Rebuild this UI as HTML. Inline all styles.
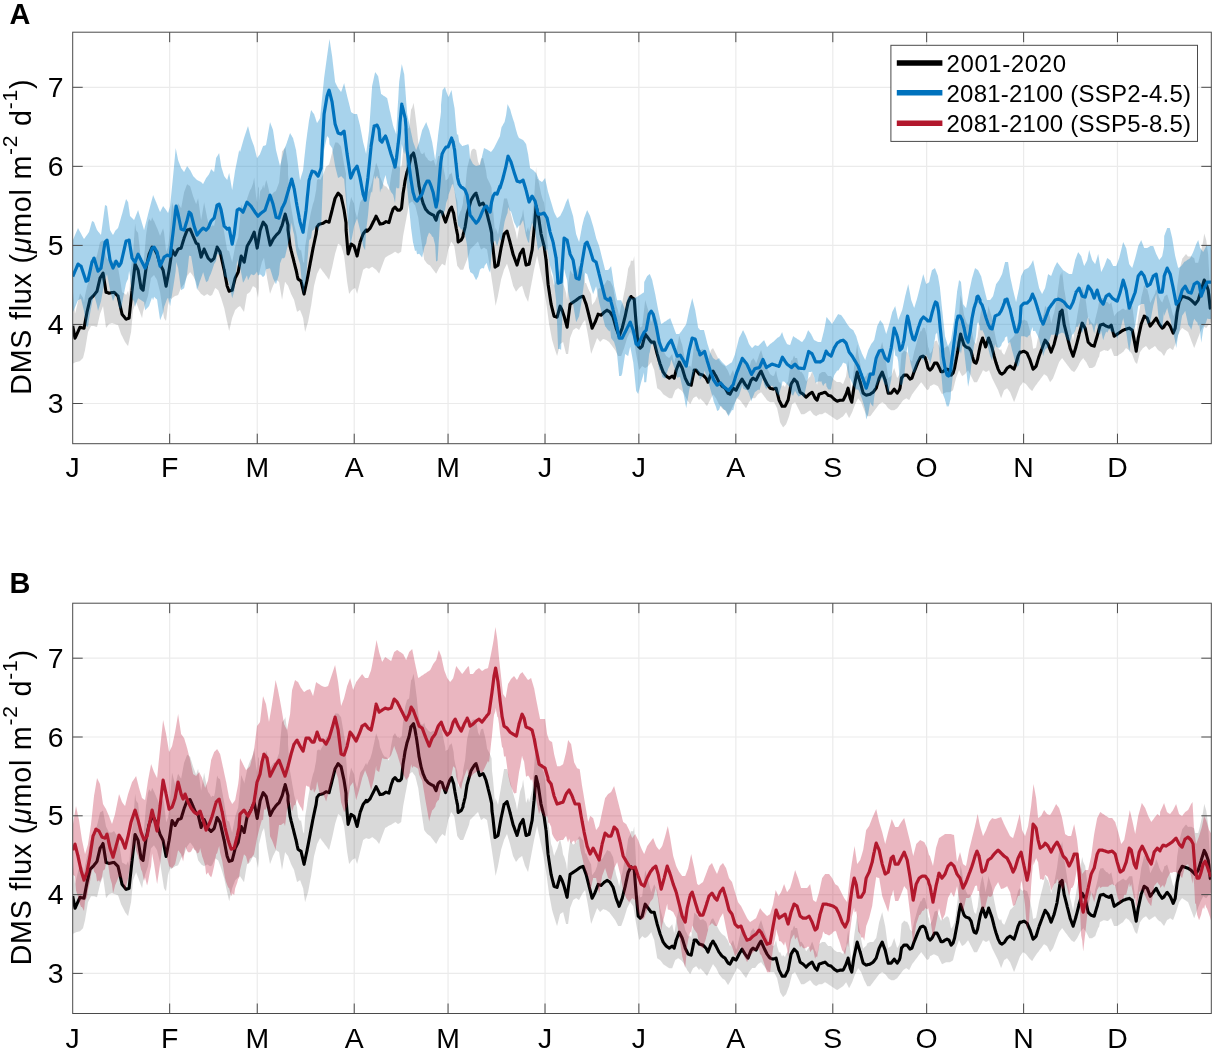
<!DOCTYPE html>
<html><head><meta charset="utf-8"><style>
html,body{margin:0;padding:0;background:#fff;}
svg{display:block;font-family:"Liberation Sans",sans-serif;will-change:transform;}
</style></head><body>
<svg width="1216" height="1049" viewBox="0 0 1216 1049">
<defs>
<clipPath id="ca"><rect x="72.7" y="32.2" width="1138.60" height="411.50"/></clipPath>
<clipPath id="cb"><rect x="72.7" y="603.2" width="1138.60" height="410.30"/></clipPath>
</defs>
<rect width="1216" height="1049" fill="#fff"/>
<text x="9.5" y="24" font-size="28.9" font-weight="bold">A</text>
<text x="9.5" y="592.7" font-size="28.9" font-weight="bold">B</text>
<line x1="169.67" y1="32.2" x2="169.67" y2="443.7" stroke="#ebebeb" stroke-width="1.2"/>
<line x1="257.25" y1="32.2" x2="257.25" y2="443.7" stroke="#ebebeb" stroke-width="1.2"/>
<line x1="354.22" y1="32.2" x2="354.22" y2="443.7" stroke="#ebebeb" stroke-width="1.2"/>
<line x1="448.06" y1="32.2" x2="448.06" y2="443.7" stroke="#ebebeb" stroke-width="1.2"/>
<line x1="545.03" y1="32.2" x2="545.03" y2="443.7" stroke="#ebebeb" stroke-width="1.2"/>
<line x1="638.87" y1="32.2" x2="638.87" y2="443.7" stroke="#ebebeb" stroke-width="1.2"/>
<line x1="735.84" y1="32.2" x2="735.84" y2="443.7" stroke="#ebebeb" stroke-width="1.2"/>
<line x1="832.81" y1="32.2" x2="832.81" y2="443.7" stroke="#ebebeb" stroke-width="1.2"/>
<line x1="926.65" y1="32.2" x2="926.65" y2="443.7" stroke="#ebebeb" stroke-width="1.2"/>
<line x1="1023.62" y1="32.2" x2="1023.62" y2="443.7" stroke="#ebebeb" stroke-width="1.2"/>
<line x1="1117.46" y1="32.2" x2="1117.46" y2="443.7" stroke="#ebebeb" stroke-width="1.2"/>
<line x1="72.7" y1="403.50" x2="1211.3" y2="403.50" stroke="#ebebeb" stroke-width="1.2"/>
<line x1="72.7" y1="324.45" x2="1211.3" y2="324.45" stroke="#ebebeb" stroke-width="1.2"/>
<line x1="72.7" y1="245.40" x2="1211.3" y2="245.40" stroke="#ebebeb" stroke-width="1.2"/>
<line x1="72.7" y1="166.35" x2="1211.3" y2="166.35" stroke="#ebebeb" stroke-width="1.2"/>
<line x1="72.7" y1="87.30" x2="1211.3" y2="87.30" stroke="#ebebeb" stroke-width="1.2"/>
<line x1="169.67" y1="603.2" x2="169.67" y2="1013.5" stroke="#ebebeb" stroke-width="1.2"/>
<line x1="257.25" y1="603.2" x2="257.25" y2="1013.5" stroke="#ebebeb" stroke-width="1.2"/>
<line x1="354.22" y1="603.2" x2="354.22" y2="1013.5" stroke="#ebebeb" stroke-width="1.2"/>
<line x1="448.06" y1="603.2" x2="448.06" y2="1013.5" stroke="#ebebeb" stroke-width="1.2"/>
<line x1="545.03" y1="603.2" x2="545.03" y2="1013.5" stroke="#ebebeb" stroke-width="1.2"/>
<line x1="638.87" y1="603.2" x2="638.87" y2="1013.5" stroke="#ebebeb" stroke-width="1.2"/>
<line x1="735.84" y1="603.2" x2="735.84" y2="1013.5" stroke="#ebebeb" stroke-width="1.2"/>
<line x1="832.81" y1="603.2" x2="832.81" y2="1013.5" stroke="#ebebeb" stroke-width="1.2"/>
<line x1="926.65" y1="603.2" x2="926.65" y2="1013.5" stroke="#ebebeb" stroke-width="1.2"/>
<line x1="1023.62" y1="603.2" x2="1023.62" y2="1013.5" stroke="#ebebeb" stroke-width="1.2"/>
<line x1="1117.46" y1="603.2" x2="1117.46" y2="1013.5" stroke="#ebebeb" stroke-width="1.2"/>
<line x1="72.7" y1="973.40" x2="1211.3" y2="973.40" stroke="#ebebeb" stroke-width="1.2"/>
<line x1="72.7" y1="894.60" x2="1211.3" y2="894.60" stroke="#ebebeb" stroke-width="1.2"/>
<line x1="72.7" y1="815.80" x2="1211.3" y2="815.80" stroke="#ebebeb" stroke-width="1.2"/>
<line x1="72.7" y1="737.00" x2="1211.3" y2="737.00" stroke="#ebebeb" stroke-width="1.2"/>
<line x1="72.7" y1="658.20" x2="1211.3" y2="658.20" stroke="#ebebeb" stroke-width="1.2"/>
<g clip-path="url(#ca)">
<polygon points="72.7,288.1 73.0,291.4 74.0,302.6 75.0,313.8 75.0,313.8 76.0,309.9 76.0,309.9 77.0,305.7 78.0,301.6 79.0,297.4 80.0,293.3 80.0,293.3 81.0,294.8 82.0,296.3 83.0,297.8 83.0,297.8 84.0,302.2 84.0,302.3 85.0,295.7 85.0,295.6 86.0,291.0 87.0,286.3 87.0,286.3 88.0,283.6 88.0,283.6 89.0,277.0 90.0,270.4 90.0,270.2 91.0,270.2 91.0,270.2 92.0,268.3 93.0,266.3 93.0,266.2 94.0,263.8 94.0,263.7 95.0,261.0 96.0,258.1 97.0,255.3 97.0,255.2 98.0,251.0 99.0,246.7 100.0,242.3 100.0,242.2 101.0,241.6 102.0,240.9 103.0,240.2 103.0,240.2 104.0,245.4 105.0,250.7 106.0,256.0 106.0,256.2 107.0,258.2 108.0,260.2 109.0,262.2 109.0,262.2 110.0,262.2 111.0,262.1 112.0,262.0 112.0,262.0 113.0,261.3 114.0,260.6 114.0,260.6 115.0,262.2 115.0,262.2 116.0,263.8 117.0,265.5 118.0,267.2 118.0,267.2 119.0,273.0 120.0,279.0 121.0,285.0 121.0,285.3 122.0,291.9 122.1,292.3 123.0,292.7 124.0,293.2 125.0,293.7 125.1,293.8 126.0,294.9 126.1,294.9 127.0,293.0 128.0,291.0 128.1,290.9 129.0,294.7 129.1,294.9 130.0,281.7 131.0,267.7 131.1,266.9 132.0,259.7 132.1,259.2 133.0,253.3 133.1,252.9 134.0,239.1 135.0,224.5 135.1,223.5 136.0,229.8 136.1,230.2 137.0,231.4 138.0,232.8 138.1,232.9 139.0,241.6 139.1,242.2 140.0,250.9 141.0,260.3 141.1,260.9 142.0,260.3 142.1,260.2 143.0,268.2 143.1,268.6 144.0,258.2 145.0,247.0 145.1,246.2 146.0,235.4 146.1,234.5 147.0,228.6 148.0,222.3 148.1,222.0 149.0,219.0 149.1,218.7 150.0,219.9 151.0,221.3 151.1,221.0 152.0,217.6 152.1,217.3 153.0,219.2 154.0,221.2 154.1,221.1 155.0,223.2 156.0,225.6 157.0,227.9 157.1,227.9 158.0,230.3 159.0,233.0 160.0,235.7 160.1,235.7 161.0,233.4 162.0,230.9 163.0,228.4 163.1,228.2 164.0,232.0 165.0,241.1 166.0,250.3 166.1,252.1 167.0,249.6 168.0,247.0 169.0,239.8 169.1,239.1 170.0,230.2 171.0,216.4 172.0,202.6 172.1,202.2 173.0,205.8 174.0,209.8 175.0,213.8 175.1,214.2 176.0,210.9 177.0,207.2 178.0,203.6 178.1,203.2 179.0,204.7 180.0,206.3 181.0,208.0 181.1,208.2 182.0,203.4 183.0,198.1 184.0,192.8 184.1,192.2 185.0,189.8 186.0,187.1 187.0,184.5 187.1,184.2 188.0,184.7 189.0,185.4 190.0,186.1 190.1,186.2 191.0,189.1 192.0,192.4 193.0,195.8 193.1,196.2 194.0,198.5 195.0,201.2 196.0,203.8 196.1,204.2 197.0,201.5 198.0,198.5 198.1,198.2 199.0,204.6 200.0,211.9 201.0,219.2 201.1,220.2 202.0,215.0 203.0,209.0 204.0,203.0 204.1,202.2 205.0,206.7 206.0,211.8 207.0,217.0 207.1,217.7 208.0,221.0 208.1,221.5 209.0,222.7 210.0,224.0 210.1,224.2 211.0,226.3 211.1,226.7 212.0,225.4 212.1,225.2 213.0,225.5 214.0,225.8 214.1,225.9 215.0,221.6 215.1,220.9 216.0,214.0 217.0,206.0 217.1,204.8 218.0,207.1 218.1,207.5 219.0,208.1 220.0,208.7 220.1,208.8 221.0,214.2 221.1,215.2 222.0,220.0 223.0,225.7 224.0,231.3 224.2,232.2 225.0,237.3 226.0,243.3 227.0,249.3 227.2,250.2 228.0,250.6 229.0,251.1 229.2,251.2 230.0,254.3 231.0,258.0 232.0,261.6 232.2,262.2 233.0,257.8 234.0,252.4 235.0,247.1 235.2,246.2 236.0,243.7 237.0,240.7 238.0,237.7 238.2,237.2 239.0,228.6 240.0,218.6 241.0,206.5 241.2,204.4 242.0,206.5 243.0,209.0 244.0,211.5 244.0,211.5 244.2,213.2 245.0,209.3 246.0,204.7 247.0,200.0 247.0,200.0 247.2,198.3 248.0,195.9 249.0,193.1 250.0,190.3 250.0,190.2 250.2,190.0 251.0,188.8 251.2,188.5 252.0,186.3 253.0,183.6 253.0,183.6 253.2,182.7 254.0,178.3 254.2,177.4 255.0,185.5 256.0,195.5 256.0,195.7 256.2,196.7 257.0,201.3 257.2,202.3 258.0,188.5 258.0,188.2 259.0,186.2 259.0,200.4 259.2,199.1 260.0,192.6 260.0,192.4 260.2,191.1 261.0,190.0 262.0,188.7 262.0,188.7 262.2,188.1 263.0,185.4 263.0,185.3 263.2,184.8 264.0,188.6 264.0,188.7 265.0,184.8 265.2,184.0 266.0,180.7 266.0,180.6 266.2,180.0 267.0,182.2 267.0,182.3 268.0,186.3 268.2,187.1 269.0,190.5 269.6,193.1 270.0,194.6 270.0,194.8 270.2,196.8 271.0,195.7 271.2,195.5 272.0,194.4 272.0,194.4 273.0,193.1 273.0,193.0 273.2,192.7 274.0,192.2 274.2,192.1 275.0,191.5 275.0,191.5 276.0,190.9 276.0,190.8 276.2,190.3 277.0,188.2 277.2,187.6 278.0,185.5 278.0,185.4 279.0,182.8 279.0,182.7 279.2,181.4 280.0,172.9 280.2,170.7 281.0,162.2 282.0,151.5 282.0,151.1 282.2,151.3 283.0,150.3 283.2,150.0 284.0,148.9 285.0,147.6 285.0,147.6 285.2,146.1 286.0,151.4 286.2,152.8 287.0,158.0 288.0,164.7 288.0,174.2 288.2,176.4 289.0,186.8 289.2,189.7 290.0,200.2 290.1,200.8 291.0,205.9 291.1,206.2 291.2,207.2 292.0,211.9 292.1,212.2 292.2,213.2 293.0,217.8 293.1,218.2 294.0,223.8 294.1,224.2 294.2,224.8 295.0,227.9 296.0,231.9 296.1,232.1 296.2,233.0 297.0,236.9 297.1,237.1 297.2,238.8 298.0,246.3 298.1,246.8 299.0,248.7 299.1,248.8 300.0,250.7 300.1,250.8 300.2,250.6 301.0,249.6 301.1,249.5 301.2,250.5 302.0,255.1 302.1,255.5 303.0,261.1 303.1,261.5 304.0,263.0 304.1,263.1 304.2,260.4 304.5,256.6 305.0,247.8 305.1,246.7 306.0,241.1 307.0,235.2 307.1,234.8 307.2,233.5 308.0,227.9 308.1,227.4 309.0,222.5 310.0,217.2 310.1,216.8 310.2,215.9 311.0,211.8 311.1,211.5 312.0,207.8 313.0,203.8 313.1,203.5 314.0,201.0 314.1,200.8 315.0,195.9 316.0,190.6 316.1,190.2 317.0,179.8 317.1,179.9 318.0,179.3 319.0,178.7 319.1,178.6 320.0,180.0 320.1,180.1 321.0,178.4 322.0,176.6 322.1,176.4 323.0,174.8 323.1,174.6 324.0,172.2 325.0,169.5 325.1,169.3 326.0,166.8 326.1,166.6 327.0,166.0 328.0,165.3 328.1,165.2 329.0,164.6 329.1,164.6 330.0,160.9 331.0,156.9 331.1,156.6 332.0,153.0 332.1,152.6 333.0,149.6 333.1,149.3 334.0,146.3 335.0,142.9 335.1,142.6 336.0,142.6 337.0,142.6 338.0,142.7 338.1,142.7 339.0,143.9 340.0,145.2 340.1,145.3 341.0,146.5 341.1,146.7 342.0,152.0 343.0,158.0 343.1,158.6 344.0,164.0 344.1,164.6 345.0,168.8 345.1,169.3 346.0,173.4 346.1,186.9 347.0,200.6 347.1,202.2 348.0,218.3 348.1,220.2 349.0,208.9 349.1,207.5 350.0,202.7 351.0,197.4 351.1,196.8 352.0,199.2 352.1,199.5 353.0,201.3 353.7,202.7 354.0,203.3 354.1,203.5 355.0,210.0 355.1,210.9 356.0,214.1 357.0,217.7 357.1,218.2 358.0,213.5 359.0,208.2 360.0,202.8 360.1,202.2 361.0,201.0 362.0,199.7 363.0,198.4 363.1,198.2 364.0,196.5 365.0,194.5 366.0,192.5 366.1,192.2 367.0,194.6 368.0,192.3 369.0,189.9 369.1,189.6 370.0,188.5 370.1,188.3 371.0,185.4 372.0,182.1 372.1,181.6 373.0,177.5 373.1,176.9 374.0,172.7 375.0,168.0 376.0,163.2 376.1,162.6 377.0,164.9 378.0,167.6 379.0,170.2 379.1,170.6 380.0,176.7 381.0,179.0 382.0,181.4 382.1,181.7 383.0,183.7 383.0,183.7 383.1,183.9 384.0,185.1 385.0,186.4 385.1,186.6 386.0,186.0 386.0,186.0 386.1,186.2 387.0,187.4 388.0,188.7 388.1,188.9 389.0,189.9 389.0,189.9 389.1,188.9 390.0,183.0 391.0,176.0 391.0,175.9 392.0,170.4 392.2,169.6 393.0,165.1 393.0,165.0 394.0,163.7 395.0,162.4 395.0,162.4 395.2,162.8 396.0,164.3 397.0,166.0 397.5,166.9 398.0,166.6 398.2,166.4 399.0,167.0 400.0,167.7 400.0,167.7 401.0,165.7 401.2,165.4 401.5,167.3 402.0,162.3 403.0,151.6 403.0,151.4 403.2,150.7 404.0,144.3 404.2,143.0 405.0,136.6 405.0,136.4 406.0,132.9 406.2,132.3 407.0,129.2 407.0,129.1 407.2,129.0 408.0,128.5 409.0,127.8 409.0,127.8 409.2,127.2 410.0,119.4 410.2,117.8 411.0,110.1 411.0,109.8 412.0,108.1 412.2,107.8 413.0,104.7 413.2,104.1 413.5,102.7 414.0,105.8 415.0,112.5 415.0,112.7 415.2,114.2 416.0,120.8 416.2,122.2 417.0,128.8 417.0,129.1 418.0,139.7 418.2,141.6 419.0,147.9 419.0,148.2 419.2,148.6 420.0,150.8 421.0,153.4 421.0,153.5 421.2,153.5 422.0,153.7 422.2,153.8 422.5,153.9 423.0,154.0 423.0,154.0 423.2,153.8 424.0,152.2 424.2,151.9 425.0,154.7 425.2,155.4 425.5,156.6 426.0,157.1 426.2,157.3 427.0,158.1 427.2,158.3 428.0,159.8 428.0,159.8 428.2,159.9 429.0,160.5 429.2,160.6 430.0,161.1 430.2,161.3 431.0,161.3 431.1,161.3 431.2,161.2 432.0,160.7 432.2,160.6 433.0,160.2 433.2,160.1 433.6,159.9 434.0,161.1 434.2,161.6 435.0,163.8 435.2,164.3 436.0,166.4 436.1,166.6 436.2,165.4 437.0,161.4 437.2,160.4 438.0,156.4 438.1,156.1 438.2,156.1 439.0,156.1 439.2,156.1 440.0,155.6 440.1,155.5 440.2,155.9 441.0,157.7 441.2,158.2 442.0,160.1 442.1,160.2 442.2,161.3 443.0,165.5 443.2,166.6 444.0,170.8 444.1,171.2 444.2,171.8 445.0,175.5 445.2,176.5 445.6,180.4 446.0,180.1 446.2,179.9 447.0,179.4 447.6,179.1 448.0,178.8 448.2,178.6 449.0,176.0 449.2,175.3 449.6,174.1 450.0,174.0 451.0,173.6 451.2,173.6 451.6,172.0 451.8,173.1 452.0,174.0 452.2,175.0 453.0,178.7 453.6,181.3 454.0,185.9 454.2,188.2 455.0,192.4 455.1,192.7 455.2,193.3 456.0,196.4 456.2,197.3 456.6,198.7 457.0,200.0 457.2,200.7 457.6,203.8 458.0,214.6 458.2,216.9 459.0,214.8 460.0,212.2 460.2,211.6 461.0,210.5 461.2,210.2 462.0,207.1 463.0,203.1 463.1,200.2 463.2,199.1 464.0,195.1 464.2,193.9 465.0,189.8 465.1,189.4 466.0,180.0 466.2,177.6 467.0,169.6 467.1,168.7 467.2,168.1 468.0,164.8 469.0,160.5 469.1,160.1 469.2,159.5 470.0,158.1 470.2,156.8 471.0,152.1 471.1,151.6 472.0,149.5 472.2,149.4 473.0,149.0 473.0,149.0 473.2,148.9 474.0,148.5 474.0,148.5 474.1,148.4 475.0,149.2 475.2,149.4 476.0,150.0 476.0,150.0 476.1,149.7 476.2,150.6 477.0,155.3 478.0,161.5 478.0,161.5 478.1,161.8 478.2,162.1 479.0,163.7 479.0,163.7 479.6,165.0 480.0,162.7 480.0,162.5 481.0,158.7 481.0,158.6 481.1,158.6 482.0,158.3 483.0,157.9 483.1,157.9 484.0,162.1 484.0,162.2 484.6,164.1 485.0,166.0 486.0,170.6 486.1,171.1 487.0,177.7 487.0,177.8 488.0,179.8 488.1,180.0 489.0,181.7 490.0,183.7 490.0,183.8 490.1,183.9 491.0,186.2 491.6,187.9 492.0,200.3 493.0,208.3 493.0,208.4 494.0,220.2 495.0,232.3 495.0,232.6 495.6,227.6 496.0,228.7 496.0,228.7 497.0,231.5 498.0,234.4 498.0,234.4 499.0,228.6 499.0,228.5 500.0,222.6 501.0,216.7 501.0,216.5 502.0,210.7 502.0,210.5 503.0,204.7 504.0,198.7 504.0,198.5 505.0,198.5 505.0,198.5 506.0,198.5 507.0,198.5 507.0,198.5 508.0,202.4 508.0,202.5 509.0,206.3 510.0,210.3 510.0,210.5 511.0,214.3 511.0,214.5 512.0,218.3 513.0,222.3 513.0,222.5 514.0,225.8 514.0,226.0 515.0,229.3 516.0,232.8 516.0,233.0 517.0,239.5 517.0,239.8 518.0,234.1 519.0,228.1 519.0,227.8 520.0,221.5 520.1,221.1 521.0,218.6 522.0,215.9 522.1,215.8 523.0,209.5 523.1,209.1 524.0,216.0 525.0,223.4 525.1,223.8 526.0,232.0 526.1,232.4 527.0,229.9 528.0,227.2 528.1,227.1 529.0,231.5 529.1,231.8 530.0,228.0 531.0,224.0 531.1,223.8 532.0,220.1 532.1,220.0 533.0,209.8 534.0,198.8 534.1,198.1 535.0,183.5 536.0,167.9 536.1,166.9 537.0,178.5 537.1,179.1 538.0,178.7 538.1,178.7 539.0,183.3 540.0,188.2 540.1,188.6 541.0,193.2 541.1,193.8 542.0,196.9 543.0,200.2 543.1,200.4 544.0,202.3 544.1,202.4 545.0,209.8 546.0,217.8 546.1,218.4 547.0,233.8 548.0,250.4 548.1,251.7 549.0,257.2 549.1,257.7 550.0,265.1 551.0,273.0 551.1,273.7 552.0,276.1 552.1,276.3 553.0,280.6 554.0,285.3 554.1,285.7 555.0,283.2 555.1,283.0 556.0,280.8 557.0,278.5 557.1,278.3 557.5,277.0 558.0,275.3 559.0,271.9 560.0,268.6 560.1,268.3 561.0,272.6 562.0,277.2 562.1,277.7 563.0,283.7 563.1,284.3 564.0,286.2 564.1,286.3 565.0,289.3 566.0,292.7 566.1,293.0 567.0,299.6 567.1,300.3 567.7,291.1 568.0,286.5 568.1,285.0 569.0,278.4 570.0,271.1 570.1,270.3 571.0,271.6 572.0,272.9 573.0,274.2 573.1,274.4 574.0,273.8 575.0,273.1 576.0,272.5 576.1,272.4 577.0,270.4 578.0,268.3 579.0,266.1 579.1,265.9 580.0,266.3 580.1,266.4 581.0,267.6 582.0,268.9 582.1,269.1 583.0,269.7 583.1,269.7 584.0,275.6 585.0,282.3 585.1,283.1 586.0,283.1 586.1,283.1 587.0,285.4 588.0,288.1 588.1,288.4 589.0,290.1 589.1,290.4 590.0,292.1 590.1,292.3 591.0,294.1 591.1,294.3 592.0,303.7 592.1,305.0 592.5,304.5 593.0,303.8 594.0,302.5 594.1,302.4 595.0,301.2 595.1,301.0 596.0,298.7 597.0,296.0 597.1,295.7 598.0,289.9 598.1,289.0 599.0,288.4 600.0,287.8 600.1,287.7 601.0,289.1 601.1,289.4 602.0,288.5 603.0,287.5 603.1,287.4 604.0,285.3 604.1,285.0 605.0,283.6 606.0,281.9 606.1,281.7 607.0,280.0 607.1,279.7 608.0,280.3 608.1,280.3 609.0,280.9 609.1,281.0 610.0,281.0 610.1,281.0 611.0,282.7 611.1,283.0 612.0,284.7 612.1,285.0 613.0,286.7 613.1,287.0 614.0,292.1 614.1,293.0 615.0,298.1 615.1,299.0 616.0,303.6 616.1,304.3 617.0,307.2 618.0,310.5 618.1,311.0 619.0,315.5 619.1,316.3 620.0,311.8 621.0,306.5 621.2,305.7 622.0,303.4 622.2,303.0 623.0,298.5 624.0,293.2 624.2,292.3 625.0,288.4 625.2,287.7 626.0,282.6 626.2,281.7 627.0,276.6 627.2,275.7 628.0,269.5 628.2,268.4 629.0,266.7 630.0,264.7 630.2,264.4 631.0,259.9 631.2,260.8 632.0,260.8 633.0,260.8 633.2,260.8 634.0,256.9 634.2,256.1 635.0,272.0 636.0,291.0 636.2,294.1 637.0,308.0 638.0,324.7 638.2,327.5 639.0,324.7 639.2,324.1 640.0,326.9 640.2,327.4 641.0,326.9 642.0,326.2 642.2,326.1 643.0,318.9 644.0,310.3 645.0,301.6 645.2,300.1 646.0,302.8 646.2,303.4 647.0,306.2 648.0,309.5 648.2,310.1 649.0,313.4 650.0,317.4 650.2,318.1 651.0,321.4 651.2,322.1 652.0,319.9 653.0,317.3 654.0,314.6 654.2,314.1 655.0,315.7 656.0,317.7 657.0,319.7 657.2,320.0 658.0,324.9 659.0,330.9 660.0,336.9 660.2,338.1 661.0,341.3 662.0,345.3 663.0,349.3 663.2,350.0 664.0,351.7 665.0,353.7 666.0,355.7 666.2,356.0 667.0,356.6 668.0,357.2 669.0,357.9 669.2,358.0 670.0,357.0 670.2,356.7 671.0,355.6 672.0,354.3 672.2,354.0 673.0,357.8 673.2,358.7 674.0,362.4 674.2,363.4 675.0,359.2 675.2,358.1 676.0,352.2 676.2,350.7 677.0,347.0 678.0,342.4 678.2,341.4 679.0,336.6 679.2,335.4 680.0,338.0 681.0,341.4 681.2,342.1 682.0,344.2 682.2,344.7 683.0,348.9 684.0,354.2 684.2,355.4 685.0,359.1 685.2,360.1 686.0,361.6 687.0,363.6 687.2,364.0 688.0,366.1 688.2,366.7 689.0,366.2 690.0,365.5 690.2,365.4 691.0,367.5 691.2,368.0 692.0,361.8 693.0,353.8 693.2,352.0 694.0,344.8 694.2,342.7 695.0,343.2 696.0,343.9 696.2,344.0 697.0,345.1 698.0,346.4 699.0,347.7 699.2,348.0 700.0,350.1 700.2,350.0 701.0,349.7 702.0,349.4 702.2,349.3 703.0,349.0 703.0,349.0 704.0,350.0 704.0,350.0 704.2,350.2 705.0,350.7 705.2,350.9 706.0,351.4 706.0,351.4 707.0,354.0 707.0,354.0 707.2,355.4 708.0,360.0 708.0,360.0 708.2,359.3 709.0,356.7 709.0,356.7 710.0,353.4 710.0,353.4 710.0,353.3 711.0,350.1 711.0,350.1 712.0,349.1 712.0,349.1 713.0,348.1 713.0,348.1 714.0,350.0 715.0,352.0 715.0,352.1 716.0,354.0 716.0,354.1 717.0,356.0 718.0,358.0 718.0,358.1 719.0,360.0 719.0,360.0 720.0,361.4 721.0,362.7 721.0,362.7 722.0,364.0 722.0,364.0 723.0,364.7 724.0,365.4 724.0,365.4 725.0,366.0 725.0,366.0 726.0,367.7 727.0,369.3 728.0,371.0 728.0,371.0 729.0,373.6 730.0,376.3 730.0,376.4 731.0,374.1 731.0,374.0 732.0,372.1 733.0,370.1 733.0,370.1 734.0,373.3 734.0,373.4 735.0,376.6 736.0,380.0 736.0,380.1 737.0,378.2 737.0,378.1 738.0,373.6 738.0,373.4 739.0,368.9 739.0,368.7 740.0,364.9 740.0,364.7 741.0,360.2 741.0,360.1 742.0,355.6 742.0,355.4 743.0,357.3 743.0,357.4 744.0,359.3 744.0,359.4 745.0,361.3 745.0,361.4 746.0,362.6 746.0,362.7 747.0,367.2 747.0,367.4 748.0,371.8 748.0,372.1 749.0,368.9 749.0,368.7 750.0,364.9 750.1,364.7 751.0,360.9 751.1,360.7 752.0,360.1 752.1,360.1 753.0,358.2 753.1,358.1 754.0,359.3 755.0,360.7 755.1,360.7 756.0,363.3 756.1,363.4 757.0,360.9 758.0,358.2 758.1,358.1 759.0,354.9 759.1,354.7 760.0,352.5 761.0,350.2 761.1,350.1 762.0,353.2 762.1,353.4 763.0,356.5 764.0,359.9 764.1,360.1 765.0,362.6 765.1,362.7 766.0,365.2 767.0,367.9 767.1,368.1 768.0,369.9 768.1,370.1 769.0,371.9 770.0,373.9 770.1,374.1 771.0,374.7 771.1,374.7 772.0,375.4 773.0,376.0 773.1,376.1 774.0,375.5 774.1,375.4 775.0,372.9 776.0,370.3 776.1,370.1 777.0,375.6 777.1,376.1 778.0,379.1 779.0,382.4 779.1,382.7 780.0,382.1 780.1,382.0 781.0,384.2 782.0,386.5 782.1,386.7 783.0,385.1 783.1,385.0 784.0,385.9 785.0,386.9 785.1,387.0 786.0,384.3 786.1,384.0 787.0,382.8 788.0,381.5 788.1,381.4 789.0,374.1 789.1,373.4 790.0,367.3 791.0,360.6 791.1,360.0 792.0,360.7 792.1,360.7 793.0,358.3 794.0,355.6 794.1,355.4 795.0,357.8 795.1,358.1 796.0,358.0 797.0,358.0 797.1,358.0 798.0,362.2 798.1,362.7 799.0,366.9 800.0,371.6 800.1,372.0 801.0,371.4 801.1,371.4 802.0,372.6 803.0,373.9 803.1,374.0 804.0,375.8 804.1,376.0 805.0,378.4 806.0,381.1 806.1,381.4 807.0,380.2 807.1,380.0 808.0,378.9 809.0,377.5 809.1,377.4 810.0,376.8 810.1,376.7 811.0,374.3 812.0,371.7 812.1,371.4 813.0,373.7 813.1,374.0 814.0,377.0 815.0,380.3 815.1,380.7 816.0,381.9 816.1,382.0 817.0,384.4 817.1,384.7 818.0,380.0 818.1,379.4 819.0,374.7 819.1,374.0 820.0,373.4 821.0,372.8 821.1,372.7 822.0,372.1 822.1,372.0 823.0,372.0 824.0,372.0 824.1,372.0 825.0,372.0 825.1,372.0 826.0,373.2 827.0,374.5 827.1,374.7 828.0,375.9 828.1,376.0 829.0,376.0 830.0,376.0 830.1,376.0 831.0,376.0 831.1,376.0 832.0,377.2 833.0,378.5 833.1,378.7 834.0,379.8 834.1,380.0 835.0,380.6 836.0,381.3 836.1,381.4 837.0,381.9 837.1,382.0 838.0,382.0 839.0,382.0 839.1,382.0 840.0,382.0 840.1,382.0 841.0,382.6 842.0,383.3 842.1,383.4 843.0,383.9 843.1,384.0 844.0,381.8 845.0,379.1 845.1,378.7 846.0,376.4 846.1,376.0 847.0,369.2 848.0,361.2 848.1,360.0 849.0,366.8 849.1,368.0 850.0,378.2 850.2,380.0 851.0,386.0 851.2,387.0 851.8,391.3 852.0,388.4 852.2,386.7 853.0,377.7 854.0,367.0 854.2,365.4 855.0,359.7 855.2,358.7 856.0,352.5 857.0,345.2 857.2,344.0 858.0,351.4 858.2,352.7 859.0,357.2 860.0,362.5 860.2,363.4 861.0,368.4 861.2,369.4 862.0,373.3 863.0,378.0 863.2,378.7 864.0,377.6 864.2,377.4 865.0,376.8 866.0,376.1 866.2,376.0 867.0,373.9 867.2,373.5 868.0,373.1 869.0,372.6 869.2,372.5 870.0,372.1 870.2,372.0 871.0,372.0 872.0,372.0 872.2,372.0 873.0,372.0 873.2,372.0 874.0,370.9 875.0,369.6 876.0,368.3 876.2,368.0 877.0,363.7 878.0,358.3 879.0,353.0 879.2,352.0 880.0,349.3 881.0,346.0 882.0,342.6 882.2,342.0 883.0,345.9 884.0,350.5 885.0,355.2 885.2,356.0 886.0,362.0 887.0,369.3 888.0,376.7 888.2,378.1 889.0,377.5 890.0,376.8 891.0,376.2 891.2,376.0 892.0,373.9 893.0,371.2 894.0,368.6 894.2,368.0 895.0,370.7 896.0,374.1 897.0,377.4 897.2,378.1 898.0,376.7 899.0,375.1 899.2,374.7 900.0,371.7 900.2,369.3 901.0,359.7 901.5,353.6 902.0,353.1 902.0,353.1 902.2,352.9 903.0,352.0 903.2,351.8 904.0,350.5 904.0,350.4 904.5,350.8 905.0,351.1 905.2,351.2 906.0,351.8 906.2,351.9 907.0,351.4 907.0,351.4 908.0,353.4 908.2,353.8 909.0,355.4 909.2,355.8 909.5,357.2 910.0,359.5 910.0,359.5 911.0,360.5 911.2,360.7 912.0,361.5 912.0,361.5 912.2,360.7 913.0,357.1 914.0,352.4 914.0,352.3 914.2,351.6 914.5,350.5 915.0,348.7 915.2,347.9 916.0,345.1 916.0,345.0 917.0,341.4 917.2,340.6 917.5,339.5 918.0,337.7 918.0,337.7 918.2,337.1 919.0,335.1 920.0,332.4 920.2,331.8 920.5,331.0 921.0,331.3 921.2,331.4 922.0,329.7 923.0,327.6 923.0,327.5 923.2,327.6 924.0,327.7 924.2,327.7 925.0,327.9 925.0,327.9 925.5,330.2 926.0,332.4 926.2,333.5 926.5,334.9 927.0,338.0 927.0,338.2 927.2,339.5 928.0,346.2 928.0,346.5 929.0,349.1 929.0,349.1 929.2,350.1 930.0,353.9 930.0,353.9 930.2,353.6 931.0,352.5 931.0,352.4 932.0,351.0 932.0,350.9 932.2,350.2 933.0,347.5 933.0,347.5 933.0,347.4 933.2,346.7 934.0,344.0 934.0,344.0 934.5,341.6 935.0,341.4 935.2,341.3 935.5,341.1 936.0,340.9 936.0,340.9 936.2,340.8 937.0,340.4 937.0,340.4 938.0,343.8 938.0,343.8 938.0,343.8 938.2,344.2 939.0,345.8 939.0,345.8 940.0,348.2 940.0,348.3 941.0,350.7 941.0,350.8 941.0,350.8 942.0,348.9 942.0,348.9 942.0,348.9 943.0,349.4 943.0,349.4 944.0,348.4 944.0,348.4 944.0,348.4 945.0,347.5 945.0,347.4 946.0,346.9 946.0,346.9 946.5,346.4 947.0,345.9 947.0,345.9 947.0,345.9 948.0,346.8 949.0,347.8 949.0,347.9 950.0,352.6 950.0,352.7 951.0,358.3 951.1,358.6 951.6,357.9 952.0,357.3 953.0,356.0 953.0,356.0 953.1,356.0 954.0,353.5 954.1,353.4 954.6,352.0 955.0,349.1 955.6,345.4 956.0,342.4 956.0,342.3 956.1,342.0 957.0,334.5 957.1,334.0 957.6,330.0 958.0,325.3 959.0,314.6 959.0,314.3 959.1,313.9 960.0,301.9 960.0,301.6 960.6,294.8 961.0,296.9 961.0,297.0 961.1,297.2 962.0,301.5 962.0,301.7 962.1,301.9 963.0,308.2 963.0,308.4 963.1,308.6 964.0,314.8 964.0,315.1 964.1,315.3 965.0,317.8 965.0,317.9 965.1,318.0 966.0,321.1 966.0,321.2 966.1,321.3 967.0,323.2 967.0,323.2 967.1,323.3 968.0,325.2 968.0,325.3 969.0,324.0 969.0,323.9 969.1,323.9 970.0,324.8 970.0,324.8 970.6,325.4 971.0,325.8 971.0,325.8 971.1,325.9 972.0,331.4 972.0,331.7 972.1,331.9 972.6,334.9 973.0,336.9 973.0,337.1 974.0,341.5 974.0,341.7 974.1,341.9 975.0,342.8 975.0,342.9 976.0,343.8 976.0,343.9 976.1,343.9 977.0,339.0 977.0,338.7 977.6,337.0 978.0,333.3 978.0,332.9 978.1,332.6 979.0,324.7 979.0,324.2 979.1,324.0 980.0,317.2 980.0,317.2 980.1,316.9 980.1,316.6 980.6,313.0 981.0,311.3 981.1,311.1 982.0,307.3 982.1,307.1 982.1,307.0 982.6,305.0 983.0,308.0 983.1,308.4 984.0,312.8 984.0,312.9 984.1,313.1 984.1,313.2 985.0,318.7 985.1,319.1 985.6,322.2 986.0,319.8 986.1,319.4 986.1,319.3 987.0,315.0 987.1,314.8 987.1,314.6 988.0,309.1 988.0,309.1 988.1,308.8 988.1,308.6 988.6,305.6 989.0,308.1 989.1,308.4 990.0,310.9 990.1,311.1 990.1,311.2 991.0,314.2 991.1,314.4 992.0,317.5 992.0,317.6 992.1,317.7 992.1,317.8 993.0,323.3 993.1,323.7 994.0,329.3 994.1,329.7 994.1,329.8 994.6,332.3 995.0,334.4 995.1,334.7 996.0,339.4 996.0,339.5 996.1,339.7 996.1,339.8 997.0,343.5 997.1,343.7 997.1,343.8 998.0,347.4 998.1,347.7 998.1,347.8 999.0,349.0 999.0,349.0 999.1,349.1 999.1,349.1 1000.0,350.3 1000.1,350.4 1000.1,350.5 1001.0,349.0 1001.1,348.8 1001.1,349.0 1002.0,352.3 1002.0,352.4 1002.1,352.5 1002.1,352.6 1003.0,353.6 1003.1,353.7 1003.1,353.7 1004.0,354.7 1004.1,354.8 1004.6,354.3 1005.0,353.3 1005.0,353.2 1005.1,353.1 1005.1,353.0 1006.0,350.7 1006.1,350.5 1007.0,348.2 1007.1,348.0 1007.1,347.9 1008.0,345.5 1008.0,345.4 1008.1,345.3 1009.0,342.8 1009.1,342.6 1009.1,342.5 1010.0,340.1 1010.1,339.9 1010.1,339.8 1011.0,339.0 1011.0,339.0 1011.1,338.9 1011.1,338.9 1012.0,338.1 1012.1,338.0 1012.6,337.5 1013.0,337.1 1014.0,335.9 1014.0,335.9 1014.1,335.8 1014.1,335.9 1015.0,333.0 1015.1,332.7 1016.0,329.7 1016.1,329.3 1017.0,325.5 1017.0,325.3 1017.1,325.1 1018.0,321.1 1018.1,320.7 1018.1,320.6 1019.0,319.3 1020.0,317.7 1020.0,317.7 1020.0,317.8 1020.1,317.9 1021.0,319.6 1021.1,319.5 1022.0,320.1 1023.0,320.7 1023.1,320.8 1024.0,319.6 1024.0,319.5 1024.1,319.5 1025.0,320.1 1026.0,320.7 1026.1,320.8 1027.0,320.8 1027.1,320.8 1027.1,320.8 1028.0,323.8 1029.0,327.1 1029.1,327.5 1030.0,330.8 1030.1,331.0 1030.1,331.1 1031.0,335.6 1032.0,340.6 1032.1,341.1 1033.0,348.0 1033.1,348.5 1033.1,348.8 1034.0,348.5 1035.0,348.2 1035.1,348.2 1036.0,347.6 1036.1,347.5 1036.1,347.5 1037.0,342.7 1038.0,337.4 1038.1,336.8 1039.0,332.1 1039.1,331.7 1039.1,331.5 1040.0,327.9 1041.0,323.9 1041.1,323.5 1042.0,319.9 1042.1,319.7 1042.1,319.5 1043.0,315.9 1044.0,311.9 1044.1,311.5 1045.0,306.2 1045.1,305.8 1045.1,305.5 1046.0,307.2 1047.0,309.2 1047.1,309.5 1048.0,310.1 1048.1,310.1 1048.1,310.1 1049.0,313.1 1050.0,316.4 1050.1,316.8 1051.0,322.7 1051.1,323.2 1051.1,323.5 1052.0,320.0 1053.0,316.0 1053.1,315.5 1054.0,313.1 1054.1,312.9 1054.1,312.8 1055.0,308.2 1056.0,302.8 1056.1,302.2 1057.0,297.5 1057.1,297.1 1057.1,296.8 1058.0,289.4 1059.0,282.5 1059.1,281.6 1060.0,274.4 1060.1,273.7 1060.1,273.3 1061.0,276.0 1062.0,271.6 1062.1,271.0 1063.0,278.8 1063.1,279.5 1064.0,287.7 1064.1,288.9 1065.0,293.3 1065.1,294.2 1066.0,299.9 1066.1,300.5 1067.0,306.6 1067.1,307.5 1068.0,313.3 1068.1,314.2 1069.0,319.9 1069.1,320.5 1070.0,326.6 1070.1,327.5 1071.0,331.0 1071.1,331.5 1072.0,335.5 1072.1,336.0 1073.0,340.2 1073.1,340.9 1074.0,334.6 1074.1,333.5 1075.0,329.0 1075.1,328.4 1076.0,323.6 1076.1,322.8 1077.0,317.2 1077.1,316.2 1078.0,311.1 1078.1,310.5 1079.0,305.1 1079.1,304.2 1080.0,299.6 1080.2,298.8 1081.0,293.8 1081.1,293.1 1082.0,287.8 1082.2,286.8 1083.0,290.8 1083.2,291.5 1084.0,293.2 1084.1,293.4 1085.0,295.2 1085.2,295.5 1086.0,302.3 1086.2,303.5 1087.0,309.7 1087.1,310.5 1088.0,317.0 1088.2,318.2 1089.0,318.2 1089.2,318.2 1090.0,319.9 1090.1,320.1 1091.0,321.9 1091.2,322.2 1092.0,322.7 1092.2,322.9 1093.0,324.0 1093.1,324.1 1094.0,325.3 1094.2,325.5 1095.0,320.5 1095.2,319.5 1096.0,316.2 1096.1,315.7 1097.0,312.2 1097.2,311.5 1098.0,307.7 1098.2,306.9 1099.0,301.9 1099.1,301.1 1100.0,299.5 1100.2,298.3 1101.0,298.2 1101.2,298.1 1102.0,298.0 1102.1,298.0 1103.0,297.8 1103.2,297.8 1104.0,299.3 1104.0,299.3 1104.2,299.5 1105.0,300.4 1105.1,300.5 1106.0,301.5 1106.2,301.7 1107.0,302.0 1107.2,302.1 1108.0,302.4 1108.0,302.4 1108.1,302.6 1109.0,304.1 1109.2,304.4 1110.0,303.6 1110.2,303.4 1111.0,302.6 1111.0,302.6 1111.1,302.0 1111.2,301.8 1112.0,305.6 1113.0,310.2 1113.2,311.1 1114.0,314.9 1114.0,315.0 1114.1,315.9 1114.2,316.2 1115.0,315.1 1116.0,313.8 1116.2,313.5 1117.0,312.5 1117.0,312.4 1117.1,312.4 1117.2,312.3 1118.0,311.8 1119.0,311.1 1119.2,311.0 1120.0,310.5 1120.0,310.4 1120.1,310.4 1120.2,310.3 1121.0,309.8 1122.0,309.1 1122.2,309.0 1123.0,308.5 1123.0,308.4 1123.1,308.4 1123.2,308.4 1124.0,309.0 1125.0,309.7 1125.2,309.8 1126.0,310.3 1126.0,310.3 1126.2,310.2 1126.2,310.1 1127.0,309.0 1128.0,307.7 1128.2,307.4 1129.0,306.4 1129.0,306.3 1129.2,306.1 1129.2,306.0 1130.0,306.0 1131.0,306.0 1131.2,306.0 1132.0,306.0 1132.0,306.0 1132.2,305.8 1132.2,305.8 1133.0,311.6 1134.0,318.9 1134.2,320.4 1135.0,327.0 1135.0,327.3 1135.2,328.6 1136.0,337.0 1136.2,339.0 1137.0,327.9 1137.0,327.4 1137.2,325.9 1138.0,318.8 1138.2,317.3 1138.2,316.9 1139.0,312.7 1139.2,311.6 1140.0,307.4 1140.0,307.1 1140.2,305.8 1141.0,299.5 1141.2,298.1 1141.2,297.8 1142.0,294.6 1142.2,293.8 1143.0,290.6 1143.0,290.5 1143.2,289.7 1144.0,286.0 1144.2,285.2 1144.2,285.0 1145.0,286.6 1145.2,287.0 1146.0,288.6 1146.0,288.7 1146.2,288.7 1147.0,288.7 1147.2,288.7 1147.2,288.7 1148.0,291.8 1148.2,292.7 1149.0,295.8 1149.0,296.0 1149.2,297.0 1150.0,301.7 1150.2,302.7 1150.2,303.0 1151.0,301.4 1151.2,301.0 1152.0,299.4 1152.1,299.3 1152.2,299.0 1153.0,297.5 1153.2,297.1 1153.2,297.0 1154.0,295.5 1154.2,295.0 1155.0,293.5 1155.1,293.3 1155.2,292.7 1156.0,289.6 1156.2,288.8 1156.2,288.7 1157.0,290.7 1157.2,291.3 1158.0,293.4 1158.1,293.5 1158.2,294.1 1159.0,296.7 1159.2,297.3 1159.2,297.4 1160.0,299.0 1160.2,299.4 1161.0,301.0 1161.1,301.1 1161.2,301.3 1162.0,302.3 1162.2,302.6 1162.2,302.7 1163.0,300.6 1163.2,300.0 1164.0,297.9 1164.1,297.3 1164.2,296.4 1164.2,296.4 1165.0,295.9 1165.2,295.7 1166.0,295.2 1166.2,295.1 1167.0,294.5 1167.1,294.5 1167.2,294.3 1167.2,294.4 1168.0,297.0 1168.2,297.7 1169.0,300.3 1170.0,303.6 1170.0,303.8 1170.1,303.9 1170.2,304.1 1171.0,307.3 1172.0,311.3 1173.0,315.3 1173.1,315.6 1173.2,316.5 1174.0,314.7 1175.0,312.3 1175.2,311.9 1176.0,301.2 1176.1,300.2 1176.2,298.6 1177.0,288.5 1177.2,285.9 1178.0,280.6 1179.0,272.7 1179.1,272.1 1179.2,270.9 1180.0,267.7 1181.0,263.8 1182.0,259.9 1182.1,259.5 1182.2,258.8 1183.0,257.8 1184.0,256.5 1185.0,255.3 1185.1,255.2 1185.2,255.0 1186.0,254.0 1187.0,255.3 1188.0,256.5 1188.1,256.6 1188.2,256.5 1189.0,256.5 1190.0,256.4 1191.0,256.3 1191.1,256.3 1191.2,256.3 1192.0,256.8 1193.0,257.4 1194.0,258.0 1194.1,257.9 1194.2,258.1 1195.0,261.7 1195.2,262.7 1196.0,262.7 1197.0,262.7 1197.2,262.7 1198.0,262.7 1198.2,262.7 1199.0,259.6 1200.0,255.6 1200.2,254.7 1201.0,251.1 1201.2,250.1 1202.0,246.4 1203.0,241.8 1203.2,240.7 1204.0,235.0 1204.2,233.4 1205.0,235.9 1206.0,239.3 1206.2,240.0 1207.0,245.7 1208.0,253.0 1208.2,254.7 1209.0,269.6 1209.2,274.1 1210.0,288.6 1210.2,293.1 1211.0,295.4 1211.1,295.7 1211.1,322.3 1211.0,322.4 1210.2,323.1 1210.0,323.4 1209.2,324.1 1209.0,324.4 1208.2,325.5 1208.0,325.8 1207.0,327.1 1206.2,328.1 1206.0,328.0 1205.0,327.3 1204.2,326.8 1204.0,326.6 1203.2,326.1 1203.0,326.6 1202.0,328.6 1201.2,330.1 1201.0,330.6 1200.2,332.1 1200.0,332.7 1199.0,335.4 1198.2,337.5 1198.0,338.1 1197.2,340.1 1197.0,340.7 1196.0,343.4 1195.2,345.5 1195.0,346.1 1194.2,348.1 1194.1,348.1 1194.0,347.8 1193.0,345.1 1192.0,342.5 1191.2,340.4 1191.1,340.0 1191.0,339.8 1190.0,337.1 1189.0,334.4 1188.2,332.3 1188.1,332.0 1188.0,331.9 1187.0,331.3 1186.0,330.6 1185.2,330.1 1185.1,330.0 1185.0,329.9 1184.0,329.3 1183.0,328.6 1182.2,328.1 1182.1,328.0 1182.0,328.1 1181.0,329.4 1180.0,330.8 1179.2,331.8 1179.1,332.0 1179.0,332.3 1178.0,335.6 1177.2,338.3 1177.0,338.9 1176.2,341.6 1176.1,342.0 1176.0,342.2 1175.2,344.4 1175.0,344.9 1174.0,347.6 1173.2,349.7 1173.1,350.1 1173.0,350.0 1172.0,349.4 1171.0,348.7 1170.2,348.1 1170.1,348.1 1170.0,348.1 1170.0,348.1 1169.0,348.8 1168.2,349.3 1168.0,349.4 1167.2,350.0 1167.2,350.0 1167.1,350.1 1167.0,350.2 1166.2,351.7 1166.0,352.2 1165.2,353.7 1165.0,354.2 1164.2,355.8 1164.2,355.8 1164.1,356.1 1164.0,356.0 1163.2,355.0 1163.0,354.7 1162.2,353.6 1162.2,353.6 1162.0,353.3 1161.2,352.3 1161.1,352.1 1161.0,352.0 1160.2,351.5 1160.0,351.4 1159.2,350.9 1159.2,350.8 1159.0,350.7 1158.2,350.2 1158.1,350.1 1158.0,350.0 1157.2,349.0 1157.0,348.7 1156.2,347.6 1156.2,347.6 1156.0,347.3 1155.2,346.3 1155.1,346.1 1155.0,346.1 1154.2,346.6 1154.0,346.8 1153.2,347.3 1153.2,347.3 1153.0,347.4 1152.2,347.9 1152.1,348.1 1152.0,348.1 1151.2,348.6 1151.0,348.8 1150.2,349.3 1150.2,349.3 1150.0,349.4 1149.2,350.0 1149.0,350.1 1149.0,350.0 1148.2,349.0 1148.0,348.7 1147.2,347.6 1147.2,347.6 1147.0,347.3 1146.2,346.3 1146.0,346.1 1146.0,346.1 1145.2,346.6 1145.0,346.8 1144.2,347.3 1144.2,347.3 1144.0,347.4 1143.2,347.9 1143.0,348.1 1143.0,348.1 1142.2,349.2 1142.0,349.5 1141.2,350.5 1141.2,350.6 1141.0,350.8 1140.2,351.9 1140.0,352.1 1140.0,352.2 1139.2,355.4 1139.0,356.3 1138.2,359.4 1138.2,359.6 1138.0,360.3 1137.2,363.4 1137.0,364.1 1137.0,364.1 1136.2,363.3 1136.0,363.1 1135.2,362.2 1135.0,362.1 1135.0,362.0 1134.2,359.9 1134.0,359.4 1133.0,356.7 1132.2,354.5 1132.2,354.4 1132.0,354.1 1132.0,354.0 1131.2,353.0 1131.0,352.7 1130.0,351.4 1129.2,350.3 1129.2,350.2 1129.0,350.1 1129.0,350.1 1128.2,349.5 1128.0,349.4 1127.0,348.7 1126.2,348.2 1126.2,348.1 1126.0,348.1 1126.0,348.1 1125.2,349.2 1125.0,349.4 1124.0,350.8 1123.2,351.9 1123.1,351.9 1123.0,352.1 1123.0,352.1 1122.2,352.6 1122.0,352.8 1121.0,353.4 1120.2,354.0 1120.1,354.0 1120.0,354.1 1120.0,354.1 1119.2,354.6 1119.0,354.8 1118.0,355.4 1117.2,356.0 1117.1,356.0 1117.0,356.1 1117.0,356.1 1116.2,356.1 1116.0,356.1 1115.0,356.1 1114.2,356.1 1114.1,356.1 1114.0,356.1 1114.0,356.1 1113.2,353.9 1113.0,353.4 1112.0,350.7 1111.2,348.5 1111.1,348.4 1111.0,348.1 1111.0,348.1 1110.2,348.9 1110.0,349.1 1109.2,349.9 1109.0,350.1 1108.1,351.0 1108.0,351.1 1108.0,351.1 1107.2,350.9 1107.0,350.8 1106.2,350.6 1106.0,350.6 1105.1,350.4 1105.0,350.3 1104.2,350.1 1104.0,350.1 1104.0,350.1 1103.2,350.5 1103.0,350.6 1102.1,351.0 1102.0,351.1 1101.2,351.5 1101.0,351.6 1100.2,352.0 1100.0,352.1 1099.1,356.8 1099.0,357.0 1098.2,358.1 1098.0,358.6 1097.2,360.8 1097.0,361.2 1096.1,363.6 1096.0,363.9 1095.2,366.1 1095.0,366.2 1094.2,366.8 1094.0,366.9 1093.1,367.5 1093.0,367.6 1092.2,368.1 1092.0,368.1 1091.2,368.1 1091.0,368.1 1090.1,368.1 1090.0,368.1 1089.2,368.1 1089.0,367.8 1088.2,366.1 1088.0,365.8 1087.1,364.0 1087.0,363.8 1086.2,362.1 1086.0,361.9 1085.2,360.8 1085.0,360.6 1084.1,359.4 1084.0,359.2 1083.2,358.1 1083.0,358.3 1082.2,359.4 1082.0,359.6 1081.1,360.8 1081.0,361.0 1080.2,362.1 1080.0,362.4 1079.1,364.1 1079.0,364.4 1078.1,366.2 1078.0,366.4 1077.1,368.1 1077.0,368.3 1076.1,369.5 1076.0,369.7 1075.1,370.9 1075.0,371.0 1074.1,372.2 1074.0,372.1 1073.1,371.5 1073.0,371.4 1072.1,370.8 1072.0,370.7 1071.1,370.2 1071.0,370.0 1070.1,368.8 1070.0,368.6 1069.1,367.4 1069.0,367.3 1068.1,366.1 1068.0,366.0 1067.1,364.8 1067.0,364.6 1066.1,363.4 1066.0,363.3 1065.1,362.1 1065.0,361.9 1064.1,360.8 1064.0,360.6 1063.1,359.4 1063.0,359.3 1062.1,358.1 1062.0,358.3 1061.0,359.6 1060.1,360.8 1060.1,360.8 1060.0,361.0 1059.1,362.1 1059.0,362.5 1058.0,365.1 1057.1,367.5 1057.1,367.6 1057.0,367.8 1056.1,370.2 1056.0,370.5 1055.0,373.2 1054.1,375.5 1054.1,375.6 1054.0,375.8 1053.1,378.2 1053.0,378.4 1052.0,379.7 1051.1,380.9 1051.1,380.9 1051.0,381.0 1050.1,382.2 1050.0,382.0 1049.0,380.0 1048.1,378.2 1048.1,378.1 1048.0,378.0 1047.1,376.2 1047.0,376.1 1046.0,375.4 1045.1,374.8 1045.1,374.8 1045.0,374.8 1044.1,374.2 1044.0,374.3 1043.0,375.7 1042.1,376.8 1042.1,376.9 1042.0,377.0 1041.1,378.2 1041.0,378.3 1040.0,379.7 1039.1,380.9 1039.1,380.9 1039.0,381.0 1038.1,382.2 1038.0,382.3 1037.0,383.7 1036.1,384.9 1036.1,384.9 1036.0,385.0 1035.1,386.2 1035.0,386.4 1034.0,388.1 1033.1,389.6 1033.1,389.6 1033.0,389.7 1032.1,391.2 1032.0,391.1 1031.0,390.1 1030.1,389.2 1030.1,389.2 1030.0,389.1 1029.1,388.2 1029.0,388.1 1028.0,386.8 1027.1,385.6 1027.1,385.5 1027.0,385.4 1026.1,384.2 1026.0,384.1 1025.0,383.5 1024.1,382.9 1024.0,382.8 1024.0,382.8 1023.1,382.2 1023.0,382.3 1022.0,383.7 1021.1,384.9 1021.0,385.0 1020.1,386.2 1020.0,386.3 1020.0,386.4 1020.0,386.5 1019.0,389.1 1018.1,391.5 1018.1,391.6 1018.0,391.8 1017.1,394.3 1017.0,394.4 1017.0,394.5 1016.1,396.9 1016.0,397.2 1015.1,399.6 1015.0,399.8 1014.1,402.2 1014.1,402.3 1014.0,402.2 1014.0,402.1 1013.0,399.6 1012.6,398.6 1012.1,397.3 1012.0,397.1 1011.1,394.8 1011.1,394.8 1011.0,394.6 1011.0,394.6 1010.1,392.3 1010.1,392.2 1010.0,392.1 1009.1,390.9 1009.1,390.9 1009.0,390.8 1008.1,389.6 1008.0,389.5 1008.0,389.5 1007.1,388.3 1007.1,388.2 1007.0,388.3 1006.1,388.9 1006.0,389.0 1005.1,389.5 1005.1,389.6 1005.0,389.6 1005.0,389.6 1004.6,389.9 1004.1,390.2 1004.0,390.4 1003.1,392.8 1003.1,392.9 1003.0,393.1 1002.1,395.5 1002.1,395.6 1002.0,395.7 1002.0,395.8 1001.1,398.2 1001.1,398.3 1001.0,398.1 1000.1,395.7 1000.1,395.6 1000.0,395.4 999.1,393.0 999.1,392.9 999.0,392.8 999.0,392.7 998.1,390.3 998.1,390.2 998.0,390.1 997.1,388.3 997.1,388.2 997.0,388.1 996.1,386.3 996.1,386.2 996.0,386.1 996.0,386.1 995.1,384.2 995.0,384.1 994.6,383.3 994.1,382.3 994.1,382.2 994.0,382.1 993.1,380.2 993.0,380.1 992.1,378.2 992.1,378.2 992.0,378.1 992.0,378.0 991.1,375.5 991.0,375.3 990.1,372.9 990.1,372.8 990.0,372.7 989.1,370.2 989.0,370.2 988.6,370.5 988.1,370.8 988.1,370.8 988.0,370.9 988.0,370.9 987.1,371.5 987.1,371.5 987.0,371.5 986.1,372.1 986.1,372.2 986.0,372.1 985.6,371.8 985.1,371.5 985.0,371.5 984.1,370.8 984.1,370.8 984.0,370.8 984.0,370.8 983.1,370.2 983.0,370.3 982.6,371.1 982.1,372.1 982.1,372.2 982.0,372.3 981.1,374.2 981.0,374.3 980.6,375.1 980.1,376.1 980.1,376.2 980.0,376.3 980.0,376.3 979.1,378.1 979.0,378.2 979.0,378.3 978.1,380.1 978.0,380.2 978.0,380.3 977.6,381.1 977.0,382.2 977.0,382.2 976.1,382.2 976.0,382.2 976.0,382.2 975.0,382.2 975.0,382.2 974.1,382.2 974.0,382.2 974.0,382.1 973.0,380.2 973.0,380.1 972.6,379.3 972.1,378.2 972.0,378.2 972.0,378.1 971.1,376.2 971.0,376.2 971.0,376.1 970.6,375.2 970.0,374.2 970.0,374.1 969.1,372.2 969.0,372.2 969.0,372.1 968.0,370.2 968.0,370.2 967.1,371.5 967.0,371.5 967.0,371.5 966.1,372.8 966.0,372.8 966.0,372.9 965.1,374.1 965.0,374.2 965.0,374.2 964.1,374.8 964.0,374.8 964.0,374.9 963.1,375.5 963.0,375.5 963.0,375.5 962.1,376.2 962.0,376.2 962.0,376.1 961.1,374.2 961.0,374.2 961.0,374.1 960.6,373.2 960.0,372.2 960.0,372.1 959.1,370.2 959.0,370.2 959.0,370.2 958.0,372.9 957.6,374.1 957.1,375.4 957.0,375.6 956.1,378.1 956.0,378.2 956.0,378.3 955.6,380.1 955.0,382.3 954.6,384.1 954.1,386.1 954.0,386.3 953.1,390.1 953.0,390.2 953.0,390.3 952.0,390.9 951.6,391.2 951.1,391.6 951.0,391.6 950.0,392.2 950.0,392.2 949.0,392.2 949.0,392.2 948.0,392.2 947.0,392.2 947.0,392.2 947.0,392.2 946.5,392.2 946.0,392.2 946.0,392.3 945.0,392.7 945.0,392.8 944.0,393.2 944.0,393.3 944.0,393.3 943.0,393.7 943.0,393.8 942.0,394.2 942.0,394.3 942.0,394.2 941.0,392.3 941.0,392.2 941.0,392.2 940.0,390.3 940.0,390.2 939.0,388.3 939.0,388.2 938.2,386.7 938.0,386.3 938.0,386.2 938.0,386.2 937.0,385.7 937.0,385.7 936.2,385.3 936.0,385.2 936.0,385.2 935.5,385.0 935.2,384.8 935.0,384.7 934.5,384.5 934.0,384.2 934.0,384.2 933.2,384.6 933.0,384.7 933.0,384.7 933.0,384.7 932.2,385.1 932.0,385.2 932.0,385.2 931.0,385.7 931.0,385.7 930.2,386.1 930.0,386.2 930.0,386.2 929.2,388.4 929.0,389.0 929.0,389.0 928.0,389.7 928.0,389.7 927.2,390.2 927.0,389.9 927.0,389.9 926.5,389.3 926.2,388.9 926.0,388.6 925.5,387.9 925.0,387.3 925.0,387.2 924.2,386.2 924.0,385.9 923.2,384.8 923.0,384.6 923.0,384.5 922.0,383.2 921.2,382.2 921.0,382.5 920.5,383.1 920.2,383.5 920.0,383.8 919.0,385.1 918.2,386.2 918.0,386.4 918.0,386.5 917.5,387.1 917.2,387.5 917.0,387.8 916.0,389.1 916.0,389.1 915.2,390.2 915.0,390.5 914.5,391.1 914.2,391.5 914.0,391.8 914.0,391.8 913.0,393.2 912.2,394.2 912.0,394.6 912.0,394.6 911.2,396.2 911.0,396.6 910.0,398.6 910.0,398.7 909.5,399.6 909.2,400.2 909.0,400.1 908.2,399.6 908.0,399.4 907.0,398.8 907.0,398.8 906.2,398.2 906.0,398.4 905.2,398.9 905.0,399.0 904.5,399.4 904.0,399.7 904.0,399.7 903.2,400.2 903.0,400.5 902.2,401.6 902.0,401.8 902.0,401.8 901.5,402.5 901.0,403.2 900.2,404.3 900.0,404.5 899.2,405.6 899.0,405.9 898.0,407.2 897.2,408.3 897.0,408.4 896.0,409.1 895.0,409.7 894.2,410.3 894.0,410.3 893.0,410.3 892.0,410.3 891.2,410.3 891.0,410.2 890.0,409.5 889.0,408.8 888.2,408.3 888.0,408.0 887.0,406.7 886.0,405.3 885.2,404.3 885.0,404.1 884.0,403.5 883.0,402.8 882.2,402.2 882.0,402.4 881.0,403.0 880.0,403.7 879.2,404.3 879.0,404.5 878.0,405.8 877.0,407.2 876.2,408.3 876.0,408.5 875.0,409.8 874.0,411.2 873.2,412.3 873.0,412.5 872.2,413.6 872.0,413.9 871.0,415.2 870.2,416.3 870.0,416.3 869.2,416.3 869.0,416.3 868.0,416.3 867.2,416.3 867.0,416.0 866.2,414.3 866.0,414.0 865.0,412.0 864.2,410.3 864.0,409.8 863.2,407.6 863.0,407.2 862.0,404.5 861.2,402.2 861.0,402.0 860.2,400.9 860.0,400.7 859.0,399.4 858.2,398.2 858.0,398.5 857.2,400.2 857.0,400.6 856.0,402.6 855.2,404.3 855.0,404.7 854.2,406.9 854.0,407.3 853.0,410.0 852.2,412.3 852.0,412.6 851.8,413.1 851.2,414.3 851.0,414.6 850.2,416.3 850.0,416.6 849.1,418.3 849.0,418.0 848.1,416.3 848.0,416.0 847.0,414.0 846.1,412.3 846.0,412.5 845.1,413.6 845.0,413.8 844.0,415.2 843.1,416.3 843.0,416.4 842.1,417.0 842.0,417.1 841.0,417.7 840.1,418.3 840.0,418.4 839.1,419.0 839.0,419.1 838.0,419.7 837.1,420.3 837.0,420.2 836.1,419.7 836.0,419.6 835.0,418.9 834.1,418.3 834.0,418.2 833.1,417.6 833.0,417.6 832.0,416.9 831.1,416.3 831.0,416.2 830.1,415.6 830.0,415.6 829.0,414.9 828.1,414.3 828.0,414.2 827.1,413.6 827.0,413.5 826.0,412.9 825.1,412.3 825.0,412.4 824.1,413.0 824.0,413.0 823.0,413.7 822.1,414.3 822.0,414.3 821.1,414.3 821.0,414.3 820.0,414.3 819.1,414.3 819.0,414.4 818.1,415.0 818.0,415.0 817.1,415.6 817.0,415.7 816.1,416.3 816.0,416.2 815.1,415.6 815.0,415.6 814.0,414.9 813.1,414.3 813.0,414.1 812.1,413.0 812.0,412.8 811.0,411.5 810.1,410.3 810.0,410.4 809.1,411.0 809.0,411.0 808.0,411.7 807.1,412.3 807.0,412.4 806.1,413.0 806.0,413.0 805.0,413.7 804.1,414.3 804.0,414.3 803.1,414.3 803.0,414.3 802.0,414.3 801.1,414.3 801.0,414.1 800.1,412.3 800.0,412.1 799.0,410.1 798.1,408.3 798.0,408.1 797.1,406.3 797.0,406.1 796.0,404.1 795.1,402.2 795.0,402.3 794.1,402.9 794.0,403.0 793.0,403.6 792.1,404.3 792.0,404.6 791.1,408.3 791.0,408.6 790.0,412.7 789.1,416.3 789.0,416.5 788.1,419.0 788.0,419.2 787.0,421.9 786.1,424.3 786.0,424.4 785.1,425.3 785.0,425.4 784.0,426.4 783.1,427.4 783.0,427.2 782.1,425.7 782.0,425.5 781.0,423.9 780.1,422.3 780.0,422.0 779.1,417.6 779.0,417.3 778.0,412.6 777.1,408.3 777.0,408.1 776.1,406.3 776.0,406.1 775.0,404.1 774.1,402.2 774.0,402.2 773.1,402.2 773.0,402.2 772.0,402.2 771.1,402.2 771.0,402.2 770.1,402.2 770.0,402.2 769.0,401.5 768.1,400.9 768.0,400.9 767.1,400.2 767.0,400.2 766.0,398.8 765.1,397.6 765.0,397.5 764.1,396.2 764.0,396.1 763.0,394.8 762.1,393.5 762.0,393.5 761.1,392.2 761.0,392.2 760.0,392.9 759.1,393.5 759.0,393.6 758.1,394.2 758.0,394.3 757.0,395.6 756.1,396.9 756.0,397.0 755.1,398.2 755.0,398.2 754.0,398.2 753.1,398.2 753.0,398.2 752.1,398.2 752.0,398.3 751.1,399.6 751.0,399.6 750.1,400.9 750.0,401.0 749.0,402.2 749.0,402.3 748.0,404.3 748.0,404.4 747.0,406.3 747.0,406.4 746.0,408.3 746.0,408.2 745.0,406.9 745.0,406.9 744.0,405.6 744.0,405.5 743.0,404.3 743.0,404.2 742.0,402.9 742.0,402.9 741.0,401.6 741.0,401.5 740.0,400.2 740.0,400.2 739.0,399.6 739.0,399.5 738.0,398.9 738.0,398.9 737.0,398.2 737.0,398.3 736.0,400.2 736.0,400.3 735.0,402.3 734.0,404.3 734.0,404.3 733.0,406.3 733.0,406.3 732.0,408.3 731.0,410.3 731.0,410.3 730.0,412.0 730.0,412.0 729.0,413.7 728.0,415.3 728.0,415.3 727.0,413.6 726.0,411.9 725.0,410.3 725.0,410.3 724.0,409.6 724.0,409.6 723.0,408.9 722.0,408.3 722.0,408.2 721.0,406.9 721.0,406.9 720.0,405.6 719.0,404.3 719.0,404.2 718.0,402.2 718.0,402.2 717.0,400.2 716.0,398.2 716.0,398.2 715.0,396.9 715.0,396.9 714.0,395.5 713.0,394.2 713.0,394.2 712.0,396.2 712.0,396.2 711.0,398.2 711.0,398.3 710.0,400.2 710.0,400.2 710.0,400.3 709.0,402.2 709.0,402.3 708.2,403.8 708.0,404.3 708.0,404.3 707.2,405.8 707.0,406.3 707.0,406.3 706.0,404.9 706.0,404.9 705.2,403.9 705.0,403.6 704.2,402.6 704.0,402.2 704.0,402.2 703.0,401.2 703.0,401.2 702.2,400.5 702.0,400.2 701.0,399.2 700.2,398.5 700.0,398.2 699.2,400.3 699.0,400.0 698.0,398.6 697.0,397.3 696.2,396.2 696.0,396.4 695.0,397.1 694.2,397.6 694.0,397.7 693.2,398.3 693.0,398.7 692.0,400.7 691.2,402.3 691.0,402.7 690.2,404.3 690.0,404.0 689.0,402.6 688.2,401.6 688.0,401.3 687.2,400.3 687.0,399.8 686.0,397.8 685.2,396.2 685.0,395.8 684.2,394.2 684.0,393.9 683.0,392.6 682.2,391.6 682.0,391.3 681.2,390.2 681.0,390.1 680.0,389.4 679.2,388.9 679.0,388.7 678.2,388.2 678.0,388.3 677.0,389.0 676.2,389.5 676.0,389.7 675.2,390.2 675.0,390.8 674.2,392.9 674.0,393.4 673.2,395.6 673.0,396.1 672.2,398.3 672.0,398.3 671.0,398.3 670.2,398.3 670.0,398.3 669.2,398.3 669.0,398.1 668.0,397.4 667.0,396.8 666.2,396.2 666.0,396.1 665.0,395.4 664.0,394.8 663.2,394.2 663.0,394.0 662.0,392.6 661.0,391.3 660.2,390.2 660.0,390.1 659.0,389.4 658.0,388.8 657.2,388.2 657.0,387.1 656.0,381.1 655.0,375.0 654.2,370.1 654.0,369.6 653.0,367.0 652.0,364.3 651.2,362.1 651.0,362.3 650.2,363.4 650.0,363.7 649.0,365.0 648.2,366.1 648.0,366.2 647.0,366.9 646.2,367.5 646.0,367.6 645.2,368.1 645.0,368.0 644.0,367.3 643.0,366.7 642.2,366.1 642.0,366.3 641.0,367.7 640.2,368.8 640.0,369.0 639.2,370.1 639.0,369.2 638.2,364.8 638.0,363.9 637.0,358.5 636.2,354.1 636.0,353.1 635.0,347.0 634.2,342.0 634.0,341.0 633.2,336.0 633.0,335.8 632.0,334.4 631.2,333.3 631.0,333.1 630.2,332.0 630.0,332.3 629.0,334.3 628.2,336.0 628.0,336.3 627.2,338.0 627.0,338.5 626.2,341.3 626.0,341.9 625.2,344.7 625.0,345.2 624.2,348.0 624.0,348.5 623.0,351.1 622.2,353.4 622.0,353.8 621.2,356.1 621.0,356.1 620.0,356.1 619.1,356.1 619.0,356.1 618.1,356.1 618.0,355.8 617.0,353.8 616.1,352.1 616.0,351.8 615.1,350.1 615.0,349.9 614.1,348.7 614.0,348.5 613.1,347.4 613.0,347.2 612.1,346.0 612.0,345.8 611.1,344.7 611.0,344.5 610.1,343.4 610.0,343.2 609.1,342.0 609.0,341.9 608.1,341.3 608.0,341.3 607.1,340.7 607.0,340.6 606.1,340.0 606.0,340.0 605.0,339.6 604.1,339.3 604.0,339.3 603.1,339.0 603.0,339.1 602.0,340.1 601.1,341.0 601.0,341.1 600.1,342.0 600.0,341.8 599.0,340.5 598.1,339.3 598.0,339.2 597.1,338.0 597.0,338.3 596.0,341.0 595.1,343.4 595.0,343.7 594.1,346.0 594.0,346.4 593.0,349.0 592.5,350.3 592.1,351.4 592.0,351.7 591.1,354.1 591.0,353.3 590.1,348.0 590.0,347.3 589.1,342.0 589.0,341.3 588.1,336.0 588.0,335.4 587.0,330.0 586.1,325.3 586.0,324.7 585.1,319.9 585.0,320.1 584.0,321.4 583.1,322.6 583.0,322.8 582.1,323.9 582.0,324.2 581.0,326.2 580.1,328.0 580.0,328.2 579.1,330.0 579.0,329.9 578.0,329.2 577.0,328.6 576.1,328.0 576.0,328.0 575.0,328.7 574.0,329.4 573.1,330.0 573.0,330.2 572.0,332.9 571.0,335.6 570.1,338.0 570.0,338.8 569.0,346.8 568.1,354.1 568.0,354.1 567.7,354.1 567.1,354.1 567.0,354.1 566.1,354.1 566.0,353.7 565.0,349.7 564.1,346.0 564.0,345.7 563.1,342.0 563.0,342.1 562.1,342.7 562.0,342.7 561.0,343.4 560.1,344.0 560.0,344.4 559.0,348.4 558.0,352.4 557.5,354.5 557.1,356.1 557.0,355.8 556.0,352.8 555.1,350.1 555.0,349.8 554.1,346.7 554.0,346.4 553.0,343.1 552.1,340.0 552.0,339.6 551.1,334.7 551.0,334.2 550.0,328.9 549.1,323.9 549.0,323.4 548.1,316.6 548.0,316.0 547.0,308.6 546.1,301.9 546.0,301.4 545.0,295.4 544.1,289.8 544.0,289.4 543.1,283.8 543.0,283.4 542.0,278.8 541.1,274.4 541.0,274.1 540.1,269.7 540.0,269.4 539.0,264.7 538.1,260.3 538.0,260.0 537.1,255.7 537.0,256.0 536.1,260.3 536.0,260.7 535.0,265.3 534.1,269.7 534.0,270.1 533.0,275.4 532.1,280.4 532.0,280.8 531.1,285.8 531.0,286.1 530.0,291.5 529.1,296.5 529.0,296.8 528.1,301.9 528.0,301.7 527.0,299.7 526.1,297.8 526.0,297.7 525.1,295.8 525.0,295.6 524.0,292.3 523.1,289.1 523.0,289.0 522.1,285.8 522.0,285.8 521.0,286.5 520.1,287.1 520.0,287.2 519.0,287.8 519.0,287.9 518.0,289.2 517.0,290.5 517.0,290.5 516.0,291.8 516.0,291.7 515.0,289.7 514.0,287.8 514.0,287.7 513.0,285.8 513.0,285.6 512.0,281.6 511.0,277.8 511.0,277.6 510.0,273.7 510.0,273.6 509.0,270.3 508.0,267.0 508.0,266.9 507.0,263.7 507.0,263.8 506.0,265.8 505.0,267.7 505.0,267.8 504.0,269.7 504.0,269.8 503.0,273.2 502.0,276.4 502.0,276.5 501.0,279.8 501.0,279.9 500.0,285.3 499.0,290.5 499.0,290.6 498.0,295.8 498.0,295.9 497.0,300.1 496.0,304.2 496.0,304.3 495.6,305.9 495.0,301.7 495.0,301.5 494.0,294.6 493.0,287.8 493.0,287.6 492.0,281.0 491.6,278.4 491.0,274.3 490.1,268.3 490.0,267.7 490.0,267.6 489.0,261.6 488.1,256.2 488.0,255.6 487.0,249.6 487.0,249.6 486.1,249.0 486.0,249.0 485.0,248.3 484.6,248.0 484.0,247.6 484.0,247.6 483.1,248.2 483.0,248.3 482.0,249.0 481.1,249.6 481.0,249.6 481.0,249.6 480.0,247.0 480.0,246.9 479.6,245.9 479.0,244.3 479.0,244.3 478.2,242.2 478.1,241.8 478.0,241.6 478.0,241.6 477.0,242.6 476.2,243.4 476.1,243.5 476.0,243.6 476.0,243.6 475.2,244.4 475.0,244.6 474.1,245.5 474.0,245.6 474.0,245.6 473.2,246.4 473.0,246.6 473.0,246.6 472.2,247.4 472.0,247.6 471.1,248.5 471.0,248.6 470.2,249.4 470.0,249.6 469.2,253.7 469.1,254.1 469.0,254.3 468.0,257.0 467.2,259.1 467.1,259.4 467.0,259.7 466.2,261.7 466.0,262.3 465.1,264.8 465.0,265.0 464.2,267.1 464.0,267.7 463.2,269.8 463.1,269.8 463.0,269.8 462.0,269.8 461.2,269.8 461.0,269.8 460.2,269.8 460.0,269.5 459.0,268.1 458.2,267.1 458.0,266.8 457.6,266.2 457.2,265.8 457.0,264.3 456.6,261.5 456.2,259.1 456.0,257.6 455.2,252.4 455.1,251.4 455.0,250.9 454.2,245.7 454.0,245.4 453.6,244.8 453.0,244.1 452.2,243.0 452.0,242.7 451.8,242.5 451.6,242.1 451.2,241.7 451.0,242.2 450.0,244.9 449.6,246.1 449.2,247.0 449.0,247.6 448.2,249.7 448.0,250.8 447.6,253.1 447.0,256.2 446.2,260.4 446.0,261.5 445.6,263.8 445.2,265.8 445.0,265.6 444.2,265.1 444.1,265.0 444.0,265.0 443.2,264.4 443.0,264.3 442.2,263.8 442.1,263.9 442.0,264.0 441.2,265.1 441.0,265.4 440.2,266.4 440.1,266.6 440.0,266.7 439.2,267.8 439.0,268.2 438.2,269.8 438.1,270.1 438.0,270.2 437.2,271.8 437.0,272.2 436.2,273.8 436.1,273.6 436.0,273.5 435.2,272.5 435.0,272.2 434.2,271.1 434.0,270.9 433.6,270.3 433.2,269.8 433.0,269.5 432.2,268.4 432.0,268.2 431.2,267.1 431.1,266.9 431.0,266.8 430.2,265.8 430.0,265.6 429.2,265.1 429.0,265.0 428.2,264.4 428.0,264.3 428.0,264.3 427.2,263.8 427.0,263.5 426.2,262.4 426.0,262.2 425.5,261.6 425.2,261.1 425.0,260.8 424.2,259.7 424.0,258.5 423.2,253.0 423.0,252.1 423.0,251.8 422.5,248.5 422.2,246.3 422.0,245.1 421.2,239.7 421.0,238.6 421.0,238.3 420.0,231.0 419.2,224.9 419.0,223.9 419.0,223.6 418.2,217.6 418.0,216.8 417.0,213.0 417.0,212.8 416.2,209.5 416.0,208.8 415.2,205.5 415.0,205.3 415.0,205.3 414.0,203.9 413.5,203.3 413.2,202.8 413.0,202.6 412.2,201.5 412.0,201.6 411.0,202.3 411.0,202.3 410.2,202.8 410.0,202.9 409.2,203.5 409.0,204.3 409.0,204.4 408.0,209.8 407.2,214.2 407.0,215.0 407.0,215.1 406.2,219.6 406.0,220.5 405.0,225.7 405.0,225.8 404.2,230.3 404.0,231.2 403.2,235.6 403.0,236.8 403.0,236.9 402.0,245.0 401.5,248.8 401.2,251.7 401.0,251.8 400.0,252.5 400.0,252.5 399.0,253.1 398.2,253.7 398.0,253.6 397.5,253.3 397.0,252.9 396.0,252.3 395.2,251.7 395.0,251.8 395.0,251.8 394.0,252.5 393.0,253.1 393.0,253.1 392.2,253.7 392.0,253.8 391.0,254.3 391.0,254.3 390.0,254.8 389.1,255.2 389.0,255.3 389.0,255.3 388.1,255.7 388.0,255.8 387.0,256.5 386.1,257.1 386.0,257.2 386.0,257.2 385.1,257.7 385.0,258.1 384.0,260.8 383.1,263.1 383.0,263.5 383.0,263.5 382.1,265.8 382.0,266.1 381.0,268.8 380.0,271.5 379.1,273.8 379.0,273.6 378.0,272.3 377.0,270.9 376.1,269.8 376.0,269.7 375.0,268.9 374.0,268.2 373.1,267.5 373.0,267.4 372.1,266.8 372.0,266.9 371.0,267.5 370.1,268.1 370.0,268.2 369.1,268.8 369.0,268.7 368.0,268.4 367.0,268.1 366.1,267.8 366.0,267.9 365.0,268.5 364.0,269.2 363.1,269.8 363.0,270.3 362.0,274.3 361.0,278.3 360.1,281.8 360.0,282.3 359.0,286.3 358.0,290.3 357.1,293.9 357.0,293.5 356.0,290.5 355.1,287.9 355.0,287.9 354.1,288.5 354.0,288.6 353.7,288.8 353.0,289.3 352.1,289.9 352.0,290.0 351.1,291.2 351.0,291.3 350.0,292.7 349.1,293.9 349.0,293.2 348.1,287.9 348.0,287.2 347.1,281.8 347.0,280.9 346.1,273.1 346.0,272.2 345.1,264.4 345.0,263.5 344.1,255.7 344.0,255.4 343.1,252.4 343.0,252.0 342.0,248.7 341.1,245.7 341.0,245.6 340.1,245.0 340.0,244.9 339.0,244.3 338.1,243.7 338.0,244.0 337.0,247.3 336.0,250.7 335.1,253.7 335.0,254.2 334.0,258.8 333.1,263.1 333.0,263.5 332.1,267.8 332.0,268.1 331.1,271.8 331.0,272.2 330.0,276.2 329.1,279.8 329.0,279.7 328.1,278.5 328.0,278.4 327.0,277.0 326.1,275.8 326.0,275.7 325.1,274.5 325.0,274.3 324.0,273.0 323.1,271.8 323.0,271.7 322.1,270.4 322.0,270.3 321.0,269.0 320.1,267.8 320.0,267.9 319.1,269.8 319.0,269.9 318.0,271.9 317.1,273.8 317.0,274.1 316.1,277.8 316.0,278.1 315.0,282.1 314.1,285.8 314.0,286.3 313.1,292.5 313.0,293.0 312.0,299.7 311.1,305.9 311.0,306.3 310.2,310.4 310.1,311.3 310.0,311.7 309.0,317.0 308.1,322.0 308.0,322.2 307.2,324.8 307.1,325.3 307.0,325.6 306.0,328.9 305.1,332.0 305.0,331.6 304.5,327.8 304.2,326.2 304.1,325.0 304.0,324.6 303.1,318.0 303.0,317.8 302.1,315.3 302.0,315.1 301.2,313.1 301.1,312.6 301.0,312.5 300.2,310.4 300.1,309.9 300.0,310.0 299.1,310.6 299.0,310.7 298.1,311.3 298.0,311.3 297.2,311.8 297.1,312.0 297.0,311.7 296.2,308.6 296.1,307.9 296.0,307.7 295.0,303.7 294.2,300.6 294.1,299.9 294.0,299.8 293.1,297.9 293.0,297.8 292.2,296.2 292.1,295.9 292.0,295.8 291.2,294.2 291.1,293.9 291.0,293.7 290.1,291.2 290.0,291.1 289.2,289.0 289.0,288.4 288.2,286.3 288.0,285.8 288.0,285.8 287.0,284.4 286.2,283.4 286.0,283.1 285.2,282.1 285.0,281.8 285.0,282.1 284.0,288.1 283.2,292.9 283.0,294.1 282.2,298.9 282.0,299.9 282.0,299.6 281.0,293.6 280.2,288.9 280.0,287.6 279.2,282.8 279.0,281.8 279.0,281.8 278.0,281.2 278.0,281.1 277.2,280.6 277.0,280.5 276.2,279.9 276.0,279.8 276.0,279.9 275.0,281.8 275.0,281.9 274.2,283.5 274.0,283.9 273.2,285.5 273.0,285.8 273.0,285.9 272.0,288.5 272.0,288.6 271.2,290.7 271.0,291.3 270.2,293.4 270.0,293.9 270.0,293.7 269.6,291.7 269.0,288.4 268.2,284.1 268.0,283.0 267.0,277.8 267.0,277.6 266.2,272.2 266.0,271.1 266.0,270.9 265.2,265.5 265.0,264.3 264.0,257.7 264.0,257.8 263.2,259.4 263.0,259.7 263.0,259.8 262.2,261.4 262.0,261.7 262.0,261.8 261.0,265.8 260.2,269.1 260.0,269.8 260.0,269.9 259.2,273.1 259.0,273.8 259.0,288.2 258.0,298.1 258.0,298.0 257.2,293.9 257.0,293.0 256.2,288.9 256.0,288.1 256.0,288.0 255.0,287.4 254.2,286.8 254.0,286.7 253.2,286.2 253.0,286.1 253.0,286.1 252.0,288.1 251.2,289.7 251.0,290.1 250.2,291.7 250.0,292.1 250.0,292.1 249.0,292.7 248.0,293.4 247.2,294.0 247.0,294.1 247.0,294.1 246.0,300.1 245.0,306.1 244.2,311.1 244.0,312.1 244.0,312.1 243.0,310.6 242.0,309.1 241.2,307.8 241.0,307.6 240.0,306.1 239.0,306.8 238.2,307.1 238.0,307.2 237.0,308.2 236.0,309.2 235.2,310.1 235.0,310.5 234.0,313.2 233.0,315.8 232.2,318.1 232.0,318.8 231.0,323.1 230.0,327.4 229.2,331.1 229.0,330.4 228.0,325.9 227.2,322.1 227.0,321.4 226.0,316.7 225.0,312.0 224.2,308.1 224.0,307.6 223.0,304.2 222.0,300.9 221.1,298.1 221.0,297.7 220.1,295.4 220.0,295.0 219.0,292.3 218.1,290.1 218.0,290.0 217.1,289.4 217.0,289.3 216.0,288.6 215.1,288.1 215.0,288.4 214.1,290.4 214.0,290.7 213.0,293.1 212.1,295.1 212.0,295.1 211.1,295.6 211.0,295.6 210.1,296.1 210.0,296.0 209.0,295.3 208.1,294.7 208.0,294.6 207.1,294.1 207.0,294.2 206.0,294.8 205.0,295.5 204.1,296.1 204.0,296.0 203.0,295.3 202.0,294.6 201.1,294.1 201.0,293.9 200.0,292.6 199.0,291.2 198.1,290.1 198.0,289.6 197.0,285.6 196.1,282.1 196.0,281.8 195.0,279.8 194.0,277.8 193.1,276.0 193.0,275.9 192.0,274.6 191.0,273.2 190.1,272.0 190.0,272.2 189.0,273.5 188.0,274.9 187.1,276.0 187.0,276.4 186.0,279.0 185.0,281.7 184.1,284.1 184.0,284.2 183.0,285.5 182.0,286.9 181.1,288.1 181.0,288.3 180.0,290.6 179.0,293.0 178.1,295.1 178.0,295.1 177.0,295.4 176.0,295.8 175.1,296.1 175.0,296.1 174.0,296.8 173.0,297.5 172.1,298.1 172.0,299.0 171.0,298.5 170.0,298.0 169.1,301.2 169.0,301.5 168.0,305.0 167.0,313.0 166.1,320.2 166.0,321.0 165.0,319.5 164.0,318.0 163.1,312.1 163.0,311.5 162.0,305.0 161.0,298.5 160.1,292.6 160.0,292.0 159.0,288.0 158.0,284.0 157.1,280.3 157.0,280.0 156.0,278.3 155.0,276.7 154.1,275.1 154.0,275.0 153.0,276.0 152.1,276.9 152.0,277.0 151.1,277.9 151.0,278.0 150.0,284.0 149.1,289.5 149.0,290.0 148.1,295.5 148.0,296.0 147.0,299.0 146.1,301.8 146.0,302.0 145.1,304.8 145.0,305.0 144.0,308.5 143.1,311.8 143.0,312.0 142.1,318.1 142.0,317.9 141.1,315.4 141.0,315.2 140.0,312.6 139.1,310.1 139.0,309.9 138.1,307.4 138.0,307.2 137.0,304.6 136.1,302.1 136.0,302.2 135.1,304.7 135.0,304.9 134.0,307.6 133.1,310.1 133.0,310.8 132.1,321.1 132.0,321.8 131.1,332.1 131.0,332.4 130.0,337.0 129.1,341.4 129.0,341.7 128.1,346.1 128.0,346.0 127.0,344.7 126.1,343.4 126.0,343.4 125.1,342.1 125.0,342.0 124.0,340.0 123.0,338.0 122.1,336.1 122.0,336.0 121.0,334.1 121.0,334.0 120.0,331.0 119.0,328.0 118.0,325.1 118.0,325.1 117.0,324.7 116.0,324.4 115.0,324.1 115.0,324.1 114.0,323.8 114.0,323.7 113.0,323.4 112.0,323.1 112.0,323.1 111.0,323.4 110.0,323.8 109.0,324.1 109.0,324.1 108.0,325.5 107.0,326.8 106.0,328.1 106.0,327.8 105.0,320.5 104.0,313.2 103.0,306.1 103.0,306.2 102.0,308.8 101.0,311.5 100.0,314.1 100.0,314.2 99.0,318.5 98.0,322.9 97.0,327.1 97.0,327.1 96.0,326.8 95.0,326.4 94.0,326.1 94.0,326.1 93.0,326.1 93.0,326.1 92.0,326.1 91.0,326.1 91.0,326.1 90.0,328.1 90.0,328.1 89.0,330.1 88.0,332.1 88.0,332.2 87.0,338.1 87.0,338.2 86.0,344.2 85.0,350.1 85.0,350.2 84.0,354.1 84.0,354.2 83.0,358.1 83.0,358.1 82.0,359.1 81.0,360.1 80.0,361.1 80.0,361.1 79.0,361.4 78.0,361.6 77.0,361.9 76.0,362.1 76.0,362.1 75.0,362.6 75.0,362.6 74.0,363.1 73.0,363.6 72.7,363.8" fill="#000" fill-opacity="0.15"/>
<polyline points="72.7,325.9 73.0,327.5 74.0,332.9 75.0,338.2 75.0,338.2 76.0,336.0 77.0,333.8 78.0,331.6 79.0,329.4 80.0,327.2 80.0,327.2 81.0,327.4 82.0,327.7 83.0,327.9 84.0,328.2 84.0,328.2 85.0,322.9 86.0,317.6 87.0,312.3 87.0,312.2 88.0,307.9 89.0,303.6 90.0,299.2 90.0,299.2 91.0,298.2 92.0,297.2 93.0,296.2 93.0,296.2 94.0,294.9 95.0,293.7 96.0,292.4 97.0,291.2 97.0,291.2 98.0,286.9 99.0,282.6 100.0,278.3 100.0,278.1 101.0,276.5 102.0,274.9 103.0,273.2 103.0,273.1 104.0,279.3 105.0,285.6 106.0,291.9 106.0,292.2 107.0,292.5 108.0,292.8 109.0,293.2 109.0,293.2 110.0,293.0 111.0,292.8 112.0,292.6 113.0,292.4 114.0,292.2 114.0,292.2 115.0,293.1 116.0,294.1 117.0,295.1 118.0,296.1 118.0,296.2 119.0,300.5 120.0,305.0 121.0,309.5 122.0,314.0 122.1,314.2 123.0,315.4 124.0,316.6 125.0,317.9 126.0,319.1 126.1,319.2 127.0,318.9 128.0,318.5 129.0,318.2 129.1,318.2 130.0,309.4 131.0,300.1 132.0,290.7 132.1,290.2 133.0,282.0 134.0,273.3 135.0,264.7 135.1,264.1 136.0,266.0 137.0,268.0 138.0,270.0 138.1,270.1 139.0,275.7 140.0,281.7 141.0,287.7 141.1,288.2 142.0,289.1 143.0,290.1 143.1,290.2 144.0,283.3 145.0,276.0 146.0,268.7 146.1,268.1 147.0,263.8 148.0,259.2 149.0,254.5 149.1,254.1 150.0,252.0 151.0,249.6 152.0,247.3 152.1,247.1 153.0,247.6 154.0,248.1 154.1,248.1 155.0,250.0 156.0,252.0 157.0,254.0 157.1,254.1 158.0,257.2 159.0,260.5 160.0,263.8 160.1,264.1 161.0,266.0 162.0,268.0 163.0,270.0 163.1,270.1 164.0,275.0 165.0,280.3 166.0,285.7 166.1,286.2 167.0,281.3 168.0,276.0 169.0,270.7 169.1,270.1 170.0,264.1 171.0,257.5 172.0,250.8 172.1,250.1 173.0,251.6 174.0,253.3 175.0,255.0 175.1,255.1 176.0,253.3 177.0,251.3 178.0,249.3 178.1,249.1 179.0,248.8 180.0,248.5 181.0,248.2 181.1,248.1 182.0,245.1 183.0,241.8 184.0,238.5 184.1,238.1 185.0,235.7 186.0,233.1 187.0,230.4 187.1,230.1 188.0,229.8 189.0,229.5 190.0,229.1 190.1,229.1 191.0,231.2 192.0,233.5 193.0,235.8 193.1,236.1 194.0,238.2 195.0,240.5 196.0,242.8 196.1,243.1 197.0,243.6 198.0,244.1 198.1,244.1 199.0,247.9 200.0,252.2 201.0,256.6 201.1,257.1 202.0,254.8 203.0,252.1 204.0,249.5 204.1,249.1 205.0,251.1 206.0,253.3 207.0,255.6 208.0,257.8 208.1,258.1 209.0,259.0 210.0,260.0 211.0,261.0 211.1,261.1 212.0,260.3 213.0,259.3 214.0,258.3 214.1,258.1 215.0,255.0 216.0,251.3 217.0,247.6 217.1,247.1 218.0,248.5 219.0,250.2 220.0,251.9 220.1,252.1 221.0,256.0 222.0,260.5 223.0,265.0 224.0,269.5 224.2,270.1 225.0,274.7 226.0,280.0 227.0,285.3 227.2,286.2 228.0,288.3 229.0,290.8 229.2,291.2 230.0,290.9 231.0,290.5 232.0,290.2 232.2,290.2 233.0,286.8 234.0,282.8 235.0,278.8 235.2,278.1 236.0,276.5 237.0,274.5 238.0,272.5 238.2,272.1 239.0,267.7 240.0,262.4 241.0,257.0 241.2,256.1 242.0,257.8 243.0,259.8 244.0,261.8 244.2,262.1 245.0,257.7 246.0,252.4 247.0,247.1 247.2,246.1 248.0,244.7 249.0,242.9 250.0,241.2 251.0,239.4 251.2,239.1 252.0,237.2 253.0,234.9 254.0,232.5 254.2,232.1 255.0,236.5 256.0,241.8 257.0,247.1 257.2,248.1 258.0,243.2 259.0,237.2 260.0,231.2 260.2,230.1 261.0,227.9 262.0,225.3 263.0,222.6 263.2,222.1 264.0,223.2 265.0,224.5 266.0,225.8 266.2,226.1 267.0,229.9 268.0,234.7 269.0,239.4 270.0,244.2 270.2,245.1 271.0,243.5 272.0,241.5 273.0,239.5 273.2,239.1 274.0,238.0 275.0,236.7 276.0,235.4 276.2,235.1 277.0,234.3 278.0,233.3 279.0,232.3 279.2,232.1 280.0,230.3 281.0,227.9 282.0,225.6 282.2,225.1 283.0,222.2 284.0,218.5 285.0,214.9 285.2,214.1 286.0,217.2 287.0,221.2 288.0,225.2 288.0,230.0 288.2,231.3 289.0,237.6 290.0,245.6 290.1,246.0 291.0,249.8 291.2,250.7 292.0,253.8 293.0,257.8 293.1,258.0 294.0,261.8 294.2,262.7 295.0,265.8 296.0,269.8 296.1,270.0 297.0,274.3 297.2,275.3 298.0,278.8 298.1,279.0 299.0,279.7 300.0,280.3 301.0,281.0 301.1,281.1 301.2,281.8 302.0,285.1 303.0,289.5 304.0,293.8 304.1,294.1 304.2,293.3 305.0,289.7 306.0,285.0 307.0,280.4 307.1,280.1 307.2,279.2 308.0,275.1 309.0,269.7 310.0,264.4 310.1,264.0 310.2,263.1 311.0,259.1 312.0,253.7 313.0,248.4 313.1,248.0 314.0,243.7 315.0,239.0 316.0,234.4 316.1,234.0 317.0,227.0 318.0,225.6 319.0,224.3 319.1,224.2 320.0,224.0 321.0,223.7 322.0,223.5 323.0,223.2 323.1,223.2 324.0,222.6 325.0,221.9 326.0,221.2 326.1,221.2 327.0,221.5 328.0,221.8 329.0,222.2 329.1,222.2 330.0,218.5 331.0,214.5 332.0,210.5 332.1,210.2 333.0,206.5 334.0,202.5 335.0,198.5 335.1,198.2 336.0,196.7 337.0,195.0 338.0,193.3 338.1,193.2 339.0,194.1 340.0,195.1 341.0,196.1 341.1,196.2 342.0,200.4 343.0,205.0 344.0,209.7 344.1,210.2 345.0,216.2 346.0,222.8 346.1,230.0 347.0,240.7 347.1,242.0 348.0,252.7 348.1,254.0 349.0,251.1 350.0,247.7 351.0,244.4 351.1,244.0 352.0,244.6 353.0,245.3 354.0,245.9 354.1,246.0 355.0,249.0 356.0,252.3 357.0,255.6 357.1,256.0 358.0,251.9 359.0,247.2 360.0,242.6 360.1,242.0 361.0,239.7 362.0,237.0 363.0,234.3 363.1,234.0 364.0,232.8 365.0,231.5 366.0,230.2 366.1,230.0 367.0,231.3 368.0,230.3 369.0,229.3 370.0,228.3 370.1,228.2 371.0,226.5 372.0,224.5 373.0,222.5 373.1,222.2 374.0,220.5 375.0,218.5 376.0,216.5 376.1,216.2 377.0,217.9 378.0,219.9 379.0,221.9 379.1,222.2 380.0,224.1 381.0,223.9 382.0,223.8 383.0,223.6 383.0,223.6 383.1,223.5 384.0,222.9 385.0,222.3 386.0,221.6 386.0,221.6 386.1,221.6 387.0,221.9 388.0,222.3 389.0,222.6 389.0,222.6 389.1,222.1 390.0,218.9 391.0,215.1 391.0,215.1 392.0,212.1 392.2,211.7 393.0,209.1 393.0,209.1 394.0,208.1 395.0,207.1 395.0,207.1 395.2,207.2 396.0,208.3 397.0,209.5 397.5,210.1 398.0,210.1 398.2,210.1 399.0,210.1 400.0,210.1 400.0,210.1 401.0,208.8 401.2,208.6 401.5,208.1 402.0,203.6 403.0,194.3 403.0,194.1 404.0,187.7 404.2,186.6 405.0,181.2 405.0,181.1 406.0,176.7 407.0,172.2 407.0,172.0 407.2,171.6 408.0,169.1 409.0,166.1 409.0,166.0 410.0,161.2 410.2,160.3 411.0,156.2 411.0,156.0 412.0,154.9 413.0,153.7 413.2,153.5 413.5,153.0 414.0,154.9 415.0,158.9 415.0,159.0 416.0,164.8 416.2,165.9 417.0,170.8 417.0,171.0 418.0,178.3 419.0,185.8 419.0,186.1 419.2,186.8 420.0,190.9 421.0,195.9 421.0,196.1 422.0,199.4 422.2,200.1 423.0,202.9 423.0,203.1 424.0,205.4 425.0,207.8 425.2,208.2 425.5,209.1 426.0,209.6 427.0,210.8 428.0,212.0 428.0,212.1 428.2,212.2 429.0,212.7 430.0,213.4 431.0,214.1 431.1,214.1 431.2,214.1 432.0,214.5 433.0,214.9 433.6,215.1 434.0,216.0 434.2,216.4 435.0,218.0 436.0,220.0 436.1,220.1 437.0,216.8 437.2,216.1 438.0,213.3 438.1,213.1 439.0,212.1 440.0,211.1 440.1,211.1 440.2,211.2 441.0,211.6 442.0,212.1 442.1,212.1 443.0,214.9 443.2,215.5 444.0,217.9 444.1,218.1 445.0,220.6 445.6,222.1 446.0,220.8 446.2,220.2 447.0,217.8 447.6,216.1 448.0,214.8 449.0,211.8 449.2,211.2 449.6,210.1 450.0,209.4 451.0,207.9 451.6,207.1 451.8,207.8 452.0,208.4 453.0,211.4 453.6,213.1 454.0,215.6 454.2,216.9 455.0,221.6 455.1,222.1 456.0,227.0 456.2,228.2 456.6,230.1 457.0,232.2 457.2,233.2 457.6,235.0 458.0,240.7 458.2,242.0 459.0,241.5 460.0,240.8 460.2,240.7 461.0,240.2 461.2,240.0 462.0,238.5 463.0,236.5 463.1,235.0 463.2,234.5 464.0,231.4 464.2,230.5 465.0,227.4 465.1,227.1 466.0,221.2 466.2,219.7 467.0,214.7 467.1,214.1 468.0,210.9 469.0,207.4 469.1,207.1 470.0,203.9 470.2,203.1 471.0,200.4 471.1,200.1 472.0,198.6 473.0,196.9 473.0,196.9 473.2,196.5 474.0,195.2 474.1,195.1 475.0,194.2 476.0,193.2 476.0,193.2 476.1,193.1 476.2,193.6 477.0,196.2 478.0,199.7 478.1,200.1 479.0,203.1 479.0,203.1 479.6,205.1 480.0,204.8 480.0,204.8 481.0,204.1 481.0,204.1 481.1,204.1 482.0,203.6 483.0,203.1 483.1,203.1 484.0,204.9 484.0,204.9 484.6,206.1 485.0,207.1 486.0,209.8 486.1,210.1 487.0,213.7 487.0,213.7 488.0,217.7 488.1,218.1 489.0,221.7 490.0,225.7 490.0,225.7 490.1,226.1 491.0,230.2 491.6,233.1 492.0,240.6 493.0,247.9 493.0,248.1 494.0,257.4 495.0,266.9 495.0,267.1 496.0,266.5 497.0,265.8 498.0,265.2 498.0,265.1 499.0,259.6 500.0,254.0 501.0,248.3 501.0,248.1 502.0,243.6 503.0,238.9 504.0,234.3 504.0,234.1 505.0,233.1 506.0,232.1 507.0,231.1 507.0,231.1 508.0,234.6 509.0,238.3 510.0,242.0 510.0,242.1 511.0,246.0 512.0,250.0 513.0,254.0 513.0,254.1 514.0,256.8 515.0,259.5 516.0,262.3 517.0,265.0 517.0,265.1 518.0,261.6 519.0,258.0 520.0,254.3 520.1,254.1 521.0,252.5 522.0,250.9 523.0,249.2 523.1,249.1 524.0,254.2 525.0,259.5 526.0,264.8 526.1,265.1 527.0,264.8 528.0,264.5 529.0,264.2 529.1,264.1 530.0,259.7 531.0,255.1 532.0,250.4 532.1,250.1 533.0,240.7 534.0,230.7 534.1,230.1 535.0,218.9 536.0,206.9 536.1,206.1 537.0,209.8 538.0,213.8 538.1,214.1 539.0,220.3 540.0,227.0 541.0,233.6 541.1,234.1 542.0,237.8 543.0,241.8 544.0,245.8 544.1,246.1 545.0,252.6 546.0,259.6 546.1,260.1 547.0,271.2 548.0,283.2 548.1,284.2 549.0,290.3 550.0,297.0 551.0,303.6 551.1,304.2 552.0,307.8 553.0,311.8 554.0,315.8 554.1,316.2 555.0,316.5 556.0,316.8 557.0,317.2 557.1,317.2 558.0,313.8 559.0,310.2 560.0,306.5 560.1,306.2 561.0,308.0 562.0,310.0 562.1,310.2 563.0,312.9 564.0,315.9 564.1,316.2 565.0,319.5 566.0,323.2 567.0,326.8 567.1,327.2 568.0,320.3 569.0,312.6 570.0,304.9 570.1,304.2 571.0,303.6 572.0,302.9 573.0,302.2 573.1,302.2 574.0,301.6 575.0,300.9 576.0,300.2 576.1,300.2 577.0,299.5 578.0,298.7 579.0,298.0 580.0,297.2 580.1,297.2 581.0,296.9 582.0,296.5 583.0,296.2 583.1,296.2 584.0,298.5 585.0,301.2 586.0,303.9 586.1,304.2 587.0,307.7 588.0,311.7 589.0,315.7 589.1,316.2 590.0,319.7 591.0,323.7 592.0,327.7 592.1,328.2 593.0,326.4 594.0,324.4 595.0,322.4 595.1,322.2 596.0,319.9 597.0,317.2 598.0,314.5 598.1,314.2 599.0,314.5 600.0,314.8 601.0,315.1 601.1,315.2 602.0,314.3 603.0,313.3 604.0,312.3 604.1,312.2 605.0,311.6 606.0,310.9 607.0,310.3 607.1,310.2 608.0,310.8 609.0,311.4 610.0,312.1 610.1,312.2 611.0,313.6 612.0,315.3 613.0,316.9 613.1,317.2 614.0,320.3 615.0,324.0 616.0,327.7 616.1,328.2 617.0,330.5 618.0,333.1 619.0,335.8 619.1,336.2 620.0,333.9 621.0,331.3 622.0,328.6 622.2,328.2 623.0,324.8 624.0,320.8 625.0,316.8 625.2,316.2 626.0,312.2 627.0,307.6 628.0,302.9 628.2,302.2 629.0,300.5 630.0,298.5 631.0,296.5 631.2,297.1 632.0,297.6 633.0,298.3 634.0,299.0 634.2,299.1 635.0,309.5 636.0,322.0 636.2,324.1 637.0,333.3 638.0,344.3 638.2,346.1 639.0,346.9 640.0,347.9 640.2,348.1 641.0,347.3 642.0,346.3 642.2,346.1 643.0,342.8 644.0,338.8 645.0,334.8 645.2,334.1 646.0,335.2 647.0,336.5 648.0,337.9 648.2,338.1 649.0,339.2 650.0,340.5 651.0,341.9 651.2,342.1 652.0,342.1 653.0,342.1 654.0,342.1 654.2,342.1 655.0,345.4 656.0,349.4 657.0,353.4 657.2,354.1 658.0,356.8 659.0,360.2 660.0,363.5 660.2,364.1 661.0,366.3 662.0,369.0 663.0,371.6 663.2,372.1 664.0,373.2 665.0,374.6 666.0,375.9 666.2,376.1 667.0,376.7 668.0,377.3 669.0,378.0 669.2,378.1 670.0,377.6 671.0,376.9 672.0,376.3 672.2,376.1 673.0,376.9 674.0,377.9 674.2,378.1 675.0,375.0 676.0,371.0 676.2,370.1 677.0,368.0 678.0,365.4 679.0,362.7 679.2,362.1 680.0,363.7 681.0,365.7 682.0,367.7 682.2,368.1 683.0,370.8 684.0,374.1 685.0,377.4 685.2,378.1 686.0,379.7 687.0,381.7 688.0,383.7 688.2,384.2 689.0,384.4 690.0,384.7 691.0,385.1 691.2,385.2 692.0,381.3 693.0,376.3 694.0,371.3 694.2,370.1 695.0,370.1 696.0,370.1 696.2,370.1 697.0,371.2 698.0,372.5 699.0,373.8 699.2,374.1 700.0,374.1 701.0,374.5 702.0,374.8 702.2,374.9 703.0,375.1 703.0,375.1 704.0,376.1 705.0,377.1 705.2,377.4 706.0,378.1 706.0,378.1 707.0,380.1 708.0,382.1 708.0,382.2 708.2,381.5 709.0,379.5 710.0,376.8 710.0,376.7 711.0,374.2 711.0,374.1 712.0,372.7 713.0,371.2 713.0,371.1 714.0,372.8 715.0,374.5 716.0,376.1 716.0,376.1 717.0,378.1 718.0,380.1 719.0,382.1 719.0,382.2 720.0,383.5 721.0,384.8 722.0,386.1 722.0,386.2 723.0,386.8 724.0,387.5 725.0,388.1 725.0,388.2 726.0,389.8 727.0,391.4 728.0,393.1 728.0,393.2 729.0,393.6 730.0,394.1 730.0,394.2 731.0,392.2 732.0,390.2 733.0,388.2 733.0,388.2 734.0,388.8 735.0,389.5 736.0,390.1 736.0,390.2 737.0,388.2 738.0,386.2 739.0,384.2 739.0,384.2 740.0,382.6 741.0,380.9 742.0,379.2 742.0,379.1 743.0,380.7 744.0,382.4 745.0,384.1 745.0,384.2 746.0,385.4 747.0,386.8 748.0,388.1 748.0,388.2 749.0,385.6 750.0,383.0 751.0,380.3 751.1,380.2 752.0,379.2 753.0,378.2 753.1,378.1 754.0,378.8 755.0,379.4 756.0,380.1 756.1,380.2 757.0,378.3 758.0,376.3 759.0,374.3 759.1,374.1 760.0,372.7 761.0,371.2 761.1,371.1 762.0,373.3 763.0,375.7 764.0,378.0 764.1,378.1 765.0,380.0 766.0,382.0 767.0,384.0 767.1,384.2 768.0,385.4 769.0,386.7 770.0,388.1 770.1,388.2 771.0,388.5 772.0,388.8 773.0,389.1 773.1,389.2 774.0,388.9 775.0,388.5 776.0,388.2 776.1,388.2 777.0,391.9 778.0,395.9 779.0,399.9 779.1,400.2 780.0,402.0 781.0,404.0 782.0,406.0 782.1,406.2 783.0,406.2 784.0,406.2 785.0,406.2 785.1,406.2 786.0,404.3 787.0,402.3 788.0,400.3 788.1,400.2 789.0,395.3 790.0,390.0 791.0,384.6 791.1,384.2 792.0,382.6 793.0,381.0 794.0,379.3 794.1,379.1 795.0,380.1 796.0,381.1 797.0,382.1 797.1,382.2 798.0,385.2 799.0,388.5 800.0,391.8 800.1,392.2 801.0,392.8 802.0,393.4 803.0,394.1 803.1,394.2 804.0,395.1 805.0,396.1 806.0,397.1 806.1,397.2 807.0,396.3 808.0,395.3 809.0,394.3 809.1,394.2 810.0,393.6 811.0,392.9 812.0,392.2 812.1,392.2 813.0,393.9 814.0,395.9 815.0,397.9 815.1,398.2 816.0,399.1 817.0,400.1 817.1,400.2 818.0,397.5 819.0,394.5 819.1,394.2 820.0,393.9 821.0,393.5 822.0,393.2 822.1,393.2 823.0,392.9 824.0,392.5 825.0,392.2 825.1,392.2 826.0,393.0 827.0,394.0 828.0,395.0 828.1,395.2 829.0,395.5 830.0,395.8 831.0,396.1 831.1,396.2 832.0,397.0 833.0,398.0 834.0,399.0 834.1,399.2 835.0,399.7 836.0,400.4 837.0,401.1 837.1,401.2 838.0,400.9 839.0,400.6 840.0,400.2 840.1,400.2 841.0,400.2 842.0,400.2 843.0,400.2 843.1,400.2 844.0,398.5 845.0,396.5 846.0,394.5 846.1,394.2 847.0,391.6 848.0,388.6 848.1,388.2 849.0,392.4 850.0,397.4 850.2,398.2 851.0,400.3 851.8,402.2 852.0,400.5 853.0,393.9 854.0,387.2 854.2,386.2 855.0,382.2 856.0,377.5 857.0,372.9 857.2,372.1 858.0,375.0 859.0,378.3 860.0,381.6 860.2,382.2 861.0,385.2 862.0,388.9 863.0,392.6 863.2,393.2 864.0,393.7 865.0,394.4 866.0,395.1 866.2,395.2 867.0,395.0 868.0,394.7 869.0,394.5 870.0,394.2 870.2,394.2 871.0,393.6 872.0,392.9 873.0,392.3 873.2,392.2 874.0,391.1 875.0,389.7 876.0,388.4 876.2,388.2 877.0,385.4 878.0,382.1 879.0,378.7 879.2,378.1 880.0,376.5 881.0,374.5 882.0,372.5 882.2,372.1 883.0,374.3 884.0,377.0 885.0,379.7 885.2,380.2 886.0,383.7 887.0,388.0 888.0,392.3 888.2,393.2 889.0,393.2 890.0,393.2 891.0,393.2 891.2,393.2 892.0,392.1 893.0,390.8 894.0,389.4 894.2,389.2 895.0,390.2 896.0,391.6 897.0,392.9 897.2,393.2 898.0,392.0 899.0,390.5 899.2,390.2 900.0,388.1 901.0,381.4 901.5,378.1 902.0,377.5 902.2,377.2 903.0,376.3 904.0,375.1 904.0,375.1 905.0,375.1 905.2,375.1 906.0,375.1 907.0,375.1 907.0,375.1 908.0,376.4 908.2,376.7 909.0,377.7 910.0,379.1 910.0,379.1 911.0,378.6 911.2,378.5 912.0,378.1 912.0,378.1 913.0,375.1 914.0,372.1 914.0,372.1 914.2,371.6 915.0,369.6 916.0,367.1 916.0,367.1 917.0,364.6 917.2,364.1 918.0,362.1 918.0,362.1 919.0,360.1 920.0,358.1 920.2,357.7 920.5,357.1 921.0,356.9 922.0,356.5 923.0,356.1 923.0,356.1 923.2,356.2 924.0,356.8 925.0,357.5 925.0,357.6 926.0,360.5 926.2,361.2 926.5,362.1 927.0,364.0 928.0,368.0 928.0,368.1 929.0,369.0 929.2,369.3 930.0,370.0 930.0,370.1 931.0,369.1 932.0,368.1 932.0,368.1 932.2,367.7 933.0,366.1 933.0,366.1 934.0,364.1 934.5,363.1 935.0,363.1 935.2,363.1 936.0,363.1 936.0,363.1 937.0,363.1 937.0,363.1 938.0,365.0 938.0,365.0 938.2,365.5 939.0,367.0 939.0,367.1 940.0,369.2 940.0,369.3 941.0,371.5 941.0,371.5 941.0,371.6 942.0,371.6 943.0,371.6 943.0,371.6 944.0,370.9 944.0,370.8 945.0,370.1 945.0,370.1 946.0,369.6 947.0,369.1 947.0,369.1 947.0,369.1 948.0,369.5 949.0,370.0 949.0,370.1 950.0,372.4 950.0,372.5 951.0,374.9 951.1,375.1 952.0,374.1 953.0,373.1 953.0,373.1 953.1,373.1 954.0,369.9 954.6,368.1 955.0,365.7 956.0,360.4 956.0,360.2 956.1,360.1 957.0,355.0 957.6,352.1 958.0,349.1 959.0,342.4 959.0,342.2 959.1,342.0 960.0,337.0 960.6,334.0 961.0,335.5 961.0,335.6 962.0,338.8 962.1,339.0 963.0,341.9 964.0,344.9 964.0,345.0 964.1,345.0 965.0,346.0 966.0,347.0 966.1,347.0 967.0,347.4 967.0,347.4 968.0,347.7 969.0,348.0 969.1,348.0 970.0,349.4 970.0,349.5 971.0,350.9 971.1,351.1 972.0,354.8 972.6,357.1 973.0,358.5 973.0,358.6 974.0,361.8 974.1,362.1 975.0,362.5 976.0,363.0 976.0,363.0 976.1,363.1 977.0,360.6 977.6,359.1 978.0,356.8 979.0,351.5 979.0,351.2 979.1,351.1 980.0,346.8 980.6,344.0 981.0,342.8 982.0,339.8 982.1,339.6 982.6,338.0 983.0,339.2 984.0,341.8 984.1,342.0 985.0,345.1 985.1,345.3 985.6,347.0 986.0,345.9 987.0,343.3 987.1,343.0 988.0,340.0 988.1,339.8 988.6,338.0 989.0,339.1 990.0,341.8 990.1,342.0 991.0,344.8 991.1,345.0 992.0,347.8 992.1,348.0 993.0,351.7 994.0,355.7 994.1,355.9 994.1,356.1 995.0,359.2 996.0,362.7 996.1,363.1 997.0,365.8 997.1,366.0 998.0,368.8 998.1,369.1 999.0,370.9 1000.0,372.9 1000.1,373.0 1000.1,373.1 1001.0,373.5 1002.0,374.0 1002.1,374.1 1003.0,373.4 1003.1,373.3 1004.0,372.6 1004.6,372.1 1005.0,371.4 1006.0,369.8 1006.1,369.7 1007.0,368.2 1007.1,368.1 1008.0,367.5 1009.0,366.8 1009.1,366.8 1010.0,366.1 1010.1,366.1 1011.0,366.8 1012.0,367.6 1012.1,367.6 1012.6,368.1 1013.0,368.3 1014.0,369.0 1014.1,369.1 1015.0,366.4 1015.1,366.2 1016.0,363.4 1016.1,363.1 1017.0,360.0 1018.0,356.5 1018.1,356.2 1018.1,356.1 1019.0,354.2 1020.0,352.1 1020.0,352.1 1021.0,352.3 1021.1,352.2 1022.0,351.9 1023.0,351.5 1024.0,351.2 1024.1,351.2 1025.0,351.8 1026.0,352.4 1027.0,353.1 1027.1,353.2 1028.0,355.3 1029.0,357.6 1030.0,359.9 1030.1,360.2 1031.0,362.9 1032.0,365.9 1033.0,368.9 1033.1,369.2 1034.0,368.3 1035.0,367.3 1036.0,366.3 1036.1,366.2 1037.0,363.2 1038.0,359.9 1039.0,356.5 1039.1,356.2 1040.0,353.8 1041.0,351.1 1042.0,348.5 1042.1,348.2 1043.0,345.8 1044.0,343.1 1045.0,340.5 1045.1,340.2 1046.0,341.3 1047.0,342.7 1048.0,344.0 1048.1,344.2 1049.0,346.5 1050.0,349.2 1051.0,351.8 1051.1,352.2 1052.0,349.8 1053.0,347.2 1054.0,344.5 1054.1,344.2 1055.0,340.7 1056.0,336.7 1057.0,332.7 1057.1,332.2 1058.0,326.3 1059.0,319.7 1060.0,313.0 1060.1,312.1 1061.0,311.3 1062.0,310.3 1062.1,310.1 1063.0,316.2 1064.0,323.2 1064.1,324.1 1065.0,327.6 1066.0,331.6 1067.0,335.6 1067.1,336.2 1068.0,339.6 1069.0,343.6 1070.0,347.6 1070.1,348.2 1071.0,350.5 1072.0,353.1 1073.0,355.8 1073.1,356.2 1074.0,353.3 1075.0,350.0 1076.0,346.7 1076.1,346.2 1077.0,342.8 1078.0,338.8 1079.0,334.8 1079.1,334.2 1080.0,331.0 1081.0,327.4 1082.0,323.7 1082.2,323.1 1083.0,324.6 1084.0,326.2 1085.0,327.9 1085.2,328.1 1086.0,332.1 1087.0,336.8 1088.0,341.4 1088.2,342.2 1089.0,343.0 1090.0,344.0 1091.0,345.0 1091.2,345.2 1092.0,345.4 1093.0,345.8 1094.0,346.1 1094.2,346.2 1095.0,343.4 1096.0,340.0 1097.0,336.7 1097.2,336.2 1098.0,333.1 1099.0,329.4 1100.0,325.8 1100.2,325.1 1101.0,324.9 1102.0,324.5 1103.0,324.2 1103.2,324.1 1104.0,324.7 1105.0,325.4 1106.0,326.0 1106.2,326.1 1107.0,326.4 1108.0,326.8 1109.0,327.1 1109.2,327.1 1110.0,326.3 1111.0,325.3 1111.2,325.1 1112.0,328.1 1113.0,331.8 1114.0,335.5 1114.2,336.2 1115.0,335.6 1116.0,334.9 1117.0,334.3 1117.2,334.2 1118.0,333.6 1119.0,332.9 1120.0,332.3 1120.2,332.2 1121.0,331.6 1122.0,330.9 1123.0,330.3 1123.2,330.2 1124.0,329.9 1125.0,329.5 1126.0,329.2 1126.2,329.1 1127.0,328.9 1128.0,328.5 1129.0,328.2 1129.2,328.1 1130.0,328.7 1131.0,329.3 1132.0,330.0 1132.2,330.2 1133.0,334.1 1134.0,339.1 1134.2,340.2 1135.0,344.5 1136.0,350.0 1136.2,351.2 1137.0,346.0 1138.0,339.5 1138.2,338.2 1139.0,334.5 1140.0,329.8 1141.0,325.1 1141.2,324.1 1142.0,322.0 1143.0,319.4 1144.0,316.7 1144.2,316.1 1145.0,316.7 1146.0,317.3 1147.0,318.0 1147.2,318.1 1148.0,320.2 1149.0,322.9 1150.0,325.6 1150.2,326.1 1151.0,325.1 1152.0,323.8 1153.0,322.4 1153.2,322.1 1154.0,321.1 1155.0,319.8 1156.0,318.4 1156.2,318.1 1157.0,319.7 1158.0,321.7 1159.0,323.7 1159.2,324.1 1160.0,325.2 1161.0,326.5 1162.0,327.8 1162.2,328.1 1163.0,327.6 1164.0,327.0 1164.2,326.1 1165.0,325.0 1165.2,324.7 1166.0,323.7 1167.0,322.4 1167.2,322.1 1168.0,323.2 1168.2,323.5 1169.0,324.5 1170.0,325.9 1170.0,325.9 1170.2,326.1 1171.0,328.0 1172.0,330.3 1173.0,332.7 1173.2,333.1 1174.0,331.1 1175.0,328.6 1175.2,328.1 1176.0,321.7 1177.0,313.7 1177.2,312.1 1178.0,308.1 1179.0,303.1 1179.2,302.1 1180.0,300.5 1181.0,298.5 1182.0,296.5 1182.2,296.1 1183.0,296.4 1184.0,296.7 1185.0,297.0 1185.2,297.1 1186.0,297.4 1187.0,297.7 1188.0,298.0 1188.2,298.1 1189.0,298.6 1190.0,299.3 1191.0,300.0 1191.2,300.1 1192.0,300.9 1193.0,301.9 1194.0,302.9 1195.0,303.9 1195.2,304.1 1196.0,303.1 1197.0,301.7 1198.0,300.4 1198.2,300.1 1199.0,297.5 1200.0,294.2 1201.0,290.8 1201.2,290.1 1202.0,287.5 1203.0,284.2 1204.0,280.8 1204.2,280.1 1205.0,281.6 1206.0,283.6 1206.2,284.1 1207.0,286.4 1208.0,289.4 1208.2,290.1 1209.0,297.0 1210.0,306.0 1210.2,308.1 1211.0,308.9 1211.1,309.0" fill="none" stroke="#000" stroke-width="3.1" stroke-linejoin="round"/>
<polygon points="72.7,240.5 73.0,239.8 74.0,237.4 75.0,235.1 76.0,232.8 77.0,230.4 78.0,228.1 78.0,228.1 79.0,229.9 80.0,231.8 81.0,233.6 81.0,233.6 82.0,235.4 83.0,237.3 84.0,239.1 84.0,239.1 85.0,237.7 86.0,236.3 86.0,236.3 87.0,234.9 88.0,233.5 88.0,233.5 89.0,232.1 89.0,232.1 90.0,228.5 91.0,224.8 92.0,221.2 92.0,221.1 93.0,221.6 94.0,222.1 94.0,222.1 95.0,224.7 96.0,227.4 97.0,230.0 97.0,230.1 98.0,231.3 98.0,231.4 99.0,232.6 100.0,233.8 101.0,235.1 101.0,235.1 102.0,227.8 103.0,220.3 104.0,212.8 105.0,205.3 105.0,205.1 106.0,205.6 107.0,206.1 107.0,206.1 108.0,213.8 109.0,221.8 110.0,229.8 110.0,230.1 111.0,231.7 112.0,233.4 113.0,235.0 113.0,235.1 114.0,233.2 115.0,231.2 115.0,231.1 116.0,230.1 116.0,230.1 117.0,229.1 118.0,228.1 118.0,228.1 119.0,224.8 119.0,224.6 120.0,221.3 121.0,217.8 121.0,217.6 122.0,214.3 122.1,214.1 123.0,210.5 124.0,206.8 125.0,203.0 126.0,199.3 126.1,199.1 127.0,200.5 128.0,202.0 128.1,202.1 129.0,208.7 129.1,209.1 130.0,215.7 130.1,216.1 131.0,217.0 132.0,218.0 132.1,218.1 133.0,219.0 134.0,220.0 134.1,220.1 135.0,217.7 135.1,217.6 136.0,215.2 137.0,212.7 138.0,210.2 138.1,210.1 139.0,213.2 140.0,216.5 141.0,219.9 141.1,220.1 142.0,223.2 143.0,226.5 144.0,229.9 144.1,230.1 145.0,226.4 145.1,226.1 146.0,222.4 147.0,218.4 148.0,214.4 148.1,214.1 149.0,210.6 149.1,210.3 150.0,206.8 151.0,203.0 152.0,199.2 152.1,198.9 153.0,195.4 153.1,195.1 154.0,197.2 154.1,197.4 155.0,199.5 156.0,201.9 156.1,202.1 157.0,204.4 157.1,204.6 158.0,206.9 159.0,209.4 160.0,211.9 160.1,212.1 161.0,210.3 162.0,208.3 163.0,206.3 163.1,206.1 164.0,207.3 164.1,207.4 165.0,208.6 166.0,210.0 166.1,210.1 167.0,211.4 167.1,211.6 168.0,212.9 168.1,213.1 169.0,209.9 170.0,206.4 170.1,206.1 171.0,197.1 172.0,187.1 173.0,177.1 173.1,176.0 174.0,166.4 175.0,155.6 175.7,148.0 176.0,149.5 176.1,150.0 177.0,154.5 178.0,159.5 178.1,160.0 179.0,162.4 180.0,165.1 181.0,167.7 181.1,168.0 182.0,169.2 183.0,170.6 184.0,171.9 184.1,172.0 185.0,170.3 186.0,168.3 187.0,166.3 187.1,166.0 188.0,167.2 189.0,168.5 189.1,168.7 190.0,169.9 190.1,170.0 191.0,171.8 191.1,172.0 192.0,173.8 193.0,175.8 193.1,176.0 194.0,176.9 194.1,177.0 195.0,177.9 196.0,178.9 197.0,179.9 197.1,180.1 198.0,180.5 199.0,181.0 200.0,181.5 200.1,181.6 201.0,182.0 201.1,182.1 202.0,182.9 203.0,183.9 203.1,184.1 204.0,182.3 205.0,180.3 206.0,178.3 206.1,178.0 207.0,176.9 208.0,175.6 208.1,175.4 209.0,174.2 209.1,174.0 210.0,171.9 211.0,169.4 211.1,169.0 212.0,169.9 213.0,170.9 214.0,171.9 214.1,172.0 215.0,166.0 216.0,159.0 216.1,158.0 217.0,156.6 217.1,156.4 218.0,154.9 219.0,153.3 219.1,153.0 220.0,158.6 221.0,165.1 221.1,166.0 222.0,168.9 223.0,172.2 224.0,175.5 224.2,176.0 225.0,177.2 226.0,178.5 227.0,179.8 227.2,180.1 228.0,177.1 229.0,173.6 229.2,173.0 230.0,177.8 231.0,183.5 232.0,189.2 232.2,190.1 233.0,184.5 234.0,177.8 234.2,176.7 235.0,171.1 235.2,170.0 236.0,165.9 237.0,160.9 237.2,160.0 238.0,155.9 239.0,150.9 239.2,150.0 240.0,152.1 240.2,151.5 241.0,148.6 242.0,145.1 243.0,141.6 243.0,141.6 244.0,138.1 244.0,138.1 244.2,137.6 245.0,135.1 246.0,132.1 247.0,129.1 247.0,129.1 248.0,126.1 248.0,126.1 248.2,126.8 249.0,130.1 250.0,134.1 251.0,138.1 251.0,138.1 251.2,138.6 252.0,140.7 253.0,143.4 254.0,146.1 254.0,146.1 254.2,146.8 255.0,150.1 255.0,150.1 256.0,154.1 257.0,158.1 257.0,158.1 257.2,157.9 258.0,156.8 258.0,156.8 259.0,155.5 260.0,154.2 260.0,154.1 261.0,151.5 261.0,151.5 261.2,151.0 262.0,148.8 263.0,146.2 263.0,146.1 264.0,145.8 264.2,145.7 265.0,145.5 265.0,145.4 266.0,145.1 266.0,145.1 267.0,139.5 267.2,138.4 268.0,133.8 269.0,128.0 269.2,126.9 270.0,122.3 270.0,122.1 271.0,124.7 271.2,125.2 272.0,127.3 273.0,130.0 273.0,130.1 274.0,136.5 274.2,137.9 275.0,143.2 276.0,149.9 276.0,150.1 276.2,150.8 277.0,154.0 278.0,158.0 279.0,162.0 279.0,162.1 279.2,162.8 280.0,166.0 280.0,166.1 281.0,162.3 282.0,158.3 282.0,158.1 282.2,157.5 283.0,154.3 284.0,150.3 284.0,150.1 285.0,147.6 285.0,147.5 285.2,147.0 286.0,144.9 287.0,142.2 287.0,142.1 288.0,139.3 288.2,138.6 289.0,136.3 289.0,136.1 290.0,133.3 290.1,133.1 291.0,134.7 291.2,135.1 291.7,135.8 292.0,136.4 293.0,138.0 293.1,138.1 293.2,138.8 294.0,141.9 294.1,142.1 295.0,145.9 296.0,149.9 296.1,150.1 296.2,151.4 297.0,157.2 297.1,157.6 298.0,164.7 299.0,172.2 299.2,173.9 300.0,179.7 300.1,180.2 301.0,177.0 301.2,176.3 302.0,173.7 303.0,170.4 303.1,170.1 304.0,161.4 304.2,159.2 305.0,152.1 306.0,142.7 306.1,142.1 307.0,135.3 307.2,133.5 308.0,127.9 309.0,120.6 309.1,120.1 310.0,115.4 310.2,114.2 311.0,110.4 311.1,110.1 312.0,111.3 312.1,111.4 313.0,112.7 314.0,114.0 314.1,114.1 315.0,116.9 315.1,117.1 316.0,119.9 317.0,122.9 317.1,123.1 318.0,121.6 318.1,121.4 319.0,119.9 320.0,118.2 320.1,118.1 321.0,108.9 321.1,108.1 322.0,98.9 323.0,88.9 324.0,78.9 324.1,78.0 325.0,71.3 326.0,64.0 327.0,56.7 327.1,56.0 328.0,49.6 329.0,42.5 329.1,41.8 329.5,39.0 330.0,42.3 331.0,48.9 332.0,55.4 332.1,56.0 333.0,63.9 334.0,72.6 335.0,81.2 335.1,82.1 336.0,83.9 337.0,85.9 338.0,87.9 338.1,88.1 339.0,89.3 340.0,90.6 341.0,91.9 341.1,92.1 342.0,89.4 343.0,86.4 344.0,83.4 344.1,83.1 345.0,86.9 346.0,91.3 347.0,95.6 347.1,96.1 348.0,99.6 349.0,103.6 350.0,107.6 350.7,110.5 351.0,111.6 351.1,112.1 352.0,112.7 353.0,113.3 354.0,114.0 354.1,114.1 355.0,114.1 356.0,114.1 357.0,114.1 357.1,114.1 358.0,117.6 359.0,121.6 360.0,125.6 360.1,126.1 361.0,130.8 362.0,136.1 363.0,141.5 363.1,142.1 364.0,145.6 365.0,149.6 365.1,150.1 366.0,153.6 366.1,154.1 367.0,147.1 368.0,139.1 368.1,138.1 369.0,131.1 369.1,130.1 370.0,117.3 371.0,102.7 371.1,100.7 372.0,88.0 372.1,86.1 373.0,82.0 374.0,77.3 374.1,76.7 375.0,72.7 375.1,72.0 376.0,73.2 377.0,74.5 377.1,74.7 378.0,75.9 378.1,76.0 379.0,81.2 380.0,87.2 380.1,88.1 381.0,93.2 381.1,94.1 382.0,94.6 382.0,94.6 383.0,95.3 383.1,95.4 384.0,96.0 384.0,96.0 384.1,96.1 385.0,96.6 385.5,97.0 386.0,97.3 386.1,97.4 387.0,98.0 387.0,98.0 387.1,98.1 388.0,102.0 389.0,106.7 389.0,106.8 389.1,107.4 390.0,111.4 390.2,112.1 391.0,116.0 391.0,116.1 392.0,120.7 392.2,121.4 393.0,125.4 393.0,125.4 393.2,126.1 394.0,128.4 395.0,131.0 395.0,131.1 395.2,131.4 396.0,133.7 396.2,134.1 396.5,127.9 397.0,119.5 398.0,102.1 398.0,101.8 398.2,99.4 399.0,84.8 399.2,82.1 399.5,79.6 400.0,76.2 401.0,69.3 401.8,64.0 402.0,65.0 403.0,69.2 404.0,73.4 404.2,74.0 405.0,85.2 405.2,87.4 406.0,98.5 406.0,98.9 407.0,111.9 407.0,112.2 407.2,114.1 408.0,118.0 408.2,118.8 409.0,122.6 409.0,122.8 410.0,127.3 410.2,128.1 411.0,132.0 411.0,132.1 411.2,132.8 412.0,136.6 413.0,141.3 413.0,141.5 413.2,142.1 414.0,144.3 414.2,144.8 415.0,147.0 415.0,147.1 416.0,149.7 416.2,150.1 417.0,147.9 417.0,147.8 417.2,147.5 418.0,145.3 419.0,142.6 419.0,142.5 419.2,142.1 420.0,138.8 420.2,138.1 421.0,134.8 422.0,130.8 422.0,130.7 422.2,130.1 423.0,128.5 424.0,126.5 424.2,126.1 424.5,125.4 425.0,124.5 426.0,122.5 426.2,122.1 427.0,124.3 427.0,124.4 428.0,126.9 428.2,127.4 429.0,129.6 429.0,129.7 429.2,130.1 430.0,133.3 431.0,137.3 431.1,137.5 432.0,141.3 432.2,142.1 433.0,147.0 433.1,147.3 434.0,153.0 435.0,159.0 435.1,159.3 435.2,160.1 435.8,154.9 436.0,153.2 436.1,152.7 437.0,144.5 437.6,139.7 438.0,135.8 438.2,134.1 439.0,127.7 439.1,127.2 439.2,126.1 440.0,119.7 440.6,115.2 441.0,111.7 441.0,105.1 441.2,103.1 442.0,95.1 442.1,94.5 442.2,93.1 442.5,90.1 443.0,89.5 444.0,88.3 444.1,88.2 444.2,88.0 445.0,87.1 445.0,87.1 445.2,87.7 446.0,90.4 446.1,90.6 446.5,92.1 447.0,93.3 447.2,93.8 448.0,95.8 448.1,96.0 448.2,96.3 448.5,97.1 449.0,95.9 450.0,93.6 450.1,93.4 450.2,93.1 451.0,91.3 451.5,90.1 451.6,90.5 451.8,92.1 452.0,93.3 453.0,100.0 453.0,100.1 453.1,100.4 453.2,101.1 454.0,105.3 454.2,106.5 454.5,108.1 454.6,108.8 455.0,113.6 456.0,124.9 456.0,125.1 456.1,125.7 456.2,127.1 457.0,134.8 457.0,135.0 457.2,134.8 457.6,134.4 458.0,134.0 459.0,140.7 459.1,141.2 459.2,142.1 460.0,143.2 460.2,143.4 461.0,144.5 461.1,144.6 462.0,145.8 462.2,146.1 463.0,145.9 463.1,145.8 464.0,145.5 464.2,145.4 465.0,145.2 465.1,145.2 465.2,145.1 466.0,144.9 467.0,144.5 467.1,144.5 468.0,144.2 468.2,144.1 468.6,145.1 469.0,146.2 470.0,158.0 470.1,158.2 471.0,160.0 471.2,160.5 472.0,162.0 473.0,164.0 473.0,164.0 473.1,164.1 474.0,164.7 475.0,165.4 475.2,165.5 476.0,166.0 476.0,166.0 476.1,166.0 476.2,166.0 477.0,165.8 478.0,165.5 478.1,165.5 479.0,165.3 479.0,165.3 480.0,165.0 480.0,165.0 480.0,164.9 480.1,164.7 481.0,160.8 482.0,156.6 482.0,156.5 482.1,156.1 483.0,152.3 484.0,148.1 484.0,148.0 484.6,148.3 485.0,148.5 485.0,148.5 486.0,149.0 486.6,149.3 487.0,149.5 488.0,150.0 488.0,150.0 488.6,150.4 489.0,150.7 490.0,151.3 490.1,151.4 491.0,152.0 491.0,152.0 491.6,151.2 492.0,150.7 493.0,149.4 493.1,149.2 494.0,148.1 494.0,148.0 495.0,146.1 495.1,145.8 496.0,144.1 497.0,142.1 497.0,142.0 497.1,141.8 498.0,140.1 499.0,138.1 500.0,136.1 500.0,136.0 500.0,136.0 500.1,135.0 501.0,130.1 501.6,127.1 502.0,126.4 503.0,124.7 503.0,124.6 504.0,123.0 504.6,122.1 505.0,120.1 506.0,115.4 506.0,115.2 506.1,115.1 507.0,108.2 507.6,104.1 508.0,104.9 508.0,105.0 509.0,106.9 510.0,108.9 510.1,109.1 511.0,112.3 511.0,112.5 512.0,115.8 512.1,116.1 513.0,118.9 514.0,121.9 514.0,122.0 514.1,122.1 515.0,125.8 516.0,129.8 516.1,130.1 517.0,133.1 517.0,133.3 517.6,135.0 518.0,135.9 519.0,137.9 519.0,138.0 520.0,138.5 520.1,138.5 521.0,139.0 522.0,139.5 523.0,140.0 523.1,140.0 524.0,141.3 525.0,142.6 526.0,143.9 526.1,144.0 527.0,148.7 528.0,153.7 528.1,154.0 529.0,160.6 529.1,161.0 530.0,167.6 530.1,168.0 531.0,168.7 532.0,169.3 532.1,169.4 533.0,170.0 533.1,170.0 534.0,171.0 535.0,172.0 535.1,172.0 536.0,173.0 536.1,173.0 537.0,175.2 538.0,177.6 538.1,177.7 539.0,179.9 539.1,180.1 540.0,180.7 541.0,181.3 541.1,181.4 542.0,182.0 542.1,182.1 543.0,180.8 544.0,179.5 544.1,179.4 545.0,178.1 545.1,178.0 546.0,182.4 547.0,187.0 547.1,187.4 548.0,191.7 548.1,192.1 549.0,195.1 550.0,198.5 550.1,198.7 551.0,201.8 551.1,202.1 552.0,205.1 553.0,208.5 553.1,208.7 554.0,211.8 554.1,212.1 555.0,213.9 556.0,215.9 556.1,216.1 557.0,217.9 557.1,218.1 558.0,217.5 558.1,217.4 559.0,216.8 560.0,216.1 560.1,216.1 561.0,214.3 561.1,214.1 562.0,212.3 563.0,210.3 563.1,210.1 564.0,207.7 564.1,207.4 565.0,205.0 566.0,202.3 566.1,202.1 567.0,200.3 567.1,200.1 568.0,198.3 568.1,198.1 569.0,201.7 570.0,205.7 570.1,206.1 571.0,209.1 572.0,212.4 573.0,215.7 573.1,216.1 574.0,221.5 575.0,227.5 576.0,233.5 576.1,234.1 577.0,236.5 578.0,239.2 579.0,241.8 579.1,242.1 580.0,237.4 581.0,232.0 582.0,226.7 582.1,226.1 583.0,222.5 584.0,218.5 584.1,218.1 585.0,215.7 585.1,215.4 586.0,213.1 587.0,210.4 587.1,210.1 588.0,211.8 589.0,213.8 590.0,215.8 590.1,216.1 591.0,219.0 592.0,222.4 593.0,225.7 593.1,226.1 594.0,229.6 595.0,233.6 596.0,237.6 596.1,238.1 597.0,240.4 598.0,243.1 599.0,245.8 599.1,246.1 600.0,249.6 601.0,253.6 602.0,257.6 602.1,258.1 603.0,261.6 604.0,265.6 605.0,269.6 605.1,270.1 606.0,270.1 607.0,270.1 608.0,270.1 608.1,270.1 609.0,269.0 610.0,267.7 610.1,267.5 611.0,266.3 611.1,266.1 612.0,271.9 613.0,278.5 613.1,279.5 614.0,285.2 614.1,286.2 615.0,290.2 616.0,294.8 616.1,295.5 617.0,299.5 617.1,300.2 618.0,300.2 619.0,300.2 619.1,300.2 620.0,300.2 620.2,300.2 621.0,300.2 621.2,300.2 622.0,302.3 622.2,302.7 623.0,304.8 623.2,305.2 624.0,307.3 625.0,309.8 625.2,310.2 626.0,306.2 626.2,305.5 627.0,301.6 628.0,296.9 628.2,296.2 629.0,296.7 630.0,297.4 630.2,297.5 631.0,298.1 631.2,298.2 632.0,298.2 633.0,298.2 633.2,298.2 634.0,298.2 634.2,298.2 635.0,297.8 636.0,297.3 636.2,297.2 637.0,296.8 638.0,296.3 638.2,296.2 639.0,295.6 640.0,294.9 641.0,294.3 641.2,294.2 642.0,293.6 643.0,292.9 644.0,292.3 644.2,282.1 645.0,280.4 646.0,278.4 646.2,278.0 647.0,276.4 647.2,276.0 648.0,275.4 649.0,274.6 649.2,274.5 649.8,274.0 650.0,274.6 651.0,277.1 651.2,277.5 652.0,279.6 652.2,280.1 653.0,283.9 653.2,284.7 654.0,288.5 655.0,293.2 655.2,294.1 656.0,298.4 656.2,299.4 657.0,303.7 658.0,309.1 658.2,310.1 659.0,313.9 659.2,314.8 660.0,318.5 661.0,323.2 661.2,324.1 662.0,323.6 662.2,323.4 663.0,322.9 664.0,322.2 664.2,322.1 665.0,321.6 665.2,321.4 666.0,320.9 667.0,320.2 667.2,320.1 668.0,319.6 668.2,319.4 669.0,318.9 670.0,318.2 670.2,318.1 671.0,320.2 671.2,320.8 672.0,322.9 673.0,325.6 673.2,326.1 674.0,328.2 674.2,328.8 675.0,330.9 676.0,333.6 676.2,334.1 677.0,334.1 677.2,334.1 678.0,334.1 679.0,334.1 679.2,334.1 680.0,333.0 680.2,332.8 681.0,331.7 682.0,330.4 682.2,330.1 683.0,328.9 683.2,328.6 684.0,327.4 685.0,325.9 686.0,324.4 686.2,324.1 687.0,320.4 688.0,315.8 689.0,311.1 689.2,310.1 690.0,307.0 691.0,303.0 692.0,299.0 692.2,298.1 693.0,301.2 694.0,305.2 695.0,309.2 695.2,310.1 696.0,314.7 697.0,320.7 698.0,326.7 698.2,328.1 699.0,328.6 700.0,330.1 701.0,330.1 701.2,330.1 702.0,330.1 702.0,330.1 702.2,330.1 703.0,330.1 704.0,330.1 704.0,330.1 704.2,331.0 704.6,332.4 705.0,334.1 706.0,338.1 706.0,338.1 706.9,341.5 707.0,342.1 707.0,342.1 707.2,342.9 708.0,345.4 709.0,348.8 709.0,348.8 710.0,352.1 710.0,352.1 710.0,352.2 710.3,352.7 711.0,354.1 712.0,356.1 712.0,356.1 713.0,358.1 713.0,358.1 713.7,358.6 714.0,358.8 715.0,359.5 715.0,359.5 716.0,360.1 716.0,360.1 717.0,359.5 717.2,359.4 718.0,358.8 718.0,358.8 719.0,358.1 719.0,358.1 720.0,359.4 720.6,360.2 721.0,360.8 721.0,360.8 722.0,362.1 722.0,362.1 723.0,363.1 724.0,364.1 724.0,364.1 724.0,364.1 725.0,365.1 726.0,366.1 726.0,366.1 727.0,365.5 727.0,365.5 728.0,364.8 728.6,364.4 729.0,364.2 729.0,364.1 730.0,363.5 730.0,363.5 731.0,362.8 732.0,362.2 732.0,362.1 733.0,359.6 733.0,359.5 733.2,359.1 734.0,356.9 735.0,354.2 735.0,354.1 736.0,350.3 736.0,350.1 736.6,347.8 737.0,346.3 738.0,342.3 739.0,338.3 739.0,338.1 740.0,336.2 741.0,334.2 742.0,332.2 742.0,332.1 742.3,331.5 743.0,330.2 743.0,330.1 744.0,332.0 745.0,334.0 745.0,334.1 746.0,336.0 746.0,336.1 746.9,338.4 747.0,338.6 748.0,341.3 748.0,341.4 749.0,344.0 749.0,344.1 750.0,345.4 751.0,346.7 751.1,346.8 751.5,347.4 752.0,348.0 752.1,348.1 753.0,347.2 753.1,347.1 754.0,346.2 754.9,345.3 755.0,345.2 755.1,345.1 756.0,345.4 756.1,345.4 757.0,345.8 758.0,346.1 758.1,346.1 759.0,345.2 759.1,345.1 759.5,344.7 760.0,344.2 761.0,343.2 761.1,343.1 762.0,342.2 762.1,342.1 762.9,341.2 763.0,341.2 764.0,340.2 764.1,340.1 765.0,342.3 766.0,344.6 766.1,344.8 766.4,345.5 767.0,347.0 767.1,347.1 768.0,346.2 769.0,345.2 769.1,345.1 770.0,344.2 770.1,344.1 771.0,343.4 772.0,342.7 772.1,342.6 772.1,342.6 773.0,341.9 774.0,341.2 774.1,341.1 775.0,340.2 775.1,340.1 776.0,339.2 777.0,338.2 777.1,338.1 778.0,337.5 778.1,337.4 778.9,336.9 779.0,336.8 780.0,336.2 780.1,336.1 781.0,334.3 782.0,332.3 782.1,332.1 782.4,333.0 783.0,334.9 784.0,337.9 784.1,338.1 785.0,339.9 785.1,340.1 786.0,341.9 787.0,343.9 787.0,343.9 787.1,344.1 788.0,344.4 788.1,344.4 789.0,344.8 790.0,345.1 790.1,345.1 791.0,342.4 791.1,342.1 791.5,340.8 792.0,339.4 793.0,336.4 793.1,336.1 794.0,336.7 795.0,337.4 795.0,337.4 796.0,338.0 796.1,338.1 797.0,338.7 798.0,339.4 798.1,339.4 798.4,339.6 799.0,340.0 799.1,340.1 800.0,340.7 801.0,341.4 801.1,341.4 802.0,342.0 802.1,342.1 803.0,340.9 804.0,339.6 804.1,339.4 804.1,339.4 805.0,338.2 805.1,338.1 806.0,335.7 806.1,335.4 807.0,333.1 808.0,330.4 808.1,330.1 808.7,330.9 809.0,331.3 810.0,332.6 811.0,334.0 811.1,334.1 812.0,335.9 812.1,336.1 813.0,337.9 814.0,339.9 814.1,340.1 815.0,340.6 815.6,340.8 816.0,341.1 817.0,341.6 817.1,341.6 818.0,342.1 818.1,342.1 819.0,342.1 820.0,342.1 820.0,342.1 820.1,342.1 821.0,342.1 821.1,342.1 822.0,338.6 823.0,334.6 823.1,334.1 824.0,330.6 824.1,330.1 825.0,325.4 826.0,319.9 826.1,319.3 826.5,317.1 827.0,317.6 828.0,318.8 828.1,318.9 829.0,319.9 829.1,320.1 830.0,321.3 831.0,322.6 831.1,322.8 832.0,323.9 832.1,324.1 833.0,322.6 834.0,321.0 834.1,320.8 835.0,319.3 835.1,319.1 836.0,317.6 837.0,316.0 837.1,315.8 838.0,314.3 838.1,314.1 839.0,314.4 840.0,314.7 840.1,314.8 841.0,315.0 841.1,315.1 842.0,316.2 843.0,317.6 843.1,317.8 844.0,318.9 844.1,319.1 845.0,320.5 846.0,322.2 846.1,322.4 847.0,323.8 847.1,324.1 848.0,325.2 849.0,326.6 849.1,326.8 850.0,327.9 850.2,328.1 851.0,328.7 852.0,329.3 852.2,329.4 853.0,330.0 853.2,330.1 854.0,331.8 855.0,333.8 855.2,334.1 856.0,335.8 856.2,336.1 857.0,338.9 858.0,342.3 858.2,342.8 859.0,345.6 859.2,346.1 860.0,348.4 861.0,351.0 861.2,351.5 862.0,353.7 862.2,354.1 863.0,355.8 864.0,357.8 864.2,358.1 865.0,359.8 865.2,360.1 866.0,357.3 866.2,356.8 867.0,354.0 868.0,350.7 868.2,350.1 869.0,348.5 870.0,346.5 870.2,346.1 871.0,344.5 871.2,344.1 872.0,343.0 873.0,341.7 873.2,341.4 874.0,340.3 874.2,340.1 875.0,336.3 876.0,331.6 876.2,330.8 877.0,326.9 877.2,326.1 878.0,324.5 879.0,322.5 879.2,322.1 880.0,320.5 880.2,320.1 881.0,321.2 882.0,322.5 882.2,322.8 883.0,323.8 883.2,324.1 884.0,326.8 885.0,330.2 885.2,330.8 886.0,333.5 886.2,334.1 887.0,331.4 888.0,328.1 888.2,327.4 889.0,324.7 889.2,324.1 890.0,320.9 891.0,316.9 891.2,316.1 892.0,312.9 892.2,312.1 893.0,310.5 894.0,308.5 894.2,308.1 895.0,306.5 895.2,306.1 896.0,309.8 897.0,314.5 897.2,315.4 898.0,319.2 898.2,320.1 899.0,318.1 900.0,315.6 900.2,315.1 901.0,313.1 902.0,310.6 902.0,310.6 902.2,310.1 903.0,306.4 903.2,305.4 904.0,301.7 904.0,301.7 905.0,297.0 905.2,296.1 906.0,292.9 906.0,292.9 906.2,292.1 907.0,288.9 907.5,286.9 908.0,284.9 908.2,284.1 909.0,288.3 909.0,288.3 910.0,293.6 911.0,298.9 911.0,299.0 911.2,300.1 912.0,302.2 913.0,304.8 913.0,304.9 914.0,307.5 914.2,308.1 914.5,307.1 915.0,305.5 916.0,302.1 916.5,300.4 917.0,298.8 917.2,298.1 918.0,294.9 918.5,292.9 919.0,290.9 920.0,286.9 920.2,286.1 921.0,282.9 921.0,282.9 922.0,278.9 923.0,274.9 923.2,274.0 923.5,275.0 924.0,276.6 925.0,280.0 926.0,283.3 926.0,283.4 926.2,284.1 927.0,283.5 928.0,282.9 928.0,282.9 929.0,282.2 929.2,282.1 930.0,278.1 930.0,278.0 931.0,274.1 932.0,270.1 932.0,270.1 932.0,270.1 932.2,269.9 933.0,269.4 934.0,268.8 934.0,268.8 934.0,268.7 935.0,268.1 935.0,268.1 935.2,268.7 935.5,269.5 936.0,270.7 936.0,270.8 937.0,273.4 937.0,273.5 938.0,276.1 938.0,276.1 938.2,277.5 938.5,279.3 939.0,282.0 940.0,288.0 940.0,288.1 940.0,288.4 941.0,298.0 941.0,298.1 941.5,303.4 942.0,308.0 942.0,308.1 943.0,317.3 943.0,317.8 944.0,326.7 944.0,326.8 945.0,336.0 945.0,336.2 945.0,336.3 946.0,339.4 947.0,342.8 947.0,342.8 947.0,342.9 948.0,346.1 948.0,346.2 948.5,345.1 949.0,344.2 949.0,344.2 950.0,342.2 950.6,341.1 951.0,340.2 951.0,340.2 952.0,333.6 952.0,333.5 953.0,327.0 953.1,326.6 954.0,320.3 954.0,320.1 955.0,311.0 955.1,310.5 956.0,301.7 956.6,296.5 957.0,292.4 957.0,292.1 958.0,286.3 958.1,285.9 959.0,280.3 959.0,280.1 960.0,281.1 960.0,281.1 960.1,281.1 961.0,282.1 961.0,282.1 962.0,292.8 962.1,293.4 963.0,303.8 963.0,304.1 964.0,305.4 964.1,305.5 965.0,306.7 966.0,308.1 966.0,308.1 966.1,308.0 967.0,303.0 968.0,297.7 968.1,297.3 969.0,292.3 969.0,292.1 970.0,287.6 970.1,287.3 971.0,283.0 972.0,278.3 972.0,278.1 972.1,278.0 973.0,274.9 974.0,271.6 974.1,271.3 975.0,268.2 975.0,268.1 976.0,268.7 976.1,268.8 977.0,269.4 978.0,270.1 978.0,270.1 979.0,272.0 980.0,274.0 980.1,274.2 981.0,276.0 981.1,276.1 982.0,279.9 982.1,280.2 983.0,283.9 984.0,287.9 984.1,288.1 984.1,288.2 985.0,291.9 986.0,295.9 986.1,296.2 987.0,299.9 987.1,300.1 988.0,300.1 988.1,300.1 989.0,300.1 990.0,300.1 990.1,300.1 990.1,300.1 991.0,298.9 992.0,297.5 992.1,297.4 993.0,296.2 993.1,296.1 993.6,294.0 994.0,292.4 995.0,288.4 995.1,288.0 996.0,284.4 996.1,284.1 997.0,282.9 997.1,282.7 998.0,281.5 999.0,280.2 999.1,280.1 999.1,280.0 1000.0,278.2 1001.0,276.2 1001.1,276.1 1001.1,276.0 1002.0,274.2 1002.1,274.1 1003.0,270.4 1003.1,270.0 1004.0,266.4 1004.1,266.1 1004.6,264.0 1005.0,262.4 1005.1,262.1 1006.0,262.1 1007.0,262.1 1007.1,262.1 1008.0,262.1 1008.1,262.1 1008.1,262.3 1009.0,268.5 1010.0,275.5 1010.1,276.1 1010.1,276.2 1011.0,280.4 1012.0,285.1 1012.1,285.6 1013.0,289.7 1013.1,290.1 1014.0,293.8 1014.1,294.2 1015.0,297.8 1015.1,298.1 1015.6,300.2 1016.0,301.8 1016.1,302.1 1017.0,297.9 1017.1,297.3 1018.0,293.2 1018.1,292.8 1018.6,290.3 1019.0,288.5 1019.1,288.1 1020.0,282.6 1020.0,282.5 1021.0,276.6 1021.1,276.1 1022.0,274.3 1023.0,272.3 1024.0,270.3 1024.1,270.1 1025.0,269.6 1026.0,269.1 1027.0,268.6 1027.1,268.6 1028.0,268.1 1028.1,268.1 1029.0,266.9 1030.0,265.6 1030.1,265.4 1031.0,264.2 1031.1,264.1 1032.0,262.3 1032.5,261.3 1033.0,260.3 1033.1,260.1 1034.0,264.3 1035.0,268.9 1035.1,269.4 1036.0,273.6 1036.1,274.1 1037.0,278.3 1038.0,282.9 1038.1,283.4 1039.0,287.6 1039.1,288.1 1040.0,289.9 1041.0,291.9 1041.1,292.1 1042.0,293.9 1042.1,294.1 1043.0,292.3 1043.1,292.1 1044.0,290.3 1045.0,288.3 1045.1,288.1 1046.0,284.0 1046.1,283.4 1047.0,279.3 1048.0,274.6 1048.1,274.1 1049.0,274.7 1049.1,274.8 1050.0,275.3 1051.0,276.0 1051.1,276.1 1052.0,273.8 1052.1,273.4 1053.0,271.1 1054.0,268.4 1054.1,268.1 1055.0,266.3 1055.1,266.1 1056.0,264.3 1057.0,262.3 1057.1,262.1 1058.0,263.2 1058.1,263.4 1059.0,264.6 1060.0,265.9 1060.1,266.1 1061.0,267.2 1061.1,267.4 1062.0,268.6 1063.0,269.9 1063.1,270.1 1064.0,270.7 1064.1,270.8 1065.0,271.3 1066.0,272.0 1066.1,272.1 1067.0,272.7 1067.1,272.8 1068.0,273.3 1069.0,274.0 1069.1,274.1 1070.0,274.1 1070.1,274.1 1071.0,274.1 1072.0,274.1 1072.1,274.1 1073.0,270.1 1073.1,269.4 1074.0,265.4 1075.0,260.8 1075.1,260.1 1076.0,257.8 1076.1,257.4 1077.0,255.1 1078.0,252.5 1078.1,252.1 1079.0,253.2 1079.1,253.4 1080.0,254.5 1081.0,255.9 1081.2,256.1 1082.0,258.9 1082.2,259.4 1083.0,262.2 1084.0,265.6 1084.2,266.1 1085.0,264.4 1085.2,264.1 1086.0,262.4 1087.0,260.4 1087.2,260.1 1088.0,255.9 1088.2,255.1 1089.0,250.9 1089.2,250.1 1090.0,252.9 1091.0,256.2 1091.2,256.7 1092.0,259.5 1092.2,260.1 1093.0,261.2 1094.0,262.5 1094.2,262.7 1095.0,263.9 1095.2,264.1 1096.0,261.3 1097.0,258.0 1097.2,257.4 1098.0,254.6 1098.2,254.1 1099.0,259.1 1100.0,265.1 1100.2,266.1 1101.0,271.1 1101.2,272.1 1102.0,270.4 1103.0,268.4 1103.2,268.1 1104.0,266.4 1104.2,266.1 1105.0,263.9 1106.0,261.2 1106.2,260.7 1107.0,258.6 1107.2,258.1 1108.0,258.6 1109.0,259.3 1109.2,259.4 1110.0,260.0 1110.2,260.1 1111.0,261.7 1112.0,263.7 1112.2,264.1 1113.0,265.7 1113.2,266.1 1114.0,266.1 1115.0,266.1 1115.2,266.1 1116.0,266.1 1116.2,266.1 1117.0,263.9 1117.2,263.4 1118.0,261.2 1119.0,258.6 1119.2,258.1 1120.0,254.8 1120.2,254.1 1121.0,250.8 1122.0,246.8 1123.0,242.8 1123.2,242.1 1124.0,243.7 1125.0,245.7 1126.0,247.7 1126.2,248.1 1127.0,252.4 1128.0,257.7 1129.0,263.0 1129.2,264.1 1130.0,265.2 1131.0,266.5 1132.0,267.8 1132.2,268.1 1133.0,265.4 1134.0,262.1 1135.0,258.8 1135.2,258.1 1136.0,254.9 1137.0,250.9 1138.0,246.9 1138.2,246.1 1139.0,244.5 1140.0,242.5 1141.0,240.5 1141.2,240.1 1142.0,242.2 1143.0,244.8 1144.0,247.5 1144.2,248.1 1145.0,248.1 1146.0,248.1 1147.0,248.1 1147.2,248.1 1148.0,247.5 1149.0,246.9 1150.0,246.2 1150.2,246.1 1151.0,246.1 1152.0,246.1 1153.0,246.1 1153.2,246.1 1154.0,248.1 1155.0,250.8 1156.0,253.5 1156.2,254.1 1157.0,255.6 1158.0,257.6 1159.0,259.6 1159.2,260.1 1160.0,259.1 1161.0,257.7 1162.0,256.4 1162.2,256.1 1163.0,252.0 1164.0,246.6 1164.2,236.0 1165.0,233.9 1165.2,233.2 1166.0,231.2 1167.0,228.5 1167.2,228.0 1168.0,228.0 1168.2,228.0 1169.0,228.0 1169.8,228.0 1170.0,228.9 1170.0,229.1 1170.2,229.7 1171.0,233.1 1172.0,237.2 1172.2,238.0 1173.0,242.9 1173.2,244.0 1174.0,248.9 1175.0,254.9 1175.2,256.1 1176.0,259.3 1176.2,260.1 1177.0,263.3 1178.0,267.3 1178.2,268.1 1179.0,267.5 1179.2,267.4 1180.0,266.9 1181.0,266.2 1181.2,266.1 1182.0,265.0 1182.2,264.7 1183.0,263.7 1184.0,262.3 1184.2,262.1 1185.0,261.5 1185.2,261.4 1186.0,260.9 1187.0,260.2 1187.2,260.1 1188.0,259.5 1188.2,259.4 1189.0,258.9 1190.0,258.2 1190.2,258.1 1191.0,256.5 1191.2,256.1 1192.0,254.5 1193.0,252.5 1193.2,252.1 1194.0,250.0 1194.2,249.4 1195.0,247.3 1196.0,244.6 1196.2,244.0 1197.0,242.5 1197.2,242.0 1198.0,240.5 1198.2,240.0 1199.0,243.2 1199.2,244.0 1200.0,247.2 1200.2,248.0 1201.0,249.1 1201.2,249.4 1202.0,250.4 1203.0,251.7 1203.2,252.1 1204.0,250.5 1204.2,250.1 1205.0,248.5 1206.0,246.5 1206.2,246.0 1207.0,245.8 1207.2,245.7 1208.0,245.5 1209.0,245.1 1209.2,245.0 1210.0,245.0 1211.0,245.0 1211.1,245.0 1211.1,319.1 1211.0,319.1 1210.0,319.1 1209.2,319.1 1209.0,319.0 1208.0,318.7 1207.2,318.5 1207.0,319.3 1206.2,322.1 1206.0,322.6 1205.0,324.6 1204.2,326.1 1204.0,326.9 1203.2,329.5 1203.0,331.0 1202.0,337.6 1201.2,342.8 1201.0,340.4 1200.2,332.1 1200.0,330.3 1199.2,324.1 1199.0,324.6 1198.2,326.1 1198.0,325.2 1197.2,322.1 1197.0,322.0 1196.2,321.5 1196.0,321.2 1195.0,319.8 1194.2,318.8 1194.0,319.5 1193.2,322.1 1193.0,323.0 1192.0,327.0 1191.2,330.1 1191.0,329.6 1190.2,327.5 1190.0,327.2 1189.0,325.8 1188.2,324.8 1188.0,323.8 1187.2,320.1 1187.0,319.1 1186.0,314.5 1185.2,310.8 1185.0,311.2 1184.2,312.8 1184.0,313.1 1183.0,314.4 1182.2,315.4 1182.0,316.5 1181.2,320.8 1181.0,322.0 1180.0,328.0 1179.2,332.8 1179.0,333.2 1178.2,334.8 1178.0,336.1 1177.0,342.8 1176.2,348.1 1176.0,346.8 1175.2,341.5 1175.0,340.5 1174.0,335.9 1173.2,332.1 1173.0,331.5 1172.2,328.8 1172.0,327.8 1171.0,322.6 1170.2,318.5 1170.0,318.5 1170.0,318.5 1169.8,318.5 1169.0,315.3 1168.2,312.3 1168.0,311.3 1167.2,308.1 1167.0,308.6 1166.0,311.3 1165.2,313.3 1165.0,314.0 1164.2,316.1 1164.0,311.6 1163.0,321.0 1162.2,328.1 1162.0,327.8 1161.0,326.5 1160.0,325.2 1159.2,324.1 1159.0,321.9 1158.0,311.9 1157.0,301.9 1156.2,294.1 1156.0,295.0 1155.0,299.0 1154.0,303.0 1153.2,306.1 1153.0,307.3 1152.0,312.6 1151.0,318.0 1150.2,322.1 1150.0,322.3 1149.0,323.0 1148.0,323.6 1147.2,324.1 1147.0,322.7 1146.0,316.0 1145.0,309.4 1144.2,304.1 1144.0,304.1 1143.0,304.1 1142.0,304.1 1141.2,304.1 1141.0,304.3 1140.0,304.9 1139.0,305.6 1138.2,306.1 1138.0,307.5 1137.0,314.2 1136.0,320.8 1135.2,326.1 1135.0,326.6 1134.0,328.6 1133.0,330.6 1132.2,332.2 1132.0,333.5 1131.0,340.2 1130.0,346.8 1129.2,352.2 1129.0,350.8 1128.0,344.2 1127.0,337.5 1126.2,332.2 1126.0,331.2 1125.0,326.6 1124.0,321.9 1123.2,318.1 1123.0,318.9 1122.0,322.9 1121.0,326.9 1120.2,330.2 1120.0,330.5 1119.2,332.2 1119.0,332.8 1118.0,336.1 1117.2,338.8 1117.0,338.1 1116.2,335.2 1116.0,335.0 1115.2,334.2 1115.0,333.9 1114.0,332.6 1113.2,331.5 1113.0,331.6 1112.2,332.2 1112.0,332.0 1111.0,331.4 1110.2,330.8 1110.0,330.5 1109.2,328.8 1109.0,329.2 1108.0,331.2 1107.2,332.8 1107.0,332.6 1106.2,331.5 1106.0,332.0 1105.0,334.6 1104.2,336.8 1104.0,337.4 1103.2,340.2 1103.0,339.4 1102.0,334.7 1101.2,330.8 1101.0,331.4 1100.2,334.2 1100.0,334.0 1099.0,333.4 1098.2,332.8 1098.0,331.1 1097.2,322.8 1097.0,323.1 1096.0,325.1 1095.2,326.8 1095.0,327.9 1094.2,333.5 1094.0,332.8 1093.0,328.8 1092.2,325.5 1092.0,325.2 1091.2,323.5 1091.0,323.6 1090.0,324.3 1089.2,324.8 1089.0,323.6 1088.2,317.1 1088.0,317.5 1087.2,319.5 1087.0,320.3 1086.0,325.6 1085.2,330.2 1085.0,329.7 1084.2,327.5 1084.0,327.9 1083.0,330.6 1082.2,332.8 1082.0,332.5 1081.2,330.8 1081.0,330.2 1080.0,326.2 1079.1,322.8 1079.0,323.4 1078.1,326.8 1078.0,326.8 1077.0,326.8 1076.1,326.8 1076.0,327.4 1075.1,330.8 1075.0,331.1 1074.0,333.1 1073.1,334.8 1073.0,334.7 1072.1,334.2 1072.0,334.7 1071.0,338.7 1070.1,342.2 1070.0,342.0 1069.1,340.8 1069.0,340.7 1068.0,340.1 1067.1,339.5 1067.0,339.2 1066.1,337.5 1066.0,337.2 1065.0,335.2 1064.1,333.5 1064.0,333.4 1063.1,332.8 1063.0,332.8 1062.0,332.8 1061.1,332.8 1061.0,332.9 1060.1,333.5 1060.0,333.6 1059.0,334.2 1058.1,334.8 1058.0,335.1 1057.1,336.8 1057.0,336.7 1056.0,335.3 1055.1,334.2 1055.0,334.2 1054.1,334.8 1054.0,334.8 1053.0,334.8 1052.1,334.8 1052.0,334.8 1051.1,334.8 1051.0,335.2 1050.0,338.6 1049.1,341.5 1049.0,342.2 1048.1,347.5 1048.0,347.6 1047.0,348.2 1046.1,348.8 1046.0,348.9 1045.1,349.5 1045.0,349.9 1044.0,353.2 1043.1,356.2 1043.0,355.5 1042.1,350.2 1042.0,349.9 1041.1,348.2 1041.0,347.6 1040.0,343.0 1039.1,338.8 1039.0,338.6 1038.1,336.8 1038.0,336.6 1037.0,334.6 1036.1,332.8 1036.0,332.6 1035.1,330.8 1035.0,330.8 1034.0,330.9 1033.1,330.9 1033.0,330.2 1032.5,326.9 1032.0,328.5 1031.1,331.2 1031.0,331.5 1030.1,334.8 1030.0,334.9 1029.0,335.6 1028.1,336.2 1028.0,336.3 1027.1,337.7 1027.0,337.6 1026.0,337.1 1025.0,336.6 1024.1,336.2 1024.0,336.2 1023.0,336.2 1022.0,336.2 1021.1,336.2 1021.0,336.5 1020.0,361.5 1020.0,361.6 1019.1,363.9 1019.0,364.3 1018.6,365.8 1018.1,366.1 1018.0,366.2 1017.1,366.8 1017.0,366.2 1016.1,361.9 1016.0,362.3 1015.6,363.8 1015.1,361.7 1015.0,361.4 1014.1,357.8 1014.0,357.4 1013.1,353.7 1013.0,353.4 1012.1,350.5 1012.0,350.0 1011.0,345.6 1010.1,341.8 1010.1,341.7 1010.0,341.8 1009.0,342.8 1008.1,343.7 1008.1,343.6 1008.0,342.9 1007.1,336.2 1007.0,336.2 1006.0,336.9 1005.1,337.5 1005.0,337.2 1004.6,340.0 1004.1,340.7 1004.0,340.8 1003.1,342.0 1003.0,342.1 1002.1,343.1 1002.0,343.3 1001.1,346.0 1001.1,346.0 1001.0,346.1 1000.0,347.1 999.1,348.0 999.1,348.0 999.0,347.9 998.0,347.6 997.1,347.3 997.0,347.3 996.1,347.0 996.0,346.8 995.1,344.0 995.0,344.6 994.0,349.9 993.6,352.1 993.1,354.2 993.0,354.6 992.1,360.6 992.0,360.4 991.0,358.1 990.1,356.0 990.1,355.8 990.0,355.6 989.0,351.6 988.1,347.9 988.0,347.4 987.1,341.7 987.0,341.6 986.1,339.8 986.0,339.5 985.0,336.5 984.1,333.8 984.1,333.7 984.0,333.6 983.0,331.6 982.1,329.8 982.0,329.9 981.1,330.8 981.0,330.8 980.1,329.8 980.0,326.0 979.0,324.0 978.0,322.1 978.0,322.2 977.0,324.2 976.1,335.2 976.0,335.7 975.0,342.1 975.0,342.2 974.1,344.7 974.0,345.2 973.0,351.9 972.1,358.0 972.0,358.4 972.0,358.8 971.0,368.1 970.1,376.8 970.0,377.1 969.0,382.3 969.0,382.4 968.1,386.8 968.0,386.2 967.0,376.8 966.1,368.1 966.0,367.6 966.0,367.3 965.0,358.7 964.1,350.6 964.0,350.1 963.0,343.7 963.0,343.8 962.1,346.6 962.0,347.0 961.0,353.8 961.0,353.7 960.1,350.9 960.0,350.9 960.0,351.0 959.0,351.9 959.0,351.8 958.1,346.1 958.0,346.2 957.0,348.2 957.0,348.1 956.6,347.5 956.0,352.0 955.1,359.6 955.0,359.9 954.0,365.4 954.0,365.6 953.1,373.5 953.0,374.0 952.0,383.1 952.0,383.3 951.0,392.5 951.0,392.7 950.6,399.0 950.0,401.2 949.0,405.2 949.0,405.2 948.5,407.0 948.0,405.3 948.0,405.3 947.0,407.2 947.0,407.1 947.0,407.0 946.0,403.4 945.0,399.9 945.0,399.6 945.0,399.6 944.0,397.0 944.0,396.9 943.0,394.4 943.0,393.8 942.0,382.0 942.0,381.9 941.5,376.7 941.0,372.1 941.0,372.0 940.0,363.6 940.0,363.3 940.0,363.2 939.0,349.2 938.5,342.7 938.2,341.3 938.0,340.3 938.0,340.2 937.0,332.5 937.0,332.5 936.0,333.9 936.0,333.9 935.5,334.5 935.2,336.9 935.0,338.7 935.0,338.8 934.0,343.3 934.0,343.5 934.0,343.5 933.0,349.8 932.2,354.7 932.0,356.0 932.0,356.2 932.0,356.2 931.0,360.2 930.0,364.1 930.0,363.9 929.2,360.0 929.0,359.8 928.0,359.2 928.0,359.1 927.0,356.4 926.2,354.4 926.0,354.7 926.0,354.7 925.0,356.4 924.0,358.2 923.5,359.0 923.2,360.7 923.0,360.4 922.0,358.8 921.0,357.2 921.0,357.2 920.2,358.5 920.0,358.8 919.0,360.4 918.5,361.2 918.0,362.7 917.2,365.1 917.0,365.9 916.5,367.7 916.0,369.0 915.0,371.7 914.5,373.0 914.2,371.6 914.0,371.9 913.0,373.2 913.0,373.1 912.0,368.8 911.2,365.4 911.0,365.1 911.0,365.0 910.0,360.3 909.0,355.7 909.0,355.7 908.2,353.6 908.0,351.1 907.5,345.2 907.0,349.2 906.2,355.6 906.0,357.2 906.0,357.3 905.2,366.0 905.0,368.1 904.0,378.4 904.0,378.4 903.2,381.1 903.0,381.8 902.2,384.4 902.0,385.5 902.0,385.5 901.0,385.0 900.2,384.6 900.0,384.5 899.0,371.0 898.2,361.5 898.0,360.5 897.2,356.8 897.0,356.7 896.0,356.0 895.2,355.5 895.0,354.0 894.2,348.1 894.0,350.3 893.0,361.7 892.2,370.8 892.0,372.6 891.2,380.2 891.0,381.0 890.0,385.7 889.2,389.5 889.0,390.5 888.2,394.8 888.0,393.8 887.0,388.5 886.2,384.2 886.0,384.4 885.2,385.5 885.0,385.1 884.0,383.1 883.2,381.5 883.0,380.8 882.2,377.5 882.0,377.8 881.0,379.8 880.2,381.5 880.0,381.2 879.2,380.2 879.0,380.6 878.0,383.3 877.2,385.5 877.0,385.5 876.2,385.5 876.0,386.5 875.0,392.5 874.2,397.5 874.0,399.1 873.2,406.8 873.0,406.6 872.0,405.3 871.2,404.2 871.0,403.8 870.2,402.2 870.0,403.2 869.0,409.2 868.2,414.2 868.0,414.6 867.0,417.3 866.2,419.5 866.0,418.0 865.2,410.2 865.0,409.5 864.2,406.2 864.0,405.6 863.0,402.3 862.2,399.5 862.0,399.1 861.2,396.8 861.0,396.4 860.0,393.7 859.2,391.5 859.0,391.2 858.2,389.5 858.0,389.5 857.0,389.5 856.2,389.5 856.0,389.3 855.2,388.2 855.0,388.0 854.0,386.6 853.2,385.5 853.0,385.1 852.2,382.8 852.0,382.5 851.0,380.5 850.2,378.8 850.0,378.6 849.1,377.5 849.0,376.8 848.0,372.1 847.1,368.1 847.0,367.5 846.1,363.8 846.0,363.8 845.0,363.4 844.1,363.1 844.0,363.0 843.1,362.5 843.0,362.8 842.0,364.8 841.1,366.5 841.0,366.6 840.1,367.5 840.0,367.7 839.0,369.4 838.1,370.8 838.0,370.8 837.1,370.5 837.0,370.7 836.0,372.4 835.1,373.8 835.0,374.0 834.1,375.5 834.0,376.0 833.0,379.6 832.1,382.8 832.0,383.7 831.1,389.5 831.0,389.5 830.0,389.5 829.1,389.5 829.0,389.5 828.1,389.3 828.0,389.1 827.0,387.2 826.5,386.4 826.1,383.0 826.0,383.1 825.0,383.6 824.1,384.2 824.0,384.4 823.1,386.2 823.0,385.8 822.0,383.2 821.1,380.8 821.0,381.0 820.1,382.2 820.0,381.5 820.0,381.5 819.0,381.5 818.1,381.5 818.0,381.5 817.1,382.0 817.0,382.0 816.0,382.5 815.6,382.7 815.0,380.4 814.1,376.7 814.0,376.4 813.0,373.7 812.1,371.4 812.0,371.5 811.1,372.1 811.0,372.1 810.0,372.1 809.0,372.1 808.7,372.1 808.1,377.3 808.0,377.8 807.0,382.6 806.1,387.0 806.0,387.5 805.1,391.8 805.0,392.4 804.1,397.9 804.1,397.9 804.0,397.7 803.0,396.2 802.1,394.8 802.0,394.8 801.1,395.3 801.0,395.3 800.0,395.8 799.1,396.2 799.0,396.2 798.4,396.5 798.1,396.0 798.0,395.8 797.0,394.2 796.1,392.7 796.0,392.5 795.0,390.8 795.0,390.8 794.0,393.4 793.1,395.8 793.0,395.7 792.0,394.7 791.5,394.2 791.1,392.2 791.0,391.8 790.1,387.7 790.0,387.6 789.0,386.5 788.1,385.4 788.0,385.3 787.1,384.2 787.0,384.3 787.0,384.3 786.0,383.3 785.1,382.4 785.0,382.3 784.1,381.4 784.0,381.4 783.0,381.4 782.4,381.4 782.1,383.9 782.0,384.2 781.0,387.5 780.1,390.6 780.0,390.9 779.0,395.6 778.9,395.9 778.1,394.7 778.0,394.6 777.1,393.4 777.0,393.2 776.0,391.6 775.1,390.0 775.0,389.9 774.1,388.4 774.0,388.3 773.0,386.8 772.1,385.5 772.1,385.5 772.0,385.6 771.0,386.0 770.1,386.4 770.0,386.5 769.1,386.6 769.0,386.7 768.0,386.9 767.1,387.0 767.0,387.3 766.4,389.5 766.1,388.9 766.0,388.7 765.0,386.4 764.1,384.2 764.0,383.8 763.0,378.2 762.9,377.7 762.1,380.9 762.0,381.2 761.1,384.6 761.0,384.8 760.0,388.5 759.5,390.3 759.1,390.1 759.0,390.1 758.1,389.6 758.0,389.7 757.0,390.5 756.1,391.3 756.0,391.3 755.1,392.1 755.0,392.1 754.9,392.0 754.0,394.2 753.1,396.4 753.0,396.5 752.1,398.7 752.0,399.0 751.5,401.4 751.1,400.0 751.0,399.8 750.0,396.7 749.0,393.7 749.0,393.6 748.0,391.8 748.0,391.7 747.0,389.9 746.9,389.7 746.0,389.9 746.0,389.9 745.0,389.4 745.0,389.4 744.0,388.9 743.0,388.4 743.0,388.2 742.3,385.2 742.0,386.1 742.0,386.3 741.0,389.5 740.0,392.7 739.0,395.7 739.0,395.8 738.0,397.0 737.0,398.2 736.6,398.6 736.0,400.2 736.0,400.3 735.0,402.9 735.0,403.0 734.0,407.0 733.2,410.3 733.0,410.2 733.0,410.2 732.0,410.1 732.0,410.1 731.0,412.0 730.0,413.7 730.0,413.8 729.0,415.6 729.0,415.6 728.6,416.4 728.0,415.1 727.0,412.9 727.0,412.9 726.0,410.8 726.0,410.8 725.0,410.3 724.0,409.8 724.0,409.8 724.0,409.7 723.0,408.4 722.0,407.1 722.0,407.1 721.0,406.1 721.0,406.1 720.6,405.7 720.0,407.3 719.0,409.9 719.0,409.9 718.0,410.5 718.0,410.6 717.2,411.1 717.0,410.5 716.0,406.9 716.0,406.9 715.0,404.6 715.0,404.5 714.0,402.2 713.7,401.6 713.0,398.2 713.0,398.2 712.0,394.9 712.0,394.9 711.0,391.5 710.3,389.2 710.0,388.0 710.0,387.8 710.0,387.8 709.0,384.5 709.0,384.5 708.0,381.1 707.2,378.6 707.0,377.8 707.0,377.8 706.9,377.4 706.0,374.9 706.0,374.9 705.0,371.9 704.6,370.6 704.2,372.5 704.0,373.7 704.0,373.7 703.0,375.2 702.2,376.4 702.0,376.7 702.0,376.7 701.2,377.9 701.0,378.2 700.0,379.7 699.0,373.7 698.2,372.1 698.0,371.8 697.0,370.5 696.0,369.2 695.2,368.1 695.0,368.9 694.0,372.2 693.0,375.6 692.2,378.1 692.0,379.0 691.0,383.0 690.0,387.0 689.2,390.2 689.0,391.5 688.0,397.5 687.0,403.5 686.2,408.2 686.0,407.0 685.0,401.5 684.0,396.0 683.2,391.7 683.0,390.6 682.2,386.8 682.0,385.8 681.0,381.2 680.2,377.5 680.0,377.3 679.2,376.8 679.0,377.0 678.0,377.6 677.2,378.1 677.0,377.0 676.2,372.8 676.0,372.3 675.0,369.6 674.2,367.5 674.0,366.9 673.2,364.8 673.0,364.3 672.0,361.6 671.2,359.5 671.0,360.5 670.2,364.8 670.0,365.2 669.0,367.2 668.2,368.8 668.0,369.5 667.2,372.1 667.0,372.8 666.0,376.1 665.2,378.8 665.0,378.7 664.2,378.1 664.0,378.0 663.0,377.4 662.2,376.8 662.0,375.7 661.2,370.8 661.0,370.7 660.0,370.0 659.2,369.5 659.0,368.3 658.2,363.5 658.0,362.5 657.0,357.1 656.2,352.8 656.0,352.3 655.2,350.1 655.0,349.5 654.0,346.2 653.2,343.4 653.0,343.8 652.2,345.1 652.0,345.0 651.2,344.6 651.0,345.6 650.0,351.1 649.8,352.3 649.2,353.7 649.0,355.4 648.0,365.3 647.2,373.5 647.0,375.0 646.2,382.2 646.0,382.2 645.0,382.2 644.2,382.2 644.0,372.6 643.0,376.0 642.0,379.3 641.2,382.1 641.0,382.7 640.0,386.7 639.0,390.7 638.2,394.1 638.0,393.8 637.0,392.3 636.2,391.1 636.0,389.4 635.0,379.6 634.2,371.4 634.0,369.8 633.2,362.0 633.0,361.2 632.0,355.8 631.2,351.4 631.0,350.6 630.2,346.7 630.0,347.4 629.0,352.1 628.2,356.0 628.0,355.9 627.0,355.3 626.2,354.7 626.0,354.6 625.2,354.0 625.0,355.0 624.0,361.5 623.2,367.0 623.0,368.0 622.2,373.5 622.0,373.9 621.2,376.0 621.0,376.0 620.2,376.0 620.0,376.0 619.1,376.0 619.0,374.5 618.0,363.8 617.1,354.7 617.0,353.8 616.1,348.7 616.0,348.2 615.0,344.9 614.1,342.0 614.0,341.8 613.1,340.7 613.0,340.5 612.0,339.2 611.1,338.0 611.0,336.7 610.1,328.7 610.0,331.4 609.0,330.8 608.1,330.2 608.0,330.0 607.0,328.7 606.0,327.3 605.1,326.2 605.0,325.7 604.0,321.7 603.0,317.7 602.1,314.2 602.0,313.7 601.0,309.7 600.0,305.7 599.1,302.2 599.0,301.5 598.0,296.2 597.0,290.8 596.1,286.2 596.0,286.5 595.0,289.2 594.0,291.8 593.1,294.2 593.0,293.8 592.0,290.4 591.0,287.1 590.1,284.2 590.0,283.8 589.0,280.4 588.0,277.1 587.1,274.1 587.0,274.1 586.0,273.4 585.1,272.8 585.0,273.9 584.1,282.2 584.0,283.1 583.0,291.1 582.1,298.2 582.0,298.8 581.0,304.8 580.0,310.8 579.1,316.2 579.0,316.4 578.0,318.4 577.0,320.4 576.1,322.2 576.0,321.6 575.0,315.6 574.0,309.6 573.1,304.2 573.0,304.1 572.0,303.4 571.0,302.8 570.1,302.2 570.0,301.6 569.0,296.3 568.1,291.5 568.0,290.4 567.1,280.2 567.0,279.8 566.1,276.8 566.0,276.4 565.0,272.4 564.1,268.8 564.0,271.3 563.1,295.5 563.0,298.0 562.0,325.4 561.1,350.2 561.0,350.1 560.1,348.9 560.0,348.9 559.0,348.9 558.1,348.9 558.0,346.6 557.1,323.2 557.0,321.2 556.1,300.2 556.0,299.4 555.0,290.8 554.1,282.8 554.0,282.2 553.1,275.5 553.0,275.2 552.0,271.9 551.1,268.8 551.0,268.5 550.1,265.5 550.0,265.0 549.0,259.0 548.1,253.5 548.0,253.1 547.1,248.8 547.0,248.9 546.0,250.2 545.1,251.5 545.0,251.1 544.1,246.8 544.0,246.7 543.0,246.1 542.1,245.4 542.0,245.5 541.1,246.8 541.0,246.8 540.0,247.5 539.1,248.1 539.0,248.3 538.1,250.5 538.0,250.0 537.0,243.7 536.1,237.8 536.0,237.3 535.1,230.1 535.0,229.9 534.0,227.6 533.1,225.4 533.0,225.3 532.1,222.8 532.0,223.0 531.0,227.7 530.1,232.1 530.0,232.8 529.1,243.1 529.0,243.1 528.1,242.1 528.0,241.9 527.0,238.9 526.1,236.1 526.0,235.8 525.0,230.5 524.0,225.1 523.1,220.1 523.0,220.2 522.0,222.0 521.0,223.9 520.1,225.6 520.0,225.6 519.0,225.4 519.0,225.5 518.0,226.9 517.6,227.5 517.0,228.8 517.0,228.7 516.1,226.2 516.0,226.0 515.0,224.0 514.1,222.2 514.0,222.1 514.0,221.9 513.0,218.3 512.1,214.9 512.0,214.6 511.0,211.6 511.0,211.6 510.1,211.1 510.0,211.0 509.0,209.0 508.0,207.0 508.0,207.5 507.6,212.7 507.0,214.2 506.1,216.7 506.0,216.8 506.0,217.0 505.0,220.3 504.6,221.8 504.0,225.3 503.0,231.5 503.0,231.6 502.0,236.6 501.6,238.8 501.0,239.6 500.1,240.9 500.0,240.1 500.0,236.1 500.0,236.2 499.0,239.7 498.0,243.2 497.1,246.3 497.0,246.0 497.0,245.9 496.0,242.9 495.1,240.3 495.0,240.4 494.0,241.4 494.0,241.4 493.1,242.9 493.0,243.7 492.0,250.3 491.6,252.9 491.0,260.0 491.0,260.3 490.1,272.7 490.0,272.5 489.0,270.5 488.6,269.7 488.0,267.8 488.0,267.7 487.0,264.2 486.6,262.8 486.0,263.7 485.0,265.2 485.0,265.2 484.6,265.8 484.0,268.5 484.0,268.5 483.0,268.2 482.1,268.0 482.0,268.1 482.0,268.1 481.0,268.8 480.1,269.5 480.0,269.5 480.0,269.5 480.0,269.5 479.0,273.3 479.0,273.3 478.1,276.7 478.0,276.8 477.0,278.6 476.2,279.9 476.1,280.2 476.0,279.9 476.0,279.9 475.2,278.4 475.0,277.9 474.0,275.9 473.1,274.1 473.0,273.9 473.0,273.9 472.0,273.2 471.2,272.7 471.0,272.6 470.1,272.0 470.0,270.8 469.0,268.0 468.6,263.1 468.2,259.7 468.0,256.9 467.1,245.6 467.0,245.2 466.0,239.8 465.2,235.7 465.1,235.0 465.0,234.8 464.2,232.9 464.0,232.4 463.1,230.3 463.0,230.2 462.2,229.1 462.0,229.2 461.1,229.5 461.0,229.4 460.2,228.1 460.0,227.7 459.2,226.4 459.1,226.9 459.0,226.8 458.0,225.5 457.6,221.7 457.2,214.6 457.0,210.6 457.0,210.5 456.2,203.6 456.1,202.4 456.0,201.9 456.0,201.7 455.0,194.4 454.6,191.3 454.5,191.3 454.2,189.7 454.0,188.6 453.2,184.4 453.1,183.6 453.0,183.6 453.0,183.7 452.0,185.0 451.8,185.2 451.6,185.6 451.5,186.3 451.0,187.8 450.2,190.2 450.1,190.6 450.0,190.8 449.0,193.5 448.5,194.8 448.2,197.0 448.1,198.1 448.0,198.2 447.2,200.2 447.0,200.7 446.5,202.0 446.1,203.4 446.0,203.9 445.2,208.9 445.0,210.2 445.0,210.2 444.2,211.6 444.1,211.9 444.0,212.0 443.0,214.8 442.5,216.2 442.2,214.4 442.1,213.6 442.0,213.8 441.2,216.5 441.0,217.1 441.0,210.5 440.6,212.9 440.0,221.8 439.2,234.6 439.1,236.9 439.0,237.8 438.2,250.7 438.0,253.7 437.6,260.5 437.0,260.9 436.1,261.5 436.0,260.4 435.8,256.6 435.2,245.4 435.1,244.9 435.0,244.6 434.0,240.6 433.1,236.8 433.0,236.8 432.2,236.8 432.0,236.5 431.1,234.6 431.0,234.5 430.0,233.5 429.2,232.7 429.0,232.4 429.0,232.5 428.2,234.7 428.0,235.2 427.0,237.7 427.0,238.0 426.2,243.5 426.0,243.8 425.0,245.8 424.5,246.7 424.2,248.3 424.0,249.1 423.0,253.5 422.2,257.1 422.0,257.5 422.0,257.4 421.0,256.1 420.2,255.0 420.0,254.7 419.2,253.7 419.0,253.7 419.0,253.7 418.0,254.0 417.2,254.3 417.0,254.3 417.0,254.1 416.2,250.3 416.0,250.4 415.0,251.1 415.0,250.9 414.2,247.3 414.0,246.6 413.2,243.0 413.0,242.7 413.0,242.4 412.0,235.1 411.2,229.0 411.0,228.0 411.0,227.7 410.2,219.1 410.0,217.3 409.0,207.3 409.0,207.0 408.2,198.4 408.0,196.7 407.2,188.1 407.0,187.8 407.0,187.1 406.0,161.1 406.0,155.5 405.2,148.8 405.0,149.6 404.2,153.9 404.0,153.2 403.0,149.2 402.0,145.1 401.8,144.1 401.0,154.9 400.0,169.1 399.5,184.4 399.2,188.2 399.0,188.2 398.2,188.2 398.0,188.2 398.0,188.2 397.0,188.2 396.5,188.2 396.2,186.3 396.0,188.6 395.2,201.0 395.0,203.0 395.0,202.9 394.0,198.6 393.2,194.9 393.0,194.6 393.0,194.6 392.2,193.5 392.0,193.3 391.0,191.9 391.0,191.9 390.2,189.9 390.0,189.6 389.1,187.6 389.0,187.3 389.0,187.3 388.0,184.9 387.1,182.9 387.0,182.0 387.0,182.0 386.1,178.0 386.0,177.3 385.5,175.0 385.0,176.7 384.1,179.6 384.0,180.0 384.0,180.1 383.1,184.1 383.0,184.7 382.0,189.4 382.0,189.4 381.1,188.2 381.0,188.8 380.1,192.2 380.0,192.8 379.0,177.7 378.1,178.8 378.0,178.4 377.1,175.5 377.0,175.8 376.0,177.8 375.1,179.5 375.0,178.9 374.1,175.5 374.0,176.6 373.0,185.3 372.1,192.8 372.0,192.7 371.1,191.5 371.0,192.2 370.0,197.5 369.1,202.2 369.0,203.7 368.1,214.2 368.0,215.2 367.0,223.2 366.1,230.2 366.0,232.7 365.1,250.2 365.0,250.0 364.0,248.0 363.1,246.2 363.0,245.6 362.0,240.2 361.0,234.9 360.1,230.2 360.0,229.7 359.0,225.7 358.0,221.7 357.1,218.2 357.0,218.5 356.0,221.2 355.0,223.8 354.1,226.2 354.0,226.8 353.0,232.2 352.0,237.6 351.1,242.3 351.0,243.3 350.7,245.8 350.0,239.2 349.0,229.8 348.0,220.5 347.1,212.2 347.0,211.0 346.0,200.0 345.0,189.0 344.1,179.1 344.0,179.0 343.0,178.0 342.0,177.0 341.1,176.1 341.0,176.2 340.0,176.9 339.0,177.5 338.1,178.1 338.0,177.8 337.0,173.8 336.0,169.8 335.1,166.1 335.0,165.6 334.0,159.6 333.0,153.6 332.1,148.1 332.0,148.0 331.0,146.5 330.0,145.1 329.5,144.3 329.1,138.3 329.0,138.2 328.0,137.1 327.1,136.1 327.0,136.5 326.0,141.2 325.0,145.8 324.1,150.1 324.0,152.3 323.0,178.3 322.0,204.3 321.1,228.2 321.0,227.8 320.1,223.5 320.0,223.8 319.0,227.5 318.1,230.9 318.0,230.5 317.1,226.5 317.0,226.6 316.0,226.9 315.1,227.2 315.0,227.4 314.1,229.5 314.0,229.6 313.0,230.2 312.1,230.9 312.0,231.4 311.1,238.2 311.0,238.3 310.2,239.0 310.0,239.3 309.1,240.2 309.0,241.1 308.0,253.8 307.2,263.4 307.0,266.4 306.1,278.2 306.0,278.6 305.0,283.9 304.2,288.0 304.0,289.3 303.1,294.3 303.0,293.6 302.0,283.6 301.2,275.9 301.0,273.6 300.1,264.2 300.0,264.0 299.2,261.6 299.0,260.9 298.0,257.7 297.1,254.7 297.0,254.5 296.2,251.0 296.1,250.2 296.0,249.8 295.0,241.8 294.1,234.2 294.0,234.0 293.2,231.3 293.1,230.7 293.0,230.4 292.0,224.6 291.7,222.5 291.2,226.2 291.0,228.1 290.1,236.3 290.0,236.5 289.0,240.2 289.0,240.4 288.2,243.5 288.0,244.4 287.0,248.2 287.0,248.4 286.0,252.8 285.2,256.2 285.0,256.9 285.0,257.0 284.0,258.2 284.0,258.2 283.0,258.2 282.2,258.2 282.0,258.2 282.0,258.3 281.0,261.0 280.0,263.6 280.0,264.0 279.2,272.5 279.0,274.2 279.0,274.4 278.0,277.7 277.0,281.0 276.2,283.7 276.0,284.3 276.0,284.2 275.0,282.2 274.2,280.6 274.0,280.2 273.0,278.2 273.0,278.1 272.0,274.8 271.2,272.1 271.0,271.5 270.0,268.2 270.0,268.2 269.2,268.4 269.0,268.5 268.0,268.7 267.2,268.9 267.0,269.0 266.0,269.2 266.0,269.4 265.0,274.9 265.0,274.9 264.2,275.9 264.0,276.1 263.0,277.2 263.0,277.2 262.0,276.1 261.2,275.1 261.0,274.9 261.0,274.9 260.0,274.2 260.0,274.3 259.0,274.9 258.0,275.6 258.0,275.5 257.2,272.2 257.0,271.6 257.0,271.6 256.0,272.9 255.0,274.2 255.0,274.3 254.2,275.1 254.0,275.2 254.0,275.2 253.0,274.9 252.0,274.6 251.2,274.3 251.0,274.2 251.0,274.3 250.0,276.3 249.0,278.3 248.2,279.9 248.0,280.3 248.0,280.2 247.0,275.2 247.0,275.3 246.0,277.3 245.0,279.3 244.2,280.9 244.0,281.3 244.0,281.3 243.0,282.8 243.0,282.7 242.0,277.2 241.0,271.7 240.2,267.2 240.0,266.2 239.2,267.8 239.0,266.9 238.0,263.2 237.2,260.1 237.0,261.9 236.0,272.9 235.2,282.2 235.0,283.7 234.2,291.5 234.0,292.0 233.0,295.4 232.2,298.2 232.0,297.4 231.0,292.4 230.0,287.4 229.2,283.2 229.0,282.8 228.0,280.3 227.2,278.1 227.0,278.0 226.0,277.4 225.0,276.7 224.2,276.1 224.0,275.0 223.0,267.7 222.0,260.4 221.1,254.1 221.0,254.2 220.0,254.7 219.1,255.1 219.0,255.0 218.0,254.4 217.1,253.8 217.0,254.8 216.1,260.8 216.0,261.0 215.0,262.7 214.1,264.1 214.0,264.6 213.0,267.6 212.0,270.6 211.1,273.1 211.0,273.4 210.0,275.6 209.1,277.5 209.0,277.9 208.1,280.8 208.0,280.9 207.0,281.6 206.1,282.2 206.0,281.7 205.0,278.4 204.0,275.0 203.1,272.1 203.0,272.5 202.0,275.5 201.1,278.1 201.0,278.5 200.1,280.7 200.0,281.1 199.0,284.2 198.0,287.4 197.1,290.2 197.0,289.5 196.0,284.5 195.0,279.5 194.1,275.1 194.0,274.3 193.1,268.1 193.0,267.4 192.0,261.4 191.1,256.1 191.0,256.1 190.1,256.1 190.0,256.0 189.1,255.5 189.0,256.6 188.0,265.9 187.1,274.1 187.0,274.7 186.0,279.3 185.0,284.0 184.1,288.2 184.0,288.2 183.0,288.9 182.0,289.6 181.1,290.2 181.0,289.4 180.0,282.0 179.0,274.7 178.1,268.1 178.0,267.8 177.0,264.8 176.1,262.1 176.0,264.5 175.7,271.1 175.0,275.7 174.0,282.3 173.1,288.2 173.0,288.8 172.0,294.8 171.0,300.8 170.1,306.2 170.0,305.8 169.0,301.6 168.1,297.8 168.0,297.9 167.1,298.7 167.0,298.9 166.1,301.5 166.0,301.8 165.0,304.4 164.1,306.8 164.0,307.4 163.1,312.7 163.0,312.9 162.0,315.4 161.0,317.9 160.1,320.2 160.0,319.6 159.0,312.8 158.0,305.9 157.1,299.7 157.0,299.6 156.1,298.8 156.0,298.8 155.0,297.8 154.1,296.8 154.0,297.1 153.1,300.2 153.0,299.9 152.1,297.4 152.0,297.6 151.0,300.5 150.0,303.3 149.1,306.0 149.0,306.1 148.1,307.2 148.0,307.3 147.0,308.3 146.0,309.3 145.1,310.2 145.0,309.6 144.1,302.2 144.0,302.1 143.0,301.5 142.0,300.8 141.1,300.2 141.0,300.1 140.0,299.5 139.0,298.8 138.1,298.2 138.0,298.4 137.0,301.2 136.0,304.0 135.1,306.7 135.0,306.4 134.1,301.5 134.0,301.4 133.0,299.7 132.1,298.2 132.0,297.5 131.0,286.5 130.1,276.1 130.0,275.9 129.1,271.1 129.0,271.6 128.1,278.8 128.0,278.9 127.0,281.1 126.1,283.2 126.0,283.4 125.0,288.5 124.0,293.5 123.0,298.6 122.1,303.4 122.0,303.6 121.0,308.7 121.0,308.7 120.0,308.2 119.0,307.7 119.0,307.4 118.0,300.8 118.0,300.6 117.0,296.3 116.0,292.2 116.0,292.3 115.0,295.8 115.0,295.9 114.0,298.6 113.0,301.2 113.0,301.0 112.0,297.4 111.0,293.7 110.0,290.2 110.0,290.0 109.0,284.6 108.0,279.3 107.0,274.1 107.0,274.2 106.0,276.7 105.0,279.1 105.0,279.3 104.0,284.8 103.0,290.3 102.0,295.8 101.0,301.2 101.0,301.3 100.0,304.5 99.0,307.8 98.0,310.9 98.0,310.8 97.0,305.7 97.0,305.6 96.0,301.7 95.0,297.9 94.0,294.2 94.0,294.3 93.0,298.8 92.0,303.2 92.0,303.3 91.0,308.6 90.0,313.9 89.0,319.2 89.0,319.3 88.0,326.8 88.0,326.8 87.0,326.4 86.0,326.0 86.0,325.9 85.0,318.5 84.0,311.2 84.0,311.1 83.0,307.0 82.0,302.8 81.0,298.7 81.0,298.7 80.0,299.2 79.0,299.7 78.0,300.2 78.0,300.2 77.0,302.5 76.0,304.9 75.0,307.2 74.0,309.5 73.0,311.9 72.7,312.6" fill="rgb(5,128,200)" fill-opacity="0.35"/>
<polyline points="72.7,276.5 73.0,275.8 74.0,273.5 75.0,271.1 76.0,268.8 77.0,266.5 78.0,264.1 78.0,264.1 79.0,264.8 80.0,265.5 81.0,266.1 81.0,266.1 82.0,269.1 83.0,272.1 84.0,275.1 85.0,278.1 86.0,281.1 86.0,281.2 87.0,280.7 88.0,280.2 88.0,280.2 89.0,275.7 90.0,271.2 91.0,266.7 92.0,262.2 92.0,262.1 93.0,260.2 94.0,258.2 94.0,258.1 95.0,261.3 96.0,264.6 97.0,267.8 98.0,271.1 98.0,271.1 99.0,270.2 100.0,269.2 101.0,268.2 101.0,268.1 102.0,261.8 103.0,255.3 104.0,248.8 105.0,242.3 105.0,242.1 106.0,241.1 107.0,240.1 107.0,240.1 108.0,246.5 109.0,253.2 110.0,259.9 110.0,260.1 111.0,262.7 112.0,265.4 113.0,268.0 113.0,268.1 114.0,265.9 115.0,263.6 116.0,261.2 116.0,261.1 117.0,262.7 118.0,264.4 119.0,266.1 119.0,266.1 120.0,264.7 121.0,263.2 121.0,263.1 122.0,258.9 123.0,254.5 124.0,250.1 125.0,245.7 126.0,241.3 126.1,241.1 127.0,240.8 128.0,240.5 129.0,240.1 129.1,240.1 130.0,245.8 131.0,251.8 132.0,257.8 132.1,258.1 133.0,259.4 134.0,260.7 135.0,262.0 135.1,262.1 136.0,259.6 137.0,257.0 138.0,254.3 138.1,254.1 139.0,256.0 140.0,258.0 141.0,260.0 141.1,260.1 142.0,262.0 143.0,264.0 144.0,266.0 145.0,268.0 145.1,268.1 146.0,265.8 147.0,263.3 148.0,260.8 149.0,258.3 149.1,258.1 150.0,255.1 151.0,251.7 152.0,248.4 152.1,248.1 153.0,247.7 154.0,247.2 154.1,247.1 155.0,248.6 156.0,250.3 157.0,252.0 157.1,252.1 158.0,256.4 159.0,261.1 160.0,265.7 160.1,266.1 161.0,264.1 162.0,261.8 163.0,259.6 164.0,257.3 164.1,257.1 165.0,256.5 166.0,255.9 167.0,255.2 167.1,255.1 168.0,255.4 169.0,255.8 170.0,256.1 170.1,256.1 171.0,248.9 172.0,240.9 173.0,232.9 173.1,232.1 174.0,224.3 175.0,215.6 176.0,207.0 176.1,206.1 177.0,209.7 178.0,213.7 178.1,214.1 179.0,218.6 180.0,223.6 181.0,228.6 181.1,229.1 182.0,229.4 183.0,229.7 184.0,230.1 184.1,230.1 185.0,227.1 186.0,223.8 187.0,220.5 187.1,220.1 188.0,216.6 189.0,212.6 189.1,212.1 190.0,213.0 191.0,214.0 191.1,214.1 192.0,217.6 193.0,221.6 194.0,225.6 194.1,226.1 195.0,228.7 196.0,231.7 197.0,234.7 197.1,235.1 198.0,233.9 199.0,232.6 200.0,231.3 200.1,231.1 201.0,230.2 202.0,229.2 203.0,228.2 203.1,228.1 204.0,228.7 205.0,229.3 206.0,230.0 206.1,230.1 207.0,229.2 208.0,228.2 208.1,228.1 209.0,226.1 210.0,223.7 211.0,221.4 211.1,221.1 212.0,220.2 213.0,219.2 214.0,218.2 214.1,218.1 215.0,214.4 216.0,210.0 217.0,205.7 217.1,205.1 218.0,204.6 219.0,204.1 219.1,204.1 220.0,206.6 221.0,209.6 221.1,210.1 222.0,214.6 223.0,220.0 224.0,225.3 224.2,226.1 225.0,226.9 226.0,227.9 227.0,228.9 227.2,229.1 228.0,228.7 229.0,228.2 229.2,228.1 230.0,232.6 231.0,237.9 232.0,243.3 232.2,244.1 233.0,239.9 234.0,234.9 234.2,234.1 235.0,227.4 236.0,219.4 237.0,211.4 237.2,210.1 238.0,209.5 239.0,208.9 240.0,209.2 240.2,209.3 241.0,210.2 242.0,211.2 243.0,212.2 243.0,212.2 244.0,209.7 244.2,209.3 245.0,207.2 246.0,204.7 247.0,202.2 247.0,202.2 248.0,203.2 248.2,203.3 249.0,204.2 250.0,205.2 251.0,206.2 251.0,206.2 251.2,206.4 252.0,207.7 253.0,209.2 254.0,210.7 254.2,210.9 255.0,212.2 255.0,212.2 256.0,213.5 257.0,214.8 257.2,215.1 258.0,216.2 258.0,216.2 259.0,215.2 260.0,214.2 261.0,213.2 261.0,213.2 261.2,213.1 262.0,212.4 263.0,211.7 264.0,210.9 264.2,210.8 265.0,210.2 265.0,210.2 266.0,207.3 267.0,204.3 267.2,203.7 268.0,201.3 269.0,198.3 269.2,197.7 270.0,195.3 270.0,195.2 271.0,198.1 271.2,198.7 272.0,201.1 273.0,204.1 273.0,204.2 274.0,208.4 274.2,209.2 275.0,212.7 276.0,217.0 276.0,217.2 276.2,217.2 277.0,217.5 278.0,217.8 279.0,218.2 279.0,218.2 279.2,217.6 280.0,215.0 281.0,211.7 282.0,208.3 282.0,208.2 282.2,207.8 283.0,206.3 284.0,204.3 285.0,202.3 285.0,202.2 285.2,201.6 286.0,198.8 287.0,195.3 288.0,191.8 288.2,191.1 289.0,188.3 289.0,188.2 290.0,184.9 291.0,181.4 291.2,180.6 291.7,179.1 292.0,180.5 293.0,184.2 293.2,185.0 294.0,188.0 294.1,188.2 295.0,193.8 296.0,199.8 296.2,201.2 297.0,205.8 297.1,206.2 298.0,211.2 299.0,216.5 299.2,217.8 300.0,221.9 300.1,222.2 301.0,225.3 301.2,226.1 302.0,228.7 303.0,232.0 303.1,232.2 304.0,225.3 304.2,223.6 305.0,218.0 306.0,210.7 306.1,210.2 307.0,200.8 307.2,198.5 308.0,190.8 309.0,180.8 309.1,180.2 310.0,177.4 310.2,176.6 311.0,174.4 312.0,171.4 312.1,171.1 313.0,171.5 314.0,171.8 315.0,172.1 315.1,172.1 316.0,173.4 317.0,174.7 318.0,176.0 318.1,176.1 319.0,173.7 320.0,171.0 321.0,168.4 321.1,168.1 322.0,151.6 323.0,133.6 324.0,115.6 324.1,114.1 325.0,108.6 326.0,102.6 327.0,96.6 327.1,96.1 328.0,93.3 329.0,90.3 329.1,90.1 330.0,93.7 331.0,97.7 332.0,101.7 332.1,102.1 333.0,108.7 334.0,116.1 335.0,123.4 335.1,124.1 336.0,126.8 337.0,129.8 338.0,132.8 338.1,133.1 339.0,133.4 340.0,133.7 341.0,134.1 341.1,134.1 342.0,133.2 343.0,132.2 344.0,131.2 344.1,131.1 345.0,138.0 346.0,145.6 347.0,153.3 347.1,154.1 348.0,160.1 349.0,166.7 350.0,173.4 350.7,178.1 351.0,177.5 352.0,175.1 353.0,172.8 354.0,170.4 354.1,170.1 355.0,169.0 356.0,167.6 357.0,166.3 357.1,166.1 358.0,169.7 359.0,173.7 360.0,177.7 360.1,178.1 361.0,182.8 362.0,188.2 363.0,193.5 363.1,194.2 364.0,196.8 365.0,199.8 365.1,200.2 366.0,193.2 367.0,185.2 368.0,177.2 368.1,176.1 369.0,167.4 370.0,157.4 371.0,147.4 371.1,146.1 372.0,140.3 373.0,133.7 374.0,127.0 374.1,126.1 375.0,125.8 376.0,125.5 377.0,125.1 377.1,125.1 378.0,127.1 379.0,129.4 380.0,140.0 380.1,140.2 381.0,141.0 382.0,142.0 382.0,142.0 383.0,140.0 383.1,139.7 384.0,138.0 384.0,138.0 385.0,136.7 385.5,136.0 386.0,137.3 386.1,137.7 387.0,140.0 387.0,140.0 388.0,143.5 389.0,147.0 389.0,147.0 389.1,147.5 390.0,150.5 391.0,154.0 391.0,154.0 392.0,157.0 392.2,157.4 393.0,160.0 393.0,160.0 394.0,163.5 395.0,167.0 395.0,167.0 395.2,166.2 396.0,161.1 396.5,158.0 397.0,153.8 398.0,145.2 398.0,145.0 398.2,143.8 399.0,136.5 399.5,132.0 400.0,122.7 401.0,112.1 401.8,104.1 402.0,105.1 403.0,109.2 404.0,113.3 405.0,117.4 405.2,118.1 406.0,127.0 406.0,130.0 407.0,149.5 407.0,150.0 408.0,157.3 408.2,158.6 409.0,164.8 409.0,165.0 410.0,172.3 411.0,179.8 411.0,180.1 411.2,180.9 412.0,185.9 413.0,191.9 413.0,192.1 414.0,195.4 414.2,196.1 415.0,198.9 415.0,199.1 416.0,200.0 417.0,201.0 417.0,201.1 417.2,200.9 418.0,199.6 419.0,198.1 419.0,198.1 420.0,196.8 420.2,196.5 421.0,195.5 422.0,194.1 422.0,194.1 423.0,191.0 424.0,187.8 424.2,187.2 424.5,186.1 425.0,185.1 426.0,183.1 427.0,181.1 427.0,181.1 428.0,181.1 428.2,181.1 429.0,181.1 429.0,181.1 430.0,183.4 431.0,185.9 431.1,186.1 432.0,188.9 432.2,189.5 433.0,191.9 433.1,192.1 434.0,196.8 435.0,201.8 435.1,202.1 435.8,205.8 436.0,206.8 436.1,207.1 437.0,202.7 437.6,200.1 438.0,194.8 439.0,182.8 439.1,182.1 439.2,180.4 440.0,170.8 440.6,164.0 441.0,161.1 442.0,154.4 442.1,154.0 442.2,153.7 443.0,152.1 444.0,150.1 444.1,150.0 445.0,148.6 445.2,148.3 446.0,147.1 446.1,147.0 447.0,147.0 448.0,147.0 448.1,147.0 448.2,146.7 449.0,144.7 450.0,142.2 450.1,142.0 451.0,139.5 451.6,138.0 451.8,138.6 452.0,139.2 453.0,141.8 453.1,142.0 454.0,147.0 454.2,148.1 454.6,150.0 455.0,154.0 456.0,163.3 456.1,164.0 457.0,172.7 457.2,174.7 457.6,178.0 458.0,179.7 459.0,183.7 459.1,184.1 460.0,185.4 460.2,185.8 461.0,186.9 461.1,187.1 462.0,187.5 463.0,188.0 463.1,188.1 464.0,189.0 464.2,189.2 465.0,190.0 465.1,190.1 466.0,192.3 467.0,194.8 467.1,195.1 468.0,200.5 468.2,201.9 468.6,204.1 469.0,207.1 470.0,214.4 470.1,215.1 471.0,216.3 471.2,216.6 472.0,217.6 473.0,219.0 473.0,219.0 473.1,219.1 474.0,220.3 475.0,221.6 476.0,223.0 476.0,223.0 476.1,223.1 476.2,223.0 477.0,222.2 478.0,221.2 478.1,221.1 479.0,219.3 479.0,219.3 480.0,217.3 480.0,217.2 480.1,217.1 481.0,214.8 482.0,212.3 482.0,212.3 482.1,212.1 483.0,210.3 484.0,208.3 484.6,207.1 485.0,206.9 485.0,206.9 486.0,206.4 486.6,206.1 487.0,206.9 488.0,208.9 488.0,208.9 488.6,210.1 489.0,210.6 490.0,211.9 490.1,212.1 491.0,206.1 491.0,206.0 491.6,202.1 492.0,200.5 493.0,196.5 493.1,196.1 494.0,194.7 494.0,194.7 495.0,193.2 495.1,193.1 496.0,193.5 497.0,194.0 497.0,194.0 497.1,194.1 498.0,191.6 499.0,188.9 500.0,186.1 500.0,186.1 500.0,188.1 501.0,184.8 502.0,181.5 503.0,178.2 503.0,178.0 504.0,174.2 505.0,170.2 506.0,166.2 506.0,166.0 507.0,161.2 508.0,156.2 508.0,156.0 509.0,157.9 510.0,159.9 511.0,161.9 511.0,162.0 512.0,165.2 513.0,168.6 514.0,171.9 514.0,172.0 515.0,174.9 516.0,177.9 517.0,180.9 517.0,181.1 518.0,181.4 519.0,181.7 520.0,182.0 520.1,182.1 521.0,181.4 522.0,180.8 523.0,180.1 523.1,180.1 524.0,183.2 525.0,186.5 526.0,189.9 526.1,190.1 527.0,193.8 528.0,197.8 529.0,201.8 529.1,202.1 530.0,200.2 531.0,198.2 532.0,196.2 532.1,196.1 533.0,197.6 534.0,199.3 535.0,201.0 535.1,201.1 536.0,205.1 537.0,209.5 538.0,213.8 538.1,214.1 539.0,214.1 540.0,214.1 541.0,214.1 541.1,214.1 542.0,213.8 543.0,213.4 544.0,213.1 544.1,213.1 545.0,214.6 546.0,216.3 547.0,218.0 547.1,218.1 548.0,222.4 549.0,227.1 550.0,231.7 550.1,232.1 551.0,235.2 552.0,238.5 553.0,241.8 553.1,242.1 554.0,247.0 555.0,252.3 556.0,257.7 556.1,258.1 557.0,269.6 558.0,282.1 558.1,283.2 559.0,282.8 560.0,282.5 561.0,282.2 561.1,282.2 562.0,268.8 563.0,254.2 564.0,239.5 564.1,238.1 565.0,238.7 566.0,239.4 567.0,240.0 567.1,240.1 568.0,244.3 569.0,249.0 570.0,253.7 570.1,254.1 571.0,255.9 572.0,257.9 573.0,259.9 573.1,260.1 574.0,265.5 575.0,271.5 576.0,277.5 576.1,278.1 577.0,278.4 578.0,278.8 579.0,279.1 579.1,279.1 580.0,274.1 581.0,268.4 582.0,262.8 582.1,262.1 583.0,256.8 584.0,250.8 585.0,244.8 585.1,244.1 586.0,243.2 587.0,242.2 587.1,242.1 588.0,244.5 589.0,247.1 590.0,249.8 590.1,250.1 591.0,253.1 592.0,256.4 593.0,259.7 593.1,260.1 594.0,260.7 595.0,261.4 596.0,262.0 596.1,262.1 597.0,265.6 598.0,269.6 599.0,273.6 599.1,274.1 600.0,277.6 601.0,281.6 602.0,285.6 602.1,286.2 603.0,289.6 604.0,293.6 605.0,297.6 605.1,298.2 606.0,298.7 607.0,299.4 608.0,300.1 608.1,300.2 609.0,299.9 610.0,299.5 610.1,298.1 611.0,301.5 611.1,302.1 612.0,305.5 613.0,309.5 613.1,310.1 614.0,313.5 614.1,314.1 615.0,317.5 616.0,321.5 616.1,322.1 617.0,326.6 617.1,327.4 618.0,332.0 619.0,337.3 619.1,338.1 620.0,338.1 620.2,338.1 621.0,338.1 622.0,338.1 622.2,338.1 623.0,336.4 623.2,336.1 624.0,334.4 625.0,332.4 625.2,332.1 626.0,330.4 626.2,330.1 627.0,328.4 628.0,326.4 628.2,326.1 629.0,324.4 630.0,322.4 630.2,322.1 631.0,324.3 632.0,327.0 633.0,329.7 633.2,330.1 634.0,334.0 635.0,338.7 636.0,343.3 636.2,344.1 637.0,344.5 638.0,345.0 638.2,345.1 639.0,343.2 640.0,340.8 641.0,338.5 641.2,338.1 642.0,336.5 643.0,334.5 644.0,332.5 644.2,332.1 645.0,331.3 646.0,330.3 646.2,330.1 647.0,325.7 648.0,320.4 649.0,315.0 649.2,314.1 650.0,312.9 651.0,311.4 651.2,311.1 652.0,312.3 653.0,313.8 653.2,314.1 654.0,317.4 655.0,321.4 656.0,325.4 656.2,326.1 657.0,330.4 658.0,335.8 659.0,341.1 659.2,342.1 660.0,344.3 661.0,346.9 662.0,349.6 662.2,350.1 663.0,350.1 664.0,350.1 665.0,350.1 665.2,350.1 666.0,348.5 667.0,346.5 668.0,344.5 668.2,344.1 669.0,343.0 670.0,341.7 671.0,340.4 671.2,340.1 672.0,342.2 673.0,344.9 674.0,347.6 674.2,348.1 675.0,350.2 676.0,352.9 677.0,355.6 677.2,356.1 678.0,355.9 679.0,355.5 680.0,355.2 680.2,355.1 681.0,356.4 682.0,358.1 683.0,359.8 683.2,360.1 684.0,361.7 685.0,363.7 686.0,365.7 686.2,366.1 687.0,362.0 688.0,356.6 689.0,351.3 689.2,350.1 690.0,347.0 691.0,343.0 692.0,339.0 692.2,338.1 693.0,338.4 694.0,338.7 695.0,339.0 695.2,339.1 696.0,341.9 697.0,345.6 698.0,349.3 698.2,350.1 699.0,351.1 700.0,354.9 701.0,354.2 701.2,354.0 702.0,353.4 702.0,353.4 703.0,352.7 704.0,351.9 704.0,351.9 704.2,351.7 704.6,351.5 705.0,353.0 706.0,356.5 706.0,356.5 706.9,359.5 707.0,359.9 707.2,360.7 708.0,363.3 709.0,366.6 709.0,366.6 710.0,369.9 710.0,370.1 710.3,370.9 711.0,372.8 712.0,375.5 712.0,375.5 713.0,378.1 713.7,380.1 714.0,380.5 715.0,382.0 715.0,382.0 716.0,383.5 717.0,385.0 717.2,385.2 718.0,384.7 718.0,384.7 719.0,384.0 720.0,383.3 720.6,383.0 721.0,383.4 721.0,383.4 722.0,384.6 723.0,385.8 724.0,386.9 724.0,387.0 724.0,387.0 725.0,387.7 726.0,388.4 727.0,389.2 727.0,389.2 728.0,389.9 728.6,390.4 729.0,389.9 730.0,388.6 730.0,388.6 731.0,387.4 732.0,386.1 733.0,384.9 733.0,384.9 733.2,384.7 734.0,381.9 735.0,378.6 736.0,375.3 736.0,375.2 736.6,373.2 737.0,372.2 738.0,369.6 739.0,367.0 739.0,366.9 740.0,364.4 741.0,361.8 742.0,359.2 742.0,359.1 742.3,358.4 743.0,359.2 744.0,360.4 745.0,361.7 745.0,361.7 746.0,362.9 746.9,364.1 747.0,364.3 748.0,366.5 748.0,366.6 749.0,368.8 750.0,371.0 751.0,373.3 751.1,373.4 751.5,374.4 752.0,373.5 753.0,371.8 753.1,371.8 754.0,370.2 754.9,368.6 755.0,368.6 756.0,368.4 756.1,368.4 757.0,368.1 758.0,367.9 759.0,367.6 759.1,367.6 759.5,367.5 760.0,366.3 761.0,364.0 762.0,361.7 762.1,361.5 762.9,359.5 763.0,359.7 764.0,362.0 764.1,362.1 765.0,364.3 766.0,366.7 766.1,366.8 766.4,367.5 767.0,367.1 768.0,366.5 769.0,365.9 769.1,365.9 770.0,365.3 771.0,364.7 772.0,364.1 772.1,364.1 772.1,364.1 773.0,364.4 774.0,364.7 775.0,365.0 775.1,365.1 776.0,365.4 777.0,365.7 778.0,366.0 778.1,366.1 778.9,366.4 779.0,366.2 780.0,363.6 780.1,363.3 781.0,360.9 782.0,358.2 782.1,358.0 782.4,357.2 783.0,358.1 784.0,359.6 785.0,361.1 785.1,361.3 786.0,362.6 787.0,364.1 787.0,364.1 788.0,364.9 788.1,364.9 789.0,365.6 790.0,366.4 791.0,367.1 791.1,367.2 791.5,367.5 792.0,367.0 793.0,366.0 793.1,365.9 794.0,365.0 795.0,364.1 795.0,364.1 796.0,365.3 796.1,365.4 797.0,366.4 798.0,367.6 798.1,367.7 798.4,368.1 799.0,368.1 800.0,368.2 801.0,368.3 801.1,368.3 802.0,368.4 803.0,368.5 804.0,368.6 804.1,368.6 804.1,368.6 805.0,365.3 806.0,361.6 806.1,361.2 807.0,357.8 808.0,354.1 808.1,353.7 808.7,351.5 809.0,351.7 810.0,352.4 811.0,353.0 811.1,353.1 812.0,353.7 812.1,353.8 813.0,355.8 814.0,358.1 814.1,358.4 815.0,360.5 815.6,361.8 816.0,361.8 817.0,361.8 817.1,361.8 818.0,361.8 819.0,361.8 820.0,361.8 820.0,361.8 820.1,362.1 821.0,361.5 822.0,360.9 823.0,360.2 823.1,360.1 824.0,357.5 825.0,354.5 826.0,351.5 826.1,351.1 827.0,352.4 828.0,353.9 828.1,354.1 829.0,354.7 830.0,355.4 831.0,356.0 831.1,356.1 832.0,353.8 833.0,351.1 834.0,348.5 834.1,348.1 835.0,346.7 836.0,345.0 837.0,343.3 837.1,343.1 838.0,342.5 839.0,341.9 840.0,341.2 840.1,341.1 841.0,340.8 842.0,340.5 843.0,340.2 843.1,340.1 844.0,341.0 845.0,342.0 846.0,343.0 846.1,343.1 847.0,345.7 848.0,348.7 849.0,351.7 849.1,352.1 850.0,353.3 851.0,354.6 852.0,355.9 852.2,356.1 853.0,357.5 854.0,359.2 855.0,360.9 855.2,361.1 856.0,362.5 857.0,364.2 858.0,365.9 858.2,366.1 859.0,368.4 860.0,371.0 861.0,373.7 861.2,374.1 862.0,376.4 863.0,379.0 864.0,381.7 864.2,382.2 865.0,384.7 866.0,387.7 866.2,388.2 867.0,385.7 868.0,382.7 868.2,382.2 869.0,378.8 870.0,374.8 870.2,374.1 871.0,374.1 872.0,374.1 873.0,374.1 873.2,374.1 874.0,369.7 875.0,364.4 876.0,359.1 876.2,358.1 877.0,356.2 878.0,353.9 879.0,351.5 879.2,351.1 880.0,350.8 881.0,350.5 882.0,350.2 882.2,350.1 883.0,352.3 884.0,355.0 885.0,357.6 885.2,358.1 886.0,358.9 887.0,359.9 888.0,360.9 888.2,361.1 889.0,357.6 890.0,353.3 891.0,348.9 891.2,348.1 892.0,342.7 893.0,336.1 894.0,329.4 894.2,328.1 895.0,330.2 896.0,332.9 897.0,335.6 897.2,336.1 898.0,339.9 899.0,344.5 900.0,350.1 900.2,349.8 901.0,349.1 902.0,348.1 902.0,348.0 903.0,344.1 903.2,343.2 904.0,340.1 904.0,340.0 905.0,332.6 906.0,325.1 906.0,325.0 906.2,323.8 907.0,319.1 907.5,316.0 908.0,318.0 908.2,318.8 909.0,322.0 909.0,322.0 910.0,327.0 911.0,332.0 911.0,332.0 911.2,332.7 912.0,335.5 913.0,339.0 913.0,339.0 914.0,339.7 914.2,339.8 914.5,340.0 915.0,338.6 916.0,335.6 916.5,334.0 917.0,332.3 917.2,331.6 918.0,328.8 918.5,327.0 919.0,325.7 920.0,322.9 920.2,322.3 921.0,320.1 921.0,320.0 922.0,318.8 923.0,317.6 923.2,317.4 923.5,317.0 924.0,317.4 925.0,318.2 926.0,319.0 926.0,319.0 926.2,319.2 927.0,320.0 928.0,321.0 928.0,321.0 929.0,321.0 929.2,321.0 930.0,321.0 930.0,321.0 931.0,317.1 932.0,313.1 932.0,313.1 932.0,313.0 932.2,312.3 933.0,309.6 934.0,306.1 934.0,306.1 934.0,306.0 935.0,303.4 935.2,302.8 935.5,302.0 936.0,302.3 936.0,302.3 937.0,303.0 937.0,303.0 938.0,308.1 938.0,308.2 938.2,309.4 938.5,311.0 939.0,315.6 940.0,325.6 940.0,326.0 941.0,335.0 941.0,335.1 941.5,340.0 942.0,344.9 943.0,355.6 943.0,356.1 944.0,361.8 944.0,361.9 945.0,367.8 945.0,368.1 946.0,371.4 947.0,374.9 947.0,375.0 947.0,375.1 948.0,375.7 948.5,376.1 949.0,374.7 949.0,374.7 950.0,371.7 950.6,370.1 951.0,366.5 952.0,358.5 952.0,358.3 953.0,350.5 953.1,350.1 954.0,342.9 954.0,342.8 955.0,335.4 955.1,335.0 956.0,326.8 956.6,322.0 957.0,320.2 957.0,320.1 958.0,316.2 958.1,316.0 959.0,316.0 960.0,316.0 960.0,316.0 960.1,316.0 961.0,317.9 962.0,319.9 962.1,320.0 963.0,323.8 963.0,323.9 964.0,327.8 964.1,328.0 965.0,332.7 966.0,337.7 966.0,337.9 966.1,338.0 967.0,339.9 968.0,341.9 968.1,342.0 969.0,337.4 969.0,337.2 970.0,332.4 970.1,332.0 971.0,325.5 972.0,318.5 972.0,318.2 972.1,318.0 973.0,313.4 974.0,308.4 974.1,308.0 975.0,305.2 975.0,305.1 976.0,302.2 976.1,302.0 977.0,296.8 978.0,296.1 978.0,296.1 979.0,298.0 980.0,300.0 980.1,302.0 981.0,303.4 981.1,303.5 982.0,304.9 982.1,305.0 983.0,307.8 984.0,310.8 984.1,310.9 984.1,311.0 985.0,314.2 986.0,317.7 986.1,318.0 987.0,320.8 987.1,320.9 988.0,323.8 988.1,324.0 989.0,325.8 990.0,327.8 990.1,328.0 990.1,328.0 991.0,328.5 992.0,329.0 992.1,329.0 993.0,325.4 993.1,325.1 993.6,323.0 994.0,321.1 995.0,316.5 995.1,316.0 996.0,315.6 996.1,315.5 997.0,315.1 997.1,315.0 998.0,314.6 999.0,314.1 999.1,314.0 999.1,314.0 1000.0,312.7 1001.0,311.2 1001.1,311.1 1001.1,311.0 1002.0,308.8 1003.0,306.3 1003.1,306.0 1004.0,303.6 1004.1,303.4 1004.6,302.0 1005.0,299.8 1006.0,299.5 1007.0,299.1 1007.1,299.1 1008.0,302.5 1008.1,303.0 1009.0,305.7 1010.0,308.7 1010.1,308.9 1010.1,309.0 1011.0,313.0 1012.0,317.5 1012.1,318.0 1013.0,321.6 1013.1,321.9 1014.0,325.6 1014.1,326.0 1015.0,329.6 1015.1,329.9 1015.6,332.0 1016.0,332.0 1017.0,332.0 1017.1,332.0 1018.0,329.7 1018.1,329.4 1018.6,328.0 1019.0,326.4 1020.0,322.1 1020.0,322.0 1021.0,306.6 1021.1,306.1 1022.0,305.2 1023.0,304.2 1024.0,303.2 1024.1,303.1 1025.0,303.1 1026.0,303.1 1027.0,303.1 1027.1,303.1 1028.0,302.2 1029.0,301.2 1030.0,300.2 1030.1,300.1 1031.0,297.9 1032.0,295.4 1032.5,294.1 1033.0,295.3 1034.0,297.6 1035.0,299.9 1035.1,300.1 1036.0,303.1 1037.0,306.4 1038.0,309.8 1038.1,310.1 1039.0,313.1 1040.0,316.4 1041.0,319.8 1041.1,320.1 1042.0,321.9 1043.0,323.9 1043.1,324.1 1044.0,321.8 1045.0,319.1 1046.0,316.4 1046.1,316.1 1047.0,313.8 1048.0,311.1 1049.0,308.4 1049.1,308.1 1050.0,307.0 1051.0,305.6 1052.0,304.3 1052.1,304.1 1053.0,303.0 1054.0,301.6 1055.0,300.3 1055.1,300.1 1056.0,299.8 1057.0,299.5 1058.0,299.2 1058.1,299.1 1059.0,299.4 1060.0,299.7 1061.0,300.1 1061.1,300.1 1062.0,300.7 1063.0,301.4 1064.0,302.0 1064.1,302.1 1065.0,303.3 1066.0,304.6 1067.0,305.9 1067.1,306.1 1068.0,306.7 1069.0,307.4 1070.0,308.0 1070.1,308.1 1071.0,306.4 1072.0,304.4 1073.0,302.4 1073.1,302.1 1074.0,299.3 1075.0,295.9 1076.0,292.6 1076.1,292.1 1077.0,291.0 1078.0,289.6 1079.0,288.3 1079.1,288.1 1080.0,290.4 1081.0,293.0 1082.0,295.7 1082.2,296.1 1083.0,296.4 1084.0,296.7 1085.0,297.1 1085.2,297.1 1086.0,294.0 1087.0,290.4 1088.0,286.7 1088.2,286.1 1089.0,287.2 1090.0,288.6 1091.0,289.9 1091.2,290.1 1092.0,292.3 1093.0,295.0 1094.0,297.7 1094.2,298.1 1095.0,295.9 1096.0,293.2 1097.0,290.6 1097.2,290.1 1098.0,292.9 1099.0,296.2 1100.0,299.6 1100.2,300.1 1101.0,301.2 1102.0,302.6 1103.0,303.9 1103.2,304.1 1104.0,301.9 1105.0,299.3 1106.0,296.6 1106.2,296.1 1107.0,295.6 1108.0,294.9 1109.0,294.2 1109.2,294.1 1110.0,295.2 1111.0,296.5 1112.0,297.9 1112.2,298.1 1113.0,298.7 1114.0,299.3 1115.0,300.0 1115.2,300.1 1116.0,300.5 1117.0,301.0 1117.2,301.1 1118.0,298.7 1119.0,295.7 1120.0,292.7 1120.2,292.1 1121.0,288.9 1122.0,284.9 1123.0,280.9 1123.2,280.1 1124.0,282.8 1125.0,286.1 1126.0,289.5 1126.2,290.1 1127.0,294.9 1128.0,300.9 1129.0,306.9 1129.2,308.1 1130.0,306.0 1131.0,303.3 1132.0,300.7 1132.2,300.1 1133.0,298.0 1134.0,295.3 1135.0,292.7 1135.2,292.1 1136.0,287.9 1137.0,282.5 1138.0,277.2 1138.2,276.1 1139.0,275.0 1140.0,273.7 1141.0,272.4 1141.2,272.1 1142.0,273.1 1143.0,274.5 1144.0,275.8 1144.2,276.1 1145.0,278.7 1146.0,282.0 1147.0,285.4 1147.2,286.1 1148.0,285.6 1149.0,284.9 1150.0,284.3 1150.2,284.1 1151.0,282.0 1152.0,279.4 1153.0,276.7 1153.2,276.1 1154.0,275.6 1155.0,274.9 1156.0,274.2 1156.2,274.1 1157.0,278.7 1158.0,284.7 1159.0,290.7 1159.2,292.1 1160.0,292.1 1161.0,292.1 1162.0,292.1 1162.2,292.1 1163.0,286.5 1164.0,279.1 1164.2,276.1 1165.0,273.9 1165.2,273.3 1166.0,271.2 1167.0,268.6 1167.2,268.1 1168.0,269.7 1168.2,270.2 1169.0,271.7 1170.0,273.7 1170.0,273.8 1170.2,274.1 1171.0,277.8 1172.0,282.5 1173.0,287.2 1173.2,288.1 1174.0,292.4 1175.0,297.7 1176.0,303.0 1176.2,304.1 1177.0,303.0 1178.0,301.7 1179.0,300.4 1179.2,300.1 1180.0,297.4 1181.0,294.1 1182.0,290.8 1182.2,290.1 1183.0,289.0 1184.0,287.7 1185.0,286.4 1185.2,286.1 1186.0,287.7 1187.0,289.7 1188.0,291.7 1188.2,292.1 1189.0,292.4 1190.0,292.7 1191.0,293.0 1191.2,293.1 1192.0,290.7 1193.0,287.7 1194.0,284.7 1194.2,284.1 1195.0,283.6 1196.0,282.9 1197.0,282.2 1197.2,282.1 1198.0,282.9 1199.0,283.9 1199.2,284.1 1200.0,288.7 1201.0,294.7 1201.2,296.1 1202.0,294.0 1203.0,291.4 1204.0,288.7 1204.2,288.1 1205.0,286.5 1206.0,284.5 1207.0,282.5 1207.2,282.1 1208.0,282.1 1209.0,282.1 1210.0,282.1 1211.0,282.1 1211.1,282.1" fill="none" stroke="#0072bd" stroke-width="3.2" stroke-linejoin="round"/>
</g>
<g clip-path="url(#cb)">
<polygon points="72.7,858.3 73.0,861.7 74.0,872.8 75.0,883.9 75.0,884.0 76.0,880.1 76.0,880.1 77.0,876.0 78.0,871.8 79.0,867.7 80.0,863.5 80.0,863.5 81.0,865.0 82.0,866.5 83.0,868.0 83.0,868.0 84.0,872.4 84.0,872.5 85.0,865.9 85.0,865.8 86.0,861.2 87.0,856.6 87.0,856.5 88.0,853.9 88.0,853.9 89.0,847.3 90.0,840.7 90.0,840.6 91.0,840.6 91.0,840.6 92.0,838.6 93.0,836.6 93.0,836.6 94.0,834.1 94.0,834.1 95.0,831.3 96.0,828.5 97.0,825.7 97.0,825.6 98.0,821.4 99.0,817.1 100.0,812.7 100.0,812.6 101.0,812.0 102.0,811.3 103.0,810.6 103.0,810.6 104.0,815.8 105.0,821.1 106.0,826.4 106.0,826.6 107.0,828.5 108.0,830.5 109.0,832.5 109.0,832.6 110.0,832.5 111.0,832.4 112.0,832.4 112.0,832.4 113.0,831.7 114.0,830.9 114.0,830.9 115.0,832.5 115.0,832.6 116.0,834.2 117.0,835.8 118.0,837.5 118.0,837.6 119.0,843.3 120.0,849.3 121.0,855.2 121.0,855.5 122.0,862.2 122.1,862.5 123.0,863.0 124.0,863.5 125.0,864.0 125.1,864.0 126.0,865.1 126.1,865.2 127.0,863.3 128.0,861.3 128.1,861.2 129.0,864.9 129.1,865.2 130.0,852.0 131.0,838.1 131.1,837.2 132.0,830.0 132.1,829.6 133.0,823.7 133.1,823.3 134.0,809.5 135.0,794.9 135.1,794.0 136.0,800.2 136.1,800.6 137.0,801.9 138.0,803.2 138.1,803.3 139.0,812.0 139.1,812.6 140.0,821.3 141.0,830.6 141.1,831.2 142.0,830.6 142.1,830.6 143.0,838.5 143.1,838.9 144.0,828.6 145.0,817.4 145.1,816.6 146.0,805.8 146.1,804.9 147.0,799.1 148.0,792.8 148.1,792.5 149.0,789.5 149.1,789.2 150.0,790.4 151.0,791.8 151.1,791.5 152.0,788.1 152.1,787.8 153.0,789.6 154.0,791.6 154.1,791.6 155.0,793.7 156.0,796.0 157.0,798.4 157.1,798.4 158.0,800.8 159.0,803.5 160.0,806.1 160.1,806.1 161.0,803.9 162.0,801.4 163.0,798.9 163.1,798.6 164.0,802.4 165.0,811.6 166.0,820.7 166.1,822.4 167.0,820.0 168.0,817.4 169.0,810.2 169.1,809.5 170.0,800.7 171.0,786.9 172.0,773.1 172.1,772.7 173.0,776.3 174.0,780.3 175.0,784.3 175.1,784.7 176.0,781.4 177.0,777.7 178.0,774.1 178.1,773.7 179.0,775.2 180.0,776.9 181.0,778.5 181.1,778.7 182.0,774.0 183.0,768.6 184.0,763.3 184.1,762.7 185.0,760.4 186.0,757.7 187.0,755.1 187.1,754.7 188.0,755.3 189.0,756.0 190.0,756.7 190.1,756.7 191.0,759.7 192.0,763.0 193.0,766.3 193.1,766.7 194.0,769.1 195.0,771.7 196.0,774.4 196.1,774.7 197.0,772.1 198.0,769.1 198.1,768.7 199.0,775.1 200.0,782.4 201.0,789.7 201.1,790.7 202.0,785.5 203.0,779.5 204.0,773.5 204.1,772.7 205.0,777.2 206.0,782.3 207.0,787.5 207.1,788.2 208.0,791.5 208.1,792.0 209.0,793.1 210.0,794.5 210.1,794.7 211.0,796.8 211.1,797.2 212.0,795.9 212.1,795.7 213.0,795.9 214.0,796.3 214.1,796.3 215.0,792.0 215.1,791.3 216.0,784.5 217.0,776.5 217.1,775.4 218.0,777.6 218.1,778.0 219.0,778.6 220.0,779.3 220.1,779.4 221.0,784.7 221.1,785.7 222.0,790.5 223.0,796.1 224.0,801.8 224.2,802.6 225.0,807.7 226.0,813.7 227.0,819.7 227.2,820.6 228.0,821.0 229.0,821.5 229.2,821.6 230.0,824.7 231.0,828.3 232.0,832.0 232.2,832.6 233.0,828.1 234.0,822.8 235.0,817.5 235.2,816.6 236.0,814.1 237.0,811.1 238.0,808.1 238.2,807.6 239.0,799.0 240.0,789.1 241.0,777.0 241.2,775.0 242.0,777.0 243.0,779.5 244.0,782.0 244.0,782.0 244.2,783.7 245.0,779.8 246.0,775.2 247.0,770.5 247.0,770.5 247.2,768.8 248.0,766.5 249.0,763.7 250.0,760.9 250.0,760.8 250.2,760.6 251.0,759.3 251.2,759.1 252.0,756.9 253.0,754.2 253.0,754.2 253.2,753.3 254.0,749.0 254.2,748.0 255.0,756.1 256.0,766.1 256.0,766.3 256.2,767.2 257.0,771.8 257.2,772.9 258.0,759.1 258.0,758.8 259.0,756.8 259.0,771.0 259.2,769.6 260.0,763.2 260.0,763.0 260.2,761.7 261.0,760.6 262.0,759.3 262.0,759.3 262.2,758.7 263.0,756.0 263.0,755.9 263.2,755.4 264.0,759.1 264.0,759.3 265.0,755.3 265.2,754.6 266.0,751.3 266.0,751.2 266.2,750.6 267.0,752.8 267.0,752.9 268.0,756.9 268.2,757.7 269.0,761.1 269.6,763.7 270.0,765.2 270.0,765.3 270.2,767.4 271.0,766.3 271.2,766.0 272.0,765.0 272.0,764.9 273.0,763.7 273.0,763.6 273.2,763.3 274.0,762.8 274.2,762.6 275.0,762.1 275.0,762.1 276.0,761.4 276.0,761.4 276.2,760.9 277.0,758.7 277.2,758.2 278.0,756.1 278.0,756.0 279.0,753.4 279.0,753.3 279.2,752.0 280.0,743.5 280.2,741.3 281.0,732.9 282.0,722.2 282.0,721.8 282.2,722.0 283.0,721.0 283.2,720.7 284.0,719.7 285.0,718.3 285.0,718.3 285.2,716.8 286.0,722.1 286.2,723.5 287.0,728.7 288.0,735.3 288.0,744.8 288.2,747.0 289.0,757.4 289.2,760.3 290.0,770.7 290.1,771.4 291.0,776.4 291.1,776.7 291.2,777.7 292.0,782.4 292.1,782.7 292.2,783.7 293.0,788.3 293.1,788.6 294.0,794.3 294.1,794.6 294.2,795.3 295.0,798.4 296.0,802.4 296.1,802.6 296.2,803.4 297.0,807.3 297.1,807.6 297.2,809.2 298.0,816.7 298.1,817.2 299.0,819.1 299.1,819.2 300.0,821.1 300.1,821.2 300.2,821.0 301.0,819.9 301.1,819.9 301.2,820.9 302.0,825.5 302.1,825.8 303.0,831.4 303.1,831.8 304.0,833.4 304.1,833.5 304.2,830.7 304.5,826.9 305.0,818.2 305.1,817.1 306.0,811.6 307.0,805.6 307.1,805.2 307.2,804.0 308.0,798.4 308.1,797.9 309.0,792.9 310.0,787.6 310.1,787.3 310.2,786.4 311.0,782.3 311.1,782.0 312.0,778.3 313.0,774.3 313.1,774.0 314.0,771.6 314.1,771.4 315.0,766.5 316.0,761.2 316.1,760.8 317.0,750.4 317.1,750.5 318.0,749.9 319.0,749.3 319.1,749.2 320.0,750.6 320.1,750.7 321.0,749.0 322.0,747.2 322.1,747.1 323.0,745.4 323.1,745.2 324.0,742.8 325.0,740.1 325.1,739.9 326.0,737.5 326.1,737.2 327.0,736.6 328.0,735.9 328.1,735.9 329.0,735.3 329.1,735.2 330.0,731.6 331.0,727.6 331.1,727.3 332.0,723.7 332.1,723.3 333.0,720.3 333.1,720.0 334.0,717.0 335.0,713.7 335.1,713.4 336.0,713.4 337.0,713.4 338.0,713.4 338.1,713.4 339.0,714.6 340.0,715.9 340.1,716.0 341.0,717.2 341.1,717.4 342.0,722.7 343.0,728.7 343.1,729.3 344.0,734.7 344.1,735.3 345.0,739.4 345.1,739.9 346.0,744.1 346.1,757.5 347.0,771.1 347.1,772.7 348.0,788.7 348.1,790.7 349.0,779.4 349.1,778.0 350.0,773.3 351.0,768.0 351.1,767.4 352.0,769.7 352.1,770.0 353.0,771.8 353.7,773.2 354.0,773.8 354.1,774.0 355.0,780.5 355.1,781.4 356.0,784.6 357.0,788.2 357.1,788.7 358.0,784.0 359.0,778.7 360.0,773.4 360.1,772.7 361.0,771.6 362.0,770.3 363.0,768.9 363.1,768.8 364.0,767.0 365.0,765.0 366.0,763.1 366.1,762.8 367.0,765.2 368.0,762.8 369.0,760.5 369.1,760.2 370.0,759.0 370.1,758.9 371.0,756.0 372.0,752.7 372.1,752.2 373.0,748.1 373.1,747.5 374.0,743.4 375.0,738.6 376.0,733.9 376.1,733.3 377.0,735.5 378.0,738.2 379.0,740.9 379.1,741.2 380.0,747.3 381.0,749.6 382.0,752.0 382.1,752.3 383.0,754.3 383.0,754.3 383.1,754.5 384.0,755.7 385.0,757.0 385.1,757.2 386.0,756.6 386.0,756.6 386.1,756.8 387.0,757.9 388.0,759.3 388.1,759.5 389.0,760.5 389.0,760.5 389.1,759.5 390.0,753.6 391.0,746.6 391.0,746.5 392.0,741.1 392.2,740.3 393.0,735.7 393.0,735.7 394.0,734.4 395.0,733.0 395.0,733.0 395.2,733.4 396.0,734.9 397.0,736.6 397.5,737.5 398.0,737.2 398.2,737.1 399.0,737.7 400.0,738.3 400.0,738.3 401.0,736.4 401.2,736.1 401.5,738.0 402.0,732.9 403.0,722.3 403.0,722.1 403.2,721.4 404.0,715.0 404.2,713.7 405.0,707.4 405.0,707.2 406.0,703.6 406.2,703.0 407.0,700.0 407.0,699.9 407.2,699.8 408.0,699.3 409.0,698.6 409.0,698.6 409.2,697.9 410.0,690.2 410.2,688.6 411.0,680.9 411.0,680.6 412.0,679.0 412.2,678.7 413.0,675.6 413.2,674.9 413.5,673.6 414.0,676.7 415.0,683.3 415.0,683.6 415.2,685.0 416.0,691.6 416.2,693.0 417.0,699.6 417.0,699.9 418.0,710.4 418.2,712.4 419.0,718.6 419.0,718.9 419.2,719.3 420.0,721.5 421.0,724.1 421.0,724.2 421.2,724.2 422.0,724.4 422.2,724.5 422.5,724.6 423.0,724.7 423.0,724.7 423.2,724.5 424.0,722.9 424.2,722.6 425.0,725.4 425.2,726.0 425.5,727.3 426.0,727.8 426.2,728.0 427.0,728.8 427.2,729.0 428.0,730.4 428.0,730.5 428.2,730.6 429.0,731.1 429.2,731.3 430.0,731.8 430.2,731.9 431.0,731.9 431.1,731.9 431.2,731.8 432.0,731.4 432.2,731.3 433.0,730.9 433.2,730.8 433.6,730.6 434.0,731.8 434.2,732.3 435.0,734.4 435.2,734.9 436.0,737.1 436.1,737.2 436.2,736.1 437.0,732.1 437.2,731.1 438.0,727.1 438.1,726.8 438.2,726.8 439.0,726.8 439.2,726.8 440.0,726.3 440.1,726.2 440.2,726.6 441.0,728.4 441.2,728.9 442.0,730.7 442.1,730.9 442.2,731.9 443.0,736.2 443.2,737.2 444.0,741.5 444.1,741.8 444.2,742.5 445.0,746.2 445.2,747.1 445.6,751.0 446.0,750.7 446.2,750.5 447.0,750.0 447.6,749.7 448.0,749.4 448.2,749.2 449.0,746.6 449.2,745.9 449.6,744.7 450.0,744.6 451.0,744.3 451.2,744.2 451.6,742.6 451.8,743.8 452.0,744.6 452.2,745.6 453.0,749.3 453.6,751.9 454.0,756.5 454.2,758.8 455.0,762.9 455.1,763.3 455.2,763.9 456.0,767.0 456.2,767.8 456.6,769.3 457.0,770.6 457.2,771.3 457.6,774.3 458.0,785.1 458.2,787.4 459.0,785.3 460.0,782.7 460.2,782.1 461.0,781.0 461.2,780.8 462.0,777.6 463.0,773.7 463.1,770.8 463.2,769.7 464.0,765.6 464.2,764.5 465.0,760.4 465.1,760.0 466.0,750.6 466.2,748.2 467.0,740.3 467.1,739.4 467.2,738.8 468.0,735.4 469.0,731.1 469.1,730.7 469.2,730.1 470.0,728.8 470.2,727.4 471.0,722.8 471.1,722.3 472.0,720.2 472.2,720.1 473.0,719.7 473.0,719.7 473.2,719.6 474.0,719.2 474.0,719.2 474.1,719.1 475.0,719.9 475.2,720.1 476.0,720.7 476.0,720.7 476.1,720.4 476.2,721.3 477.0,726.0 478.0,732.2 478.0,732.2 478.1,732.4 478.2,732.7 479.0,734.4 479.0,734.4 479.6,735.7 480.0,733.3 480.0,733.2 481.0,729.4 481.0,729.3 481.1,729.2 482.0,729.0 483.0,728.6 483.1,728.6 484.0,732.8 484.0,732.8 484.6,734.8 485.0,736.6 486.0,741.3 486.1,741.8 487.0,748.3 487.0,748.4 488.0,750.4 488.1,750.6 489.0,752.3 490.0,754.3 490.0,754.4 490.1,754.5 491.0,756.8 491.6,758.4 492.0,770.8 493.0,778.8 493.0,779.0 494.0,790.7 495.0,802.7 495.0,803.0 495.6,798.1 496.0,799.1 496.0,799.2 497.0,802.0 498.0,804.8 498.0,804.9 499.0,799.1 499.0,798.9 500.0,793.1 501.0,787.2 501.0,787.0 502.0,781.2 502.0,781.0 503.0,775.2 504.0,769.2 504.0,769.0 505.0,769.0 505.0,769.0 506.0,769.1 507.0,769.1 507.0,769.1 508.0,772.9 508.0,773.0 509.0,776.9 510.0,780.8 510.0,781.0 511.0,784.8 511.0,785.0 512.0,788.8 513.0,792.8 513.0,792.9 514.0,796.3 514.0,796.4 515.0,799.8 516.0,803.2 516.0,803.4 517.0,809.9 517.0,810.2 518.0,804.5 519.0,798.5 519.0,798.3 520.0,791.9 520.1,791.6 521.0,789.1 522.0,786.4 522.1,786.3 523.0,780.0 523.1,779.6 524.0,786.5 525.0,793.8 525.1,794.2 526.0,802.4 526.1,802.9 527.0,800.4 528.0,797.7 528.1,797.5 529.0,801.9 529.1,802.2 530.0,798.5 531.0,794.5 531.1,794.3 532.0,790.5 532.1,790.5 533.0,780.3 534.0,769.4 534.1,768.7 535.0,754.1 536.0,738.6 536.1,737.5 537.0,749.1 537.1,749.7 538.0,749.3 538.1,749.3 539.0,753.9 540.0,758.8 540.1,759.2 541.0,763.8 541.1,764.4 542.0,767.4 543.0,770.7 543.1,771.0 544.0,772.8 544.1,773.0 545.0,780.3 546.0,788.3 546.1,788.9 547.0,804.2 548.0,820.8 548.1,822.1 549.0,827.6 549.1,828.1 550.0,835.4 551.0,843.4 551.1,844.0 552.0,846.4 552.1,846.6 553.0,850.9 554.0,855.6 554.1,855.9 555.0,853.5 555.1,853.3 556.0,851.1 557.0,848.8 557.1,848.6 557.5,847.3 558.0,845.6 559.0,842.3 560.0,839.0 560.1,838.7 561.0,842.9 562.0,847.5 562.1,848.0 563.0,854.0 563.1,854.6 564.0,856.4 564.1,856.6 565.0,859.6 566.0,862.9 566.1,863.2 567.0,869.8 567.1,870.6 567.7,861.4 568.0,856.8 568.1,855.3 569.0,848.7 570.0,841.4 570.1,840.7 571.0,841.9 572.0,843.2 573.0,844.5 573.1,844.7 574.0,844.1 575.0,843.4 576.0,842.8 576.1,842.7 577.0,840.8 578.0,838.6 579.0,836.4 579.1,836.2 580.0,836.7 580.1,836.7 581.0,837.9 582.0,839.2 582.1,839.4 583.0,840.0 583.1,840.1 584.0,845.9 585.0,852.6 585.1,853.4 586.0,853.3 586.1,853.3 587.0,855.7 588.0,858.3 588.1,858.6 589.0,860.4 589.1,860.6 590.0,862.4 590.1,862.6 591.0,864.3 591.1,864.6 592.0,873.9 592.1,875.2 592.5,874.7 593.0,874.1 594.0,872.7 594.1,872.6 595.0,871.4 595.1,871.3 596.0,868.9 597.0,866.3 597.1,865.9 598.0,860.1 598.1,859.3 599.0,858.7 600.0,858.0 600.1,858.0 601.0,859.4 601.1,859.6 602.0,858.8 603.0,857.8 603.1,857.6 604.0,855.6 604.1,855.3 605.0,853.9 606.0,852.2 606.1,852.0 607.0,850.2 607.1,850.0 608.0,850.5 608.1,850.6 609.0,851.2 609.1,851.3 610.0,851.3 610.1,851.3 611.0,853.0 611.1,853.3 612.0,855.0 612.1,855.3 613.0,857.0 613.1,857.3 614.0,862.4 614.1,863.3 615.0,868.4 615.1,869.2 616.0,873.8 616.1,874.6 617.0,877.4 618.0,880.7 618.1,881.2 619.0,885.7 619.1,886.5 620.0,882.0 621.0,876.7 621.2,875.9 622.0,873.6 622.2,873.2 623.0,868.7 624.0,863.4 624.2,862.6 625.0,858.7 625.2,857.9 626.0,852.9 626.2,852.0 627.0,846.9 627.2,846.0 628.0,839.8 628.2,838.7 629.0,837.0 630.0,835.0 630.2,834.7 631.0,830.2 631.2,831.2 632.0,831.2 633.0,831.2 633.2,831.2 634.0,827.3 634.2,826.5 635.0,842.3 636.0,861.2 636.2,864.4 637.0,878.2 638.0,894.8 638.2,897.6 639.0,894.8 639.2,894.3 640.0,897.0 640.2,897.6 641.0,897.0 642.0,896.4 642.2,896.3 643.0,889.1 644.0,880.5 645.0,871.8 645.2,870.3 646.0,873.1 646.2,873.6 647.0,876.4 648.0,879.7 648.2,880.3 649.0,883.6 650.0,887.6 650.2,888.3 651.0,891.6 651.2,892.3 652.0,890.1 653.0,887.4 654.0,884.8 654.2,884.3 655.0,885.9 656.0,887.9 657.0,889.8 657.2,890.2 658.0,895.1 659.0,901.0 660.0,907.0 660.2,908.2 661.0,911.4 662.0,915.4 663.0,919.3 663.2,920.1 664.0,921.7 665.0,923.7 666.0,925.7 666.2,926.1 667.0,926.6 668.0,927.3 669.0,928.0 669.2,928.1 670.0,927.0 670.2,926.8 671.0,925.7 672.0,924.4 672.2,924.1 673.0,927.8 673.2,928.8 674.0,932.5 674.2,933.4 675.0,929.2 675.2,928.1 676.0,922.3 676.2,920.8 677.0,917.1 678.0,912.5 678.2,911.5 679.0,906.8 679.2,905.5 680.0,908.1 681.0,911.4 681.2,912.1 682.0,914.2 682.2,914.8 683.0,919.0 684.0,924.3 684.2,925.4 685.0,929.1 685.2,930.1 686.0,931.7 687.0,933.6 687.2,934.1 688.0,936.1 688.2,936.7 689.0,936.2 690.0,935.5 690.2,935.4 691.0,937.5 691.2,938.1 692.0,931.8 693.0,923.9 693.2,922.1 694.0,914.9 694.2,912.8 695.0,913.3 696.0,914.0 696.2,914.1 697.0,915.2 698.0,916.5 699.0,917.8 699.2,918.1 700.0,920.1 700.2,920.0 701.0,919.8 702.0,919.5 702.2,919.4 703.0,919.1 703.0,919.1 704.0,920.1 704.0,920.1 704.2,920.3 705.0,920.8 705.2,920.9 706.0,921.4 706.0,921.4 707.0,924.1 707.0,924.1 707.2,925.5 708.0,930.0 708.0,930.1 708.2,929.3 709.0,926.8 709.0,926.8 710.0,923.5 710.0,923.4 710.0,923.3 711.0,920.2 711.0,920.1 712.0,919.1 712.0,919.1 713.0,918.2 713.0,918.1 714.0,920.1 715.0,922.1 715.0,922.1 716.0,924.1 716.0,924.1 717.0,926.1 718.0,928.1 718.0,928.1 719.0,930.0 719.0,930.1 720.0,931.4 721.0,932.7 721.0,932.7 722.0,934.0 722.0,934.1 723.0,934.7 724.0,935.4 724.0,935.4 725.0,936.0 725.0,936.1 726.0,937.7 727.0,939.3 728.0,941.0 728.0,941.0 729.0,943.6 730.0,946.3 730.0,946.4 731.0,944.1 731.0,944.0 732.0,942.1 733.0,940.1 733.0,940.1 734.0,943.3 734.0,943.4 735.0,946.6 736.0,949.9 736.0,950.1 737.0,948.1 737.0,948.1 738.0,943.6 738.0,943.4 739.0,938.9 739.0,938.7 740.0,934.9 740.0,934.8 741.0,930.3 741.0,930.1 742.0,925.6 742.0,925.4 743.0,927.3 743.0,927.4 744.0,929.3 744.0,929.4 745.0,931.3 745.0,931.4 746.0,932.7 746.0,932.7 747.0,937.2 747.0,937.4 748.0,941.8 748.0,942.1 749.0,938.9 749.0,938.7 750.0,935.0 750.1,934.8 751.0,931.0 751.1,930.8 752.0,930.1 752.1,930.1 753.0,928.2 753.1,928.1 754.0,929.4 755.0,930.7 755.1,930.8 756.0,933.3 756.1,933.4 757.0,930.9 758.0,928.3 758.1,928.1 759.0,925.0 759.1,924.8 760.0,922.6 761.0,920.3 761.1,920.1 762.0,923.3 762.1,923.5 763.0,926.6 764.0,929.9 764.1,930.1 765.0,932.6 765.1,932.8 766.0,935.2 767.0,937.9 767.1,938.1 768.0,939.9 768.1,940.1 769.0,941.9 770.0,943.9 770.1,944.1 771.0,944.7 771.1,944.7 772.0,945.3 773.0,946.0 773.1,946.1 774.0,945.4 774.1,945.4 775.0,942.9 776.0,940.3 776.1,940.1 777.0,945.6 777.1,946.0 778.0,949.1 779.0,952.4 779.1,952.7 780.0,952.0 780.1,952.0 781.0,954.1 782.0,956.4 782.1,956.6 783.0,955.1 783.1,955.0 784.0,955.9 785.0,956.9 785.1,957.0 786.0,954.2 786.1,954.0 787.0,952.8 788.0,951.4 788.1,951.3 789.0,944.1 789.1,943.4 790.0,937.3 791.0,930.7 791.1,930.1 792.0,930.7 792.1,930.8 793.0,928.3 794.0,925.7 794.1,925.4 795.0,927.8 795.1,928.1 796.0,928.1 797.0,928.1 797.1,928.1 798.0,932.3 798.1,932.7 799.0,936.9 800.0,941.6 800.1,942.0 801.0,941.4 801.1,941.4 802.0,942.6 803.0,943.9 803.1,944.0 804.0,945.8 804.1,946.0 805.0,948.4 806.0,951.1 806.1,951.3 807.0,950.2 807.1,950.0 808.0,948.8 809.0,947.5 809.1,947.4 810.0,946.8 810.1,946.7 811.0,944.3 812.0,941.7 812.1,941.4 813.0,943.7 813.1,944.0 814.0,947.0 815.0,950.3 815.1,950.7 816.0,951.8 816.1,952.0 817.0,954.4 817.1,954.7 818.0,950.0 818.1,949.3 819.0,944.7 819.1,944.0 820.0,943.4 821.0,942.8 821.1,942.7 822.0,942.1 822.1,942.0 823.0,942.0 824.0,942.0 824.1,942.0 825.0,942.0 825.1,942.0 826.0,943.2 827.0,944.5 827.1,944.7 828.0,945.8 828.1,946.0 829.0,946.0 830.0,946.0 830.1,946.0 831.0,946.0 831.1,946.0 832.0,947.2 833.0,948.5 833.1,948.7 834.0,949.8 834.1,950.0 835.0,950.6 836.0,951.2 836.1,951.3 837.0,951.9 837.1,952.0 838.0,952.0 839.0,952.0 839.1,952.0 840.0,952.0 840.1,952.0 841.0,952.6 842.0,953.2 842.1,953.3 843.0,953.9 843.1,954.0 844.0,951.7 845.0,949.1 845.1,948.7 846.0,946.4 846.1,946.0 847.0,939.2 848.0,931.2 848.1,930.0 849.0,936.8 849.1,938.0 850.0,948.2 850.2,950.0 851.0,955.9 851.2,957.0 851.8,961.2 852.0,958.4 852.2,956.7 853.0,947.7 854.0,937.0 854.2,935.4 855.0,929.8 855.2,928.8 856.0,922.6 857.0,915.3 857.2,914.1 858.0,921.4 858.2,922.8 859.0,927.3 860.0,932.6 860.2,933.4 861.0,938.4 861.2,939.4 862.0,943.3 863.0,947.9 863.2,948.7 864.0,947.6 864.2,947.4 865.0,946.8 866.0,946.1 866.2,946.0 867.0,943.9 867.2,943.5 868.0,943.1 869.0,942.6 869.2,942.5 870.0,942.1 870.2,942.0 871.0,942.0 872.0,942.0 872.2,942.0 873.0,942.0 873.2,942.0 874.0,940.9 875.0,939.6 876.0,938.3 876.2,938.1 877.0,933.7 878.0,928.4 879.0,923.1 879.2,922.1 880.0,919.4 881.0,916.1 882.0,912.7 882.2,912.1 883.0,915.9 884.0,920.6 885.0,925.2 885.2,926.1 886.0,932.0 887.0,939.4 888.0,946.7 888.2,948.0 889.0,947.5 890.0,946.8 891.0,946.2 891.2,946.0 892.0,943.9 893.0,941.2 894.0,938.6 894.2,938.0 895.0,940.7 896.0,944.1 897.0,947.4 897.2,948.0 898.0,946.7 899.0,945.0 899.2,944.7 900.0,941.7 900.2,939.3 901.0,929.7 901.5,923.7 902.0,923.2 902.0,923.2 902.2,923.0 903.0,922.1 903.2,921.9 904.0,920.5 904.0,920.5 904.5,920.8 905.0,921.2 905.2,921.3 906.0,921.8 906.2,922.0 907.0,921.5 907.0,921.4 908.0,923.4 908.2,923.8 909.0,925.4 909.2,925.8 909.5,927.2 910.0,929.5 910.0,929.6 911.0,930.6 911.2,930.8 912.0,931.6 912.0,931.6 912.2,930.8 913.0,927.1 914.0,922.5 914.0,922.4 914.2,921.7 914.5,920.6 915.0,918.8 915.2,918.0 916.0,915.2 916.0,915.1 917.0,911.5 917.2,910.7 917.5,909.6 918.0,907.8 918.0,907.8 918.2,907.3 919.0,905.2 920.0,902.5 920.2,901.9 920.5,901.1 921.0,901.4 921.2,901.5 922.0,899.9 923.0,897.7 923.0,897.7 923.2,897.7 924.0,897.8 924.2,897.9 925.0,898.0 925.0,898.0 925.5,900.3 926.0,902.5 926.2,903.6 926.5,905.0 927.0,908.1 927.0,908.3 927.2,909.6 928.0,916.3 928.0,916.6 929.0,919.1 929.0,919.2 929.2,920.2 930.0,923.9 930.0,924.0 930.2,923.7 931.0,922.5 931.0,922.5 932.0,921.0 932.0,921.0 932.2,920.3 933.0,917.6 933.0,917.6 933.0,917.5 933.2,916.8 934.0,914.1 934.0,914.1 934.5,911.7 935.0,911.5 935.2,911.4 935.5,911.2 936.0,911.0 936.0,911.0 936.2,910.9 937.0,910.5 937.0,910.5 938.0,913.8 938.0,913.9 938.0,913.9 938.2,914.3 939.0,915.8 939.0,915.9 940.0,918.3 940.0,918.4 941.0,920.8 941.0,920.8 941.0,920.9 942.0,919.0 942.0,919.0 942.0,919.0 943.0,919.5 943.0,919.5 944.0,918.5 944.0,918.5 944.0,918.5 945.0,917.5 945.0,917.5 946.0,917.0 946.0,917.0 946.5,916.5 947.0,916.0 947.0,916.0 947.0,916.0 948.0,916.9 949.0,917.9 949.0,918.0 950.0,922.7 950.0,922.8 951.0,928.3 951.1,928.6 951.6,928.0 952.0,927.4 953.0,926.0 953.0,926.0 953.1,926.1 954.0,923.6 954.1,923.4 954.6,922.1 955.0,919.2 955.6,915.5 956.0,912.5 956.0,912.3 956.1,912.1 957.0,904.6 957.1,904.1 957.6,900.1 958.0,895.4 959.0,884.8 959.0,884.5 959.1,884.1 960.0,872.2 960.0,871.8 960.6,865.1 961.0,867.1 961.0,867.3 961.1,867.4 962.0,871.8 962.0,871.9 962.1,872.1 963.0,878.4 963.0,878.6 963.1,878.8 964.0,885.0 964.0,885.2 964.1,885.4 965.0,887.9 965.0,888.0 965.1,888.1 966.0,891.2 966.0,891.4 966.1,891.5 967.0,893.3 967.0,893.4 967.1,893.5 968.0,895.3 968.0,895.4 969.0,894.1 969.0,894.1 969.1,894.0 970.0,894.9 970.0,895.0 970.6,895.5 971.0,895.9 971.0,896.0 971.1,896.0 972.0,901.6 972.0,901.8 972.1,902.0 972.6,905.0 973.0,907.0 973.0,907.2 974.0,911.6 974.0,911.8 974.1,912.0 975.0,912.9 975.0,913.0 976.0,913.9 976.0,914.0 976.1,914.0 977.0,909.1 977.0,908.8 977.6,907.1 978.0,903.4 978.0,903.0 978.1,902.8 979.0,894.8 979.0,894.4 979.1,894.1 980.0,887.4 980.0,887.4 980.1,887.0 980.1,886.8 980.6,883.2 981.0,881.5 981.1,881.3 982.0,877.5 982.1,877.3 982.1,877.2 982.6,875.2 983.0,878.2 983.1,878.6 984.0,883.0 984.0,883.1 984.1,883.3 984.1,883.4 985.0,888.9 985.1,889.2 985.6,892.4 986.0,889.9 986.1,889.6 986.1,889.4 987.0,885.2 987.1,884.9 987.1,884.8 988.0,879.3 988.0,879.3 988.1,879.0 988.1,878.8 988.6,875.8 989.0,878.3 989.1,878.6 990.0,881.1 990.1,881.3 990.1,881.4 991.0,884.4 991.1,884.6 992.0,887.7 992.0,887.7 992.1,887.9 992.1,888.0 993.0,893.4 993.1,893.8 994.0,899.4 994.1,899.8 994.1,900.0 994.6,902.5 995.0,904.5 995.1,904.8 996.0,909.5 996.0,909.6 996.1,909.8 996.1,909.9 997.0,913.5 997.1,913.8 997.1,913.9 998.0,917.5 998.1,917.8 998.1,917.9 999.0,919.1 999.0,919.1 999.1,919.2 999.1,919.2 1000.0,920.4 1000.1,920.5 1000.1,920.5 1001.0,919.0 1001.1,918.9 1001.1,919.0 1002.0,922.3 1002.0,922.4 1002.1,922.6 1002.1,922.7 1003.0,923.7 1003.1,923.7 1003.1,923.8 1004.0,924.7 1004.1,924.8 1004.6,924.3 1005.0,923.3 1005.0,923.2 1005.1,923.1 1005.1,923.1 1006.0,920.8 1006.1,920.6 1007.0,918.3 1007.1,918.1 1007.1,917.9 1008.0,915.6 1008.0,915.5 1008.1,915.4 1009.0,912.9 1009.1,912.7 1009.1,912.6 1010.0,910.2 1010.1,910.0 1010.1,909.9 1011.0,909.1 1011.0,909.1 1011.1,909.0 1011.1,909.0 1012.0,908.2 1012.1,908.1 1012.6,907.6 1013.0,907.2 1014.0,906.0 1014.0,906.0 1014.1,905.9 1014.1,906.0 1015.0,903.1 1015.1,902.8 1016.0,899.8 1016.1,899.4 1017.0,895.6 1017.0,895.4 1017.1,895.2 1018.0,891.3 1018.1,890.9 1018.1,890.8 1019.0,889.4 1020.0,887.9 1020.0,887.9 1020.0,887.9 1020.1,888.1 1021.0,889.7 1021.1,889.6 1022.0,890.2 1023.0,890.9 1023.1,891.0 1024.0,889.8 1024.0,889.7 1024.1,889.6 1025.0,890.2 1026.0,890.9 1026.1,891.0 1027.0,891.0 1027.1,891.0 1027.1,891.0 1028.0,894.0 1029.0,897.3 1029.1,897.6 1030.0,900.9 1030.1,901.1 1030.1,901.3 1031.0,905.7 1032.0,910.7 1032.1,911.2 1033.0,918.1 1033.1,918.5 1033.1,918.9 1034.0,918.6 1035.0,918.3 1035.1,918.2 1036.0,917.6 1036.1,917.6 1036.1,917.6 1037.0,912.8 1038.0,907.5 1038.1,906.9 1039.0,902.2 1039.1,901.9 1039.1,901.6 1040.0,898.1 1041.0,894.1 1041.1,893.6 1042.0,890.1 1042.1,889.8 1042.1,889.7 1043.0,886.1 1044.0,882.1 1044.1,881.7 1045.0,876.4 1045.1,876.0 1045.1,875.7 1046.0,877.5 1047.0,879.4 1047.1,879.7 1048.0,880.3 1048.1,880.3 1048.1,880.3 1049.0,883.3 1050.0,886.6 1050.1,887.0 1051.0,892.8 1051.1,893.3 1051.1,893.6 1052.0,890.1 1053.0,886.1 1053.1,885.7 1054.0,883.3 1054.1,883.1 1054.1,883.0 1055.0,878.4 1056.0,873.0 1056.1,872.4 1057.0,867.7 1057.1,867.3 1057.1,867.1 1058.0,859.7 1059.0,852.8 1059.1,851.9 1060.0,844.7 1060.1,844.0 1060.1,843.6 1061.0,846.3 1062.0,841.9 1062.1,841.3 1063.0,849.1 1063.1,849.8 1064.0,857.9 1064.1,859.1 1065.0,863.5 1065.1,864.4 1066.0,870.2 1066.1,870.8 1067.0,876.8 1067.1,877.7 1068.0,883.4 1068.1,884.4 1069.0,890.1 1069.1,890.7 1070.0,896.7 1070.1,897.7 1071.0,901.1 1071.1,901.6 1072.0,905.6 1072.1,906.1 1073.0,910.3 1073.1,911.0 1074.0,904.7 1074.1,903.6 1075.0,899.1 1075.1,898.6 1076.0,893.8 1076.1,893.0 1077.0,887.3 1077.1,886.4 1078.0,881.3 1078.1,880.6 1079.0,875.3 1079.1,874.4 1080.0,869.9 1080.2,869.1 1081.0,864.0 1081.1,863.4 1082.0,858.0 1082.2,857.1 1083.0,861.1 1083.2,861.8 1084.0,863.5 1084.1,863.7 1085.0,865.4 1085.2,865.8 1086.0,872.5 1086.2,873.7 1087.0,879.9 1087.1,880.7 1088.0,887.2 1088.2,888.4 1089.0,888.4 1089.2,888.3 1090.0,890.0 1090.1,890.3 1091.0,892.0 1091.2,892.3 1092.0,892.9 1092.2,893.0 1093.0,894.1 1093.1,894.3 1094.0,895.5 1094.2,895.7 1095.0,890.7 1095.2,889.7 1096.0,886.4 1096.1,885.9 1097.0,882.4 1097.2,881.7 1098.0,877.9 1098.2,877.1 1099.0,872.1 1099.1,871.4 1100.0,869.7 1100.2,868.5 1101.0,868.4 1101.2,868.4 1102.0,868.2 1102.1,868.2 1103.0,868.1 1103.2,868.0 1104.0,869.5 1104.0,869.6 1104.2,869.7 1105.0,870.6 1105.1,870.8 1106.0,871.7 1106.2,871.9 1107.0,872.2 1107.2,872.3 1108.0,872.7 1108.0,872.7 1108.1,872.9 1109.0,874.3 1109.2,874.6 1110.0,873.8 1110.2,873.6 1111.0,872.8 1111.0,872.8 1111.1,872.2 1111.2,872.0 1112.0,875.8 1113.0,880.4 1113.2,881.3 1114.0,885.1 1114.0,885.1 1114.1,886.1 1114.2,886.4 1115.0,885.3 1116.0,884.0 1116.2,883.7 1117.0,882.6 1117.0,882.6 1117.1,882.5 1117.2,882.5 1118.0,882.0 1119.0,881.3 1119.2,881.2 1120.0,880.7 1120.0,880.6 1120.1,880.6 1120.2,880.5 1121.0,880.0 1122.0,879.3 1122.2,879.2 1123.0,878.7 1123.0,878.6 1123.1,878.6 1123.2,878.6 1124.0,879.2 1125.0,879.9 1125.2,880.0 1126.0,880.5 1126.0,880.5 1126.2,880.4 1126.2,880.3 1127.0,879.2 1128.0,877.9 1128.2,877.7 1129.0,876.6 1129.0,876.5 1129.2,876.3 1129.2,876.2 1130.0,876.2 1131.0,876.2 1131.2,876.2 1132.0,876.2 1132.0,876.2 1132.2,876.0 1132.2,876.0 1133.0,881.8 1134.0,889.1 1134.2,890.6 1135.0,897.2 1135.0,897.5 1135.2,898.7 1136.0,907.1 1136.2,909.2 1137.0,898.1 1137.0,897.6 1137.2,896.0 1138.0,888.9 1138.2,887.5 1138.2,887.1 1139.0,882.9 1139.2,881.8 1140.0,877.6 1140.0,877.3 1140.2,876.0 1141.0,869.7 1141.2,868.4 1141.2,868.0 1142.0,864.9 1142.2,864.0 1143.0,860.9 1143.0,860.7 1143.2,859.9 1144.0,856.3 1144.2,855.5 1144.2,855.3 1145.0,856.8 1145.2,857.3 1146.0,858.8 1146.0,858.9 1146.2,858.9 1147.0,858.9 1147.2,858.9 1147.2,858.9 1148.0,862.0 1148.2,862.9 1149.0,866.0 1149.0,866.2 1149.2,867.2 1150.0,871.9 1150.2,872.9 1150.2,873.2 1151.0,871.7 1151.2,871.2 1152.0,869.7 1152.1,869.6 1152.2,869.2 1153.0,867.7 1153.2,867.3 1153.2,867.2 1154.0,865.7 1154.2,865.2 1155.0,863.7 1155.1,863.6 1155.2,862.9 1156.0,859.8 1156.2,859.1 1156.2,858.9 1157.0,861.0 1157.2,861.6 1158.0,863.6 1158.1,863.8 1158.2,864.3 1159.0,866.9 1159.2,867.5 1159.2,867.7 1160.0,869.2 1160.2,869.7 1161.0,871.2 1161.1,871.3 1161.2,871.5 1162.0,872.6 1162.2,872.8 1162.2,872.9 1163.0,870.8 1163.2,870.2 1164.0,868.2 1164.1,867.5 1164.2,866.6 1164.2,866.6 1165.0,866.1 1165.2,866.0 1166.0,865.5 1166.2,865.3 1167.0,864.8 1167.1,864.7 1167.2,864.5 1167.2,864.7 1168.0,867.2 1168.2,868.0 1169.0,870.5 1170.0,873.8 1170.0,874.0 1170.1,874.1 1170.2,874.3 1171.0,877.5 1172.0,881.5 1173.0,885.5 1173.1,885.8 1173.2,886.7 1174.0,884.8 1175.0,882.5 1175.2,882.1 1176.0,871.4 1176.1,870.4 1176.2,868.8 1177.0,858.8 1177.2,856.2 1178.0,850.9 1179.0,843.0 1179.1,842.4 1179.2,841.2 1180.0,838.1 1181.0,834.1 1182.0,830.2 1182.1,829.9 1182.2,829.2 1183.0,828.2 1184.0,826.9 1185.0,825.6 1185.1,825.5 1185.2,825.4 1186.0,824.4 1187.0,825.6 1188.0,826.9 1188.1,827.0 1188.2,826.9 1189.0,826.8 1190.0,826.8 1191.0,826.7 1191.1,826.7 1191.2,826.7 1192.0,827.1 1193.0,827.7 1194.0,828.3 1194.1,828.3 1194.2,828.4 1195.0,832.1 1195.2,833.1 1196.0,833.1 1197.0,833.1 1197.2,833.1 1198.0,833.1 1198.2,833.1 1199.0,830.0 1200.0,826.0 1200.2,825.1 1201.0,821.5 1201.2,820.4 1202.0,816.8 1203.0,812.2 1203.2,811.1 1204.0,805.5 1204.2,803.8 1205.0,806.4 1206.0,809.7 1206.2,810.5 1207.0,816.1 1208.0,823.4 1208.2,825.1 1209.0,839.9 1209.2,844.4 1210.0,858.9 1210.2,863.3 1211.0,865.6 1211.1,865.9 1211.1,892.4 1211.0,892.5 1210.2,893.3 1210.0,893.5 1209.2,894.3 1209.0,894.6 1208.2,895.6 1208.0,895.9 1207.0,897.2 1206.2,898.3 1206.0,898.1 1205.0,897.4 1204.2,896.9 1204.0,896.8 1203.2,896.3 1203.0,896.7 1202.0,898.7 1201.2,900.3 1201.0,900.7 1200.2,902.3 1200.0,902.9 1199.0,905.5 1198.2,907.6 1198.0,908.2 1197.2,910.2 1197.0,910.8 1196.0,913.5 1195.2,915.6 1195.0,916.1 1194.2,918.2 1194.1,918.1 1194.0,917.9 1193.0,915.2 1192.0,912.6 1191.2,910.5 1191.1,910.1 1191.0,909.9 1190.0,907.2 1189.0,904.6 1188.2,902.5 1188.1,902.1 1188.0,902.1 1187.0,901.4 1186.0,900.7 1185.2,900.2 1185.1,900.1 1185.0,900.1 1184.0,899.4 1183.0,898.7 1182.2,898.2 1182.1,898.1 1182.0,898.2 1181.0,899.6 1180.0,900.9 1179.2,902.0 1179.1,902.1 1179.0,902.4 1178.0,905.7 1177.2,908.4 1177.0,909.1 1176.2,911.7 1176.1,912.1 1176.0,912.3 1175.2,914.5 1175.0,915.0 1174.0,917.7 1173.2,919.8 1173.1,920.1 1173.0,920.1 1172.0,919.4 1171.0,918.8 1170.2,918.2 1170.1,918.1 1170.0,918.2 1170.0,918.2 1169.0,918.9 1168.2,919.4 1168.0,919.5 1167.2,920.0 1167.2,920.1 1167.1,920.1 1167.0,920.3 1166.2,921.8 1166.0,922.3 1165.2,923.8 1165.0,924.3 1164.2,925.8 1164.2,925.9 1164.1,926.1 1164.0,926.1 1163.2,925.0 1163.0,924.7 1162.2,923.7 1162.2,923.6 1162.0,923.4 1161.2,922.4 1161.1,922.1 1161.0,922.1 1160.2,921.6 1160.0,921.4 1159.2,920.9 1159.2,920.9 1159.0,920.8 1158.2,920.3 1158.1,920.1 1158.0,920.1 1157.2,919.0 1157.0,918.7 1156.2,917.7 1156.2,917.6 1156.0,917.4 1155.2,916.4 1155.1,916.1 1155.0,916.2 1154.2,916.7 1154.0,916.8 1153.2,917.4 1153.2,917.4 1153.0,917.5 1152.2,918.0 1152.1,918.1 1152.0,918.2 1151.2,918.7 1151.0,918.8 1150.2,919.4 1150.2,919.4 1150.0,919.5 1149.2,920.0 1149.0,920.1 1149.0,920.1 1148.2,919.0 1148.0,918.7 1147.2,917.7 1147.2,917.6 1147.0,917.4 1146.2,916.4 1146.0,916.1 1146.0,916.2 1145.2,916.7 1145.0,916.8 1144.2,917.4 1144.2,917.4 1144.0,917.5 1143.2,918.0 1143.0,918.1 1143.0,918.2 1142.2,919.2 1142.0,919.5 1141.2,920.6 1141.2,920.6 1141.0,920.9 1140.2,921.9 1140.0,922.1 1140.0,922.3 1139.2,925.5 1139.0,926.3 1138.2,929.5 1138.2,929.7 1138.0,930.3 1137.2,933.5 1137.0,934.2 1137.0,934.1 1136.2,933.3 1136.0,933.1 1135.2,932.3 1135.0,932.2 1135.0,932.1 1134.2,929.9 1134.0,929.4 1133.0,926.7 1132.2,924.6 1132.2,924.5 1132.0,924.1 1132.0,924.1 1131.2,923.0 1131.0,922.8 1130.0,921.4 1129.2,920.4 1129.2,920.3 1129.0,920.1 1129.0,920.1 1128.2,919.6 1128.0,919.5 1127.0,918.8 1126.2,918.3 1126.2,918.2 1126.0,918.1 1126.0,918.2 1125.2,919.2 1125.0,919.5 1124.0,920.8 1123.2,921.9 1123.1,922.0 1123.0,922.1 1123.0,922.2 1122.2,922.7 1122.0,922.8 1121.0,923.5 1120.2,924.0 1120.1,924.1 1120.0,924.1 1120.0,924.2 1119.2,924.7 1119.0,924.8 1118.0,925.5 1117.2,926.0 1117.1,926.1 1117.0,926.1 1117.0,926.1 1116.2,926.1 1116.0,926.1 1115.0,926.1 1114.2,926.1 1114.1,926.1 1114.0,926.1 1114.0,926.1 1113.2,923.9 1113.0,923.4 1112.0,920.8 1111.2,918.6 1111.1,918.5 1111.0,918.1 1111.0,918.1 1110.2,919.0 1110.0,919.1 1109.2,920.0 1109.0,920.1 1108.1,921.0 1108.0,921.1 1108.0,921.1 1107.2,920.9 1107.0,920.9 1106.2,920.7 1106.0,920.6 1105.1,920.4 1105.0,920.4 1104.2,920.2 1104.0,920.1 1104.0,920.1 1103.2,920.6 1103.0,920.6 1102.1,921.1 1102.0,921.1 1101.2,921.6 1101.0,921.6 1100.2,922.1 1100.0,922.1 1099.1,926.9 1099.0,927.0 1098.2,928.1 1098.0,928.6 1097.2,930.8 1097.0,931.3 1096.1,933.6 1096.0,933.9 1095.2,936.2 1095.0,936.3 1094.2,936.8 1094.0,936.9 1093.1,937.5 1093.0,937.6 1092.2,938.2 1092.0,938.2 1091.2,938.2 1091.0,938.2 1090.1,938.2 1090.0,938.2 1089.2,938.2 1089.0,937.8 1088.2,936.2 1088.0,935.8 1087.1,934.1 1087.0,933.8 1086.2,932.2 1086.0,931.9 1085.2,930.8 1085.0,930.6 1084.1,929.4 1084.0,929.3 1083.2,928.1 1083.0,928.4 1082.2,929.5 1082.0,929.7 1081.1,930.9 1081.0,931.0 1080.2,932.2 1080.0,932.5 1079.1,934.2 1079.0,934.5 1078.1,936.2 1078.0,936.5 1077.1,938.2 1077.0,938.4 1076.1,939.5 1076.0,939.7 1075.1,940.9 1075.0,941.0 1074.1,942.2 1074.0,942.1 1073.1,941.5 1073.0,941.4 1072.1,940.8 1072.0,940.7 1071.1,940.2 1071.0,940.0 1070.1,938.8 1070.0,938.6 1069.1,937.4 1069.0,937.3 1068.1,936.2 1068.0,936.0 1067.1,934.8 1067.0,934.6 1066.1,933.4 1066.0,933.3 1065.1,932.2 1065.0,932.0 1064.1,930.8 1064.0,930.6 1063.1,929.4 1063.0,929.3 1062.1,928.1 1062.0,928.3 1061.0,929.7 1060.1,930.8 1060.1,930.9 1060.0,931.0 1059.1,932.2 1059.0,932.5 1058.0,935.2 1057.1,937.5 1057.1,937.6 1057.0,937.8 1056.1,940.2 1056.0,940.5 1055.0,943.2 1054.1,945.5 1054.1,945.6 1054.0,945.8 1053.1,948.2 1053.0,948.3 1052.0,949.7 1051.1,950.8 1051.1,950.9 1051.0,951.0 1050.1,952.2 1050.0,951.9 1049.0,949.9 1048.1,948.2 1048.1,948.1 1048.0,947.9 1047.1,946.2 1047.0,946.1 1046.0,945.4 1045.1,944.8 1045.1,944.8 1045.0,944.8 1044.1,944.2 1044.0,944.3 1043.0,945.6 1042.1,946.8 1042.1,946.9 1042.0,947.0 1041.1,948.2 1041.0,948.3 1040.0,949.6 1039.1,950.8 1039.1,950.9 1039.0,951.0 1038.1,952.2 1038.0,952.3 1037.0,953.6 1036.1,954.8 1036.1,954.9 1036.0,955.0 1035.1,956.2 1035.0,956.4 1034.0,958.0 1033.1,959.5 1033.1,959.6 1033.0,959.7 1032.1,961.2 1032.0,961.1 1031.0,960.1 1030.1,959.2 1030.1,959.1 1030.0,959.1 1029.1,958.2 1029.0,958.0 1028.0,956.7 1027.1,955.5 1027.1,955.4 1027.0,955.4 1026.1,954.2 1026.0,954.1 1025.0,953.4 1024.1,952.8 1024.0,952.8 1024.0,952.8 1023.1,952.2 1023.0,952.3 1022.0,953.6 1021.1,954.8 1021.0,955.0 1020.1,956.2 1020.0,956.3 1020.0,956.4 1020.0,956.4 1019.0,959.1 1018.1,961.4 1018.1,961.5 1018.0,961.7 1017.1,964.2 1017.0,964.3 1017.0,964.4 1016.1,966.8 1016.0,967.1 1015.1,969.5 1015.0,969.7 1014.1,972.1 1014.1,972.2 1014.0,972.1 1014.0,972.0 1013.0,969.5 1012.6,968.5 1012.1,967.2 1012.0,967.0 1011.1,964.8 1011.1,964.7 1011.0,964.6 1011.0,964.5 1010.1,962.3 1010.1,962.2 1010.0,962.1 1009.1,960.9 1009.1,960.8 1009.0,960.7 1008.1,959.5 1008.0,959.5 1008.0,959.4 1007.1,958.2 1007.1,958.2 1007.0,958.2 1006.1,958.8 1006.0,958.9 1005.1,959.5 1005.1,959.5 1005.0,959.5 1005.0,959.6 1004.6,959.8 1004.1,960.2 1004.0,960.4 1003.1,962.8 1003.1,962.8 1003.0,963.0 1002.1,965.4 1002.1,965.5 1002.0,965.6 1002.0,965.7 1001.1,968.1 1001.1,968.2 1001.0,968.0 1000.1,965.6 1000.1,965.5 1000.0,965.3 999.1,962.9 999.1,962.8 999.0,962.7 999.0,962.7 998.1,960.3 998.1,960.2 998.0,960.0 997.1,958.2 997.1,958.2 997.0,958.0 996.1,956.2 996.1,956.2 996.0,956.1 996.0,956.0 995.1,954.2 995.0,954.0 994.6,953.2 994.1,952.2 994.1,952.2 994.0,952.0 993.1,950.2 993.0,950.0 992.1,948.2 992.1,948.2 992.0,948.0 992.0,948.0 991.1,945.5 991.0,945.3 990.1,942.9 990.1,942.8 990.0,942.7 989.1,940.2 989.0,940.2 988.6,940.5 988.1,940.8 988.1,940.8 988.0,940.9 988.0,940.9 987.1,941.5 987.1,941.5 987.0,941.5 986.1,942.1 986.1,942.2 986.0,942.1 985.6,941.8 985.1,941.5 985.0,941.5 984.1,940.8 984.1,940.8 984.0,940.8 984.0,940.8 983.1,940.2 983.0,940.3 982.6,941.1 982.1,942.1 982.1,942.2 982.0,942.3 981.1,944.2 981.0,944.3 980.6,945.1 980.1,946.1 980.1,946.2 980.0,946.3 980.0,946.3 979.1,948.1 979.0,948.2 979.0,948.3 978.1,950.1 978.0,950.2 978.0,950.3 977.6,951.1 977.0,952.2 977.0,952.2 976.1,952.2 976.0,952.2 976.0,952.2 975.0,952.2 975.0,952.2 974.1,952.2 974.0,952.2 974.0,952.1 973.0,950.2 973.0,950.1 972.6,949.2 972.1,948.2 972.0,948.2 972.0,948.1 971.1,946.2 971.0,946.2 971.0,946.1 970.6,945.2 970.0,944.2 970.0,944.1 969.1,942.2 969.0,942.2 969.0,942.1 968.0,940.2 968.0,940.2 967.1,941.5 967.0,941.5 967.0,941.5 966.1,942.8 966.0,942.8 966.0,942.9 965.1,944.1 965.0,944.2 965.0,944.2 964.1,944.8 964.0,944.8 964.0,944.9 963.1,945.5 963.0,945.5 963.0,945.5 962.1,946.1 962.0,946.2 962.0,946.1 961.1,944.2 961.0,944.2 961.0,944.1 960.6,943.2 960.0,942.2 960.0,942.1 959.1,940.2 959.0,940.2 959.0,940.2 958.0,942.9 957.6,944.1 957.1,945.4 957.0,945.6 956.1,948.1 956.0,948.2 956.0,948.3 955.6,950.1 955.0,952.3 954.6,954.1 954.1,956.1 954.0,956.3 953.1,960.1 953.0,960.2 953.0,960.2 952.0,960.9 951.6,961.2 951.1,961.5 951.0,961.5 950.0,962.2 950.0,962.2 949.0,962.2 949.0,962.2 948.0,962.2 947.0,962.2 947.0,962.2 947.0,962.2 946.5,962.2 946.0,962.2 946.0,962.2 945.0,962.7 945.0,962.7 944.0,963.2 944.0,963.2 944.0,963.2 943.0,963.7 943.0,963.7 942.0,964.2 942.0,964.2 942.0,964.2 941.0,962.2 941.0,962.2 941.0,962.2 940.0,960.2 940.0,960.2 939.0,958.2 939.0,958.2 938.2,956.6 938.0,956.2 938.0,956.2 938.0,956.2 937.0,955.7 937.0,955.7 936.2,955.3 936.0,955.2 936.0,955.2 935.5,954.9 935.2,954.8 935.0,954.7 934.5,954.4 934.0,954.2 934.0,954.2 933.2,954.6 933.0,954.7 933.0,954.7 933.0,954.7 932.2,955.1 932.0,955.2 932.0,955.2 931.0,955.7 931.0,955.7 930.2,956.1 930.0,956.2 930.0,956.2 929.2,958.4 929.0,958.9 929.0,959.0 928.0,959.6 928.0,959.6 927.2,960.1 927.0,959.9 927.0,959.8 926.5,959.2 926.2,958.8 926.0,958.5 925.5,957.9 925.0,957.2 925.0,957.2 924.2,956.1 924.0,955.8 923.2,954.8 923.0,954.5 923.0,954.5 922.0,953.2 921.2,952.1 921.0,952.4 920.5,953.1 920.2,953.5 920.0,953.8 919.0,955.1 918.2,956.1 918.0,956.4 918.0,956.4 917.5,957.1 917.2,957.5 917.0,957.8 916.0,959.1 916.0,959.1 915.2,960.1 915.0,960.4 914.5,961.1 914.2,961.5 914.0,961.7 914.0,961.8 913.0,963.1 912.2,964.1 912.0,964.5 912.0,964.6 911.2,966.1 911.0,966.6 910.0,968.5 910.0,968.6 909.5,969.5 909.2,970.2 909.0,970.0 908.2,969.5 908.0,969.3 907.0,968.7 907.0,968.7 906.2,968.1 906.0,968.3 905.2,968.8 905.0,969.0 904.5,969.3 904.0,969.6 904.0,969.6 903.2,970.2 903.0,970.4 902.2,971.5 902.0,971.8 902.0,971.8 901.5,972.4 901.0,973.1 900.2,974.2 900.0,974.4 899.2,975.5 899.0,975.8 898.0,977.1 897.2,978.2 897.0,978.3 896.0,979.0 895.0,979.6 894.2,980.2 894.0,980.2 893.0,980.2 892.0,980.2 891.2,980.2 891.0,980.0 890.0,979.4 889.0,978.7 888.2,978.2 888.0,977.9 887.0,976.6 886.0,975.2 885.2,974.2 885.0,974.0 884.0,973.4 883.0,972.7 882.2,972.2 882.0,972.3 881.0,972.9 880.0,973.6 879.2,974.2 879.0,974.4 878.0,975.7 877.0,977.1 876.2,978.2 876.0,978.4 875.0,979.7 874.0,981.1 873.2,982.2 873.0,982.4 872.2,983.5 872.0,983.7 871.0,985.1 870.2,986.2 870.0,986.2 869.2,986.2 869.0,986.2 868.0,986.2 867.2,986.2 867.0,985.8 866.2,984.2 866.0,983.8 865.0,981.8 864.2,980.2 864.0,979.7 863.2,977.5 863.0,977.1 862.0,974.4 861.2,972.2 861.0,971.9 860.2,970.8 860.0,970.6 859.0,969.3 858.2,968.1 858.0,968.5 857.2,970.2 857.0,970.5 856.0,972.5 855.2,974.2 855.0,974.6 854.2,976.8 854.0,977.2 853.0,979.9 852.2,982.2 852.0,982.5 851.8,983.0 851.2,984.2 851.0,984.5 850.2,986.2 850.0,986.5 849.1,988.2 849.0,987.9 848.1,986.2 848.0,985.9 847.0,983.9 846.1,982.2 846.0,982.4 845.1,983.5 845.0,983.7 844.0,985.0 843.1,986.2 843.0,986.3 842.1,986.8 842.0,986.9 841.0,987.6 840.1,988.2 840.0,988.3 839.1,988.8 839.0,988.9 838.0,989.6 837.1,990.2 837.0,990.1 836.1,989.5 836.0,989.4 835.0,988.7 834.1,988.2 834.0,988.1 833.1,987.5 833.0,987.4 832.0,986.7 831.1,986.2 831.0,986.1 830.1,985.5 830.0,985.4 829.0,984.7 828.1,984.2 828.0,984.1 827.1,983.5 827.0,983.4 826.0,982.7 825.1,982.2 825.0,982.2 824.1,982.8 824.0,982.9 823.0,983.6 822.1,984.2 822.0,984.2 821.1,984.2 821.0,984.2 820.0,984.2 819.1,984.2 819.0,984.2 818.1,984.8 818.0,984.9 817.1,985.5 817.0,985.6 816.1,986.2 816.0,986.1 815.1,985.5 815.0,985.4 814.0,984.8 813.1,984.2 813.0,984.0 812.1,982.8 812.0,982.7 811.0,981.3 810.1,980.2 810.0,980.2 809.1,980.8 809.0,980.9 808.0,981.6 807.1,982.2 807.0,982.2 806.1,982.8 806.0,982.9 805.0,983.6 804.1,984.2 804.0,984.2 803.1,984.2 803.0,984.2 802.0,984.2 801.1,984.2 801.0,984.0 800.1,982.2 800.0,982.0 799.0,980.0 798.1,978.2 798.0,978.0 797.1,976.2 797.0,976.0 796.0,974.0 795.1,972.2 795.0,972.2 794.1,972.8 794.0,972.9 793.0,973.5 792.1,974.2 792.0,974.5 791.1,978.2 791.0,978.5 790.0,982.5 789.1,986.2 789.0,986.4 788.1,988.8 788.0,989.1 787.0,991.7 786.1,994.2 786.0,994.3 785.1,995.2 785.0,995.3 784.0,996.3 783.1,997.2 783.0,997.0 782.1,995.5 782.0,995.4 781.0,993.7 780.1,992.2 780.0,991.8 779.1,987.5 779.0,987.1 778.0,982.5 777.1,978.2 777.0,978.0 776.1,976.2 776.0,976.0 775.0,974.0 774.1,972.2 774.0,972.2 773.1,972.2 773.0,972.2 772.0,972.2 771.1,972.2 771.0,972.2 770.1,972.2 770.0,972.1 769.0,971.4 768.1,970.8 768.0,970.8 767.1,970.2 767.0,970.1 766.0,968.7 765.1,967.5 765.0,967.4 764.1,966.1 764.0,966.1 763.0,964.7 762.1,963.5 762.0,963.4 761.1,962.1 761.0,962.2 760.0,962.8 759.1,963.5 759.0,963.5 758.1,964.1 758.0,964.2 757.0,965.6 756.1,966.8 756.0,966.9 755.1,968.1 755.0,968.1 754.0,968.1 753.1,968.1 753.0,968.1 752.1,968.1 752.0,968.2 751.1,969.5 751.0,969.6 750.1,970.8 750.0,970.9 749.0,972.2 749.0,972.3 748.0,974.2 748.0,974.3 747.0,976.2 747.0,976.3 746.0,978.2 746.0,978.1 745.0,976.8 745.0,976.8 744.0,975.5 744.0,975.4 743.0,974.2 743.0,974.1 742.0,972.8 742.0,972.8 741.0,971.5 741.0,971.4 740.0,970.2 740.0,970.1 739.0,969.5 739.0,969.5 738.0,968.8 738.0,968.8 737.0,968.1 737.0,968.2 736.0,970.2 736.0,970.2 735.0,972.2 734.0,974.2 734.0,974.2 733.0,976.2 733.0,976.2 732.0,978.2 731.0,980.2 731.0,980.2 730.0,981.8 730.0,981.9 729.0,983.5 728.0,985.2 728.0,985.1 727.0,983.5 726.0,981.8 725.0,980.2 725.0,980.1 724.0,979.5 724.0,979.5 723.0,978.8 722.0,978.2 722.0,978.1 721.0,976.8 721.0,976.8 720.0,975.5 719.0,974.2 719.0,974.1 718.0,972.2 718.0,972.1 717.0,970.1 716.0,968.1 716.0,968.1 715.0,966.8 715.0,966.8 714.0,965.5 713.0,964.1 713.0,964.2 712.0,966.1 712.0,966.2 711.0,968.1 711.0,968.2 710.0,970.1 710.0,970.2 710.0,970.2 709.0,972.2 709.0,972.2 708.2,973.7 708.0,974.2 708.0,974.2 707.2,975.7 707.0,976.2 707.0,976.1 706.0,974.8 706.0,974.8 705.2,973.8 705.0,973.5 704.2,972.5 704.0,972.2 704.0,972.1 703.0,971.2 703.0,971.1 702.2,970.4 702.0,970.1 701.0,969.1 700.2,968.4 700.0,968.1 699.2,970.2 699.0,969.9 698.0,968.5 697.0,967.2 696.2,966.2 696.0,966.3 695.0,967.0 694.2,967.5 694.0,967.7 693.2,968.2 693.0,968.6 692.0,970.6 691.2,972.2 691.0,972.6 690.2,974.2 690.0,973.9 689.0,972.5 688.2,971.5 688.0,971.2 687.2,970.2 687.0,969.7 686.0,967.7 685.2,966.2 685.0,965.7 684.2,964.2 684.0,963.9 683.0,962.5 682.2,961.5 682.0,961.2 681.2,960.2 681.0,960.0 680.0,959.4 679.2,958.8 679.0,958.7 678.2,958.2 678.0,958.3 677.0,959.0 676.2,959.5 676.0,959.6 675.2,960.2 675.0,960.7 674.2,962.8 674.0,963.4 673.2,965.5 673.0,966.0 672.2,968.2 672.0,968.2 671.0,968.2 670.2,968.2 670.0,968.2 669.2,968.2 669.0,968.0 668.0,967.4 667.0,966.7 666.2,966.2 666.0,966.0 665.0,965.4 664.0,964.7 663.2,964.2 663.0,963.9 662.0,962.6 661.0,961.2 660.2,960.2 660.0,960.0 659.0,959.4 658.0,958.7 657.2,958.2 657.0,957.0 656.0,951.0 655.0,945.0 654.2,940.1 654.0,939.6 653.0,937.0 652.0,934.3 651.2,932.1 651.0,932.4 650.2,933.5 650.0,933.7 649.0,935.0 648.2,936.1 648.0,936.3 647.0,936.9 646.2,937.5 646.0,937.6 645.2,938.1 645.0,938.0 644.0,937.4 643.0,936.7 642.2,936.1 642.0,936.4 641.0,937.7 640.2,938.8 640.0,939.0 639.2,940.1 639.0,939.2 638.2,934.8 638.0,933.9 637.0,928.6 636.2,924.1 636.0,923.1 635.0,917.1 634.2,912.1 634.0,911.1 633.2,906.1 633.0,905.9 632.0,904.6 631.2,903.4 631.0,903.2 630.2,902.1 630.0,902.4 629.0,904.4 628.2,906.1 628.0,906.4 627.2,908.1 627.0,908.6 626.2,911.4 626.0,912.0 625.2,914.8 625.0,915.3 624.2,918.1 624.0,918.5 623.0,921.2 622.2,923.5 622.0,923.9 621.2,926.1 621.0,926.1 620.0,926.1 619.1,926.1 619.0,926.1 618.1,926.1 618.0,925.8 617.0,923.8 616.1,922.1 616.0,921.8 615.1,920.1 615.0,919.9 614.1,918.8 614.0,918.6 613.1,917.5 613.0,917.3 612.1,916.1 612.0,915.9 611.1,914.8 611.0,914.6 610.1,913.4 610.0,913.3 609.1,912.1 609.0,912.0 608.1,911.4 608.0,911.4 607.1,910.8 607.0,910.7 606.1,910.1 606.0,910.1 605.0,909.7 604.1,909.4 604.0,909.4 603.1,909.1 603.0,909.2 602.0,910.2 601.1,911.1 601.0,911.2 600.1,912.1 600.0,911.9 599.0,910.6 598.1,909.4 598.0,909.3 597.1,908.1 597.0,908.4 596.0,911.1 595.1,913.4 595.0,913.8 594.1,916.1 594.0,916.4 593.0,919.1 592.5,920.4 592.1,921.5 592.0,921.8 591.1,924.1 591.0,923.4 590.1,918.1 590.0,917.4 589.1,912.1 589.0,911.4 588.1,906.1 588.0,905.5 587.0,900.1 586.1,895.4 586.0,894.8 585.1,890.1 585.0,890.2 584.0,891.6 583.1,892.8 583.0,892.9 582.1,894.1 582.0,894.3 581.0,896.3 580.1,898.1 580.0,898.3 579.1,900.1 579.0,900.0 578.0,899.4 577.0,898.7 576.1,898.1 576.0,898.2 575.0,898.8 574.0,899.5 573.1,900.1 573.0,900.4 572.0,903.0 571.0,905.7 570.1,908.1 570.0,908.9 569.0,916.9 568.1,924.1 568.0,924.1 567.7,924.1 567.1,924.1 567.0,924.1 566.1,924.1 566.0,923.7 565.0,919.7 564.1,916.1 564.0,915.7 563.1,912.1 563.0,912.2 562.1,912.8 562.0,912.8 561.0,913.5 560.1,914.1 560.0,914.5 559.0,918.5 558.0,922.5 557.5,924.5 557.1,926.1 557.0,925.9 556.0,922.9 555.1,920.1 555.0,919.8 554.1,916.8 554.0,916.5 553.0,913.2 552.1,910.1 552.0,909.7 551.1,904.8 551.0,904.3 550.0,899.0 549.1,894.1 549.0,893.5 548.1,886.8 548.0,886.2 547.0,878.8 546.1,872.1 546.0,871.6 545.0,865.6 544.1,860.1 544.0,859.6 543.1,854.1 543.0,853.7 542.0,849.0 541.1,844.7 541.0,844.4 540.1,840.0 540.0,839.7 539.0,835.0 538.1,830.7 538.0,830.4 537.1,826.0 537.0,826.3 536.1,830.7 536.0,831.0 535.0,835.7 534.1,840.0 534.0,840.4 533.0,845.7 532.1,850.7 532.0,851.0 531.1,856.1 531.0,856.4 530.0,861.7 529.1,866.7 529.0,867.0 528.1,872.1 528.0,872.0 527.0,870.0 526.1,868.1 526.0,868.0 525.1,866.1 525.0,865.9 524.0,862.5 523.1,859.4 523.0,859.2 522.1,856.1 522.0,856.1 521.0,856.8 520.1,857.4 520.0,857.4 519.0,858.1 519.0,858.1 518.0,859.5 517.0,860.7 517.0,860.8 516.0,862.1 516.0,862.0 515.0,860.0 514.0,858.1 514.0,858.0 513.0,856.1 513.0,855.9 512.0,851.9 511.0,848.0 511.0,847.9 510.0,844.0 510.0,843.9 509.0,840.6 508.0,837.4 508.0,837.2 507.0,834.0 507.0,834.1 506.0,836.1 505.0,838.0 505.0,838.1 504.0,840.0 504.0,840.2 503.0,843.5 502.0,846.7 502.0,846.8 501.0,850.1 501.0,850.2 500.0,855.5 499.0,860.7 499.0,860.9 498.0,866.1 498.0,866.2 497.0,870.3 496.0,874.4 496.0,874.5 495.6,876.1 495.0,871.9 495.0,871.7 494.0,864.8 493.0,858.1 493.0,857.9 492.0,851.2 491.6,848.6 491.0,844.6 490.1,838.6 490.0,838.0 490.0,837.9 489.0,831.9 488.1,826.6 488.0,825.9 487.0,820.0 487.0,820.0 486.1,819.4 486.0,819.3 485.0,818.7 484.6,818.4 484.0,818.0 484.0,818.0 483.1,818.6 483.0,818.7 482.0,819.4 481.1,820.0 481.0,820.0 481.0,820.0 480.0,817.4 480.0,817.3 479.6,816.3 479.0,814.7 479.0,814.7 478.2,812.6 478.1,812.3 478.0,812.0 478.0,812.0 477.0,813.0 476.2,813.8 476.1,813.9 476.0,814.0 476.0,814.0 475.2,814.8 475.0,815.0 474.1,815.9 474.0,816.0 474.0,816.0 473.2,816.8 473.0,817.0 473.0,817.0 472.2,817.8 472.0,818.0 471.1,818.9 471.0,819.0 470.2,819.8 470.0,820.0 469.2,824.1 469.1,824.5 469.0,824.7 468.0,827.4 467.2,829.4 467.1,829.8 467.0,830.0 466.2,832.1 466.0,832.7 465.1,835.1 465.0,835.4 464.2,837.4 464.0,838.0 463.2,840.1 463.1,840.1 463.0,840.1 462.0,840.1 461.2,840.1 461.0,840.1 460.2,840.1 460.0,839.8 459.0,838.5 458.2,837.4 458.0,837.1 457.6,836.6 457.2,836.1 457.0,834.6 456.6,831.8 456.2,829.4 456.0,828.0 455.2,822.7 455.1,821.8 455.0,821.3 454.2,816.1 454.0,815.8 453.6,815.2 453.0,814.5 452.2,813.4 452.0,813.1 451.8,812.9 451.6,812.6 451.2,812.1 451.0,812.6 450.0,815.3 449.6,816.4 449.2,817.4 449.0,818.0 448.2,820.1 448.0,821.2 447.6,823.5 447.0,826.5 446.2,830.8 446.0,831.9 445.6,834.2 445.2,836.1 445.0,836.0 444.2,835.4 444.1,835.3 444.0,835.3 443.2,834.8 443.0,834.6 442.2,834.1 442.1,834.3 442.0,834.4 441.2,835.4 441.0,835.7 440.2,836.8 440.1,837.0 440.0,837.0 439.2,838.1 439.0,838.5 438.2,840.1 438.1,840.4 438.0,840.5 437.2,842.1 437.0,842.5 436.2,844.1 436.1,843.9 436.0,843.8 435.2,842.8 435.0,842.5 434.2,841.4 434.0,841.2 433.6,840.6 433.2,840.1 433.0,839.8 432.2,838.8 432.0,838.5 431.2,837.4 431.1,837.2 431.0,837.2 430.2,836.1 430.0,836.0 429.2,835.4 429.0,835.3 428.2,834.8 428.0,834.7 428.0,834.6 427.2,834.1 427.0,833.8 426.2,832.8 426.0,832.5 425.5,831.9 425.2,831.4 425.0,831.2 424.2,830.1 424.0,828.9 423.2,823.4 423.0,822.5 423.0,822.2 422.5,818.9 422.2,816.7 422.0,815.5 421.2,810.1 421.0,809.0 421.0,808.7 420.0,801.4 419.2,795.4 419.0,794.4 419.0,794.1 418.2,788.0 418.0,787.3 417.0,783.5 417.0,783.3 416.2,780.0 416.0,779.3 415.2,776.0 415.0,775.8 415.0,775.8 414.0,774.5 413.5,773.8 413.2,773.4 413.0,773.1 412.2,772.0 412.0,772.1 411.0,772.8 411.0,772.8 410.2,773.4 410.0,773.5 409.2,774.0 409.0,774.8 409.0,774.9 408.0,780.3 407.2,784.7 407.0,785.5 407.0,785.6 406.2,790.1 406.0,790.9 405.0,796.1 405.0,796.3 404.2,800.7 404.0,801.6 403.2,806.1 403.0,807.2 403.0,807.4 402.0,815.4 401.5,819.2 401.2,822.1 401.0,822.2 400.0,822.8 400.0,822.9 399.0,823.5 398.2,824.1 398.0,824.0 397.5,823.7 397.0,823.3 396.0,822.6 395.2,822.1 395.0,822.2 395.0,822.2 394.0,822.9 393.0,823.5 393.0,823.5 392.2,824.1 392.0,824.2 391.0,824.7 391.0,824.7 390.0,825.2 389.1,825.6 389.0,825.7 389.0,825.7 388.1,826.1 388.0,826.2 387.0,826.9 386.1,827.4 386.0,827.5 386.0,827.5 385.1,828.1 385.0,828.5 384.0,831.1 383.1,833.4 383.0,833.8 383.0,833.8 382.1,836.1 382.0,836.5 381.0,839.1 380.0,841.8 379.1,844.1 379.0,843.9 378.0,842.6 377.0,841.3 376.1,840.1 376.0,840.0 375.0,839.2 374.0,838.5 373.1,837.8 373.0,837.7 372.1,837.1 372.0,837.2 371.0,837.9 370.1,838.4 370.0,838.5 369.1,839.1 369.0,839.1 368.0,838.7 367.0,838.4 366.1,838.1 366.0,838.2 365.0,838.8 364.0,839.5 363.1,840.1 363.0,840.6 362.0,844.6 361.0,848.6 360.1,852.1 360.0,852.6 359.0,856.6 358.0,860.6 357.1,864.1 357.0,863.8 356.0,860.8 355.1,858.1 355.0,858.2 354.1,858.8 354.0,858.9 353.7,859.1 353.0,859.5 352.1,860.1 352.0,860.3 351.1,861.5 351.0,861.6 350.0,862.9 349.1,864.1 349.0,863.5 348.1,858.1 348.0,857.5 347.1,852.1 347.0,851.2 346.1,843.4 346.0,842.5 345.1,834.8 345.0,833.9 344.1,826.1 344.0,825.7 343.1,822.7 343.0,822.4 342.0,819.1 341.1,816.1 341.0,816.0 340.1,815.4 340.0,815.3 339.0,814.7 338.1,814.1 338.0,814.4 337.0,817.7 336.0,821.1 335.1,824.1 335.0,824.5 334.0,829.2 333.1,833.4 333.0,833.9 332.1,838.1 332.0,838.5 331.1,842.1 331.0,842.5 330.0,846.5 329.1,850.1 329.0,850.0 328.1,848.8 328.0,848.7 327.0,847.3 326.1,846.1 326.0,846.0 325.1,844.8 325.0,844.7 324.0,843.3 323.1,842.1 323.0,842.0 322.1,840.8 322.0,840.7 321.0,839.3 320.1,838.1 320.0,838.3 319.1,840.1 319.0,840.3 318.0,842.3 317.1,844.1 317.0,844.4 316.1,848.1 316.0,848.4 315.0,852.4 314.1,856.1 314.0,856.6 313.1,862.8 313.0,863.3 312.0,869.9 311.1,876.1 311.0,876.5 310.2,880.6 310.1,881.5 310.0,881.8 309.0,887.2 308.1,892.2 308.0,892.4 307.2,894.9 307.1,895.5 307.0,895.7 306.0,899.0 305.1,902.2 305.0,901.7 304.5,898.0 304.2,896.3 304.1,895.2 304.0,894.7 303.1,888.1 303.0,888.0 302.1,885.5 302.0,885.3 301.2,883.3 301.1,882.8 301.0,882.6 300.2,880.6 300.1,880.1 300.0,880.2 299.1,880.8 299.0,880.8 298.1,881.5 298.0,881.5 297.2,882.0 297.1,882.1 297.0,881.9 296.2,878.8 296.1,878.1 296.0,877.9 295.0,873.9 294.2,870.8 294.1,870.1 294.0,870.0 293.1,868.1 293.0,868.0 292.2,866.5 292.1,866.1 292.0,866.0 291.2,864.5 291.1,864.1 291.0,864.0 290.1,861.5 290.0,861.3 289.2,859.2 289.0,858.7 288.2,856.6 288.0,856.1 288.0,856.1 287.0,854.7 286.2,853.7 286.0,853.4 285.2,852.3 285.0,852.1 285.0,852.4 284.0,858.4 283.2,863.1 283.0,864.4 282.2,869.1 282.0,870.1 282.0,869.9 281.0,863.9 280.2,859.1 280.0,857.9 279.2,853.1 279.0,852.1 279.0,852.1 278.0,851.4 278.0,851.4 277.2,850.9 277.0,850.8 276.2,850.2 276.0,850.1 276.0,850.2 275.0,852.1 275.0,852.2 274.2,853.8 274.0,854.2 273.2,855.8 273.0,856.1 273.0,856.2 272.0,858.8 272.0,858.9 271.2,861.0 271.0,861.5 270.2,863.7 270.0,864.1 270.0,864.0 269.6,862.0 269.0,858.6 268.2,854.3 268.0,853.3 267.0,848.1 267.0,847.9 266.2,842.6 266.0,841.4 266.0,841.3 265.2,835.9 265.0,834.6 264.0,828.1 264.0,828.1 263.2,829.8 263.0,830.1 263.0,830.1 262.2,831.8 262.0,832.1 262.0,832.2 261.0,836.2 260.2,839.4 260.0,840.1 260.0,840.2 259.2,843.4 259.0,844.1 259.0,858.5 258.0,868.3 258.0,868.2 257.2,864.2 257.0,863.2 256.2,859.2 256.0,858.3 256.0,858.3 255.0,857.6 254.2,857.1 254.0,857.0 253.2,856.4 253.0,856.3 253.0,856.4 252.0,858.3 251.2,860.0 251.0,860.3 250.2,862.0 250.0,862.3 250.0,862.3 249.0,863.0 248.0,863.7 247.2,864.2 247.0,864.3 247.0,864.4 246.0,870.3 245.0,876.3 244.2,881.3 244.0,882.3 244.0,882.3 243.0,880.8 242.0,879.3 241.2,878.0 241.0,877.8 240.0,876.3 239.0,877.0 238.2,877.3 238.0,877.4 237.0,878.4 236.0,879.4 235.2,880.3 235.0,880.7 234.0,883.4 233.0,886.0 232.2,888.3 232.0,889.0 231.0,893.3 230.0,897.6 229.2,901.2 229.0,900.5 228.0,896.0 227.2,892.2 227.0,891.5 226.0,886.9 225.0,882.2 224.2,878.3 224.0,877.8 223.0,874.5 222.0,871.1 221.1,868.3 221.0,867.9 220.1,865.6 220.0,865.2 219.0,862.6 218.1,860.3 218.0,860.2 217.1,859.7 217.0,859.6 216.0,858.9 215.1,858.3 215.0,858.7 214.1,860.7 214.0,861.0 213.0,863.3 212.1,865.3 212.0,865.4 211.1,865.8 211.0,865.9 210.1,866.3 210.0,866.2 209.0,865.5 208.1,865.0 208.0,864.9 207.1,864.3 207.0,864.4 206.0,865.1 205.0,865.7 204.1,866.3 204.0,866.2 203.0,865.6 202.0,864.9 201.1,864.3 201.0,864.1 200.0,862.8 199.0,861.5 198.1,860.3 198.0,859.8 197.0,855.8 196.1,852.3 196.0,852.1 195.0,850.1 194.0,848.1 193.1,846.3 193.0,846.2 192.0,844.9 191.0,843.5 190.1,842.4 190.0,842.5 189.0,843.8 188.0,845.2 187.1,846.3 187.0,846.7 186.0,849.3 185.0,852.0 184.1,854.3 184.0,854.5 183.0,855.8 182.0,857.1 181.1,858.3 181.0,858.6 180.0,860.9 179.0,863.2 178.1,865.3 178.0,865.3 177.0,865.7 176.0,866.0 175.1,866.3 175.0,866.4 174.0,867.0 173.0,867.7 172.1,868.3 172.0,869.2 171.0,868.7 170.0,868.2 169.1,871.4 169.0,871.7 168.0,875.2 167.0,883.2 166.1,890.4 166.0,891.2 165.0,889.7 164.0,888.2 163.1,882.3 163.0,881.7 162.0,875.2 161.0,868.7 160.1,862.8 160.0,862.3 159.0,858.3 158.0,854.3 157.1,850.6 157.0,850.3 156.0,848.6 155.0,847.0 154.1,845.4 154.0,845.3 153.0,846.3 152.1,847.2 152.0,847.3 151.1,848.2 151.0,848.3 150.0,854.3 149.1,859.8 149.0,860.3 148.1,865.8 148.0,866.2 147.0,869.2 146.1,872.0 146.0,872.2 145.1,875.0 145.0,875.2 144.0,878.7 143.1,881.9 143.0,882.2 142.1,888.3 142.0,888.1 141.1,885.6 141.0,885.4 140.0,882.8 139.1,880.3 139.0,880.1 138.1,877.6 138.0,877.4 137.0,874.8 136.1,872.3 136.0,872.5 135.1,875.0 135.0,875.1 134.0,877.8 133.1,880.3 133.0,880.9 132.1,891.3 132.0,891.9 131.1,902.2 131.0,902.5 130.0,907.2 129.1,911.5 129.0,911.8 128.1,916.2 128.0,916.1 127.0,914.8 126.1,913.5 126.0,913.5 125.1,912.2 125.0,912.1 124.0,910.1 123.0,908.1 122.1,906.2 122.0,906.1 121.0,904.2 121.0,904.1 120.0,901.1 119.0,898.1 118.0,895.2 118.0,895.2 117.0,894.9 116.0,894.6 115.0,894.2 115.0,894.2 114.0,893.9 114.0,893.9 113.0,893.6 112.0,893.2 112.0,893.3 111.0,893.6 110.0,893.9 109.0,894.2 109.0,894.3 108.0,895.6 107.0,897.0 106.0,898.2 106.0,898.0 105.0,890.7 104.0,883.4 103.0,876.3 103.0,876.4 102.0,879.0 101.0,881.7 100.0,884.3 100.0,884.4 99.0,888.7 98.0,893.0 97.0,897.2 97.0,897.2 96.0,896.9 95.0,896.6 94.0,896.2 94.0,896.2 93.0,896.2 93.0,896.2 92.0,896.2 91.0,896.2 91.0,896.3 90.0,898.2 90.0,898.3 89.0,900.3 88.0,902.2 88.0,902.3 87.0,908.2 87.0,908.3 86.0,914.3 85.0,920.2 85.0,920.2 84.0,924.2 84.0,924.2 83.0,928.2 83.0,928.2 82.0,929.2 81.0,930.2 80.0,931.2 80.0,931.2 79.0,931.4 78.0,931.7 77.0,931.9 76.0,932.2 76.0,932.2 75.0,932.7 75.0,932.7 74.0,933.2 73.0,933.7 72.7,933.8" fill="#000" fill-opacity="0.15"/>
<polyline points="72.7,896.1 73.0,897.7 74.0,903.0 75.0,908.3 75.0,908.3 76.0,906.1 77.0,903.9 78.0,901.7 79.0,899.5 80.0,897.4 80.0,897.3 81.0,897.6 82.0,897.8 83.0,898.1 84.0,898.3 84.0,898.3 85.0,893.1 86.0,887.8 87.0,882.5 87.0,882.4 88.0,878.1 89.0,873.8 90.0,869.5 90.0,869.4 91.0,868.4 92.0,867.4 93.0,866.4 93.0,866.4 94.0,865.2 95.0,863.9 96.0,862.7 97.0,861.4 97.0,861.4 98.0,857.2 99.0,852.9 100.0,848.6 100.0,848.4 101.0,846.8 102.0,845.2 103.0,843.5 103.0,843.5 104.0,849.6 105.0,855.9 106.0,862.2 106.0,862.4 107.0,862.7 108.0,863.1 109.0,863.4 109.0,863.4 110.0,863.2 111.0,863.0 112.0,862.8 113.0,862.6 114.0,862.4 114.0,862.4 115.0,863.4 116.0,864.4 117.0,865.4 118.0,866.4 118.0,866.4 119.0,870.7 120.0,875.2 121.0,879.7 122.0,884.1 122.1,884.4 123.0,885.6 124.0,886.8 125.0,888.0 126.0,889.3 126.1,889.4 127.0,889.0 128.0,888.7 129.0,888.4 129.1,888.4 130.0,879.6 131.0,870.3 132.0,861.0 132.1,860.4 133.0,852.3 134.0,843.7 135.0,835.0 135.1,834.5 136.0,836.3 137.0,838.3 138.0,840.3 138.1,840.5 139.0,846.0 140.0,852.0 141.0,858.0 141.1,858.4 142.0,859.4 143.0,860.3 143.1,860.4 144.0,853.6 145.0,846.3 146.0,839.0 146.1,838.5 147.0,834.2 148.0,829.5 149.0,824.9 149.1,824.5 150.0,822.3 151.0,820.0 152.0,817.7 152.1,817.5 153.0,818.0 154.0,818.5 154.1,818.5 155.0,820.3 156.0,822.3 157.0,824.3 157.1,824.5 158.0,827.5 159.0,830.9 160.0,834.2 160.1,834.5 161.0,836.3 162.0,838.3 163.0,840.3 163.1,840.5 164.0,845.3 165.0,850.6 166.0,855.9 166.1,856.4 167.0,851.6 168.0,846.3 169.0,841.0 169.1,840.5 170.0,834.5 171.0,827.8 172.0,821.2 172.1,820.5 173.0,822.0 174.0,823.7 175.0,825.3 175.1,825.5 176.0,823.7 177.0,821.7 178.0,819.7 178.1,819.5 179.0,819.2 180.0,818.9 181.0,818.5 181.1,818.5 182.0,815.5 183.0,812.2 184.0,808.9 184.1,808.5 185.0,806.2 186.0,803.5 187.0,800.9 187.1,800.5 188.0,800.3 189.0,799.9 190.0,799.6 190.1,799.6 191.0,801.6 192.0,803.9 193.0,806.3 193.1,806.5 194.0,808.6 195.0,810.9 196.0,813.2 196.1,813.5 197.0,814.0 198.0,814.5 198.1,814.5 199.0,818.3 200.0,822.6 201.0,826.9 201.1,827.5 202.0,825.2 203.0,822.5 204.0,819.9 204.1,819.5 205.0,821.5 206.0,823.7 207.0,825.9 208.0,828.2 208.1,828.5 209.0,829.3 210.0,830.3 211.0,831.3 211.1,831.5 212.0,830.6 213.0,829.6 214.0,828.6 214.1,828.5 215.0,825.4 216.0,821.7 217.0,818.0 217.1,817.5 218.0,818.9 219.0,820.6 220.0,822.3 220.1,822.5 221.0,826.3 222.0,830.8 223.0,835.3 224.0,839.8 224.2,840.5 225.0,845.0 226.0,850.3 227.0,855.6 227.2,856.4 228.0,858.5 229.0,861.0 229.2,861.4 230.0,861.1 231.0,860.8 232.0,860.5 232.2,860.4 233.0,857.1 234.0,853.1 235.0,849.1 235.2,848.4 236.0,846.8 237.0,844.8 238.0,842.8 238.2,842.5 239.0,838.0 240.0,832.7 241.0,827.4 241.2,826.5 242.0,828.1 243.0,830.1 244.0,832.1 244.2,832.5 245.0,828.1 246.0,822.8 247.0,817.4 247.2,816.5 248.0,815.1 249.0,813.3 250.0,811.6 251.0,809.8 251.2,809.5 252.0,807.6 253.0,805.3 254.0,803.0 254.2,802.5 255.0,806.9 256.0,812.2 257.0,817.5 257.2,818.5 258.0,813.6 259.0,807.7 260.0,801.7 260.2,800.5 261.0,798.4 262.0,795.7 263.0,793.1 263.2,792.6 264.0,793.6 265.0,795.0 266.0,796.3 266.2,796.6 267.0,800.4 268.0,805.1 269.0,809.8 270.0,814.6 270.2,815.5 271.0,813.9 272.0,811.9 273.0,809.9 273.2,809.5 274.0,808.5 275.0,807.1 276.0,805.8 276.2,805.5 277.0,804.7 278.0,803.7 279.0,802.8 279.2,802.5 280.0,800.7 281.0,798.4 282.0,796.0 282.2,795.6 283.0,792.7 284.0,789.0 285.0,785.4 285.2,784.6 286.0,787.7 287.0,791.7 288.0,795.7 288.0,800.4 288.2,801.8 289.0,808.0 290.0,816.0 290.1,816.4 291.0,820.2 291.2,821.1 292.0,824.2 293.0,828.2 293.1,828.4 294.0,832.2 294.2,833.0 295.0,836.2 296.0,840.1 296.1,840.4 297.0,844.6 297.2,845.6 298.0,849.1 298.1,849.3 299.0,850.0 300.0,850.6 301.0,851.3 301.1,851.3 301.2,852.1 302.0,855.4 303.0,859.7 304.0,864.0 304.1,864.3 304.2,863.5 305.0,860.0 306.0,855.3 307.0,850.7 307.1,850.3 307.2,849.4 308.0,845.4 309.0,840.1 310.0,834.7 310.1,834.4 310.2,833.5 311.0,829.4 312.0,824.1 313.0,818.8 313.1,818.4 314.0,814.1 315.0,809.4 316.0,804.8 316.1,804.4 317.0,797.4 318.0,796.1 319.0,794.8 319.1,794.7 320.0,794.4 321.0,794.2 322.0,793.9 323.0,793.7 323.1,793.7 324.0,793.1 325.0,792.4 326.0,791.7 326.1,791.7 327.0,792.0 328.0,792.3 329.0,792.6 329.1,792.7 330.0,789.0 331.0,785.0 332.0,781.1 332.1,780.7 333.0,777.1 334.0,773.1 335.0,769.1 335.1,768.7 336.0,767.2 337.0,765.6 338.0,763.9 338.1,763.7 339.0,764.6 340.0,765.6 341.0,766.6 341.1,766.7 342.0,770.9 343.0,775.6 344.0,780.2 344.1,780.7 345.0,786.6 346.0,793.3 346.1,800.4 347.0,811.1 347.1,812.4 348.0,823.1 348.1,824.4 349.0,821.4 350.0,818.1 351.0,814.8 351.1,814.4 352.0,815.0 353.0,815.7 354.0,816.3 354.1,816.4 355.0,819.4 356.0,822.7 357.0,826.0 357.1,826.4 358.0,822.3 359.0,817.6 360.0,813.0 360.1,812.4 361.0,810.1 362.0,807.4 363.0,804.8 363.1,804.4 364.0,803.3 365.0,801.9 366.0,800.6 366.1,800.4 367.0,801.8 368.0,800.8 369.0,799.8 370.0,798.8 370.1,798.7 371.0,796.9 372.0,794.9 373.0,792.9 373.1,792.7 374.0,790.9 375.0,788.9 376.0,786.9 376.1,786.7 377.0,788.4 378.0,790.4 379.0,792.4 379.1,792.7 380.0,794.6 381.0,794.4 382.0,794.2 383.0,794.1 383.0,794.1 383.1,794.0 384.0,793.4 385.0,792.7 386.0,792.1 386.0,792.1 386.1,792.1 387.0,792.4 388.0,792.7 389.0,793.1 389.0,793.1 389.1,792.5 390.0,789.4 391.0,785.6 391.0,785.6 392.0,782.6 392.2,782.2 393.0,779.6 393.0,779.6 394.0,778.6 395.0,777.6 395.0,777.6 395.2,777.8 396.0,778.8 397.0,780.0 397.5,780.6 398.0,780.6 398.2,780.6 399.0,780.6 400.0,780.6 400.0,780.6 401.0,779.3 401.2,779.1 401.5,778.6 402.0,774.1 403.0,764.8 403.0,764.6 404.0,758.3 404.2,757.2 405.0,751.8 405.0,751.7 406.0,747.3 407.0,742.8 407.0,742.7 407.2,742.3 408.0,739.8 409.0,736.8 409.0,736.7 410.0,731.8 410.2,731.0 411.0,726.9 411.0,726.7 412.0,725.5 413.0,724.4 413.2,724.1 413.5,723.7 414.0,725.6 415.0,729.6 415.0,729.7 416.0,735.5 416.2,736.5 417.0,741.5 417.0,741.7 418.0,748.9 419.0,756.4 419.0,756.6 419.2,757.3 420.0,761.4 421.0,766.4 421.0,766.6 422.0,770.0 422.2,770.6 423.0,773.5 423.0,773.6 424.0,775.9 425.0,778.3 425.2,778.7 425.5,779.6 426.0,780.1 427.0,781.3 428.0,782.5 428.0,782.6 428.2,782.7 429.0,783.2 430.0,783.9 431.0,784.5 431.1,784.6 431.2,784.6 432.0,785.0 433.0,785.4 433.6,785.6 434.0,786.5 434.2,786.9 435.0,788.5 436.0,790.5 436.1,790.6 437.0,787.3 437.2,786.6 438.0,783.8 438.1,783.6 439.0,782.6 440.0,781.6 440.1,781.6 440.2,781.7 441.0,782.1 442.0,782.6 442.1,782.6 443.0,785.4 443.2,786.0 444.0,788.4 444.1,788.6 445.0,791.1 445.6,792.6 446.0,791.3 446.2,790.6 447.0,788.3 447.6,786.6 448.0,785.3 449.0,782.3 449.2,781.7 449.6,780.6 450.0,779.9 451.0,778.5 451.6,777.6 451.8,778.3 452.0,778.9 453.0,781.9 453.6,783.6 454.0,786.1 454.2,787.4 455.0,792.1 455.1,792.6 456.0,797.5 456.2,798.6 456.6,800.5 457.0,802.6 457.2,803.7 457.6,805.4 458.0,811.1 458.2,812.4 459.0,811.9 460.0,811.2 460.2,811.1 461.0,810.6 461.2,810.4 462.0,808.9 463.0,806.9 463.1,805.4 463.2,804.9 464.0,801.8 464.2,800.9 465.0,797.9 465.1,797.6 466.0,791.6 466.2,790.2 467.0,785.1 467.1,784.6 468.0,781.4 469.0,777.9 469.1,777.6 470.0,774.4 470.2,773.6 471.0,770.9 471.1,770.6 472.0,769.1 473.0,767.4 473.0,767.4 473.2,767.1 474.0,765.8 474.1,765.6 475.0,764.7 476.0,763.7 476.0,763.7 476.1,763.6 476.2,764.1 477.0,766.8 478.0,770.3 478.1,770.6 479.0,773.6 479.0,773.6 479.6,775.6 480.0,775.3 480.0,775.3 481.0,774.7 481.0,774.7 481.1,774.6 482.0,774.2 483.0,773.7 483.1,773.6 484.0,775.4 484.0,775.4 484.6,776.6 485.0,777.7 486.0,780.3 486.1,780.6 487.0,784.2 487.0,784.2 488.0,788.1 488.1,788.6 489.0,792.1 490.0,796.1 490.0,796.2 490.1,796.6 491.0,800.7 491.6,803.5 492.0,811.0 493.0,818.3 493.0,818.5 494.0,827.8 495.0,837.2 495.0,837.5 496.0,836.8 497.0,836.2 498.0,835.5 498.0,835.5 499.0,830.0 500.0,824.3 501.0,818.7 501.0,818.5 502.0,814.0 503.0,809.4 504.0,804.7 504.0,804.5 505.0,803.6 506.0,802.6 507.0,801.6 507.0,801.5 508.0,805.1 509.0,808.7 510.0,812.4 510.0,812.5 511.0,816.4 512.0,820.3 513.0,824.3 513.0,824.5 514.0,827.1 515.0,829.9 516.0,832.6 517.0,835.3 517.0,835.5 518.0,832.0 519.0,828.3 520.0,824.7 520.1,824.5 521.0,822.9 522.0,821.3 523.0,819.6 523.1,819.5 524.0,824.5 525.0,829.9 526.0,835.2 526.1,835.5 527.0,835.2 528.0,834.8 529.0,834.5 529.1,834.5 530.0,830.1 531.0,825.4 532.0,820.8 532.1,820.5 533.0,811.2 534.0,801.2 534.1,800.5 535.0,789.4 536.0,777.4 536.1,776.6 537.0,780.3 538.0,784.3 538.1,784.6 539.0,790.8 540.0,797.4 541.0,804.1 541.1,804.5 542.0,808.2 543.0,812.2 544.0,816.2 544.1,816.5 545.0,823.0 546.0,830.0 546.1,830.5 547.0,841.5 548.0,853.5 548.1,854.4 549.0,860.6 550.0,867.2 551.0,873.8 551.1,874.4 552.0,878.1 553.0,882.0 554.0,886.0 554.1,886.4 555.0,886.7 556.0,887.0 557.0,887.3 557.1,887.4 558.0,884.0 559.0,880.4 560.0,876.7 560.1,876.4 561.0,878.2 562.0,880.2 562.1,880.4 563.0,883.1 564.0,886.1 564.1,886.4 565.0,889.7 566.0,893.3 567.0,897.0 567.1,897.3 568.0,890.4 569.0,882.8 570.0,875.2 570.1,874.4 571.0,873.8 572.0,873.1 573.0,872.5 573.1,872.4 574.0,871.8 575.0,871.1 576.0,870.5 576.1,870.4 577.0,869.7 578.0,869.0 579.0,868.2 580.0,867.5 580.1,867.4 581.0,867.1 582.0,866.8 583.0,866.4 583.1,866.4 584.0,868.8 585.0,871.4 586.0,874.1 586.1,874.4 587.0,877.9 588.0,881.9 589.0,885.9 589.1,886.4 590.0,889.9 591.0,893.9 592.0,897.8 592.1,898.3 593.0,896.6 594.0,894.6 595.0,892.6 595.1,892.3 596.0,890.0 597.0,887.4 598.0,884.7 598.1,884.4 599.0,884.7 600.0,885.0 601.0,885.3 601.1,885.4 602.0,884.5 603.0,883.5 604.0,882.5 604.1,882.4 605.0,881.8 606.0,881.1 607.0,880.5 607.1,880.4 608.0,880.9 609.0,881.6 610.0,882.3 610.1,882.4 611.0,883.8 612.0,885.5 613.0,887.1 613.1,887.4 614.0,890.5 615.0,894.1 616.0,897.8 616.1,898.3 617.0,900.6 618.0,903.3 619.0,905.9 619.1,906.3 620.0,904.1 621.0,901.4 622.0,898.7 622.2,898.3 623.0,895.0 624.0,891.0 625.0,887.0 625.2,886.4 626.0,882.4 627.0,877.8 628.0,873.1 628.2,872.4 629.0,870.7 630.0,868.7 631.0,866.7 631.2,867.3 632.0,867.9 633.0,868.5 634.0,869.2 634.2,869.3 635.0,879.7 636.0,892.2 636.2,894.2 637.0,903.4 638.0,914.4 638.2,916.2 639.0,917.0 640.0,918.0 640.2,918.2 641.0,917.4 642.0,916.4 642.2,916.2 643.0,912.9 644.0,908.9 645.0,904.9 645.2,904.2 646.0,905.3 647.0,906.6 648.0,908.0 648.2,908.2 649.0,909.3 650.0,910.6 651.0,912.0 651.2,912.2 652.0,912.2 653.0,912.2 654.0,912.2 654.2,912.2 655.0,915.5 656.0,919.4 657.0,923.4 657.2,924.2 658.0,926.9 659.0,930.2 660.0,933.5 660.2,934.2 661.0,936.3 662.0,939.0 663.0,941.6 663.2,942.1 664.0,943.2 665.0,944.5 666.0,945.9 666.2,946.1 667.0,946.7 668.0,947.3 669.0,948.0 669.2,948.1 670.0,947.6 671.0,946.9 672.0,946.3 672.2,946.1 673.0,946.9 674.0,947.9 674.2,948.1 675.0,945.0 676.0,941.0 676.2,940.1 677.0,938.0 678.0,935.4 679.0,932.7 679.2,932.2 680.0,933.7 681.0,935.7 682.0,937.7 682.2,938.1 683.0,940.8 684.0,944.1 685.0,947.4 685.2,948.1 686.0,949.7 687.0,951.7 688.0,953.7 688.2,954.1 689.0,954.4 690.0,954.7 691.0,955.0 691.2,955.1 692.0,951.2 693.0,946.2 694.0,941.3 694.2,940.1 695.0,940.1 696.0,940.1 696.2,940.1 697.0,941.2 698.0,942.5 699.0,943.8 699.2,944.1 700.0,944.1 701.0,944.5 702.0,944.8 702.2,944.9 703.0,945.1 703.0,945.1 704.0,946.1 705.0,947.1 705.2,947.4 706.0,948.1 706.0,948.1 707.0,950.1 708.0,952.1 708.0,952.1 708.2,951.5 709.0,949.5 710.0,946.8 710.0,946.7 711.0,944.2 711.0,944.1 712.0,942.7 713.0,941.2 713.0,941.1 714.0,942.8 715.0,944.4 716.0,946.1 716.0,946.1 717.0,948.1 718.0,950.1 719.0,952.1 719.0,952.1 720.0,953.4 721.0,954.8 722.0,956.1 722.0,956.1 723.0,956.8 724.0,957.4 725.0,958.1 725.0,958.1 726.0,959.7 727.0,961.4 728.0,963.0 728.0,963.1 729.0,963.6 730.0,964.1 730.0,964.1 731.0,962.2 732.0,960.2 733.0,958.2 733.0,958.1 734.0,958.7 735.0,959.4 736.0,960.1 736.0,960.1 737.0,958.2 738.0,956.2 739.0,954.2 739.0,954.1 740.0,952.5 741.0,950.9 742.0,949.2 742.0,949.1 743.0,950.7 744.0,952.4 745.0,954.0 745.0,954.1 746.0,955.4 747.0,956.7 748.0,958.0 748.0,958.1 749.0,955.6 750.0,952.9 751.0,950.3 751.1,950.1 752.0,949.2 753.0,948.2 753.1,948.1 754.0,948.8 755.0,949.4 756.0,950.1 756.1,950.1 757.0,948.2 758.0,946.2 759.0,944.3 759.1,944.1 760.0,942.7 761.0,941.2 761.1,941.1 762.0,943.3 763.0,945.7 764.0,948.0 764.1,948.1 765.0,950.0 766.0,952.0 767.0,954.0 767.1,954.1 768.0,955.4 769.0,956.7 770.0,958.0 770.1,958.1 771.0,958.4 772.0,958.7 773.0,959.1 773.1,959.1 774.0,958.8 775.0,958.5 776.0,958.1 776.1,958.1 777.0,961.8 778.0,965.8 779.0,969.8 779.1,970.1 780.0,971.9 781.0,973.9 782.0,975.9 782.1,976.1 783.0,976.1 784.0,976.1 785.0,976.1 785.1,976.1 786.0,974.2 787.0,972.2 788.0,970.3 788.1,970.1 789.0,965.2 790.0,959.9 791.0,954.6 791.1,954.1 792.0,952.6 793.0,950.9 794.0,949.3 794.1,949.1 795.0,950.0 796.0,951.0 797.0,952.0 797.1,952.1 798.0,955.1 799.0,958.4 800.0,961.8 800.1,962.1 801.0,962.7 802.0,963.4 803.0,964.0 803.1,964.1 804.0,965.0 805.0,966.0 806.0,967.0 806.1,967.1 807.0,966.2 808.0,965.2 809.0,964.2 809.1,964.1 810.0,963.5 811.0,962.8 812.0,962.2 812.1,962.1 813.0,963.9 814.0,965.9 815.0,967.9 815.1,968.1 816.0,969.0 817.0,970.0 817.1,970.1 818.0,967.4 819.0,964.4 819.1,964.1 820.0,963.8 821.0,963.5 822.0,963.1 822.1,963.1 823.0,962.8 824.0,962.5 825.0,962.1 825.1,962.1 826.0,963.0 827.0,964.0 828.0,965.0 828.1,965.1 829.0,965.4 830.0,965.7 831.0,966.0 831.1,966.1 832.0,967.0 833.0,968.0 834.0,968.9 834.1,969.1 835.0,969.7 836.0,970.3 837.0,971.0 837.1,971.1 838.0,970.8 839.0,970.5 840.0,970.1 840.1,970.1 841.0,970.1 842.0,970.1 843.0,970.1 843.1,970.1 844.0,968.4 845.0,966.4 846.0,964.4 846.1,964.1 847.0,961.5 848.0,958.5 848.1,958.1 849.0,962.4 850.0,967.3 850.2,968.1 851.0,970.2 851.8,972.1 852.0,970.4 853.0,963.8 854.0,957.1 854.2,956.1 855.0,952.2 856.0,947.5 857.0,942.9 857.2,942.1 858.0,944.9 859.0,948.3 860.0,951.6 860.2,952.1 861.0,955.2 862.0,958.8 863.0,962.5 863.2,963.1 864.0,963.7 865.0,964.3 866.0,965.0 866.2,965.1 867.0,964.9 868.0,964.6 869.0,964.4 870.0,964.1 870.2,964.1 871.0,963.5 872.0,962.9 873.0,962.2 873.2,962.1 874.0,961.0 875.0,959.7 876.0,958.3 876.2,958.1 877.0,955.4 878.0,952.0 879.0,948.7 879.2,948.1 880.0,946.5 881.0,944.5 882.0,942.5 882.2,942.1 883.0,944.3 884.0,947.0 885.0,949.6 885.2,950.1 886.0,953.6 887.0,958.0 888.0,962.3 888.2,963.1 889.0,963.1 890.0,963.1 891.0,963.1 891.2,963.1 892.0,962.0 893.0,960.7 894.0,959.4 894.2,959.1 895.0,960.2 896.0,961.5 897.0,962.8 897.2,963.1 898.0,961.9 899.0,960.4 899.2,960.1 900.0,958.0 901.0,951.4 901.5,948.1 902.0,947.5 902.2,947.2 903.0,946.3 904.0,945.1 904.0,945.1 905.0,945.1 905.2,945.1 906.0,945.1 907.0,945.1 907.0,945.1 908.0,946.4 908.2,946.7 909.0,947.7 910.0,949.0 910.0,949.1 911.0,948.6 911.2,948.5 912.0,948.1 912.0,948.1 913.0,945.1 914.0,942.1 914.0,942.1 914.2,941.6 915.0,939.6 916.0,937.1 916.0,937.1 917.0,934.6 917.2,934.1 918.0,932.1 918.0,932.1 919.0,930.1 920.0,928.1 920.2,927.7 920.5,927.1 921.0,926.9 922.0,926.5 923.0,926.1 923.0,926.1 923.2,926.3 924.0,926.8 925.0,927.6 925.0,927.6 926.0,930.5 926.2,931.2 926.5,932.1 927.0,934.0 928.0,938.0 928.0,938.1 929.0,939.0 929.2,939.3 930.0,940.0 930.0,940.1 931.0,939.1 932.0,938.1 932.0,938.1 932.2,937.7 933.0,936.2 933.0,936.1 934.0,934.2 934.5,933.1 935.0,933.1 935.2,933.1 936.0,933.1 936.0,933.1 937.0,933.1 937.0,933.1 938.0,935.0 938.0,935.0 938.2,935.5 939.0,937.0 939.0,937.1 940.0,939.2 940.0,939.3 941.0,941.5 941.0,941.5 941.0,941.6 942.0,941.6 943.0,941.6 943.0,941.6 944.0,940.9 944.0,940.8 945.0,940.1 945.0,940.1 946.0,939.6 947.0,939.1 947.0,939.1 947.0,939.1 948.0,939.6 949.0,940.1 949.0,940.1 950.0,942.4 950.0,942.5 951.0,944.9 951.1,945.1 952.0,944.1 953.0,943.1 953.0,943.1 953.1,943.1 954.0,939.9 954.6,938.1 955.0,935.7 956.0,930.4 956.0,930.3 956.1,930.1 957.0,925.1 957.6,922.1 958.0,919.2 959.0,912.5 959.0,912.3 959.1,912.1 960.0,907.1 960.6,904.2 961.0,905.6 961.0,905.7 962.0,908.9 962.1,909.1 963.0,911.9 964.0,914.9 964.0,915.0 964.1,915.1 965.0,916.1 966.0,917.1 966.1,917.1 967.0,917.4 967.0,917.4 968.0,917.8 969.0,918.1 969.1,918.1 970.0,919.5 970.0,919.6 971.0,921.0 971.1,921.1 972.0,924.8 972.6,927.1 973.0,928.5 973.0,928.7 974.0,931.8 974.1,932.1 975.0,932.6 976.0,933.1 976.0,933.1 976.1,933.1 977.0,930.6 977.6,929.1 978.0,926.9 979.0,921.5 979.0,921.3 979.1,921.1 980.0,916.8 980.6,914.1 981.0,912.9 982.0,909.9 982.1,909.7 982.6,908.1 983.0,909.3 984.0,911.9 984.1,912.1 985.0,915.2 985.1,915.4 985.6,917.1 986.0,916.0 987.0,913.4 987.1,913.1 988.0,910.1 988.1,909.9 988.6,908.1 989.0,909.2 990.0,911.9 990.1,912.1 991.0,914.9 991.1,915.0 992.0,917.8 992.1,918.1 993.0,921.7 994.0,925.7 994.1,926.0 994.1,926.1 995.0,929.3 996.0,932.8 996.1,933.1 997.0,935.8 997.1,936.0 998.0,938.8 998.1,939.1 999.0,940.9 1000.0,942.9 1000.1,943.0 1000.1,943.1 1001.0,943.5 1002.0,944.0 1002.1,944.1 1003.0,943.4 1003.1,943.3 1004.0,942.6 1004.6,942.1 1005.0,941.4 1006.0,939.8 1006.1,939.7 1007.0,938.3 1007.1,938.1 1008.0,937.5 1009.0,936.8 1009.1,936.8 1010.0,936.2 1010.1,936.1 1011.0,936.8 1012.0,937.6 1012.1,937.7 1012.6,938.1 1013.0,938.3 1014.0,939.0 1014.1,939.1 1015.0,936.4 1015.1,936.2 1016.0,933.4 1016.1,933.1 1017.0,930.0 1018.0,926.5 1018.1,926.2 1018.1,926.1 1019.0,924.3 1020.0,922.2 1020.0,922.1 1021.0,922.4 1021.1,922.2 1022.0,921.9 1023.0,921.6 1024.0,921.3 1024.1,921.2 1025.0,921.8 1026.0,922.5 1027.0,923.2 1027.1,923.2 1028.0,925.3 1029.0,927.7 1030.0,930.0 1030.1,930.2 1031.0,932.9 1032.0,935.9 1033.0,938.9 1033.1,939.2 1034.0,938.3 1035.0,937.3 1036.0,936.3 1036.1,936.2 1037.0,933.2 1038.0,929.9 1039.0,926.6 1039.1,926.2 1040.0,923.9 1041.0,921.2 1042.0,918.5 1042.1,918.2 1043.0,915.9 1044.0,913.2 1045.0,910.6 1045.1,910.3 1046.0,911.4 1047.0,912.8 1048.0,914.1 1048.1,914.3 1049.0,916.6 1050.0,919.3 1051.0,921.9 1051.1,922.2 1052.0,919.9 1053.0,917.2 1054.0,914.6 1054.1,914.3 1055.0,910.8 1056.0,906.8 1057.0,902.8 1057.1,902.3 1058.0,896.5 1059.0,889.8 1060.0,883.2 1060.1,882.3 1061.0,881.5 1062.0,880.5 1062.1,880.3 1063.0,886.4 1064.0,893.4 1064.1,894.3 1065.0,897.7 1066.0,901.7 1067.0,905.7 1067.1,906.3 1068.0,909.7 1069.0,913.7 1070.0,917.7 1070.1,918.2 1071.0,920.5 1072.0,923.2 1073.0,925.8 1073.1,926.2 1074.0,923.4 1075.0,920.1 1076.0,916.7 1076.1,916.2 1077.0,912.8 1078.0,908.9 1079.0,904.9 1079.1,904.3 1080.0,901.2 1081.0,897.5 1082.0,893.9 1082.2,893.3 1083.0,894.7 1084.0,896.4 1085.0,898.0 1085.2,898.3 1086.0,902.2 1087.0,906.9 1088.0,911.5 1088.2,912.3 1089.0,913.1 1090.0,914.1 1091.0,915.1 1091.2,915.2 1092.0,915.5 1093.0,915.9 1094.0,916.2 1094.2,916.2 1095.0,913.5 1096.0,910.1 1097.0,906.8 1097.2,906.3 1098.0,903.2 1099.0,899.6 1100.0,895.9 1100.2,895.3 1101.0,895.0 1102.0,894.7 1103.0,894.4 1103.2,894.3 1104.0,894.8 1105.0,895.5 1106.0,896.2 1106.2,896.3 1107.0,896.6 1108.0,896.9 1109.0,897.2 1109.2,897.3 1110.0,896.5 1111.0,895.5 1111.2,895.3 1112.0,898.3 1113.0,901.9 1114.0,905.6 1114.2,906.3 1115.0,905.7 1116.0,905.1 1117.0,904.4 1117.2,904.3 1118.0,903.7 1119.0,903.1 1120.0,902.4 1120.2,902.3 1121.0,901.7 1122.0,901.1 1123.0,900.4 1123.2,900.3 1124.0,900.0 1125.0,899.7 1126.0,899.3 1126.2,899.3 1127.0,899.0 1128.0,898.7 1129.0,898.4 1129.2,898.3 1130.0,898.8 1131.0,899.5 1132.0,900.1 1132.2,900.3 1133.0,904.3 1134.0,909.2 1134.2,910.3 1135.0,914.6 1136.0,920.1 1136.2,921.2 1137.0,916.1 1138.0,909.6 1138.2,908.3 1139.0,904.6 1140.0,899.9 1141.0,895.3 1141.2,894.3 1142.0,892.2 1143.0,889.5 1144.0,886.9 1144.2,886.3 1145.0,886.8 1146.0,887.5 1147.0,888.2 1147.2,888.3 1148.0,890.4 1149.0,893.0 1150.0,895.7 1150.2,896.3 1151.0,895.3 1152.0,893.9 1153.0,892.6 1153.2,892.3 1154.0,891.3 1155.0,889.9 1156.0,888.6 1156.2,888.3 1157.0,889.9 1158.0,891.8 1159.0,893.8 1159.2,894.3 1160.0,895.3 1161.0,896.6 1162.0,898.0 1162.2,898.3 1163.0,897.8 1164.0,897.1 1164.2,896.3 1165.0,895.2 1165.2,894.9 1166.0,893.9 1167.0,892.5 1167.2,892.3 1168.0,893.4 1168.2,893.7 1169.0,894.7 1170.0,896.0 1170.0,896.1 1170.2,896.3 1171.0,898.1 1172.0,900.5 1173.0,902.8 1173.2,903.3 1174.0,901.3 1175.0,898.8 1175.2,898.3 1176.0,891.9 1177.0,883.9 1177.2,882.3 1178.0,878.3 1179.0,873.3 1179.2,872.3 1180.0,870.7 1181.0,868.7 1182.0,866.7 1182.2,866.3 1183.0,866.6 1184.0,866.9 1185.0,867.3 1185.2,867.3 1186.0,867.6 1187.0,867.9 1188.0,868.3 1188.2,868.3 1189.0,868.9 1190.0,869.5 1191.0,870.2 1191.2,870.3 1192.0,871.1 1193.0,872.1 1194.0,873.1 1195.0,874.1 1195.2,874.3 1196.0,873.3 1197.0,872.0 1198.0,870.6 1198.2,870.3 1199.0,867.7 1200.0,864.4 1201.0,861.1 1201.2,860.3 1202.0,857.8 1203.0,854.5 1204.0,851.1 1204.2,850.4 1205.0,851.9 1206.0,853.9 1206.2,854.4 1207.0,856.7 1208.0,859.7 1208.2,860.3 1209.0,867.2 1210.0,876.2 1210.2,878.3 1211.0,879.1 1211.1,879.2" fill="none" stroke="#000" stroke-width="3.1" stroke-linejoin="round"/>
<polygon points="72.7,825.9 73.0,824.1 74.0,818.1 75.0,812.1 75.0,812.1 76.0,806.1 76.0,806.1 77.0,810.8 78.0,815.4 78.0,815.4 79.0,820.1 79.0,820.1 80.0,826.7 81.0,833.4 81.0,833.5 82.0,840.1 82.0,840.1 83.0,844.8 84.0,849.4 84.0,849.5 85.0,854.1 85.0,854.2 86.0,850.9 87.0,847.5 87.0,847.5 88.0,844.2 88.0,844.1 89.0,837.6 90.0,830.9 90.0,830.8 91.0,824.3 91.0,824.1 92.0,815.0 93.0,805.6 93.0,805.4 94.0,796.3 94.0,796.1 95.0,790.2 96.0,784.2 96.0,784.1 97.0,778.2 97.0,778.1 98.0,780.0 99.0,782.0 99.0,782.1 100.0,784.0 100.0,784.1 101.0,790.6 102.0,797.2 102.0,797.4 103.0,803.9 103.0,804.1 104.0,805.7 105.0,807.4 105.0,807.4 106.0,809.1 106.0,809.1 107.0,811.4 107.0,811.4 108.0,813.7 109.0,816.0 109.0,816.1 110.0,818.7 110.0,818.8 111.0,821.4 112.0,824.0 112.0,824.1 113.0,820.9 113.0,820.8 114.0,817.6 115.0,814.3 115.0,814.1 116.0,809.3 116.0,809.1 117.0,804.3 118.0,799.3 119.0,794.3 119.0,794.1 120.0,796.6 121.0,799.3 122.0,802.0 122.1,802.1 123.0,803.4 124.0,804.7 125.0,806.0 125.1,806.1 126.0,802.3 127.0,798.3 128.0,794.3 128.1,794.1 129.0,791.3 130.0,788.3 131.0,785.3 131.1,785.1 132.0,782.3 132.1,782.1 133.0,780.7 134.0,779.2 135.0,777.7 135.1,777.6 136.0,776.2 136.1,776.1 137.0,779.8 138.0,783.8 138.1,784.1 139.0,787.8 139.1,788.1 140.0,791.2 141.0,794.5 141.1,794.8 142.0,797.9 142.1,798.1 143.0,798.7 144.0,799.4 144.1,799.4 145.0,800.1 145.1,800.1 146.0,793.9 147.0,787.3 147.1,786.8 148.0,780.6 148.1,780.1 149.0,775.2 150.0,769.8 150.1,769.4 151.0,764.5 151.1,764.1 152.0,766.5 152.1,766.7 153.0,769.2 154.0,771.9 154.1,772.1 155.0,773.9 156.0,775.9 157.0,777.9 157.1,778.1 158.0,768.9 159.0,758.9 160.0,748.9 160.1,748.0 161.0,739.5 162.0,730.2 163.0,720.9 163.1,720.0 164.0,724.3 165.0,728.9 166.0,733.6 166.1,734.0 167.0,739.5 168.0,745.5 169.0,751.5 169.1,752.1 170.0,750.2 171.0,748.2 172.0,746.2 172.1,746.0 173.0,741.8 174.0,737.2 175.0,732.5 175.1,732.0 176.0,726.7 177.0,720.7 178.0,714.7 178.1,714.0 179.0,720.0 180.0,726.6 181.0,733.3 181.1,734.0 182.0,735.2 183.0,736.6 183.1,736.7 184.0,737.9 184.1,738.0 185.0,741.0 185.1,741.4 186.0,744.3 187.0,747.7 187.1,748.0 188.0,751.6 188.1,752.1 189.0,755.6 190.0,759.6 190.1,760.1 191.0,764.2 191.1,764.7 192.0,768.8 193.0,773.5 193.1,774.1 194.0,774.7 194.1,774.7 195.0,775.3 196.0,776.0 196.1,776.1 197.0,774.9 197.1,774.7 198.0,773.6 199.0,772.2 199.1,772.1 200.0,773.8 200.1,774.1 201.0,775.8 202.0,777.8 202.1,778.1 203.0,781.0 203.1,781.4 204.0,784.3 205.0,787.6 205.1,788.1 206.0,785.8 206.1,785.4 207.0,783.1 208.0,780.4 208.1,780.1 209.0,774.3 209.1,773.4 210.0,767.7 211.0,761.0 211.1,760.1 212.0,757.8 212.1,757.4 213.0,755.1 214.0,752.4 214.1,752.1 215.0,751.2 216.0,750.2 216.1,750.1 217.0,749.2 217.1,749.0 218.0,750.5 219.0,752.1 219.1,752.4 220.0,753.8 220.1,754.1 221.0,758.0 222.0,762.7 222.2,763.4 223.0,767.4 223.2,768.1 224.0,772.0 225.0,776.7 225.2,777.4 226.0,781.4 226.2,782.1 227.0,786.6 228.0,791.9 228.2,792.8 229.0,797.3 229.2,798.1 230.0,799.8 231.0,801.8 231.2,802.1 232.0,803.8 232.2,804.1 233.0,803.0 234.0,801.7 234.2,801.4 235.0,800.3 235.2,800.1 236.0,795.6 237.0,790.3 237.2,789.4 238.0,785.0 238.2,784.1 239.0,776.9 240.0,758.1 240.2,758.5 241.0,760.1 241.2,760.5 242.0,762.1 243.0,764.1 243.0,764.2 243.2,764.5 244.0,766.1 244.0,766.2 244.2,766.5 245.0,768.1 246.0,770.1 246.0,770.2 246.2,770.0 247.0,769.2 247.2,769.0 248.0,768.2 248.0,768.2 249.0,767.2 249.2,767.0 250.0,766.2 250.0,766.2 250.2,765.5 251.0,762.2 251.0,762.2 252.0,758.2 252.2,757.5 253.0,754.2 253.2,753.5 254.0,750.2 254.0,750.1 255.0,742.3 255.2,740.8 256.0,734.3 256.2,732.8 257.0,726.3 257.0,726.1 258.0,724.8 258.2,724.6 259.0,723.5 259.2,723.2 260.0,722.1 260.0,722.1 261.0,713.6 261.2,712.0 262.0,705.0 262.0,704.8 262.2,703.3 263.0,696.3 263.0,696.1 264.0,698.7 264.0,698.8 264.2,699.2 265.0,701.4 266.0,704.0 266.0,704.1 267.0,709.9 267.0,710.1 267.2,711.1 268.0,715.9 269.0,721.9 269.0,722.1 270.0,716.3 270.0,716.1 270.2,715.1 271.0,710.3 272.0,704.3 272.0,704.1 273.0,697.6 273.0,697.4 273.2,696.3 274.0,691.0 275.0,684.3 275.6,680.1 276.0,681.6 276.0,681.7 276.2,682.4 277.0,685.8 278.0,689.9 278.0,690.1 279.0,695.2 279.0,695.4 279.2,696.3 280.0,700.5 281.0,705.9 281.0,706.1 282.0,711.8 282.0,712.1 282.2,713.1 283.0,717.8 284.0,723.8 284.0,724.1 285.0,726.0 285.0,726.1 285.2,726.5 286.0,728.0 287.0,730.0 287.0,730.1 288.0,725.0 288.0,724.8 288.2,723.9 289.0,719.7 290.0,714.4 290.1,714.1 291.0,702.7 291.1,702.1 291.2,700.1 292.0,690.7 292.1,690.1 293.0,686.9 294.0,683.6 294.1,683.4 294.2,682.8 295.0,680.3 295.1,680.1 296.0,680.7 297.0,681.4 297.1,681.4 297.2,681.5 298.0,682.0 298.1,682.1 299.0,684.0 300.0,686.0 300.1,686.1 300.2,686.4 301.0,688.0 301.1,688.1 302.0,689.3 303.0,690.7 303.1,690.7 304.0,692.0 304.1,692.1 304.2,692.0 305.0,691.5 306.0,690.8 306.1,690.7 307.0,690.1 307.1,690.1 307.2,690.0 308.0,689.8 309.0,689.4 309.1,689.4 310.0,689.1 310.1,689.1 310.2,689.5 311.0,691.2 312.0,693.6 312.0,693.7 312.1,693.8 313.0,695.9 313.1,696.1 314.0,691.8 314.1,691.4 315.0,687.1 316.0,682.4 316.1,682.1 317.0,682.7 317.1,682.7 318.0,683.4 319.0,684.0 319.1,684.1 320.0,684.7 320.1,684.7 321.0,685.4 322.0,686.0 322.1,686.1 323.0,686.4 323.1,686.4 324.0,686.7 325.0,687.0 325.1,687.1 326.0,686.8 326.1,686.7 327.0,686.4 328.0,686.1 328.1,686.1 329.0,683.3 329.1,683.1 330.0,680.3 331.0,677.3 332.0,674.3 332.1,674.1 333.0,671.3 334.0,668.3 335.0,665.3 335.1,665.1 336.0,670.2 337.0,675.8 338.0,681.5 338.1,682.1 339.0,689.3 340.0,697.3 341.0,705.3 341.1,706.1 342.0,703.7 343.0,701.0 344.0,698.4 344.1,698.1 345.0,694.5 346.0,690.5 347.0,686.5 347.1,686.1 348.0,683.7 349.0,681.0 350.0,678.4 350.1,678.1 351.0,681.6 352.0,685.6 353.0,689.6 353.1,690.1 354.0,687.7 355.0,685.0 356.0,682.4 356.1,682.1 357.0,680.9 358.0,679.6 359.0,678.2 359.1,678.1 360.0,676.9 361.0,675.6 362.0,674.2 362.1,674.1 363.0,675.2 364.0,676.6 365.0,677.9 365.1,678.1 366.0,678.1 367.0,678.1 368.0,678.1 368.1,678.1 369.0,675.7 370.0,673.1 371.0,670.4 371.1,670.1 372.0,665.4 373.0,660.1 374.0,654.8 374.1,654.0 375.0,649.0 376.0,643.2 376.1,642.4 376.5,640.0 377.0,642.2 378.0,646.8 379.0,651.4 379.1,652.0 380.0,654.9 381.0,658.2 382.0,661.6 382.1,662.1 383.0,660.6 384.0,659.0 385.0,657.3 385.1,657.0 386.0,657.6 387.0,658.3 388.0,659.0 388.1,659.0 389.0,659.6 390.0,660.3 391.0,661.0 391.2,661.1 392.0,658.5 393.0,655.5 394.0,652.5 394.2,652.0 395.0,651.5 396.0,650.8 397.0,650.1 397.2,650.0 398.0,650.6 399.0,651.3 400.0,651.9 400.2,652.0 401.0,652.6 402.0,653.3 403.0,653.9 403.2,654.0 404.0,655.7 405.0,657.7 406.0,659.7 406.2,660.1 407.0,657.8 408.0,655.2 409.0,652.5 409.2,652.0 410.0,651.2 411.0,650.2 411.2,650.0 412.0,649.2 412.2,649.0 413.0,653.2 413.2,654.0 414.0,658.2 415.0,663.2 415.2,664.1 416.0,667.9 416.2,668.7 417.0,672.6 418.0,677.2 418.2,678.1 419.0,677.5 419.2,677.4 420.0,676.9 421.0,676.2 421.2,676.1 422.0,675.5 422.2,675.4 423.0,674.9 424.0,674.2 424.2,674.1 425.0,673.5 425.2,673.4 426.0,672.9 427.0,672.2 427.2,672.1 428.0,671.5 429.0,670.9 429.2,670.7 430.0,670.2 430.2,670.1 431.0,668.4 432.0,666.4 432.2,666.1 433.0,664.4 433.2,664.1 434.0,663.0 435.0,661.6 435.2,661.4 436.0,660.3 436.2,660.1 437.0,657.0 438.0,653.1 438.2,652.4 438.8,650.0 439.0,650.5 440.0,653.0 441.0,655.5 441.2,656.0 442.0,659.8 443.0,664.4 444.0,669.1 444.2,670.1 445.0,672.2 446.0,674.8 447.0,677.5 447.2,678.1 448.0,679.1 449.0,680.5 450.0,681.8 450.2,682.1 451.0,681.0 452.0,679.7 453.0,678.4 453.2,678.1 454.0,674.9 455.0,670.9 455.2,670.1 456.0,666.9 456.2,666.1 457.0,667.1 458.0,668.4 458.2,668.7 459.0,669.8 459.2,670.1 460.0,671.1 461.0,672.4 461.2,672.7 462.0,673.8 462.2,674.1 463.0,673.0 464.0,671.7 464.2,671.4 465.0,670.4 465.2,670.1 466.0,669.0 467.0,667.7 467.2,667.4 468.0,666.4 468.2,666.1 469.0,667.1 470.0,674.1 470.2,674.1 471.0,674.1 471.2,674.1 472.0,674.1 473.0,674.1 473.0,674.1 473.2,673.8 474.0,672.7 474.2,672.4 475.0,671.4 476.0,670.1 476.0,670.1 476.2,669.9 477.0,669.4 477.2,669.2 478.0,668.7 479.0,668.1 479.0,668.1 480.0,669.0 480.0,669.1 481.0,670.0 482.0,671.0 482.0,671.1 483.0,670.4 484.0,669.7 485.0,669.1 485.0,669.1 486.0,668.7 487.0,668.4 488.0,668.1 488.0,668.1 489.0,663.5 489.0,663.4 490.0,658.8 491.0,654.1 491.0,654.0 492.0,648.8 492.0,648.7 493.0,643.4 493.6,640.0 494.0,637.3 494.0,637.1 495.0,630.1 495.4,627.0 495.6,628.3 496.0,630.8 497.0,637.3 497.4,640.0 498.0,646.5 498.0,646.8 499.0,657.7 499.0,658.0 500.0,666.8 500.0,667.1 501.0,675.8 501.0,676.1 502.0,684.8 502.0,685.1 503.0,693.8 503.0,694.1 504.0,695.6 504.0,695.6 505.0,697.1 505.6,698.1 506.0,696.0 507.0,690.1 507.0,689.9 508.0,684.3 508.0,684.1 509.0,682.5 510.0,680.8 510.0,680.7 511.0,679.1 511.0,679.1 512.0,678.1 513.0,677.1 513.0,677.1 514.0,676.1 514.0,676.1 515.0,677.3 516.0,678.7 516.4,679.3 517.0,680.0 517.0,680.1 518.0,678.2 519.0,676.2 519.0,676.1 520.0,674.2 520.1,674.1 521.0,673.3 522.0,672.4 522.1,672.4 522.5,672.1 523.0,672.9 524.0,674.4 524.1,674.5 525.0,676.0 525.1,676.1 526.0,677.3 526.1,677.4 527.0,678.7 528.0,680.0 528.1,680.1 529.0,679.4 529.1,679.4 530.0,678.8 531.0,678.1 531.1,678.1 532.0,681.2 532.1,681.4 533.0,684.5 534.0,687.9 534.1,688.1 535.0,693.1 536.0,698.4 537.0,703.7 537.1,704.1 538.0,708.8 539.0,713.8 539.1,714.1 540.0,718.8 540.1,719.1 541.0,719.1 542.0,719.1 542.1,719.1 543.0,719.1 543.1,719.1 544.0,719.1 545.0,719.1 545.1,719.1 546.0,726.0 547.0,733.5 547.1,734.1 548.0,736.9 548.1,737.1 549.0,739.9 549.1,740.1 550.0,740.7 551.0,741.4 551.1,741.5 552.0,742.1 552.1,742.1 553.0,747.6 553.1,748.1 554.0,753.6 554.1,754.1 555.0,757.8 555.1,758.1 556.0,761.8 557.0,765.8 557.1,766.2 558.0,766.2 558.1,766.2 559.0,766.2 560.0,766.2 560.1,766.2 561.0,765.5 561.1,765.5 562.0,764.9 563.0,764.2 563.1,764.2 564.0,760.5 564.1,760.2 565.0,756.5 566.0,752.5 566.1,752.1 567.0,746.7 568.0,740.7 568.1,740.1 569.0,741.3 569.1,741.5 570.0,742.7 570.1,742.8 571.0,744.0 571.1,744.1 572.0,749.5 572.1,750.1 573.0,755.5 573.1,756.1 574.0,761.5 574.1,762.2 575.0,763.9 575.1,764.2 576.0,765.9 577.0,767.9 577.1,768.2 578.0,768.5 578.1,768.5 579.0,768.9 579.1,768.9 579.7,769.2 580.0,771.2 580.1,772.0 581.0,778.3 581.1,779.1 582.0,785.4 582.1,786.0 583.0,791.3 584.0,797.3 584.1,798.0 585.0,803.3 585.1,804.0 586.0,809.3 587.0,815.3 587.1,816.0 588.0,821.3 588.1,822.0 589.0,819.4 590.0,816.4 590.1,816.0 591.0,816.6 592.0,817.3 592.1,817.4 593.0,818.0 593.1,818.0 594.0,821.5 595.0,825.5 595.1,826.0 596.0,829.5 596.1,830.1 597.0,828.9 598.0,827.6 599.0,826.2 599.1,826.0 600.0,822.0 601.0,817.3 601.1,816.7 602.0,812.6 602.1,812.0 603.0,808.0 604.0,803.3 604.1,802.7 605.0,798.6 605.1,798.0 606.0,796.9 607.0,795.5 607.1,795.3 608.0,794.2 608.1,794.0 609.0,793.4 610.0,792.8 610.1,792.7 611.0,792.1 611.1,792.0 612.0,790.3 613.0,788.3 614.0,786.3 614.1,786.0 615.0,789.4 616.0,793.4 617.0,797.4 617.1,798.0 618.0,801.4 619.0,805.4 620.0,809.4 620.2,810.0 621.0,813.4 622.0,817.4 623.0,821.4 623.2,822.0 624.0,822.6 625.0,823.3 626.0,823.9 626.2,824.0 627.0,825.7 628.0,827.7 629.0,829.7 629.2,830.1 630.0,832.3 631.0,835.0 632.0,837.6 632.2,838.1 633.0,836.9 634.0,835.6 635.0,834.3 635.2,834.1 636.0,835.7 637.0,837.7 638.0,839.7 638.2,840.1 639.0,842.3 640.0,844.9 641.0,847.6 641.2,848.1 642.0,849.7 643.0,851.7 644.0,853.7 644.2,854.1 645.0,851.9 646.0,849.2 647.0,846.5 647.2,846.1 648.0,845.0 649.0,843.6 650.0,842.3 650.2,842.1 651.0,841.0 652.0,839.6 653.0,838.3 653.2,838.1 654.0,840.2 655.0,842.9 655.8,845.0 656.0,845.6 656.2,846.1 657.0,847.2 658.0,848.5 658.2,848.7 659.0,849.8 659.2,850.1 660.0,849.0 661.0,847.7 661.2,847.4 662.0,846.3 662.2,846.1 663.0,843.4 664.0,840.0 664.2,839.4 665.0,836.7 665.2,836.1 666.0,833.0 667.0,829.1 667.2,828.4 667.8,826.0 668.0,827.1 669.0,832.1 670.0,837.1 670.2,838.1 671.0,842.9 672.0,848.9 673.0,854.9 673.2,856.1 674.0,858.7 675.0,862.1 676.0,865.4 676.2,866.1 677.0,867.7 678.0,869.7 679.0,871.7 679.2,872.1 680.0,873.1 681.0,874.5 682.0,875.8 682.2,876.1 683.0,876.1 684.0,876.1 685.0,876.1 685.2,876.1 686.0,874.0 687.0,871.3 687.2,870.8 688.0,868.7 688.2,868.1 689.0,864.4 690.0,859.8 690.2,858.7 691.0,855.1 691.2,854.1 692.0,857.7 692.2,858.7 693.0,862.4 694.0,867.0 694.2,868.1 695.0,872.2 695.2,873.4 696.0,877.6 697.0,882.9 697.2,884.1 698.0,884.6 698.2,884.8 699.0,885.3 700.0,884.1 700.2,883.9 701.0,883.4 701.2,883.3 702.0,882.8 703.0,882.1 703.0,882.1 703.2,881.5 704.0,879.4 704.2,878.8 705.0,876.8 706.0,874.1 706.0,874.1 706.2,873.5 707.0,871.4 707.2,870.8 708.0,868.8 709.0,866.1 709.0,866.1 710.0,865.1 710.0,865.0 711.0,864.1 712.0,863.1 712.0,863.1 713.0,865.4 714.0,867.7 715.0,870.0 715.0,870.1 716.0,872.1 717.0,874.1 717.0,874.1 718.0,871.5 719.0,868.8 720.0,866.1 720.0,866.1 721.0,865.1 722.0,864.1 723.0,863.1 723.0,863.1 724.0,864.7 725.0,866.4 726.0,868.0 726.0,868.1 727.0,871.3 728.0,874.7 729.0,878.0 729.0,878.1 730.0,879.4 731.0,880.7 732.0,882.0 732.0,882.1 733.0,885.3 734.0,888.7 735.0,892.0 735.0,892.1 736.0,895.3 737.0,898.7 738.0,902.0 738.0,902.1 739.0,903.4 740.0,904.7 741.0,906.1 741.0,906.1 742.0,908.0 743.0,910.0 744.0,912.0 744.0,912.1 745.0,914.0 746.0,916.0 747.0,918.0 747.0,918.1 748.0,919.4 749.0,920.7 750.0,922.1 750.1,922.1 751.0,921.5 752.0,920.8 753.0,920.2 753.1,920.1 754.0,919.5 755.0,918.8 756.0,918.2 756.1,918.1 757.0,915.8 758.0,913.3 759.0,910.8 759.1,910.6 760.0,908.3 760.1,908.1 761.0,909.4 761.1,909.5 762.0,910.7 763.0,912.0 763.1,912.1 764.0,913.1 764.1,913.1 765.0,914.1 766.0,915.1 767.0,916.1 767.1,916.1 768.0,915.5 769.0,914.8 770.0,914.2 770.1,914.1 771.0,911.0 772.0,907.7 773.0,904.4 773.1,904.1 774.0,899.1 775.0,893.7 775.7,890.1 776.0,890.8 776.1,891.0 777.0,892.9 778.0,895.1 778.5,896.1 779.0,895.3 779.1,895.2 780.0,893.8 781.0,892.2 781.1,892.1 782.0,889.7 782.1,889.4 783.0,887.0 784.0,884.3 784.1,884.1 785.0,886.5 785.1,886.8 786.0,889.2 787.0,891.9 787.1,892.1 788.0,890.9 788.1,890.8 789.0,889.6 790.0,888.2 790.1,888.1 791.0,885.1 791.1,884.8 792.0,881.7 792.5,880.1 793.0,878.1 794.0,874.3 794.1,873.9 795.0,870.4 795.1,870.1 796.0,872.5 797.0,875.2 797.1,875.4 798.0,877.8 798.1,878.1 799.0,881.1 800.0,884.4 800.1,884.8 801.0,887.8 801.1,888.1 802.0,888.1 803.0,888.1 803.1,888.1 804.0,888.1 804.1,888.1 805.0,888.1 806.0,888.1 806.1,888.1 807.0,888.1 807.1,888.1 808.0,886.9 809.0,885.6 809.1,885.4 810.0,884.2 810.1,884.1 811.0,888.8 812.0,894.2 812.1,894.8 813.0,899.5 813.1,900.1 814.0,900.7 815.0,901.4 815.1,901.4 816.0,902.0 816.1,902.1 817.0,899.2 817.1,898.8 818.0,895.8 819.0,892.5 819.1,892.1 820.0,888.0 820.1,887.4 821.0,883.3 822.0,878.7 822.1,878.1 823.0,876.9 823.1,876.8 824.0,875.6 825.0,874.3 825.1,874.1 826.0,874.1 826.1,874.1 827.0,874.1 828.0,874.1 829.0,874.1 829.1,874.1 830.0,875.2 830.1,875.4 831.0,876.6 832.0,877.9 832.1,878.1 833.0,879.8 833.1,880.1 834.0,881.8 835.0,883.8 835.1,884.1 836.0,884.7 836.1,884.8 837.0,885.3 838.0,886.0 838.1,886.1 839.0,887.8 839.1,888.1 840.0,889.8 841.0,891.8 841.1,892.1 842.0,893.8 842.1,894.1 843.0,895.8 844.0,897.8 844.1,898.1 845.0,899.2 845.1,899.4 846.0,900.6 847.0,901.9 847.1,902.1 848.0,894.2 848.1,892.8 849.0,884.8 850.0,875.5 850.2,874.1 851.0,868.4 852.0,861.8 852.2,860.7 852.6,858.1 853.0,855.4 854.0,849.4 854.2,848.5 854.6,846.1 855.0,849.1 856.0,856.1 856.2,857.1 857.0,863.0 857.2,864.1 858.0,863.0 858.2,862.7 859.0,861.6 860.0,860.3 860.2,860.1 861.0,857.3 861.2,856.7 862.0,853.9 863.0,850.6 863.2,850.1 864.0,844.5 864.2,843.4 865.0,837.8 866.0,831.1 866.2,830.0 867.0,828.9 868.0,827.6 869.0,826.3 869.2,826.0 870.0,823.8 871.0,821.2 872.0,818.5 872.2,818.0 873.0,816.2 874.0,813.9 874.2,813.5 875.0,811.7 876.0,809.4 876.2,809.0 877.0,812.6 878.0,816.9 879.0,821.3 879.2,822.0 880.0,824.8 881.0,828.1 882.0,831.4 882.2,832.0 883.0,835.3 884.0,839.3 885.0,843.3 885.2,844.1 886.0,840.8 887.0,836.8 888.0,832.8 888.2,832.0 889.0,829.1 890.0,825.5 891.0,821.9 891.2,821.2 891.8,819.0 892.0,819.5 893.0,821.9 893.2,822.3 894.0,824.2 895.0,826.6 895.2,827.0 896.0,827.0 897.0,827.0 898.0,827.0 898.2,827.0 899.0,825.7 900.0,824.0 901.0,822.4 901.2,822.0 902.0,821.0 903.0,819.6 904.0,818.3 904.2,818.0 905.0,821.2 906.0,825.2 907.0,829.2 907.2,830.0 908.0,833.2 909.0,837.2 910.0,841.2 910.2,842.1 911.0,845.7 912.0,850.4 913.0,855.1 913.2,856.1 914.0,852.9 915.0,848.9 916.0,844.9 916.2,844.1 917.0,843.3 918.0,842.3 919.0,841.3 919.2,841.1 920.0,840.3 920.2,840.1 921.0,840.4 922.0,840.9 922.2,841.1 923.0,841.4 924.0,841.9 924.2,842.1 925.0,843.6 925.2,844.1 926.0,845.6 927.0,847.6 927.2,848.1 928.0,851.1 928.2,852.1 929.0,855.1 930.0,856.1 930.2,856.9 931.0,859.4 931.2,860.2 932.0,862.8 933.0,866.1 933.0,866.1 933.2,864.7 934.0,860.1 935.0,854.1 936.0,848.1 936.0,848.1 936.2,847.3 937.0,844.8 938.0,841.5 938.2,840.7 939.0,838.1 939.0,838.1 940.0,837.4 940.0,837.4 941.0,836.8 942.0,836.1 942.0,836.1 943.0,835.4 944.0,834.8 945.0,834.1 945.0,834.1 946.0,834.1 947.0,834.1 948.0,834.1 948.0,834.1 949.0,834.1 950.0,834.1 951.0,834.1 951.0,834.1 952.0,834.4 953.0,834.7 954.0,835.1 954.0,835.1 955.0,843.9 956.0,852.9 957.0,861.9 957.0,862.1 958.0,858.9 959.0,855.5 960.0,852.2 960.0,852.1 961.0,856.0 962.0,860.0 963.0,864.0 963.0,864.1 964.0,864.8 965.0,865.4 966.0,866.1 966.0,866.1 967.0,861.0 968.0,855.6 969.0,850.3 969.0,850.1 970.0,846.3 971.0,842.3 972.0,838.3 972.0,838.1 973.0,834.3 974.0,830.3 975.0,826.3 975.0,826.1 976.0,821.7 977.0,817.1 977.0,816.8 977.6,814.1 978.0,815.8 979.0,820.8 979.0,821.1 980.0,825.8 980.1,826.1 981.0,829.2 982.0,832.6 982.1,832.7 983.0,835.9 983.1,836.1 984.0,834.2 985.0,832.2 985.1,832.1 986.0,830.2 986.1,830.1 987.0,827.6 988.0,824.9 988.1,824.7 989.0,822.2 989.1,822.1 990.0,820.8 991.0,819.5 991.1,819.4 992.0,818.2 992.1,818.1 993.0,818.4 994.0,818.7 994.1,818.7 995.0,819.0 995.1,819.1 996.0,818.8 997.0,818.4 998.0,818.1 998.1,818.1 999.0,817.8 1000.0,817.4 1001.0,817.1 1001.1,817.1 1002.0,819.2 1003.0,821.6 1004.0,823.9 1004.1,824.1 1005.0,825.9 1006.0,827.9 1007.0,829.9 1007.1,830.1 1008.0,831.9 1009.0,833.9 1010.0,835.9 1010.1,836.1 1011.0,836.7 1012.0,837.4 1013.0,838.0 1013.1,838.1 1014.0,835.0 1015.0,831.7 1015.1,831.4 1016.0,828.4 1016.1,828.1 1017.0,824.5 1018.0,820.6 1018.1,820.3 1019.0,816.7 1019.7,814.1 1020.0,816.1 1021.0,822.8 1021.1,823.4 1022.0,829.5 1022.1,830.1 1023.0,831.9 1024.0,833.9 1024.1,834.1 1025.0,835.9 1025.1,836.1 1026.0,833.1 1027.0,829.7 1027.1,829.4 1028.0,826.4 1028.1,826.1 1029.0,820.1 1029.1,819.4 1030.0,813.4 1031.0,806.7 1031.1,806.1 1032.0,797.8 1033.0,788.6 1033.1,787.7 1033.5,784.0 1034.0,786.7 1035.0,792.1 1036.0,797.5 1036.1,798.0 1037.0,807.0 1038.0,817.0 1038.1,818.1 1039.0,817.5 1040.0,816.8 1040.1,816.7 1041.0,816.1 1041.1,816.1 1042.0,814.3 1043.0,812.3 1043.1,812.1 1044.0,810.3 1044.1,810.1 1045.0,811.2 1045.1,811.4 1046.0,812.6 1047.0,813.9 1047.1,814.1 1048.0,814.4 1048.1,814.4 1049.0,814.7 1050.0,815.0 1050.1,815.1 1051.0,813.6 1051.1,813.4 1052.0,811.9 1053.0,810.3 1053.1,810.1 1054.0,808.3 1054.1,808.1 1055.0,806.3 1056.0,804.3 1056.1,804.1 1057.0,805.2 1057.1,805.4 1058.0,806.6 1059.0,807.9 1059.1,808.1 1060.0,811.0 1060.1,811.4 1061.0,814.3 1062.0,817.6 1062.1,818.1 1063.0,822.7 1063.1,823.4 1064.0,828.0 1065.0,833.4 1065.1,834.1 1066.0,834.7 1066.1,834.8 1067.0,835.3 1068.0,836.0 1068.1,836.1 1069.0,836.1 1069.1,836.1 1070.0,836.1 1071.0,836.1 1071.1,836.1 1072.0,832.7 1072.1,832.1 1073.0,828.7 1074.0,824.7 1074.1,824.1 1075.0,828.6 1076.0,834.0 1077.0,839.3 1077.1,840.1 1078.0,847.8 1079.0,856.8 1079.1,858.1 1080.0,862.6 1081.0,868.0 1081.2,868.8 1082.0,873.3 1082.2,874.1 1083.0,873.0 1083.2,872.8 1084.0,871.7 1085.0,870.3 1085.2,870.1 1086.0,870.1 1087.0,870.1 1088.0,870.1 1088.2,870.1 1089.0,866.2 1090.0,861.5 1091.0,856.9 1091.2,856.1 1092.0,850.0 1093.0,842.6 1094.0,835.3 1094.2,834.1 1095.0,829.6 1096.0,824.3 1097.0,819.0 1097.2,818.1 1098.0,816.4 1099.0,814.4 1099.2,814.1 1100.0,812.4 1100.2,812.1 1101.0,812.6 1102.0,813.3 1102.2,813.4 1103.0,813.9 1103.2,814.1 1104.0,814.6 1105.0,815.3 1105.2,815.4 1106.0,815.9 1106.2,816.1 1107.0,816.6 1108.0,817.3 1108.2,817.4 1109.0,817.9 1109.2,818.1 1110.0,818.1 1111.0,818.1 1112.0,818.1 1112.2,818.1 1113.0,819.2 1114.0,820.5 1115.0,821.8 1115.2,822.1 1116.0,824.8 1117.0,828.1 1117.2,828.7 1118.0,831.5 1118.2,832.1 1119.0,835.3 1120.0,839.3 1120.2,840.1 1121.0,843.3 1121.2,844.1 1122.0,843.0 1123.0,841.7 1123.2,841.4 1124.0,840.3 1124.2,840.1 1125.0,835.8 1126.0,830.5 1126.2,829.4 1127.0,825.1 1127.2,824.1 1128.0,819.8 1129.0,814.4 1129.2,813.3 1129.8,810.1 1130.0,810.9 1131.0,815.1 1131.2,815.9 1132.0,819.2 1132.2,820.1 1133.0,823.8 1134.0,828.5 1134.2,829.4 1135.0,833.1 1135.2,834.1 1136.0,829.3 1136.2,828.1 1137.0,823.3 1138.0,817.3 1138.2,816.1 1139.0,813.2 1139.2,812.5 1140.0,809.6 1141.0,806.0 1141.8,803.1 1142.0,803.3 1142.2,803.6 1143.0,804.8 1144.0,806.3 1145.0,807.7 1145.2,808.1 1146.0,810.2 1147.0,812.8 1148.0,815.5 1148.2,816.1 1149.0,817.6 1150.0,819.6 1151.0,821.6 1151.2,822.1 1152.0,821.0 1153.0,819.7 1154.0,818.4 1154.2,818.1 1155.0,817.0 1156.0,815.7 1157.0,814.4 1157.2,814.1 1158.0,814.6 1159.0,815.2 1160.0,815.9 1160.1,812.1 1160.2,811.7 1161.0,809.9 1162.0,807.7 1163.0,805.4 1163.1,805.3 1163.2,804.9 1164.0,803.2 1164.1,803.1 1164.2,803.6 1165.0,805.9 1166.0,808.9 1166.1,809.1 1166.2,809.6 1167.0,811.9 1167.1,812.1 1167.2,812.2 1168.0,812.7 1169.0,813.4 1169.1,813.4 1170.0,814.0 1170.0,814.0 1170.1,814.1 1171.0,812.8 1172.0,811.5 1172.1,811.4 1173.0,810.2 1173.1,810.1 1174.0,808.2 1175.0,806.2 1176.0,804.2 1176.1,804.1 1177.0,807.1 1178.0,810.5 1179.0,813.8 1179.1,814.1 1180.0,814.7 1181.0,815.3 1182.0,816.0 1182.1,816.1 1183.0,814.8 1184.0,813.5 1185.0,812.2 1185.1,812.1 1186.0,811.5 1187.0,810.8 1188.0,810.1 1188.1,810.1 1189.0,808.2 1190.0,806.2 1191.0,804.2 1191.1,804.1 1192.0,802.8 1192.5,802.1 1193.0,810.9 1193.1,812.6 1194.0,828.4 1194.1,830.1 1195.0,836.4 1195.1,837.1 1196.0,843.4 1196.1,844.1 1197.0,841.7 1197.1,841.4 1198.0,839.0 1199.0,836.4 1199.1,836.1 1200.0,833.1 1201.0,829.7 1201.1,829.4 1202.0,826.4 1202.1,826.1 1203.0,821.6 1203.1,821.1 1204.0,816.6 1204.1,816.1 1205.0,817.9 1205.1,818.1 1206.0,819.9 1206.1,820.1 1207.0,823.0 1207.1,823.4 1208.0,826.4 1209.0,829.7 1209.1,830.1 1210.0,831.6 1211.0,833.2 1211.1,833.4 1211.1,920.8 1211.0,920.5 1210.0,917.1 1209.1,914.2 1209.0,913.9 1208.0,911.2 1207.1,908.8 1207.0,908.6 1206.1,907.2 1206.0,906.8 1205.1,904.2 1205.0,904.7 1204.1,909.2 1204.0,909.0 1203.1,907.2 1203.0,907.5 1202.1,910.2 1202.0,910.6 1201.1,914.8 1201.0,915.1 1200.0,917.8 1199.1,920.2 1199.0,919.9 1198.0,917.2 1197.1,914.8 1197.0,913.8 1196.1,904.2 1196.0,904.1 1195.1,903.2 1195.0,901.3 1194.1,884.1 1194.0,883.3 1193.1,875.6 1193.0,876.9 1192.5,883.7 1192.0,881.1 1191.1,876.1 1191.0,875.8 1190.0,871.8 1189.0,867.8 1188.1,864.1 1188.0,864.2 1187.0,864.8 1186.0,865.5 1185.1,866.1 1185.0,866.5 1184.0,870.5 1183.0,874.5 1182.1,878.1 1182.0,878.0 1181.0,876.7 1180.0,875.4 1179.1,874.1 1179.0,874.1 1178.0,873.4 1177.0,872.7 1176.1,872.1 1176.0,872.1 1175.0,872.1 1174.0,872.1 1173.1,872.1 1173.0,872.2 1172.1,872.8 1172.0,872.8 1171.0,872.8 1170.1,872.8 1170.0,872.8 1170.0,872.9 1169.1,874.8 1169.0,874.9 1168.0,876.9 1167.2,878.5 1167.1,878.8 1167.0,879.1 1166.2,882.4 1166.1,883.1 1166.0,883.3 1165.0,885.6 1164.2,887.4 1164.1,887.8 1164.0,887.6 1163.2,885.4 1163.1,884.9 1163.0,885.0 1162.0,886.0 1161.0,887.1 1160.2,888.0 1160.1,888.1 1160.0,885.8 1159.0,884.5 1158.0,883.2 1157.2,882.1 1157.0,882.4 1156.0,883.8 1155.0,885.1 1154.2,886.1 1154.0,887.6 1153.0,894.3 1152.0,901.0 1151.2,906.2 1151.0,905.9 1150.0,904.5 1149.0,903.2 1148.2,902.2 1148.0,901.7 1147.0,899.7 1146.0,897.7 1145.2,896.1 1145.0,895.6 1144.0,893.1 1143.0,890.5 1142.2,888.6 1142.0,889.7 1141.8,890.7 1141.0,891.1 1140.0,891.4 1139.2,891.8 1139.0,893.2 1138.2,898.8 1138.0,899.8 1137.0,904.5 1136.2,908.2 1136.0,906.1 1135.2,898.1 1135.0,898.3 1134.2,898.8 1134.0,897.9 1133.0,893.2 1132.2,889.5 1132.0,888.4 1131.2,884.3 1131.0,884.7 1130.0,886.9 1129.8,887.3 1129.2,882.9 1129.0,883.7 1128.0,887.6 1127.2,890.8 1127.0,891.6 1126.2,894.8 1126.0,894.8 1125.0,894.8 1124.2,894.8 1124.0,895.6 1123.2,898.8 1123.0,898.8 1122.0,898.8 1121.2,898.8 1121.0,899.8 1120.2,904.2 1120.0,903.6 1119.0,901.0 1118.2,898.8 1118.0,898.2 1117.2,895.5 1117.0,894.6 1116.0,889.9 1115.2,886.1 1115.0,886.0 1114.0,885.3 1113.0,884.7 1112.2,884.1 1112.0,884.2 1111.0,884.7 1110.0,885.2 1109.2,885.6 1109.0,885.8 1108.2,886.8 1108.0,886.8 1107.0,886.8 1106.2,886.8 1106.0,886.8 1105.2,886.8 1105.0,886.8 1104.0,886.8 1103.2,886.8 1103.0,886.8 1102.2,886.8 1102.0,886.9 1101.0,887.6 1100.2,888.1 1100.0,887.8 1099.2,886.1 1099.0,886.5 1098.0,888.5 1097.2,890.1 1097.0,890.8 1096.0,894.8 1095.0,898.8 1094.2,902.2 1094.0,901.6 1093.0,898.3 1092.0,894.9 1091.2,892.1 1091.0,892.9 1090.0,897.6 1089.0,902.2 1088.2,906.2 1088.0,907.6 1087.0,917.0 1086.0,926.3 1085.2,934.2 1085.0,935.5 1084.0,944.2 1083.2,951.5 1083.0,949.8 1082.2,940.2 1082.0,939.5 1081.2,935.5 1081.0,932.1 1080.0,909.4 1079.1,890.1 1079.0,888.5 1078.0,877.5 1077.1,868.1 1077.0,868.9 1076.0,874.2 1075.0,879.6 1074.1,884.1 1074.0,884.4 1073.0,886.4 1072.1,888.1 1072.0,888.1 1071.1,888.1 1071.0,888.7 1070.0,892.7 1069.1,896.1 1069.0,895.5 1068.1,891.5 1068.0,890.9 1067.0,886.9 1066.1,883.5 1066.0,883.3 1065.1,882.1 1065.0,882.6 1064.0,885.9 1063.1,888.8 1063.0,888.8 1062.1,888.8 1062.0,888.5 1061.0,886.5 1060.1,884.8 1060.0,884.7 1059.1,884.1 1059.0,883.8 1058.0,881.1 1057.1,878.8 1057.0,879.3 1056.1,882.8 1056.0,882.9 1055.0,883.6 1054.1,884.1 1054.0,884.4 1053.1,886.1 1053.0,886.4 1052.0,888.8 1051.1,890.8 1051.0,890.1 1050.1,885.1 1050.0,884.7 1049.0,881.0 1048.1,877.8 1048.0,877.6 1047.1,876.1 1047.0,876.0 1046.0,875.4 1045.1,874.8 1045.0,875.3 1044.1,879.1 1044.0,879.2 1043.1,880.1 1043.0,880.1 1042.0,879.4 1041.1,878.8 1041.0,878.9 1040.1,879.5 1040.0,878.5 1039.0,869.8 1038.1,862.1 1038.0,861.9 1037.0,859.9 1036.1,858.1 1036.0,858.4 1035.0,861.1 1034.0,863.8 1033.5,865.2 1033.1,860.4 1033.0,861.8 1032.0,874.6 1031.1,886.1 1031.0,887.9 1030.0,905.2 1029.1,920.8 1029.0,921.2 1028.1,924.2 1028.0,924.8 1027.1,930.8 1027.0,929.6 1026.0,917.0 1025.1,905.5 1025.0,904.8 1024.1,898.1 1024.0,897.5 1023.0,890.1 1022.1,883.5 1022.0,883.2 1021.1,880.8 1021.0,881.8 1020.0,892.4 1019.7,895.7 1019.0,895.8 1018.1,895.9 1018.0,896.2 1017.0,898.9 1016.1,901.5 1016.0,901.8 1015.1,904.8 1015.0,904.9 1014.0,905.5 1013.1,906.2 1013.0,905.8 1012.0,901.1 1011.0,896.4 1010.1,892.1 1010.0,892.0 1009.0,890.0 1008.0,888.0 1007.1,886.1 1007.0,886.2 1006.0,886.9 1005.0,887.5 1004.1,888.1 1004.0,888.2 1003.0,888.5 1002.0,888.8 1001.1,889.1 1001.0,889.0 1000.0,886.6 999.0,884.3 998.1,882.1 998.0,882.2 997.0,883.9 996.0,885.6 995.1,887.1 995.0,887.3 994.1,889.5 994.0,889.7 993.0,892.7 992.1,895.5 992.0,895.6 991.1,896.8 991.0,896.8 990.0,896.8 989.1,896.8 989.0,896.7 988.1,895.5 988.0,895.7 987.0,899.7 986.1,903.5 986.0,903.7 985.1,908.2 985.0,908.1 984.0,907.5 983.1,906.8 983.0,907.1 982.1,911.5 982.0,911.1 981.0,903.8 980.1,896.8 980.0,896.5 979.0,891.1 979.0,891.1 978.0,891.1 977.6,891.1 977.0,885.4 977.0,885.4 976.0,885.8 975.0,886.1 975.0,886.3 974.0,888.9 973.0,891.6 972.0,894.1 972.0,894.2 971.0,895.5 970.0,896.9 969.0,898.1 969.0,898.1 968.0,898.1 967.0,898.1 966.0,898.1 966.0,898.3 965.0,903.0 964.0,907.6 963.0,912.2 963.0,912.1 962.0,909.4 961.0,906.7 960.0,904.2 960.0,904.0 959.0,898.0 958.0,892.0 957.0,886.1 957.0,886.2 956.0,889.9 955.0,893.6 954.0,897.1 954.0,897.1 953.0,895.4 952.0,893.8 951.0,892.1 951.0,892.2 950.0,894.2 949.0,896.2 948.0,898.1 948.0,898.2 947.0,903.6 946.0,908.9 945.0,914.2 945.0,914.2 944.0,916.2 943.0,918.2 942.0,920.2 942.0,920.1 941.0,916.1 940.0,912.3 940.0,912.1 939.0,908.2 939.0,908.2 938.2,912.3 938.0,913.5 937.0,918.9 936.2,922.9 936.0,924.2 936.0,924.2 935.0,928.9 934.0,933.5 933.2,937.1 933.0,938.2 933.0,938.2 932.0,930.8 931.2,925.2 931.0,923.5 930.2,917.9 930.0,916.2 929.0,912.2 928.2,908.1 928.0,908.4 927.2,909.5 927.0,909.3 926.0,908.6 925.2,908.1 925.0,908.6 924.2,910.1 924.0,910.2 923.0,910.7 922.2,911.1 922.0,911.5 921.0,913.4 920.2,914.8 920.0,914.9 919.2,915.1 919.0,915.8 918.0,918.8 917.0,921.8 916.2,924.1 916.0,925.6 915.0,932.2 914.0,938.9 913.2,944.2 913.0,942.0 912.0,932.0 911.0,922.0 910.2,914.1 910.0,912.4 909.0,904.4 908.0,896.4 907.2,890.1 907.0,889.8 906.0,888.5 905.0,887.2 904.2,886.1 904.0,886.6 903.0,889.3 902.0,892.0 901.2,894.1 901.0,894.6 900.0,896.9 899.0,899.2 898.2,901.1 898.0,901.1 897.0,901.1 896.0,901.1 895.2,901.1 895.0,900.0 894.0,894.4 893.2,889.8 893.0,890.6 892.0,895.0 891.8,895.9 891.2,894.9 891.0,896.0 890.0,901.8 889.0,907.5 888.2,912.1 888.0,911.6 887.0,909.0 886.0,906.3 885.2,904.1 885.0,903.6 884.0,901.0 883.0,898.3 882.2,896.1 882.0,895.0 881.0,889.0 880.0,883.0 879.2,878.1 879.0,878.0 878.0,877.7 877.0,877.4 876.2,877.1 876.0,878.3 875.0,885.0 874.2,890.6 874.0,892.0 873.0,899.7 872.2,906.1 872.0,906.8 871.0,910.8 870.0,914.8 869.2,918.1 869.0,918.6 868.0,921.2 867.0,923.9 866.2,926.1 866.0,927.4 865.0,934.7 864.2,940.8 864.0,940.3 863.2,937.5 863.0,937.5 862.0,937.5 861.2,937.5 861.0,936.9 860.2,934.1 860.0,933.9 859.0,932.6 858.2,931.5 858.0,929.2 857.2,917.1 857.0,916.2 856.2,911.0 856.0,911.2 855.0,912.1 854.6,912.5 854.2,907.7 854.0,908.3 853.0,912.3 852.6,914.1 852.2,915.5 852.0,916.6 851.0,923.9 850.2,930.1 850.0,931.4 849.0,940.1 848.1,947.5 848.0,946.8 847.1,942.8 847.0,943.7 846.0,949.7 845.1,954.8 845.0,954.5 844.1,952.8 844.0,952.6 843.0,951.3 842.1,950.2 842.0,949.7 841.1,946.8 841.0,946.4 840.0,943.0 839.1,940.2 839.0,939.9 838.1,938.1 838.0,937.7 837.0,934.4 836.1,931.5 836.0,931.4 835.1,930.8 835.0,930.9 834.0,931.6 833.1,932.1 833.0,932.3 832.1,933.5 832.0,933.6 831.0,934.2 830.1,934.8 830.0,934.9 829.1,935.6 829.0,935.6 828.0,935.1 827.0,934.6 826.1,934.1 826.0,934.1 825.1,934.1 825.0,934.0 824.0,932.6 823.1,931.5 823.0,932.1 822.1,936.8 822.0,937.1 821.0,939.1 820.1,940.8 820.0,941.4 819.1,945.5 819.0,946.2 818.0,952.2 817.1,957.5 817.0,957.3 816.1,956.2 816.0,956.5 815.1,958.8 815.0,958.3 814.0,953.6 813.1,949.5 813.0,949.5 812.1,949.5 812.0,949.6 811.0,951.0 810.1,952.2 810.0,951.6 809.1,946.8 809.0,946.8 808.0,946.8 807.1,946.8 807.0,947.0 806.1,948.2 806.0,948.2 805.0,948.2 804.1,948.2 804.0,948.2 803.1,948.2 803.0,948.0 802.0,946.7 801.1,945.5 801.0,945.7 800.1,947.5 800.0,947.2 799.0,943.8 798.1,940.8 798.0,940.4 797.1,936.8 797.0,936.9 796.0,938.3 795.1,939.5 795.0,939.0 794.1,934.3 794.0,934.4 793.0,935.9 792.5,936.7 792.0,937.7 791.1,939.5 791.0,939.9 790.1,944.2 790.0,944.8 789.0,951.4 788.1,957.5 788.0,956.8 787.1,949.5 787.0,949.1 786.0,945.1 785.1,941.5 785.0,941.8 784.1,945.5 784.0,945.4 783.0,944.0 782.1,942.8 782.0,942.7 781.1,941.5 781.0,941.5 780.0,941.3 779.1,941.1 779.0,940.5 778.5,936.9 778.0,935.4 777.0,932.2 776.1,929.3 776.0,930.3 775.7,934.4 775.0,938.0 774.0,943.3 773.1,948.2 773.0,948.7 772.0,956.7 771.0,964.7 770.1,972.2 770.0,972.2 769.0,972.2 768.0,972.2 767.1,972.2 767.0,972.0 766.0,969.0 765.0,966.0 764.1,963.2 764.0,963.0 763.1,960.2 763.0,960.0 762.0,957.3 761.1,954.8 761.0,954.8 760.1,954.2 760.0,953.9 759.1,949.7 759.0,949.7 758.0,949.8 757.0,950.0 756.1,950.2 756.0,950.2 755.0,950.9 754.0,951.5 753.1,952.2 753.0,952.2 752.0,953.6 751.0,954.9 750.1,956.2 750.0,956.3 749.0,958.3 748.0,960.3 747.0,962.2 747.0,962.1 746.0,960.1 745.0,958.1 744.0,956.2 744.0,956.0 743.0,952.7 742.0,949.4 741.0,946.2 741.0,946.2 740.0,948.2 739.0,950.2 738.0,952.2 738.0,952.2 737.0,953.5 736.0,954.9 735.0,956.2 735.0,956.0 734.0,952.7 733.0,949.4 732.0,946.2 732.0,946.1 731.0,944.8 730.0,943.4 729.0,942.2 729.0,942.0 728.0,937.4 727.0,932.7 726.0,928.1 726.0,928.0 725.0,923.0 724.0,918.0 723.0,913.1 723.0,913.2 722.0,914.8 721.0,916.5 720.0,918.1 720.0,918.2 719.0,920.8 718.0,923.5 717.0,926.1 717.0,926.1 716.0,926.1 715.0,926.1 715.0,926.1 714.0,925.1 713.0,924.1 712.0,923.1 712.0,923.1 711.0,924.1 710.0,925.1 710.0,925.1 709.0,926.1 709.0,926.2 708.0,930.2 707.2,933.2 707.0,934.2 706.2,937.2 706.0,938.1 706.0,938.2 705.0,941.5 704.2,944.1 704.0,944.8 703.2,947.4 703.0,948.2 703.0,948.2 702.0,947.5 701.2,947.0 701.0,946.8 700.2,946.3 700.0,946.2 699.0,940.0 698.2,939.5 698.0,938.1 697.2,933.5 697.0,933.2 696.0,931.9 695.2,930.8 695.0,930.5 694.2,929.5 694.0,929.0 693.0,927.0 692.2,925.5 692.0,927.2 691.2,933.2 691.0,932.8 690.2,931.5 690.0,932.4 689.0,936.4 688.2,939.5 688.0,940.8 687.2,945.5 687.0,948.0 686.0,959.3 685.2,968.2 685.0,967.3 684.0,963.3 683.0,959.3 682.2,956.2 682.0,954.8 681.0,948.1 680.0,941.4 679.2,936.2 679.0,934.9 678.0,928.9 677.0,922.9 676.2,918.1 676.0,917.7 675.0,915.7 674.0,913.7 673.2,912.1 673.0,912.0 672.0,911.3 671.0,910.7 670.2,910.1 670.0,910.1 669.0,909.7 668.0,909.4 667.8,909.3 667.2,903.8 667.0,904.6 666.0,908.8 665.2,912.1 665.0,913.0 664.2,916.8 664.0,917.6 663.0,921.6 662.2,924.8 662.0,926.0 661.2,930.8 661.0,928.7 660.0,917.3 659.2,908.1 659.0,906.5 658.2,899.5 658.0,898.4 657.0,893.1 656.2,888.8 656.0,888.0 655.8,887.2 655.0,890.5 654.0,894.7 653.2,898.1 653.0,898.4 652.0,899.7 651.0,901.0 650.2,902.1 650.0,902.6 649.0,905.3 648.0,907.9 647.2,910.1 647.0,910.6 646.0,913.3 645.0,915.9 644.2,918.1 644.0,918.3 643.0,918.9 642.0,919.6 641.2,920.1 641.0,919.7 640.0,917.0 639.0,914.4 638.2,912.1 638.0,911.5 637.0,907.5 636.0,903.5 635.2,900.1 635.0,900.0 634.0,899.3 633.0,898.7 632.2,898.1 632.0,898.3 631.0,899.7 630.0,901.0 629.2,902.1 629.0,901.9 628.0,900.6 627.0,899.2 626.2,898.1 626.0,897.7 625.0,895.0 624.0,892.4 623.2,890.1 623.0,889.3 622.0,884.0 621.0,878.6 620.2,874.1 620.0,873.5 619.0,869.5 618.0,865.5 617.1,862.1 617.0,862.4 616.0,864.4 615.0,866.4 614.1,868.1 614.0,868.7 613.0,872.7 612.0,876.7 611.1,880.1 611.0,880.0 610.1,879.4 610.0,879.3 609.0,878.7 608.1,878.1 608.0,877.6 607.1,874.8 607.0,874.3 606.0,871.0 605.1,868.1 605.0,868.4 604.1,870.8 604.0,871.1 603.0,873.8 602.1,876.1 602.0,876.9 601.1,882.1 601.0,882.9 600.0,888.9 599.1,894.1 599.0,893.4 598.0,888.1 597.0,882.8 596.1,878.1 596.0,878.1 595.1,878.1 595.0,878.1 594.0,878.1 593.1,878.1 593.0,878.7 592.1,882.8 592.0,883.3 591.0,888.0 590.1,892.1 590.0,891.1 589.0,882.8 588.1,875.4 588.0,875.5 587.1,876.1 587.0,875.7 586.0,872.4 585.1,869.4 585.0,869.0 584.1,866.1 584.0,865.6 583.0,860.9 582.1,856.7 582.0,856.2 581.1,853.0 581.0,852.4 580.1,848.1 580.0,847.5 579.7,846.1 579.1,839.1 579.0,839.2 578.1,839.5 578.0,839.5 577.1,839.9 577.0,840.1 576.0,842.1 575.1,843.9 575.0,843.5 574.1,840.6 574.0,840.6 573.1,841.2 573.0,841.3 572.1,841.9 572.0,842.1 571.1,843.9 571.0,843.6 570.1,841.2 570.0,841.0 569.1,838.6 569.0,839.0 568.1,842.6 568.0,842.2 567.0,838.9 566.1,835.9 566.0,836.0 565.0,837.3 564.1,838.6 564.0,838.7 563.1,839.9 563.0,839.9 562.0,839.9 561.1,839.9 561.0,839.9 560.1,839.9 560.0,839.9 559.0,840.6 558.1,841.2 558.0,841.3 557.1,841.9 557.0,841.8 556.0,840.4 555.1,839.2 555.0,839.1 554.1,837.9 554.0,837.7 553.1,835.9 553.0,835.7 552.1,833.9 552.0,833.3 551.1,826.5 551.0,826.4 550.0,824.4 549.1,822.5 549.0,822.6 548.1,822.9 548.0,818.9 547.1,815.5 547.0,815.6 546.0,816.4 545.1,817.2 545.0,817.1 544.0,815.8 543.1,814.5 543.0,814.4 542.1,813.2 542.0,813.1 541.0,811.8 540.1,810.5 540.0,810.8 539.1,814.2 539.0,813.9 538.0,808.9 537.1,804.2 537.0,803.8 536.0,798.5 535.0,793.2 534.1,788.2 534.0,787.9 533.0,783.2 532.1,778.8 532.0,779.0 531.1,780.8 531.0,780.7 530.0,778.7 529.1,776.8 529.0,776.8 528.1,775.5 528.0,775.5 527.0,776.2 526.1,776.8 526.0,776.4 525.1,769.2 525.0,768.7 524.1,761.7 524.0,761.6 523.0,759.1 522.5,757.7 522.1,755.8 522.0,756.1 521.0,761.9 520.1,767.5 520.0,767.7 519.0,772.2 519.0,772.5 518.0,779.7 517.0,786.6 517.0,787.1 516.4,793.0 516.0,793.1 515.0,793.2 514.0,793.4 514.0,793.3 513.0,791.2 513.0,791.1 512.0,788.7 511.0,786.5 511.0,786.4 510.0,783.5 510.0,783.3 509.0,779.0 508.0,774.8 508.0,774.5 507.0,766.3 507.0,766.1 506.0,758.9 505.6,756.3 505.0,756.4 504.0,756.6 504.0,756.3 503.0,748.1 503.0,748.1 502.0,747.1 502.0,746.9 501.0,740.1 501.0,739.9 500.0,733.1 500.0,732.9 499.0,724.1 499.0,723.9 498.0,717.4 498.0,717.3 497.4,717.1 497.0,714.9 496.0,709.7 495.6,707.8 495.4,711.1 495.0,712.3 494.0,715.0 494.0,715.2 493.6,718.5 493.0,725.1 492.0,735.5 492.0,735.7 491.0,744.1 491.0,744.3 490.0,753.7 489.0,762.8 489.0,762.8 488.0,760.7 488.0,760.7 487.0,762.9 486.0,765.0 485.0,767.2 485.0,767.2 484.0,769.2 483.0,771.2 482.0,773.2 482.0,773.2 481.0,772.2 480.0,771.2 480.0,771.2 479.0,770.2 479.0,770.2 478.0,770.8 477.2,771.3 477.0,771.5 476.2,772.0 476.0,772.2 476.0,772.2 475.0,772.8 474.2,773.3 474.0,773.5 473.2,774.0 473.0,774.2 473.0,774.2 472.0,775.5 471.2,776.5 471.0,776.8 470.2,777.9 470.0,778.2 469.0,777.4 468.2,774.8 468.0,773.5 467.2,768.8 467.0,769.4 466.0,772.1 465.2,774.2 465.0,774.8 464.2,776.8 464.0,777.6 463.0,780.9 462.2,783.5 462.0,784.8 461.2,789.5 461.0,789.1 460.0,787.1 459.2,785.5 459.0,785.1 458.2,783.5 458.0,782.8 457.0,779.4 456.2,776.8 456.0,775.0 455.2,768.2 455.0,767.9 454.0,766.9 453.2,766.2 453.0,767.3 452.0,772.6 451.0,778.0 450.2,782.2 450.0,782.9 449.0,786.2 448.0,789.5 447.2,792.2 447.0,792.0 446.0,791.4 445.0,790.7 444.2,790.2 444.0,790.0 443.0,789.4 442.0,788.7 441.2,788.2 441.0,789.2 440.0,794.4 439.0,799.6 438.8,800.6 438.2,799.9 438.0,800.2 437.0,801.7 436.2,802.9 436.0,803.6 435.2,806.9 435.0,807.1 434.0,808.5 433.2,809.5 433.0,809.7 432.2,810.2 432.0,810.8 431.0,814.2 430.2,816.9 430.0,817.8 429.2,821.5 429.0,820.5 428.0,814.8 427.2,810.2 427.0,809.1 426.0,803.5 425.2,798.9 425.0,797.7 424.2,792.8 424.0,791.7 423.0,785.7 422.2,780.8 422.0,780.5 421.2,778.8 421.0,778.5 420.0,776.5 419.2,774.8 419.0,773.8 418.2,768.8 418.0,768.7 417.0,768.0 416.2,767.5 416.0,767.4 415.2,766.8 415.0,766.8 414.0,766.4 413.2,766.2 413.0,766.5 412.2,768.2 412.0,767.5 411.2,764.2 411.0,765.2 410.0,771.2 409.2,776.2 409.0,776.4 408.0,777.7 407.0,779.1 406.2,780.2 406.0,779.8 405.0,777.8 404.0,775.8 403.2,774.2 403.0,773.6 402.0,770.3 401.0,767.0 400.2,764.2 400.0,763.6 399.0,760.3 398.0,757.0 397.2,754.1 397.0,753.7 396.0,751.1 395.0,748.4 394.2,746.1 394.0,746.6 393.0,749.6 392.0,752.6 391.2,755.1 391.0,755.3 390.0,756.7 389.0,758.0 388.1,759.1 388.0,759.1 387.0,759.1 386.0,759.1 385.1,759.1 385.0,759.1 384.0,758.8 383.0,758.4 382.1,758.1 382.0,758.8 381.0,763.5 380.0,768.1 379.1,772.2 379.0,772.1 378.0,771.3 377.0,770.6 376.5,770.3 376.1,765.8 376.0,766.7 375.0,772.8 374.1,778.2 374.0,778.7 373.0,782.7 372.0,786.7 371.1,790.2 371.0,789.7 370.0,785.7 369.0,781.7 368.1,778.2 368.0,777.8 367.0,775.2 366.0,772.5 365.1,770.2 365.0,770.5 364.0,773.2 363.0,775.8 362.1,778.2 362.0,778.7 361.0,782.7 360.0,786.7 359.1,790.2 359.0,790.6 358.0,793.9 357.0,797.2 356.1,800.2 356.0,799.5 355.0,793.5 354.0,787.5 353.1,782.2 353.0,782.3 352.0,783.7 351.0,785.0 350.1,786.2 350.0,786.9 349.0,793.6 348.0,800.2 347.1,806.2 347.0,806.4 346.0,808.4 345.0,810.4 344.1,812.2 344.0,811.9 343.0,808.5 342.0,805.2 341.1,802.2 341.0,801.4 340.0,793.4 339.0,785.4 338.1,778.2 338.0,777.9 337.0,774.9 336.0,771.9 335.1,769.2 335.0,769.6 334.0,773.9 333.0,778.2 332.1,782.2 332.0,782.5 331.0,786.2 330.0,789.8 329.1,793.2 329.0,793.3 328.1,794.2 328.0,794.5 327.0,798.2 326.1,801.5 326.0,801.3 325.1,798.5 325.0,798.3 324.0,796.0 323.1,793.9 323.0,793.9 322.1,794.2 322.0,794.2 321.0,794.9 320.1,795.5 320.0,795.1 319.1,790.8 319.0,790.5 318.0,785.8 317.1,781.5 317.0,782.1 316.1,788.8 316.0,789.0 315.0,791.0 314.1,792.8 314.0,792.5 313.1,788.2 313.0,788.3 312.1,790.5 312.0,790.5 312.0,790.5 311.0,790.2 310.2,789.9 310.1,789.8 310.0,789.6 309.1,786.8 309.0,786.8 308.0,786.5 307.2,786.2 307.1,786.2 307.0,786.1 306.1,785.5 306.0,786.0 305.0,794.0 304.2,800.2 304.1,801.5 304.0,802.2 303.1,811.5 303.0,811.4 302.0,809.4 301.1,807.5 301.0,807.4 300.2,806.4 300.1,806.2 300.0,806.1 299.0,804.1 298.1,802.2 298.0,802.0 297.2,799.4 297.1,798.9 297.0,799.0 296.0,802.4 295.1,805.5 295.0,805.5 294.2,805.0 294.1,804.9 294.0,805.0 293.0,808.4 292.1,811.5 292.0,811.3 291.2,807.1 291.1,806.2 291.0,806.0 290.1,802.2 290.0,802.3 289.0,805.0 288.2,807.1 288.0,807.5 288.0,807.6 287.0,808.9 287.0,809.3 286.0,817.9 285.2,824.8 285.0,826.2 285.0,826.1 284.0,822.9 284.0,822.9 283.0,823.6 282.2,824.1 282.0,824.2 282.0,824.2 281.0,824.9 281.0,824.9 280.0,824.9 279.2,824.9 279.0,824.9 279.0,825.2 278.0,832.9 278.0,833.1 277.0,840.0 276.2,845.4 276.0,846.6 276.0,846.9 275.6,849.8 275.0,848.1 274.0,845.5 273.2,843.3 273.0,842.9 273.0,842.8 272.0,840.2 272.0,840.2 271.0,838.2 270.2,836.6 270.0,836.2 270.0,835.7 269.0,818.2 269.0,818.0 268.0,812.0 267.2,807.2 267.0,806.2 267.0,806.3 266.0,809.5 266.0,809.5 265.0,809.5 264.2,809.5 264.0,809.5 264.0,809.8 263.0,820.2 263.0,820.2 262.2,819.7 262.0,819.5 262.0,819.6 261.2,822.3 261.0,822.9 260.0,826.2 260.0,826.3 259.2,829.5 259.0,830.3 258.2,833.6 258.0,834.3 257.0,838.2 257.0,838.3 256.2,842.7 256.0,843.7 255.2,848.0 255.0,849.0 254.0,854.2 254.0,854.3 253.2,855.4 253.0,855.6 252.2,856.7 252.0,856.9 251.0,858.2 251.0,858.2 250.2,858.2 250.0,858.2 250.0,858.3 249.2,860.7 249.0,861.3 248.0,864.3 248.0,864.2 247.2,860.9 247.0,860.2 246.2,856.9 246.0,856.2 246.0,856.2 245.0,855.2 244.2,854.4 244.0,854.2 244.0,854.3 243.2,857.6 243.0,858.2 243.0,858.3 242.0,862.3 241.2,865.6 241.0,866.3 240.2,869.6 240.0,870.3 239.0,878.3 238.2,878.8 238.0,879.5 237.2,882.8 237.0,883.3 236.0,886.0 235.2,888.2 235.0,889.3 234.2,894.9 234.0,894.8 233.0,894.1 232.2,893.5 232.0,894.0 231.2,896.2 231.0,895.6 230.0,891.6 229.2,888.2 229.0,888.1 228.2,887.5 228.0,887.1 227.0,884.4 226.2,882.2 226.0,881.7 225.2,878.8 225.0,877.9 224.0,871.9 223.2,866.8 223.0,865.9 222.2,860.8 222.0,860.2 221.0,856.2 220.1,852.8 220.0,851.8 219.1,845.8 219.0,846.4 218.0,850.0 217.1,853.2 217.0,853.3 216.1,854.2 216.0,855.0 215.0,861.0 214.1,866.2 214.0,866.8 213.0,871.1 212.1,874.8 212.0,875.2 211.1,877.5 211.0,877.3 210.0,876.0 209.1,874.8 209.0,874.5 208.1,872.2 208.0,872.4 207.0,873.7 206.1,874.8 206.0,873.6 205.1,865.5 205.0,865.1 204.0,861.7 203.1,858.8 203.0,858.5 202.1,856.2 202.0,855.6 201.0,851.6 200.1,848.1 200.0,848.7 199.1,852.2 199.0,852.2 198.0,852.9 197.1,853.5 197.0,853.2 196.1,850.8 196.0,850.7 195.0,850.1 194.1,849.5 194.0,849.2 193.1,847.5 193.0,847.7 192.0,849.7 191.1,851.5 191.0,851.6 190.1,852.2 190.0,852.2 189.0,852.2 188.1,852.2 188.0,852.0 187.1,850.8 187.0,850.6 186.0,848.6 185.1,846.8 185.0,847.8 184.1,855.2 184.0,855.9 183.1,861.5 183.0,861.1 182.0,857.4 181.1,854.2 181.0,854.0 180.0,852.7 179.0,851.3 178.1,850.2 178.0,850.6 177.0,855.3 176.0,860.0 175.1,864.2 175.0,864.3 174.0,865.6 173.0,867.0 172.1,868.2 172.0,868.1 171.0,867.4 170.0,866.8 169.1,866.2 169.0,865.8 168.0,861.8 167.0,857.8 166.1,854.2 166.0,853.7 165.0,849.0 164.0,844.4 163.1,840.1 163.0,840.9 162.0,848.9 161.0,856.9 160.1,864.2 160.0,864.8 159.0,871.4 158.0,878.1 157.1,884.2 157.0,883.6 156.0,877.0 155.0,870.3 154.1,864.2 154.0,863.7 153.0,858.4 152.1,853.5 152.0,854.5 151.1,866.2 151.0,866.5 150.1,870.8 150.0,871.3 149.0,876.6 148.1,881.5 148.0,881.8 147.1,885.5 147.0,885.2 146.0,881.2 145.1,877.5 145.0,877.8 144.1,880.8 144.0,880.5 143.0,875.8 142.1,871.5 142.0,871.4 141.1,869.5 141.0,869.2 140.0,864.5 139.1,860.2 139.0,859.9 138.1,856.2 138.0,856.0 137.0,853.3 136.1,850.8 136.0,850.3 135.1,842.6 135.0,842.9 134.0,847.4 133.0,851.9 132.1,856.2 132.0,856.3 131.1,859.2 131.0,859.5 130.0,865.9 129.0,872.2 128.1,878.2 128.0,878.4 127.0,882.4 126.0,886.4 125.1,890.2 125.0,890.0 124.0,886.0 123.0,882.0 122.1,878.2 122.0,878.1 121.0,877.5 120.0,876.8 119.0,876.2 119.0,876.3 118.0,878.6 117.0,881.0 116.0,883.2 116.0,883.3 115.0,885.5 115.0,885.7 114.0,889.7 113.0,893.5 113.0,893.1 112.0,884.2 112.0,884.1 111.0,880.7 110.0,877.5 110.0,877.3 109.0,870.8 109.0,870.6 108.0,863.6 107.0,856.8 107.0,857.0 106.0,863.2 106.0,863.4 105.0,868.8 105.0,868.9 104.0,869.9 103.0,870.8 103.0,871.0 102.0,876.8 102.0,876.9 101.0,879.6 100.0,882.2 100.0,882.1 99.0,880.2 99.0,880.2 98.0,880.9 97.0,881.5 97.0,881.3 96.0,874.2 96.0,874.1 95.0,872.8 94.0,871.5 94.0,871.4 93.0,866.8 93.0,866.9 92.0,870.9 91.0,874.8 91.0,875.0 90.0,881.5 90.0,881.6 89.0,885.6 88.0,889.5 88.0,889.6 87.0,896.9 87.0,896.9 86.0,898.9 85.0,900.9 85.0,901.0 84.0,910.9 84.0,910.9 83.0,908.9 82.0,906.9 82.0,906.9 81.0,906.9 81.0,906.8 80.0,904.2 79.0,901.5 79.0,901.5 78.0,896.9 78.0,896.8 77.0,893.5 76.0,890.2 76.0,890.1 75.0,876.2 75.0,876.2 74.0,875.5 73.0,874.8 72.7,874.6" fill="rgb(187,20,52)" fill-opacity="0.31"/>
<polyline points="72.7,850.3 73.0,849.5 74.0,846.8 75.0,844.2 75.0,844.1 76.0,848.1 77.0,852.1 78.0,856.1 78.0,856.2 79.0,860.8 80.0,865.5 81.0,870.1 81.0,870.2 82.0,873.5 83.0,876.8 84.0,880.1 84.0,880.2 85.0,877.5 86.0,874.9 87.0,872.2 87.0,872.2 88.0,866.9 89.0,861.6 90.0,856.3 90.0,856.2 91.0,849.6 92.0,842.9 93.0,836.3 93.0,836.1 94.0,833.9 95.0,831.5 96.0,829.2 96.0,829.1 97.0,829.8 98.0,830.4 99.0,831.1 99.0,831.1 100.0,833.1 101.0,835.1 102.0,837.1 102.0,837.1 103.0,837.5 104.0,837.8 105.0,838.1 105.0,838.1 106.0,836.2 107.0,834.2 107.0,834.1 108.0,838.6 109.0,843.3 110.0,848.0 110.0,848.1 111.0,851.0 112.0,854.0 113.0,857.0 113.0,857.2 114.0,853.6 115.0,850.0 116.0,846.3 116.0,846.1 117.0,842.6 118.0,839.0 119.0,835.3 119.0,835.1 120.0,836.7 121.0,838.4 122.0,840.1 122.1,840.1 123.0,842.7 124.0,845.3 125.0,848.0 125.1,848.1 126.0,844.4 127.0,840.4 128.0,836.4 128.1,836.1 129.0,831.7 130.0,827.1 131.0,822.4 131.1,822.1 132.0,819.3 133.0,816.3 134.0,813.3 135.0,810.3 135.1,810.1 136.0,813.2 137.0,816.6 138.0,819.9 138.1,820.1 139.0,823.9 140.0,827.9 141.0,831.9 141.1,832.1 142.0,834.6 143.0,837.3 144.0,839.9 144.1,840.1 145.0,838.9 146.0,837.6 147.0,836.2 147.1,836.1 148.0,831.2 149.0,825.9 150.0,820.5 150.1,820.1 151.0,815.5 152.0,810.5 152.1,810.1 153.0,813.8 154.0,817.8 154.1,818.1 155.0,822.1 156.0,826.4 157.0,830.8 157.1,831.1 158.0,823.5 159.0,815.2 160.0,806.8 160.1,806.1 161.0,798.2 162.0,789.5 163.0,780.9 163.1,780.1 164.0,784.3 165.0,789.0 166.0,793.7 166.1,794.1 167.0,798.6 168.0,803.6 169.0,808.6 169.1,809.1 170.0,808.5 171.0,807.8 172.0,807.2 172.1,807.1 173.0,804.4 174.0,801.4 175.0,798.4 175.1,798.1 176.0,793.3 177.0,788.0 178.0,782.6 178.1,782.1 179.0,785.7 180.0,789.7 181.0,793.7 181.1,794.1 182.0,796.3 183.0,798.8 183.1,799.1 184.0,796.9 185.0,794.4 185.1,794.1 186.0,796.5 187.0,799.1 188.0,801.8 188.1,802.1 189.0,803.9 190.0,805.9 191.0,807.9 191.1,808.1 192.0,809.3 193.0,810.6 194.0,811.9 194.1,812.1 195.0,812.7 196.0,813.4 197.0,814.0 197.1,814.1 198.0,813.2 199.0,812.2 200.0,811.2 200.1,811.1 201.0,813.7 202.0,816.7 203.0,819.7 203.1,820.1 204.0,823.0 205.0,826.3 206.0,829.7 206.1,830.1 207.0,828.4 208.0,826.4 209.0,824.4 209.1,824.1 210.0,821.8 211.0,819.2 212.0,816.5 212.1,816.1 213.0,813.1 214.0,809.6 215.0,806.1 216.0,802.6 216.1,802.1 217.0,801.2 218.0,800.2 219.0,799.2 219.1,799.1 220.0,802.8 221.0,807.1 222.0,811.5 222.2,812.1 223.0,816.6 224.0,822.0 225.0,827.3 225.2,828.1 226.0,831.5 227.0,835.5 228.0,839.5 228.2,840.1 229.0,842.7 230.0,845.7 231.0,848.7 231.2,849.1 232.0,848.9 233.0,848.5 234.0,848.2 234.2,848.1 235.0,844.8 236.0,840.8 237.0,836.8 237.2,836.1 238.0,832.2 239.0,827.6 240.0,814.2 240.2,814.0 241.0,813.2 242.0,812.2 243.0,811.2 243.2,811.0 244.0,810.2 244.0,810.2 245.0,811.7 246.0,813.2 246.2,813.5 247.0,814.7 248.0,816.2 248.0,816.2 249.0,814.2 249.2,813.9 250.0,812.2 251.0,810.2 251.0,810.2 252.0,807.6 252.2,807.1 253.0,804.9 254.0,802.2 254.0,802.2 255.0,795.6 255.2,794.4 256.0,789.0 257.0,782.3 257.0,782.2 258.0,779.6 258.2,779.1 259.0,776.9 260.0,774.2 260.0,774.2 261.0,768.3 261.2,767.1 262.0,762.3 262.0,762.2 263.0,758.2 264.0,754.2 264.0,754.1 264.2,754.4 265.0,755.4 266.0,756.8 267.0,758.1 267.0,758.1 267.2,759.2 268.0,764.0 269.0,770.0 270.0,776.0 270.0,776.2 270.2,775.8 271.0,774.2 272.0,772.2 273.0,770.2 273.0,770.2 273.2,769.8 274.0,768.2 275.0,766.2 276.0,764.2 276.0,764.2 276.2,763.9 277.0,762.9 278.0,761.5 279.0,760.2 279.0,760.2 279.2,760.6 280.0,762.7 281.0,765.4 282.0,768.0 282.0,768.2 282.2,768.6 283.0,770.7 284.0,773.4 285.0,776.0 285.0,776.2 285.2,775.6 286.0,773.0 287.0,769.6 288.0,766.3 288.0,766.2 288.2,765.5 289.0,762.3 290.0,758.3 291.0,754.3 291.1,754.1 291.2,753.6 292.0,751.0 293.0,747.6 294.0,744.3 294.1,744.1 294.2,743.9 295.0,742.9 296.0,741.5 297.0,740.2 297.1,740.1 297.2,740.5 298.0,742.0 299.0,744.0 300.0,746.0 300.1,746.1 300.2,746.4 301.0,747.7 302.0,749.4 303.0,751.0 303.1,751.1 304.0,747.1 304.2,746.1 305.0,742.7 306.0,738.4 306.1,738.1 307.0,738.1 307.2,738.1 308.0,738.1 309.0,738.1 309.1,738.1 310.0,739.4 310.2,739.7 311.0,740.7 312.0,742.0 312.0,742.1 312.1,742.1 313.0,742.1 314.0,742.1 314.1,742.1 315.0,739.0 316.0,735.7 317.0,732.4 317.1,732.1 318.0,734.6 319.0,737.2 320.0,739.9 320.1,740.1 321.0,740.1 322.0,740.1 323.0,740.1 323.1,740.1 324.0,741.4 325.0,742.7 326.0,744.0 326.1,744.1 327.0,742.3 328.0,740.3 329.0,738.3 329.1,738.1 330.0,735.1 331.0,731.8 332.0,728.4 332.1,728.1 333.0,724.8 334.0,721.1 335.0,717.5 335.1,717.1 336.0,721.0 337.0,725.4 338.0,729.7 338.1,730.1 339.0,737.3 340.0,745.3 341.0,753.3 341.1,754.1 342.0,754.4 343.0,754.8 344.0,755.1 344.1,755.1 345.0,752.5 346.0,749.5 347.0,746.5 347.1,746.1 348.0,742.0 349.0,737.3 350.0,732.6 350.1,732.1 351.0,733.3 352.0,734.6 353.0,736.0 353.1,736.1 354.0,737.6 355.0,739.3 356.0,740.9 356.1,741.1 357.0,739.1 358.0,736.7 359.0,734.4 359.1,734.1 360.0,731.8 361.0,729.1 362.0,726.4 362.1,726.1 363.0,725.5 364.0,724.9 365.0,724.2 365.1,724.1 366.0,725.3 367.0,726.6 368.0,727.9 368.1,728.1 369.0,728.7 370.0,729.4 371.0,730.0 371.1,730.1 372.0,726.1 373.0,721.4 374.0,716.7 374.1,716.1 375.0,710.9 376.0,704.9 376.1,704.1 377.0,706.4 378.0,709.1 379.0,711.7 379.1,712.1 380.0,711.5 381.0,710.9 382.0,710.2 382.1,710.1 383.0,709.5 384.0,708.9 385.0,708.2 385.1,708.1 386.0,708.4 387.0,708.7 388.0,709.0 388.1,709.1 389.0,708.8 390.0,708.5 391.0,708.1 391.2,708.1 392.0,705.6 393.0,702.6 394.0,699.6 394.2,699.1 395.0,699.9 396.0,700.9 397.0,701.9 397.2,702.1 398.0,703.8 399.0,705.8 400.0,707.8 400.2,708.1 401.0,709.8 402.0,711.8 403.0,713.8 403.2,714.1 404.0,715.8 405.0,717.8 406.0,719.8 406.2,720.1 407.0,718.4 408.0,716.4 409.0,714.4 409.2,714.1 410.0,711.2 411.0,707.7 411.2,707.1 412.0,708.3 413.0,709.8 413.2,710.1 414.0,712.3 415.0,715.0 416.0,717.6 416.2,718.1 417.0,720.3 418.0,723.0 419.0,725.6 419.2,726.1 420.0,726.7 421.0,727.3 422.0,728.0 422.2,728.1 423.0,730.3 424.0,733.0 425.0,735.6 425.2,736.1 426.0,738.2 427.0,740.7 428.0,743.2 429.0,745.7 429.2,746.1 430.0,744.0 431.0,741.3 432.0,738.6 432.2,738.1 433.0,737.1 434.0,735.7 435.0,734.4 435.2,734.1 436.0,732.0 437.0,729.3 438.0,726.6 438.2,726.1 439.0,725.0 440.0,723.7 441.0,722.4 441.2,722.1 442.0,724.2 443.0,726.9 444.0,729.6 444.2,730.1 445.0,731.4 446.0,733.1 447.0,734.8 447.2,735.1 448.0,734.3 449.0,733.3 450.0,732.3 450.2,732.1 451.0,729.5 452.0,726.2 453.0,722.8 453.2,722.1 454.0,720.9 455.0,719.4 455.2,719.1 456.0,720.9 457.0,723.3 458.0,725.6 458.2,726.1 459.0,727.4 460.0,729.1 461.0,730.8 461.2,731.1 462.0,729.3 463.0,727.0 464.0,724.6 464.2,724.1 465.0,722.6 466.0,720.6 467.0,718.6 467.2,718.1 468.0,719.9 469.0,722.2 470.0,726.1 470.2,726.0 471.0,725.4 472.0,724.8 473.0,724.1 473.0,724.1 473.2,723.9 474.0,723.1 475.0,722.1 476.0,721.1 476.0,721.1 476.2,721.0 477.0,720.4 478.0,719.8 479.0,719.1 479.0,719.1 480.0,720.1 480.0,720.1 481.0,721.1 482.0,722.1 482.0,722.1 483.0,720.8 484.0,719.5 485.0,718.1 485.0,718.1 486.0,716.9 487.0,715.6 488.0,714.4 489.0,713.1 489.0,713.1 490.0,706.2 491.0,699.2 492.0,692.2 492.0,692.1 493.0,684.3 494.0,676.3 494.0,676.1 495.0,671.2 495.6,668.1 496.0,670.2 497.0,676.1 498.0,681.9 498.0,682.1 499.0,690.8 500.0,699.8 500.0,700.1 501.0,707.8 502.0,715.8 502.0,716.1 503.0,720.9 504.0,725.9 504.0,726.1 505.0,726.8 506.0,727.4 507.0,728.1 507.0,728.1 508.0,729.4 509.0,730.7 510.0,732.1 510.0,732.1 511.0,732.8 512.0,733.4 513.0,734.1 513.0,734.1 514.0,734.7 515.0,735.3 516.0,735.9 516.4,736.1 517.0,733.6 518.0,729.0 519.0,724.3 519.0,724.1 520.0,720.9 521.0,717.6 522.0,714.3 522.1,714.1 523.0,716.0 524.0,718.0 524.1,718.1 525.0,722.4 526.0,726.9 526.1,727.1 527.0,727.4 528.0,727.8 529.0,728.1 529.1,728.1 530.0,728.7 531.0,729.4 532.0,730.1 532.1,730.1 533.0,733.9 534.0,737.9 534.1,738.1 535.0,743.1 536.0,748.5 537.0,753.8 537.1,754.1 538.0,758.8 539.0,763.8 539.1,764.2 540.0,764.8 541.0,765.4 542.0,766.1 542.1,766.2 543.0,766.8 544.0,767.4 545.0,768.1 545.1,768.2 546.0,771.2 547.0,774.6 548.0,777.9 548.1,780.0 549.0,781.2 550.0,782.6 551.0,783.9 551.1,784.0 552.0,787.7 553.0,791.7 553.1,792.0 554.0,795.7 554.1,796.0 555.0,798.5 555.1,798.7 556.0,801.1 557.0,803.8 557.1,804.0 558.0,803.7 558.1,803.7 559.0,803.4 560.0,803.1 560.1,803.0 561.0,802.7 561.1,802.7 562.0,802.4 563.0,802.1 563.1,802.0 564.0,799.6 564.1,799.4 565.0,796.9 566.0,794.3 566.1,794.0 567.0,792.8 568.0,791.5 568.1,791.3 569.0,790.1 569.1,790.0 570.0,791.8 570.1,792.0 571.0,793.8 572.0,795.8 572.1,796.0 573.0,798.4 573.1,798.7 574.0,801.1 575.0,803.7 575.1,804.0 576.0,804.0 577.0,804.0 578.0,804.0 578.1,804.0 579.0,804.0 579.1,804.0 580.0,809.4 580.1,810.0 581.0,815.4 581.1,816.0 582.0,820.8 582.1,821.4 583.0,826.1 584.0,831.4 584.1,832.1 585.0,836.2 586.0,840.9 587.0,845.5 587.1,846.1 588.0,848.4 589.0,851.1 590.0,853.8 590.1,854.1 591.0,852.3 592.0,850.3 593.0,848.3 593.1,848.1 594.0,849.8 595.0,851.8 596.0,853.8 596.1,854.1 597.0,855.8 598.0,857.8 599.0,859.8 599.1,860.1 600.0,855.4 601.0,850.1 602.0,844.8 602.1,844.1 603.0,840.9 604.0,837.2 605.0,833.5 605.1,833.1 606.0,833.9 607.0,834.9 608.0,835.9 608.1,836.1 609.0,836.1 610.0,836.1 611.0,836.1 611.1,836.1 612.0,833.5 613.0,830.5 614.0,827.5 614.1,827.0 615.0,827.9 616.0,828.9 617.0,829.9 617.1,830.1 618.0,833.5 619.0,837.5 620.0,841.5 620.2,842.1 621.0,846.0 622.0,850.7 623.0,855.4 623.2,856.1 624.0,857.5 625.0,859.2 626.0,860.8 626.2,861.1 627.0,862.5 628.0,864.2 629.0,865.8 629.2,866.1 630.0,866.6 631.0,867.3 632.0,868.0 632.2,868.1 633.0,867.8 634.0,867.5 635.0,867.1 635.2,867.1 636.0,869.6 637.0,872.6 638.0,875.6 638.2,876.1 639.0,878.3 640.0,881.0 641.0,883.6 641.2,884.1 642.0,884.7 643.0,885.3 644.0,886.0 644.2,886.1 645.0,883.9 646.0,881.2 647.0,878.6 647.2,878.1 648.0,876.5 649.0,874.5 650.0,872.5 650.2,872.1 651.0,871.0 652.0,869.7 653.0,868.3 653.2,868.1 654.0,867.5 655.0,866.7 655.8,866.1 656.0,866.8 657.0,870.1 658.0,873.5 658.2,874.1 659.0,878.2 660.0,883.2 661.0,888.2 661.2,889.1 662.0,886.1 663.0,882.5 664.0,878.8 664.2,878.1 665.0,874.9 666.0,870.9 667.0,866.9 667.2,866.1 668.0,868.2 669.0,870.9 670.0,873.6 670.2,874.1 671.0,876.8 672.0,880.1 673.0,883.4 673.2,884.1 674.0,886.2 675.0,888.9 676.0,891.6 676.2,892.1 677.0,895.3 678.0,899.3 679.0,903.3 679.2,904.1 680.0,907.3 681.0,911.3 682.0,915.3 682.2,916.1 683.0,917.7 684.0,919.7 685.0,921.7 685.2,922.1 686.0,916.6 687.0,909.6 687.2,908.1 688.0,904.7 689.0,900.4 690.0,896.1 690.2,895.1 691.0,893.9 692.0,892.4 692.2,892.1 693.0,894.7 694.0,898.0 695.0,901.4 695.2,902.1 696.0,904.7 697.0,908.0 698.0,911.4 698.2,912.1 699.0,912.6 700.0,915.1 701.0,915.1 701.2,915.1 702.0,915.1 703.0,915.1 703.0,915.1 704.0,912.1 704.2,911.4 705.0,909.1 706.0,906.1 706.0,906.1 707.0,902.8 707.2,902.0 708.0,899.5 709.0,896.1 709.0,896.1 710.0,895.1 710.0,895.1 711.0,894.1 712.0,893.1 712.0,893.1 713.0,894.7 714.0,896.4 715.0,898.1 715.0,898.1 716.0,899.1 717.0,900.1 717.0,900.1 718.0,897.5 719.0,894.8 720.0,892.2 720.0,892.1 721.0,890.8 722.0,889.5 723.0,888.1 723.0,888.1 724.0,891.4 725.0,894.7 726.0,898.0 726.0,898.1 727.0,902.0 728.0,906.0 729.0,910.0 729.0,910.1 730.0,911.4 731.0,912.7 732.0,914.1 732.0,914.1 733.0,917.4 734.0,920.7 735.0,924.0 735.0,924.1 736.0,925.1 737.0,926.1 738.0,927.1 738.0,927.1 739.0,926.8 740.0,926.5 741.0,926.1 741.0,926.1 742.0,928.7 743.0,931.4 744.0,934.0 744.0,934.1 745.0,936.1 746.0,938.1 747.0,940.1 747.0,940.2 748.0,939.8 749.0,939.5 750.0,939.2 750.1,939.1 751.0,938.2 752.0,937.2 753.0,936.2 753.1,936.1 754.0,935.5 755.0,934.8 756.0,934.2 756.1,934.1 757.0,932.9 758.0,931.6 759.0,930.2 759.1,930.1 760.0,931.1 761.0,932.1 761.1,932.1 762.0,934.0 763.0,936.0 764.0,938.0 764.1,938.1 765.0,940.0 766.0,942.0 767.0,944.0 767.1,944.2 768.0,943.8 769.0,943.5 770.0,943.2 770.1,943.2 771.0,937.9 772.0,932.2 773.0,926.6 773.1,926.1 774.0,921.2 775.0,915.9 776.0,910.5 776.1,910.1 777.0,912.6 778.0,915.3 779.0,917.9 779.1,918.1 780.0,917.5 781.0,916.8 782.0,916.2 782.1,916.1 783.0,915.5 784.0,914.8 785.0,914.2 785.1,914.1 786.0,917.2 787.0,920.5 788.0,923.8 788.1,924.1 789.0,920.5 790.0,916.5 791.0,912.5 791.1,912.1 792.0,909.7 793.0,907.0 794.0,904.4 794.1,904.1 795.0,904.7 796.0,905.4 797.0,906.1 797.1,906.1 798.0,909.1 799.0,912.5 800.0,915.8 800.1,916.1 801.0,916.7 802.0,917.4 803.0,918.1 803.1,918.1 804.0,918.1 805.0,918.1 806.0,918.1 806.1,918.1 807.0,917.5 808.0,916.9 809.0,916.2 809.1,916.1 810.0,917.9 811.0,919.9 812.0,921.9 812.1,922.1 813.0,924.5 814.0,927.2 815.0,929.8 815.1,930.1 816.0,929.3 817.0,928.3 817.1,928.1 818.0,924.0 819.0,919.4 820.0,914.7 820.1,914.1 821.0,911.2 822.0,907.9 823.0,904.5 823.1,904.1 824.0,904.1 825.0,904.1 826.0,904.1 826.1,904.1 827.0,904.3 828.0,904.6 829.0,904.8 830.0,905.1 830.1,905.1 831.0,905.4 832.0,905.7 833.0,906.1 833.1,906.1 834.0,906.7 835.0,907.4 836.0,908.0 836.1,908.1 837.0,909.8 838.0,911.8 839.0,913.8 839.1,914.1 840.0,916.4 841.0,919.1 842.0,921.8 842.1,922.1 843.0,923.6 844.0,925.2 845.0,926.9 845.1,927.1 846.0,925.1 847.0,922.8 848.0,920.5 848.1,920.1 849.0,912.5 850.0,903.5 850.2,902.1 851.0,896.2 852.0,889.2 852.2,888.1 853.0,883.9 854.0,878.9 854.2,878.1 855.0,880.6 856.0,883.6 856.2,884.1 857.0,889.6 858.0,896.1 858.2,897.1 859.0,897.1 860.0,897.1 861.0,897.1 861.2,897.1 862.0,895.7 863.0,894.0 864.0,892.4 864.2,892.1 865.0,886.3 866.0,879.3 866.2,878.1 867.0,876.4 868.0,874.4 869.0,872.4 869.2,872.1 870.0,869.3 871.0,866.0 872.0,862.6 872.2,862.1 873.0,857.9 874.0,852.9 874.2,852.1 875.0,848.3 876.0,843.8 876.2,843.1 877.0,845.0 878.0,847.3 879.0,849.6 879.2,850.1 880.0,853.9 881.0,858.6 882.0,863.2 882.2,864.1 883.0,866.8 884.0,870.1 885.0,873.5 885.2,874.1 886.0,873.5 887.0,872.9 888.0,872.2 888.2,872.1 889.0,868.3 890.0,863.6 891.0,859.0 891.2,858.1 892.0,857.3 893.0,856.3 893.2,856.1 894.0,859.3 895.0,863.3 895.2,864.1 896.0,864.1 897.0,864.1 898.0,864.1 898.2,864.1 899.0,862.5 900.0,860.5 901.0,858.5 901.2,858.1 902.0,856.5 903.0,854.5 904.0,852.5 904.2,852.1 905.0,854.2 906.0,856.9 907.0,859.5 907.2,860.1 908.0,864.8 909.0,870.8 910.0,876.8 910.2,878.1 911.0,883.9 912.0,891.2 913.0,898.5 913.2,900.1 914.0,895.9 915.0,890.6 916.0,885.2 916.2,884.1 917.0,882.5 918.0,880.5 919.0,878.5 919.2,878.1 920.0,877.6 921.0,876.9 922.0,876.2 922.2,876.1 923.0,876.1 924.0,876.1 925.0,876.1 925.2,876.1 926.0,877.1 927.0,878.5 928.0,879.8 928.2,880.1 929.0,883.7 930.0,886.1 931.0,891.5 931.2,892.7 932.0,896.8 933.0,902.1 933.0,902.2 933.2,900.9 934.0,896.8 935.0,891.5 936.0,886.2 936.0,886.1 936.2,885.1 937.0,881.8 938.0,877.5 938.2,876.5 939.0,873.2 939.0,873.1 940.0,874.8 940.0,874.8 941.0,876.4 942.0,878.1 942.0,878.1 943.0,876.8 944.0,875.5 945.0,874.1 945.0,874.1 946.0,871.5 947.0,868.8 948.0,866.2 948.0,866.1 949.0,865.1 950.0,864.1 951.0,863.1 951.0,863.1 952.0,864.1 953.0,865.1 954.0,866.1 954.0,866.1 955.0,868.7 956.0,871.4 957.0,874.1 957.0,874.1 958.0,875.4 959.0,876.8 960.0,878.1 960.0,878.1 961.0,881.4 962.0,884.7 963.0,888.0 963.0,888.1 964.0,886.2 965.0,884.2 966.0,882.2 966.0,882.1 967.0,879.6 968.0,876.9 969.0,874.2 969.0,874.1 970.0,871.6 971.0,868.9 972.0,866.2 972.0,866.1 973.0,862.9 974.0,859.6 975.0,856.3 975.0,856.1 976.0,853.7 977.0,851.2 977.0,851.1 978.0,853.5 979.0,856.0 979.0,856.1 980.0,861.2 981.0,866.5 982.0,871.8 982.1,872.1 983.0,871.5 984.0,870.8 985.0,870.2 985.1,870.1 986.0,867.0 987.0,863.6 988.0,860.3 988.1,860.1 989.0,859.5 990.0,858.8 991.0,858.1 991.1,858.1 992.0,856.9 993.0,855.5 994.0,854.2 994.1,854.1 995.0,853.2 996.0,852.2 997.0,851.2 998.0,850.2 998.1,850.1 999.0,851.0 1000.0,852.0 1001.0,853.0 1001.1,853.1 1002.0,854.0 1003.0,855.0 1004.0,856.0 1004.1,856.1 1005.0,856.7 1006.0,857.4 1007.0,858.1 1007.1,858.1 1008.0,860.0 1009.0,862.0 1010.0,864.0 1010.1,864.1 1011.0,866.6 1012.0,869.2 1013.0,871.9 1013.1,872.1 1014.0,870.3 1015.0,868.3 1015.1,868.1 1016.0,865.1 1017.0,861.7 1018.0,858.4 1018.1,858.1 1019.0,856.3 1020.0,854.3 1021.0,852.3 1021.1,852.1 1022.0,856.3 1023.0,861.0 1024.0,865.7 1024.1,866.1 1025.0,870.3 1026.0,875.0 1027.0,879.7 1027.1,880.1 1028.0,875.6 1029.0,870.6 1029.1,870.1 1030.0,859.3 1031.0,847.3 1031.1,846.1 1032.0,836.2 1033.0,825.2 1033.1,824.1 1034.0,825.3 1035.0,826.6 1036.0,827.9 1036.1,828.1 1037.0,833.4 1038.0,839.4 1038.1,840.1 1039.0,843.7 1040.0,847.7 1040.1,848.1 1041.0,847.5 1042.0,846.8 1043.0,846.2 1043.1,846.1 1044.0,844.8 1045.0,843.3 1045.1,843.1 1046.0,844.0 1047.0,845.0 1048.0,846.0 1048.1,846.1 1049.0,847.9 1050.0,849.9 1051.0,851.9 1051.1,852.1 1052.0,850.3 1053.0,848.3 1054.0,846.3 1054.1,846.1 1055.0,844.9 1056.0,843.6 1057.0,842.3 1057.1,842.1 1058.0,843.8 1059.0,845.8 1060.0,847.8 1060.1,848.1 1061.0,850.4 1062.0,853.1 1063.0,855.8 1063.1,856.1 1064.0,857.0 1065.0,858.0 1066.0,859.0 1066.1,859.1 1067.0,861.1 1068.0,863.5 1069.0,865.8 1069.1,866.1 1070.0,864.4 1071.0,862.4 1072.0,860.4 1072.1,860.1 1073.0,857.5 1074.0,854.5 1074.1,854.1 1075.0,854.1 1076.0,854.1 1077.0,854.1 1077.1,854.1 1078.0,862.6 1079.0,872.6 1079.1,874.1 1080.0,886.0 1081.0,900.0 1081.2,902.2 1082.0,906.4 1083.0,911.4 1083.2,912.2 1084.0,907.9 1085.0,902.9 1085.2,902.2 1086.0,898.2 1087.0,893.5 1088.0,888.9 1088.2,888.1 1089.0,884.2 1090.0,879.5 1091.0,874.9 1091.2,874.1 1092.0,872.4 1093.0,870.4 1094.0,868.4 1094.2,868.1 1095.0,864.2 1096.0,859.6 1097.0,854.9 1097.2,854.1 1098.0,852.4 1099.0,850.4 1099.2,850.1 1100.0,850.1 1101.0,850.1 1102.0,850.1 1102.2,850.1 1103.0,850.4 1104.0,850.7 1105.0,851.0 1105.2,851.1 1106.0,851.4 1107.0,851.7 1108.0,852.0 1108.2,852.1 1109.0,851.9 1110.0,851.6 1111.0,851.4 1112.0,851.1 1112.2,851.1 1113.0,851.9 1114.0,852.9 1115.0,853.9 1115.2,854.1 1116.0,857.4 1117.0,861.4 1117.2,862.1 1118.0,864.8 1119.0,868.2 1120.0,871.5 1120.2,872.1 1121.0,871.6 1122.0,870.9 1123.0,870.2 1123.2,870.1 1124.0,868.0 1125.0,865.3 1126.0,862.6 1126.2,862.1 1127.0,858.4 1128.0,853.7 1129.0,849.0 1129.2,848.1 1130.0,848.9 1131.0,849.9 1131.2,850.1 1132.0,853.8 1133.0,858.5 1134.0,863.2 1134.2,864.1 1135.0,865.7 1136.0,867.7 1136.2,868.1 1137.0,863.9 1138.0,858.6 1139.0,853.2 1139.2,852.1 1140.0,850.5 1141.0,848.5 1142.0,846.5 1142.2,846.1 1143.0,847.7 1144.0,849.7 1145.0,851.7 1145.2,852.1 1146.0,853.9 1147.0,856.3 1148.0,858.6 1148.2,859.1 1149.0,860.4 1150.0,862.1 1151.0,863.7 1151.2,864.1 1152.0,861.0 1153.0,857.0 1154.0,853.0 1154.2,852.1 1155.0,851.1 1156.0,849.7 1157.0,848.4 1157.2,848.1 1158.0,848.9 1159.0,849.9 1160.0,850.9 1160.1,850.1 1160.2,849.8 1161.0,848.5 1162.0,846.9 1163.0,845.2 1163.1,845.1 1163.2,845.2 1164.0,845.4 1165.0,845.7 1166.0,846.1 1166.1,846.1 1166.2,846.0 1167.0,845.5 1168.0,844.8 1169.0,844.1 1169.1,844.1 1170.0,843.5 1170.0,843.4 1171.0,842.8 1172.0,842.1 1172.1,842.1 1173.0,841.2 1174.0,840.2 1175.0,839.2 1176.0,838.2 1176.1,838.1 1177.0,839.9 1178.0,841.9 1179.0,843.9 1179.1,844.1 1180.0,845.0 1181.0,846.0 1182.0,847.0 1182.1,847.1 1183.0,844.6 1184.0,842.0 1185.0,839.3 1185.1,839.1 1186.0,838.5 1187.0,837.8 1188.0,837.1 1188.1,837.1 1189.0,838.0 1190.0,839.0 1191.0,840.0 1191.1,840.1 1192.0,841.9 1193.0,843.9 1193.1,844.1 1194.0,855.9 1195.0,868.9 1195.1,870.1 1196.0,873.7 1197.0,877.7 1197.1,878.1 1198.0,878.1 1199.0,878.1 1199.1,878.1 1200.0,875.4 1201.0,872.4 1201.1,872.1 1202.0,868.5 1203.0,864.5 1203.1,864.1 1204.0,862.8 1205.0,861.3 1205.1,861.1 1206.0,863.3 1207.0,865.8 1207.1,866.1 1208.0,868.8 1209.0,871.8 1209.1,872.1 1210.0,874.3 1211.0,876.8 1211.1,877.1" fill="none" stroke="rgb(178,24,45)" stroke-width="3.2" stroke-linejoin="round"/>
</g>
<rect x="72.7" y="32.2" width="1138.60" height="411.50" fill="none" stroke="#4a4a4a" stroke-width="1"/>
<line x1="169.67" y1="443.7" x2="169.67" y2="433.7" stroke="#4a4a4a" stroke-width="1"/>
<line x1="169.67" y1="32.2" x2="169.67" y2="42.2" stroke="#4a4a4a" stroke-width="1"/>
<line x1="257.25" y1="443.7" x2="257.25" y2="433.7" stroke="#4a4a4a" stroke-width="1"/>
<line x1="257.25" y1="32.2" x2="257.25" y2="42.2" stroke="#4a4a4a" stroke-width="1"/>
<line x1="354.22" y1="443.7" x2="354.22" y2="433.7" stroke="#4a4a4a" stroke-width="1"/>
<line x1="354.22" y1="32.2" x2="354.22" y2="42.2" stroke="#4a4a4a" stroke-width="1"/>
<line x1="448.06" y1="443.7" x2="448.06" y2="433.7" stroke="#4a4a4a" stroke-width="1"/>
<line x1="448.06" y1="32.2" x2="448.06" y2="42.2" stroke="#4a4a4a" stroke-width="1"/>
<line x1="545.03" y1="443.7" x2="545.03" y2="433.7" stroke="#4a4a4a" stroke-width="1"/>
<line x1="545.03" y1="32.2" x2="545.03" y2="42.2" stroke="#4a4a4a" stroke-width="1"/>
<line x1="638.87" y1="443.7" x2="638.87" y2="433.7" stroke="#4a4a4a" stroke-width="1"/>
<line x1="638.87" y1="32.2" x2="638.87" y2="42.2" stroke="#4a4a4a" stroke-width="1"/>
<line x1="735.84" y1="443.7" x2="735.84" y2="433.7" stroke="#4a4a4a" stroke-width="1"/>
<line x1="735.84" y1="32.2" x2="735.84" y2="42.2" stroke="#4a4a4a" stroke-width="1"/>
<line x1="832.81" y1="443.7" x2="832.81" y2="433.7" stroke="#4a4a4a" stroke-width="1"/>
<line x1="832.81" y1="32.2" x2="832.81" y2="42.2" stroke="#4a4a4a" stroke-width="1"/>
<line x1="926.65" y1="443.7" x2="926.65" y2="433.7" stroke="#4a4a4a" stroke-width="1"/>
<line x1="926.65" y1="32.2" x2="926.65" y2="42.2" stroke="#4a4a4a" stroke-width="1"/>
<line x1="1023.62" y1="443.7" x2="1023.62" y2="433.7" stroke="#4a4a4a" stroke-width="1"/>
<line x1="1023.62" y1="32.2" x2="1023.62" y2="42.2" stroke="#4a4a4a" stroke-width="1"/>
<line x1="1117.46" y1="443.7" x2="1117.46" y2="433.7" stroke="#4a4a4a" stroke-width="1"/>
<line x1="1117.46" y1="32.2" x2="1117.46" y2="42.2" stroke="#4a4a4a" stroke-width="1"/>
<line x1="72.7" y1="403.50" x2="82.7" y2="403.50" stroke="#4a4a4a" stroke-width="1"/>
<line x1="1211.3" y1="403.50" x2="1201.3" y2="403.50" stroke="#4a4a4a" stroke-width="1"/>
<line x1="72.7" y1="324.45" x2="82.7" y2="324.45" stroke="#4a4a4a" stroke-width="1"/>
<line x1="1211.3" y1="324.45" x2="1201.3" y2="324.45" stroke="#4a4a4a" stroke-width="1"/>
<line x1="72.7" y1="245.40" x2="82.7" y2="245.40" stroke="#4a4a4a" stroke-width="1"/>
<line x1="1211.3" y1="245.40" x2="1201.3" y2="245.40" stroke="#4a4a4a" stroke-width="1"/>
<line x1="72.7" y1="166.35" x2="82.7" y2="166.35" stroke="#4a4a4a" stroke-width="1"/>
<line x1="1211.3" y1="166.35" x2="1201.3" y2="166.35" stroke="#4a4a4a" stroke-width="1"/>
<line x1="72.7" y1="87.30" x2="82.7" y2="87.30" stroke="#4a4a4a" stroke-width="1"/>
<line x1="1211.3" y1="87.30" x2="1201.3" y2="87.30" stroke="#4a4a4a" stroke-width="1"/>
<text transform="translate(63.5,413.10) scale(1.06,1)" text-anchor="end" font-size="26.8">3</text>
<text transform="translate(63.5,334.05) scale(1.06,1)" text-anchor="end" font-size="26.8">4</text>
<text transform="translate(63.5,255.00) scale(1.06,1)" text-anchor="end" font-size="26.8">5</text>
<text transform="translate(63.5,175.95) scale(1.06,1)" text-anchor="end" font-size="26.8">6</text>
<text transform="translate(63.5,96.90) scale(1.06,1)" text-anchor="end" font-size="26.8">7</text>
<text transform="translate(72.70,476.60) scale(1.06,1)" text-anchor="middle" font-size="26.8">J</text>
<text transform="translate(169.67,476.60) scale(1.06,1)" text-anchor="middle" font-size="26.8">F</text>
<text transform="translate(257.25,476.60) scale(1.06,1)" text-anchor="middle" font-size="26.8">M</text>
<text transform="translate(354.22,476.60) scale(1.06,1)" text-anchor="middle" font-size="26.8">A</text>
<text transform="translate(448.06,476.60) scale(1.06,1)" text-anchor="middle" font-size="26.8">M</text>
<text transform="translate(545.03,476.60) scale(1.06,1)" text-anchor="middle" font-size="26.8">J</text>
<text transform="translate(638.87,476.60) scale(1.06,1)" text-anchor="middle" font-size="26.8">J</text>
<text transform="translate(735.84,476.60) scale(1.06,1)" text-anchor="middle" font-size="26.8">A</text>
<text transform="translate(832.81,476.60) scale(1.06,1)" text-anchor="middle" font-size="26.8">S</text>
<text transform="translate(926.65,476.60) scale(1.06,1)" text-anchor="middle" font-size="26.8">O</text>
<text transform="translate(1023.62,476.60) scale(1.06,1)" text-anchor="middle" font-size="26.8">N</text>
<text transform="translate(1117.46,476.60) scale(1.06,1)" text-anchor="middle" font-size="26.8">D</text>
<rect x="72.7" y="603.2" width="1138.60" height="410.30" fill="none" stroke="#4a4a4a" stroke-width="1"/>
<line x1="169.67" y1="1013.5" x2="169.67" y2="1003.5" stroke="#4a4a4a" stroke-width="1"/>
<line x1="169.67" y1="603.2" x2="169.67" y2="613.2" stroke="#4a4a4a" stroke-width="1"/>
<line x1="257.25" y1="1013.5" x2="257.25" y2="1003.5" stroke="#4a4a4a" stroke-width="1"/>
<line x1="257.25" y1="603.2" x2="257.25" y2="613.2" stroke="#4a4a4a" stroke-width="1"/>
<line x1="354.22" y1="1013.5" x2="354.22" y2="1003.5" stroke="#4a4a4a" stroke-width="1"/>
<line x1="354.22" y1="603.2" x2="354.22" y2="613.2" stroke="#4a4a4a" stroke-width="1"/>
<line x1="448.06" y1="1013.5" x2="448.06" y2="1003.5" stroke="#4a4a4a" stroke-width="1"/>
<line x1="448.06" y1="603.2" x2="448.06" y2="613.2" stroke="#4a4a4a" stroke-width="1"/>
<line x1="545.03" y1="1013.5" x2="545.03" y2="1003.5" stroke="#4a4a4a" stroke-width="1"/>
<line x1="545.03" y1="603.2" x2="545.03" y2="613.2" stroke="#4a4a4a" stroke-width="1"/>
<line x1="638.87" y1="1013.5" x2="638.87" y2="1003.5" stroke="#4a4a4a" stroke-width="1"/>
<line x1="638.87" y1="603.2" x2="638.87" y2="613.2" stroke="#4a4a4a" stroke-width="1"/>
<line x1="735.84" y1="1013.5" x2="735.84" y2="1003.5" stroke="#4a4a4a" stroke-width="1"/>
<line x1="735.84" y1="603.2" x2="735.84" y2="613.2" stroke="#4a4a4a" stroke-width="1"/>
<line x1="832.81" y1="1013.5" x2="832.81" y2="1003.5" stroke="#4a4a4a" stroke-width="1"/>
<line x1="832.81" y1="603.2" x2="832.81" y2="613.2" stroke="#4a4a4a" stroke-width="1"/>
<line x1="926.65" y1="1013.5" x2="926.65" y2="1003.5" stroke="#4a4a4a" stroke-width="1"/>
<line x1="926.65" y1="603.2" x2="926.65" y2="613.2" stroke="#4a4a4a" stroke-width="1"/>
<line x1="1023.62" y1="1013.5" x2="1023.62" y2="1003.5" stroke="#4a4a4a" stroke-width="1"/>
<line x1="1023.62" y1="603.2" x2="1023.62" y2="613.2" stroke="#4a4a4a" stroke-width="1"/>
<line x1="1117.46" y1="1013.5" x2="1117.46" y2="1003.5" stroke="#4a4a4a" stroke-width="1"/>
<line x1="1117.46" y1="603.2" x2="1117.46" y2="613.2" stroke="#4a4a4a" stroke-width="1"/>
<line x1="72.7" y1="973.40" x2="82.7" y2="973.40" stroke="#4a4a4a" stroke-width="1"/>
<line x1="1211.3" y1="973.40" x2="1201.3" y2="973.40" stroke="#4a4a4a" stroke-width="1"/>
<line x1="72.7" y1="894.60" x2="82.7" y2="894.60" stroke="#4a4a4a" stroke-width="1"/>
<line x1="1211.3" y1="894.60" x2="1201.3" y2="894.60" stroke="#4a4a4a" stroke-width="1"/>
<line x1="72.7" y1="815.80" x2="82.7" y2="815.80" stroke="#4a4a4a" stroke-width="1"/>
<line x1="1211.3" y1="815.80" x2="1201.3" y2="815.80" stroke="#4a4a4a" stroke-width="1"/>
<line x1="72.7" y1="737.00" x2="82.7" y2="737.00" stroke="#4a4a4a" stroke-width="1"/>
<line x1="1211.3" y1="737.00" x2="1201.3" y2="737.00" stroke="#4a4a4a" stroke-width="1"/>
<line x1="72.7" y1="658.20" x2="82.7" y2="658.20" stroke="#4a4a4a" stroke-width="1"/>
<line x1="1211.3" y1="658.20" x2="1201.3" y2="658.20" stroke="#4a4a4a" stroke-width="1"/>
<text transform="translate(63.5,983.00) scale(1.06,1)" text-anchor="end" font-size="26.8">3</text>
<text transform="translate(63.5,904.20) scale(1.06,1)" text-anchor="end" font-size="26.8">4</text>
<text transform="translate(63.5,825.40) scale(1.06,1)" text-anchor="end" font-size="26.8">5</text>
<text transform="translate(63.5,746.60) scale(1.06,1)" text-anchor="end" font-size="26.8">6</text>
<text transform="translate(63.5,667.80) scale(1.06,1)" text-anchor="end" font-size="26.8">7</text>
<text transform="translate(72.70,1047.70) scale(1.06,1)" text-anchor="middle" font-size="26.8">J</text>
<text transform="translate(169.67,1047.70) scale(1.06,1)" text-anchor="middle" font-size="26.8">F</text>
<text transform="translate(257.25,1047.70) scale(1.06,1)" text-anchor="middle" font-size="26.8">M</text>
<text transform="translate(354.22,1047.70) scale(1.06,1)" text-anchor="middle" font-size="26.8">A</text>
<text transform="translate(448.06,1047.70) scale(1.06,1)" text-anchor="middle" font-size="26.8">M</text>
<text transform="translate(545.03,1047.70) scale(1.06,1)" text-anchor="middle" font-size="26.8">J</text>
<text transform="translate(638.87,1047.70) scale(1.06,1)" text-anchor="middle" font-size="26.8">J</text>
<text transform="translate(735.84,1047.70) scale(1.06,1)" text-anchor="middle" font-size="26.8">A</text>
<text transform="translate(832.81,1047.70) scale(1.06,1)" text-anchor="middle" font-size="26.8">S</text>
<text transform="translate(926.65,1047.70) scale(1.06,1)" text-anchor="middle" font-size="26.8">O</text>
<text transform="translate(1023.62,1047.70) scale(1.06,1)" text-anchor="middle" font-size="26.8">N</text>
<text transform="translate(1117.46,1047.70) scale(1.06,1)" text-anchor="middle" font-size="26.8">D</text>
<text transform="translate(30.9,236.7) rotate(-90)" text-anchor="middle" font-size="28.6" letter-spacing="0.8">DMS flux (<tspan font-style="italic">μ</tspan>mol m<tspan dy="-14" font-size="21">-2</tspan><tspan dy="14"> d</tspan><tspan dy="-14" font-size="21">-1</tspan><tspan dy="14">)</tspan></text>
<text transform="translate(30.9,807.3) rotate(-90)" text-anchor="middle" font-size="28.6" letter-spacing="0.8">DMS flux (<tspan font-style="italic">μ</tspan>mol m<tspan dy="-14" font-size="21">-2</tspan><tspan dy="14"> d</tspan><tspan dy="-14" font-size="21">-1</tspan><tspan dy="14">)</tspan></text>
<rect x="890.9" y="45.3" width="306.6" height="96.1" fill="#fff" stroke="#4a4a4a" stroke-width="1"/>
<line x1="896.8" y1="63" x2="942.4" y2="63" stroke="#000" stroke-width="5.5"/>
<line x1="896.8" y1="92.8" x2="942.4" y2="92.8" stroke="#0072bd" stroke-width="5.5"/>
<line x1="896.8" y1="123.2" x2="942.4" y2="123.2" stroke="rgb(178,24,45)" stroke-width="5.5"/>
<text x="946.5" y="71.6" font-size="24" textLength="119.5" lengthAdjust="spacing">2001-2020</text>
<text x="946.5" y="101.6" font-size="24" textLength="244.5" lengthAdjust="spacing">2081-2100 (SSP2-4.5)</text>
<text x="946.5" y="131.8" font-size="24" textLength="244.5" lengthAdjust="spacing">2081-2100 (SSP5-8.5)</text>
</svg>
</body></html>
